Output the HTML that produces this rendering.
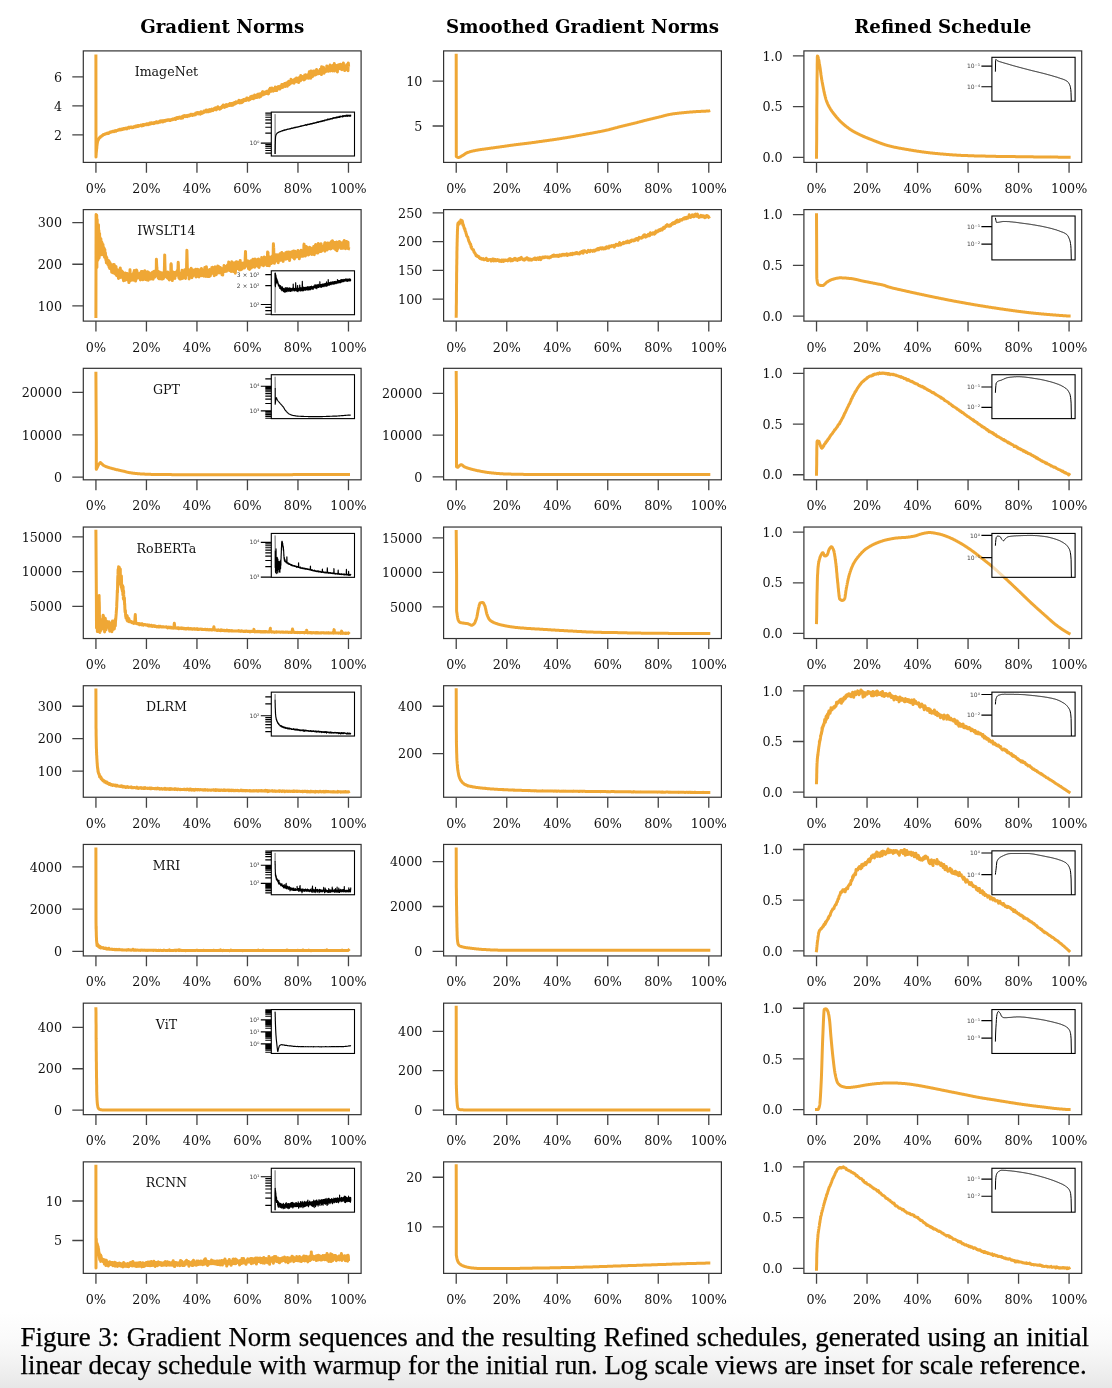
<!DOCTYPE html>
<html><head><meta charset="utf-8"><title>Figure 3</title>
<style>
html,body{margin:0;padding:0;background:#fff;}
body{width:1112px;height:1388px;overflow:hidden;position:relative;}
svg{position:absolute;left:0;top:0;}
.ttl{font-family:"DejaVu Serif",serif;font-weight:bold;font-size:18.2px;text-anchor:middle;fill:#000;}
.xl{font-family:"DejaVu Serif",serif;font-size:12.7px;text-anchor:middle;fill:#111;}
.yl{font-family:"DejaVu Serif",serif;font-size:12.7px;text-anchor:end;fill:#111;}
.nm{font-family:"DejaVu Serif",serif;font-size:12.6px;text-anchor:middle;fill:#111;}
.il{font-family:"DejaVu Sans",sans-serif;font-size:6px;text-anchor:end;fill:#444;}
.cap{position:absolute;left:20.5px;font-family:"Liberation Serif","Times New Roman",serif;font-size:26.9px;line-height:30px;color:#000;white-space:nowrap;-webkit-text-stroke:0.25px #000;}
</style></head><body>
<svg width="1112" height="1388" viewBox="0 0 1112 1388">
<defs><linearGradient id="bg" x1="0" y1="0" x2="0" y2="1"><stop offset="0" stop-color="#fff"/><stop offset="0.37" stop-color="#fafafa"/><stop offset="0.57" stop-color="#f5f5f5"/><stop offset="0.74" stop-color="#f0f0f0"/><stop offset="1" stop-color="#e7e7e7"/></linearGradient></defs>
<rect x="0" y="1312" width="1112" height="76" fill="url(#bg)"/>
<text x="222.20" y="32.7" class="ttl">Gradient Norms</text>
<text x="582.50" y="32.7" class="ttl">Smoothed Gradient Norms</text>
<text x="942.80" y="32.7" class="ttl">Refined Schedule</text>
<g><path d="M95.9 55.9l.1 101.1 0-.6 0-.6 .1-.5 0-.6 .1-.5 0-.6 0-.6 .1-.4 0-.5 .1-.6 0-.4 .1-.5 0-.4 0-.5 .1-.4 .1-.8 .1-.7 0-.3 0-.6 .1-.9 .1-.3 0-.4 .1-.6 0-.3 .1-.4 .1-.5 0-.5 .1-.5 .1-.3 0-.4 .1-.3 .2-.4 .1-.6 .1-.5 .1 .4 .1-.4 .2-.4 .2-.3 .1-.4 .3-.3 .2-.4 .1-.4 .3 0 .3-.4 .3 0 .1-.6 0 .5 .1-.3 .4-.4 .2-.3 .3-.1 .4-.1 .1-.3 .2 .3 .2-.6 .1 .4 .2-.6 .3-.3 .3 .2 .2-.6 .3 .1 .4-.1 .3-.3 .3 .1 .4-.1 .3-.5 .3-.1 .4 .1 .3-.2 .3-.1 .3 .2 .4-.7 .1 .5 .4-.3 .3 .3 .2-.4 .3 .3 .2-.5 .3-.1 .3-.2 .4 0 .3 0 .1-.6 .2 .4 .3-.3 .4 0 .3-.1 .3-.2 .2-.3 .3 .1 .4 .2 .1-.4 .4 .1 .3-.2 .3-.1 .3-.2 .2 .6 .2-.5 .3-.1 .3-.2 .2 .5 .3-.5 .2 .3 .3-.4 .2 .4 .3-.5 .4-.1 .3 0 .3-.3 .3 .2 .2-.4 .3-.2 .4 .2 .3 0 .3-.1 .4-.3 .1-.4 .2 .7 .2-.6 .3 .2 .1 .4 .4-.6 .3 0 .3-.2 .4 .5 .1-.4 .2 .3 .3-.3 .2-.5 .3 .6 .4-.5 .3 .2 .3-.1 .3-.4 .4 .3 .1-.4 .4-.1 .1 .5 .4-.3 .3-.5 .3 .5 .4-.3 .1 .7 .2-.6 .3-.1 .3-.1 .4-.5 .3 .2 .2-.4 .1 .5 .4 .2 .1-.9 .4 .2 .3 .1 .3 .1 .4-.1 .1-.4 .3 .4 .4 .1 .1-.6 .4 .5 .3 .1 .2-.4 .3 .1 .3-.1 .4 .2 .1-.3 .4-.4 .1 .4 .2-.4 .3 .2 .3-.2 .4 .2 .1-.5 .2-.3 .2 .5 .3 0 .2-.3 .1 .4 .4-.6 .1 .5 .2-.5 .3 .3 .4-.6 .1 .5 .3 .1 .2-.3 .2-.5 .3 .5 .3-.2 .4-.1 .3-.3 .3 0 .4 0 .3-.5 .3 .3 .2 .6 .1-.6 .2 .6 .3-.8 .4 .4 .1 .3 .2-.4 .3-.4 .2-.5 .2 .6 .3 .3 .3-.3 .4-.2 .3-.3 .3-.2 .2 .3 .3 0 .3-.1 .4 .2 .1-.6 .4 0 .1-.3 .2 .8 .3-.6 .4 .2 .1-.4 .4 .7 .3-.7 .3 .6 .2-1 .3 0 .2 .4 .3 .2 .2-1.1 .1 .8 .2-.6 .2 .6 .3 .1 .2-.4 .1-.5 .2 .6 .2-.8 .3 .7 .3-.1 .3-.1 .4 0 .3 .2 .2-.4 .1-.3 .2 .8 .2-.5 .3 .3 .2-.6 .1 .4 .2-.7 .2 .7 .1-.6 .4 .3 .1-.4 .3-.3 .4 .5 .1-.3 .4-.5 .1 .5 .4 .4 .1-.9 .2 .5 .2 .3 .1-.5 .4 .4 .3-.4 .3-.4 .3 .1 .2-.4 .2 .4 .1-.4 .2 .4 .3 .3 .2-1.1 .2 .6 .3-.2 .3 0 .2-.7 .2 .9 .3-.1 .3-.6 .4 .5 .3-.2 .1-.6 .2 1.3 .2-1 .1 .5 .2-.7 .2 .6 .1-.4 .2 .4 .3-.9 .4 .3 .3 .4 .2-.5 .3-.1 .3 .2 .2-.4 .3-.4 .3 .4 .4 0 .3 .1 .2-.3 .3-.4 .3 0 .4 .3 .3-.3 .3 0 .4 .6 .1-.4 .2 .3 .3-.4 .2 .6 .1-.8 .4 0 .3 0 .3-.1 .4-.1 .1 .4 .2-.5 .3-.2 .4-.2 .1 .7 .2-.7 .3 0 .3 .4 .4-.7 .3 0 .2 .6 .1-.8 .4-.2 .1 .3 .2 .8 .2-1 .3 1 .2-1.1 .1 .6 .3-.4 .2-.8 .2 .6 .3-.8 .3 .7 .4 .3 .3-.8 .3 0 .4 .3 .1-.4 .2-.4 .3-.2 .4 .6 .1-.4 .2 .5 .1 .4 .2-.8 .2 .3 .3 .5 .2-.6 .3 .1 .2 .5 .1-.7 .2-.6 .3 .4 .2-.3 .2-.4 .1 1.5 .2-1.2 .2-.3 .3-.6 .3 .5 .3-.4 .2 .6 .2-.4 .1-.3 .2-.3 .2 .8 .3-.1 .2-.3 .1 .5 .2-.7 .2 .8 .1-.4 .4-.5 .3 .7 .3-.6 .2 .4 .1 .4 .2-1 .3 .1 .2 .3 .2-.7 .1 .5 .2-.6 .2 .8 .3-.5 .3-.3 .4 .6 .1-.4 .4-.5 .1 .6 .3-.8 .2-.4 .3 .7 .4-.7 .1 .6 .2 .3 .2-.5 .3 .4 .2 .3 .3-1 .2 .6 .1-.3 .4-.1 .1 .3 .2-.3 .1 .5 .2-.3 .3-.7 .2 .4 .3-.1 .4-.5 .1 .9 .4-.6 .1-1.3 .2 .6 .2 .4 .1-.4 .2-.8 .2 1 .3-.5 .3 0 .2 .5 .1-1.2 .4 .5 .3 .9 .2-1.1 .3-.1 .3 .5 .2 .6 .2-1 .1 .6 .4 0 .3 .7 .2-1.7 .1 .3 .2-.5 .1-.5 .2 .8 .2 .8 .3-.3 .2-.3 .1-.3 .2 1 .2-1.1 .1 .8 .2-1 .3 0 .4 .1 .3 .4 .2-.8 .1-.9 .3 .2 .4 .8 .1-1 .2 .7 .3 0 .4 0 .3 .2 .2-.4 .1-1.3 .2 1.1 .3-.3 .4 .7 .1-.5 .2-.5 .2 .3 .3-.7 .1 1.2 .2-.5 .2 .3 .1-1.1 .2 1.6 .2-.7 .3-.8 .3-.5 .2 1.4 .2-1.1 .1 .5 .4-.6 .1 .8 .2 .5 .2-1 .1 .5 .2-.6 .1-.5 .4-.6 .1 .9 .2 .6 .3-.3 .4-.7 .1 .4 .2 .7 .2-1.4 .1 .4 .2-.3 .3-.4 .4-.5 .1 .3 .3-.3 .2 1 .2-.7 .3-.2 .2 .8 .1-1.5 .2 1 .2 .7 .1 .4 .2-.8 .3 .2 .2-.5 .3-.5 .2 .5 .2-.6 .1-.6 .2-.9 .2 1.7 .1-.3 .3-.7 .2 1.1 .3-.5 .2 .5 .3-.2 .2 .9 .2-.4 .1-.7 .4-.1 .1 .8 .2-.8 .2-.8 .3 .4 .2 .4 .1-1 .2 .5 .3 0 .2-1.4 .1 .7 .2-.6 .2 .9 .1-.9 .2 .8 .2-.4 .1-1.5 .2 .9 .2 .6 .3-.4 .2-.5 .1 .9 .2 .8 .2-.8 .3-.3 .2-.8 .1 .5 .3 .8 .2-1.4 .2-.7 .1 .8 .2 .4 .3-1.1 .2 1.8 .2-.6 .1-.4 .4 .3 .1-.5 .4-.2 .3 .5 .2-.6 .1-.7 .2 1.1 .1-.5 .2-.4 .2 .9 .1-.8 .2 .8 .2-1.3 .1-.7 .4 1.5 .1-.7 .2 .5 .3-1.1 .2 1.7 .2-1.6 .1 .6 .2-1 .2 .7 .1 .4 .2-.6 .1-.3 .2 .4 .2-.3 .1 .6 .2 .9 .2-2 .3 .5 .3-.8 .2 .9 .3-.3 .2-.9 .2 1.6 .1-1.6 .2 1.1 .3-1.4 .2 .8 .2 .6 .1-.7 .2-.9 .1-.3 .2 .9 .2-.6 .3 .7 .2-.7 .3 .6 .3-.3 .4 .3 .3-1.3 .2 .5 .1-.6 .2-.4 .2 .4 .1-1.1 .2 2 .1-1 .2 .8 .2-1.5 .3 2.5 .2-.8 .1-.9 .4-.3 .1 .6 .2-.4 .3 .1 .2-.7 .2 2.1 .1-2.1 .2 1.1 .2-1.4 .1 .8 .2 .4 .2-1 .1 .8 .3 .3 .2-1.1 .2-.5 .1-.4 .2 .8 .2-.8 .1 .8 .4-.5 .1-.4 .2 1 .3-.3 .4 .3 .1-1.4 .2 1 .2-.6 .1 .9 .2-1.1 .3 .3 .2-1.7 .1 1.2 .2-1.1 .2 .5 .1 1 .4-.8 .3 0 .3 1.1 .2-1.2 .2 1.6 .1-2 .2 .7 .3-.4 .2-.4 .1 1.4 .4-.7 .1 .7 .2-.8 .2-2 .1 1.9 .2-1.3 .2 1.4 .1-1.2 .2 .3 .3-.6 .2-1 .2 1.1 .3 .8 .2-1.2 .1 .8 .2-.9 .2 .6 .1-1.3 .2 2.7 .1-1.5 .2-1.1 .2 .9 .3-.2 .2 .9 .1-1.2 .2-1.7 .2 1.2 .1 1.7 .4-.5 .1-1.1 .2 1.3 .3-1.6 .4 .7 .1 .4 .3-.7 .2 1.1 .2-2.3 .1 1.1 .2-.9 .2-1 .1 .6 .2 1.6 .2-1.5 .3 1.2 .3-.6 .2 1 .2-2.5 .1 3.1 .2-1 .2-.9 .3-.6 .3 .2 .2-1.2 .1 2.8 .2-1.9 .2 .6 .1-.7 .4 .8 .3-1.6 .3 1 .2-2.3 .2-.5 .1 3.2 .2-1.5 .2-1.8 .1 1.5 .2 .4 .3 .6 .3-.2 .2-1.2 .2 .9 .3 .3 .2-1.1 .1 .7 .2-.6 .2-1 .1 .6 .4-.1 .3 .3 .3-1.1 .2 1.6 .2-2.1 .1 1.1 .2 .7 .3 0 .2-.7 .1 .6 .2-1.9 .2 1.7 .1 1.1 .2-1.5 .2 1.2 .1-1.9 .2-1.3 .2 .3 .1 1.7 .2-.8 .2-2.4 .1 1.3 .4-1 .1-1.2 .2 .9 .2 1 .3-.3 .1 .9 .2 .5 .2-1 .1 .8 .2-.9 .3-2.3 .2 2.7 .2-.6 .3-.9 .2-.5 .1 1.4 .2 .4 .2 .7 .1-.7 .2-1.4 .2 .6 .1 .8 .2-.8 .1-.5 .2-.6 .2 .9 .1-.3 .2 1.4 .2-.7 .1-2.7 .2 3.5 .2-1.6 .1-.5 .2 .6 .2 .5 .1-.8 .4-.1 .1 1.8 .2-1.8 .2 .4 .1-.4 .2-.9 .1-.6 .2-.4 .2 1.4 .1-1.5 .4-.2 .3 1.2 .3-.9 .2 2.1 .2-1.6 .1 .7 .2-.3 .2 1.2 .1-1 .2-.8 .2-1.1 .3 .6 .3 .8 .2-1.4 .1 .6 .2-1 .2-1.2 .1 1.8 .2 1.4 .2-.8 .1 .4 .4-2.8 .1 1.1 .2 1.7 .2-2.3 .1-.7 .2 1.4 .2 .3 .1-.3 .2-.9 .2-.5 .1-.6 .3-.1 .4 .8 .1 2.1 .2-1.3 .2-.5 .1 .8 .2-1.3 .2 1.2 .1 .4 .2-2.8 .2 .7 .3-.6 .3 .3 .2 2.9 .2-1.9 .3 .4 .1-1.3 .2-1.1 .2 1.7 .1 .8 .2-3.5 .2 2.7 .1 .8 .2-1.8 .3 1.2 .2-1.7 .2 1.4 .3-1 .2-.9 .1 1.5 .2-1.4 .2 .3 .1-3.2 .2 3.7 .2-2.2 .1 1.4 .3-.8 .4-.5 .1 1 .2 1 .3-1.6 .4-.9 .1 1 .2-.8 .2-.5 .1 1.4 .2 1.8 .2-.3 .3-3.5 .2 2.5 .1-2.4 .2 .7 .1-1.3 .2 .8 .2 1 .3-.5 .3 .6 .2-.7 .2-2.1 .1 3.7 .2-2.4 .2 1.6 .1-1.2 .2-.9 .2 .9 .1-.9 .2 2.5 .2-3 .1 2 .2-1.5 .2 .5 .1 3.3 .2-2.1 .1-1.2 .2-1.5 .2 1.4 .3 1.8 .2-3.5 .1-.4 .2 2.1 .3 1.6 .2-3 .2-2.4 .1 2.3 .2-1 .2 .8 .1 1.7 .2-3 .2 3 .1-1.2 .2-.6 .1-.8 .2 .5 .3 1.4 .2 .7 .2-1.8 .1 .8 .2 .9 .3-1 .2 1.8 .2-.6 .1 .3 .2-2.2 .2-.3 .1-2.1 .2 4.2 .2-1.1 .1-2.1 .2 1.2 .3-2.5 .2 2.6 .1 .9 .4-1.8 .3 1.7 .2-.5 .1-2 .4 1.3 .1-1.8 .4 2.8 .1-1.7 .2-1 .2 1.1 .1 2 .2-2.5 .2-1.4 .1-1.2 .2 4.8 .1-6.3 .2 4.5 .2-2.6 .3-.1 .2 1.2 .1 1.7 .2-2.3 .2 1.8 .1 2.4 .2-7.3 .2 2.8 .1-1.5 .2 3.2 .2-3.3 .3-.3 .2 1.8 .1 1.7 .2-1.6 .1 2.7 .2-.5 .2-2.5 .1 1.3 .2-1 .3-2.8 .2 .9 .2 1.7 .1-1.7 .2 2.8 .2-.8 .1-1.7 .2 2.9 .2-1.5 .1 1.4 .2-2.1 .2-2.1 .1 3.1 .2-1.3 .2 1.5 .3 .2 .1-3.6 .2-1.3 .2 2.5 .1 1.7 .2-1.8 .2 1.1 .1-1.6 .2 .7 .3-.8 .2 1.5 .2-.4 .1 1.5 .2-1.6 .2 1.2 .1-1.6 .2 1 .2-1.6 .1-.4 .2 2.7 .1-.8 .4-2.2 .1-1.2 .2 1.3 .2 1.6 .1-2.7 .2 4 .2-4.4 .1 2.9 .2 2.6 .2-7.9 .1 1.4 .2 3.8 .2-1.4 .1 .5 .2-.3 .2 2 .1-.7 .2-1.8 .1 .4 .2-1.6 .2 1.6 .1-3.4 .2 4.4 .2-1.3 .1 3 .2-.7 .2-3.9 .1 3.2 .2-2.4 .2 .7 .1 1.2 .2-.9 .2 .3 .3-1.9 .3 1.9 .2 .6 .2-1.7 .1 .5 .2-1.8 .1-2.5 .2 2.6 .2 1.3 .3 1.3 .3 .1 .2-1 .3-1.6 .2 1.7 .3 .9 .2-4.4 .2 1.5 .1-1.8 .2 1.4 .2-1.1 .1 2.5 .2-1.4 .1-2.8 .2 5.9 .2-3.4 .1-.9 .2 1.7 .2-.5 .1-.9 .2 2.8 .2-1.8 .1 1.9 .2-.4 .3-.8 .2-.4 .2-.3 .1 3 .2-5.4 .2 1.2 .1 .6 .2 1.7 .1-.5 .2-1.2 .3 3.1 .2-3.7 .2-3.4 .1 7.7 .2-4.5 .2 .9 .1 .9 .2-2.5 .2 4 .1-2.1 .2-2.1 .2 2.6 .1 .3 .2-.7 .2 .6 .1-3.1 .2 3.9 .2-2.9 .1 3.5 .2-3.2 .1 1.4 .2 3.8 .2-4 .1 1.6 .2-1 .2-3.4 .1 4.1 .4-4.3 .1 2.1 .2-2.3 .2 2.1 .1 1.7 .2-1.2 .2-2.1 .1 .6 .2 1.7 .3 0 .2 .8 .1-4.1 .2 2.9 .2 1.9 .1-1.3 .2-2.2 .3 1.4 .2 .9 .2-1.1 .1 3 .2-.8 .2-3.5 .1 2.1 .2-1.5 .2-1.4 .1 .8 .2 1.1 .2-3.4 .1 2.5 .2 1.8 .2-1.6 .1 .5 .2 2.1 .1-1.2 .2 .5 .2 2.9 .1-3.1 .4 .2 .1 2.1 .2-2 .2-.7 .3 1.8 .2-3.1 .1 3 .2-1.4 .2-2.6 .1 3.3 .2-.4 .2-2.5 .1 2.5 .3-1 .2-1.5 .2 5.5 .1-4.8 .2-2.9 .2 2.2" fill="none" stroke="#efa735" stroke-width="3" stroke-linejoin="round" stroke-linecap="square"/>
<rect x="271.30" y="112.10" width="83.2" height="43.9" fill="#fff" fill-opacity="0.62"/>
<path d="M275.08 114.10L275.09 154.00" stroke="#555" stroke-width="0.9" fill="none"/>
<path d="M275.1 154.0l0-1.2 0-1 0-1 0-.9 .1-.8 0-.9 0-.9 0-.5 0-.6 0-.7 0-.5 0-.6 .1-.4 0-.5 0-.4 0-.7 0-.3 0-.4 0-.3 .1-.5 0-.3 0-.5 0-.2 0-.3 0-.5 0-.2 .1-.4 0-.2 0-.4 0-.4 .1-.4 0-.3 0-.4 .1-.4 .1-.4 .1-.3 .1-.3 .1-.3 .2-.3 .1-.3 .2-.2 .2-.3 .3-.4 .3-.2 .3-.1 .2-.3 .3-.1 .3-.3 .3 .1 .3-.1 .3-.4 .3-.1 .3-.1 .3-.1 .3 .1 .1-.3 .3 .1 .3-.3 .3-.1 .3-.1 .3-.2 .3 .1 .3-.3 .2 .3 .1-.5 .1 .3 .3-.2 .3-.1 .3-.2 .3 .3 0-.3 .3-.2 .3 .2 .1-.4 .3 .2 .3 0 .2 0 .3-.2 .3-.2 .3 .1 .1-.3 .3 .2 .3-.1 .3-.3 .3 .1 .3-.1 .3-.1 .3 .2 .2-.3 .3 0 .3-.2 .3 .1 .2-.3 0 .3 .3-.3 .1 .2 .1-.2 .3 0 .1-.3 .1 .3 .3-.4 .3 .2 .3 0 .1-.2 0 .3 .2-.3 .3 0 .3-.2 .3-.1 .1 .3 .1-.3 .3 0 .3 0 .1-.3 .3-.1 0 .3 .3-.1 .2-.3 0 .5 .1-.3 .3 0 0-.2 .3 0 .3-.2 .3 .2 .3-.2 .3 0 .3 .2 .1-.3 .3 0 .3-.1 .3-.1 .3-.1 .3 .2 0-.3 .1 .3 0-.3 .3-.1 .3 0 .3-.2 .3-.1 .1 .3 .1-.3 .1 .3 .3-.4 .3 .4 0-.4 .2-.3 .3 .1 .3 0 .3-.1 .3 .2 0-.3 .3-.1 .3 0 .3 .1 .1-.3 .3 .2 .3-.2 .3 0 .3 0 .3-.1 0-.4 .1 .3 .1-.3 .1 .3 .3-.3 .2 .3 0-.3 .3 .3 0-.3 .3 .4 0-.5 .3 .2 .3 0 .1-.3 .3 .2 .1-.5 .2 .3 0-.3 .3 .1 .1-.3 .1 .3 .3-.2 .3 .2 0-.3 .1 .4 .1-.4 .2 .3 0-.3 .3 .3 0-.3 .3-.3 .1 .4 .2-.3 .1 .3 0-.4 .3-.2 .2 .3 .3-.4 0 .2 .1 .3 .2-.3 .3-.3 .3 .3 .3 .1 .1-.2 .2-.3 .3 .1 .1-.4 .3 .2 0-.4 .1 .4 .3 0 .2-.3 .1 .3 .1-.3 .3 .3 .1-.3 .3 0 .1-.3 .1 .3 .3-.3 .3 .1 .2-.3 .1 .2 .3 .2 .1-.5 .3 .2 .1-.3 0 .4 .1-.4 0 .3 .1-.4 .1 .3 .1-.3 .3 0 .3 .1 .1-.3 .2-.3 .1 .5 .1-.4 .1 .6 .1-.4 .3 0 .1 .3 .1-.5 0 .3 .1-.4 .1 .3 .3-.3 .3 0 .3 .1 0-.3 .2 .3 .1-.3 .1-.3 0 .3 .3-.1 .3 .3 0-.4 .3 .3 .2-.6 0 .4 .1-.3 0 .3 .1-.3 .2-.2 .1 .4 .1-.3 .2 .4 .1-.3 .3-.2 0-.3 .1 .2 0 .4 .2-.3 0 .2 .1-.3 .2 .2 .2-.4 0 .3 .1-.4 .1 .4 .1-.3 .1 .3 .2-.5 0 .7 .1-.4 .3-.4 0 .6 .1-.4 .3-.2 .1-.2 .1 .5 .1-.3 0-.4 .1 .4 .3-.1 .2 0 .3 0 .2-.4 .1 .4 .3-.4 0 .3 .3-.4 .1 .4 .1-.7 0 .3 .2-.4 .1 .3 .3 .2 .1-.6 .1 .5 .1-.3 .2 .3 .1-.3 .1 .3 .2-.4 .1 .4 .1-.7 .1 .7 0-.3 .3-.1 .1 .4 0-.4 .2-.3 .3-.1 .1 .2 .2 0 .2-.3 .2 .3 .1-.3 .1-.3 .1 .4 0 .2 .2-.6 .1 .5 .1-.4 .3-.1 .3 .4 .1-.3 .2-.3 .3 .6 .1-.4 .2-.3 0 .3 .1-.5 .1 .5 .2-.3 .1 .3 .1-.4 .1 .3 0-.3 .1-.5 .1 .7 0-.4 .1 .2 .2-.2 .1 .3 .1-.2 .3 0 0 .3 .2-.7 0 .5 0-.4 .3 .1 .2-.4 .1 .6 0-.4 .1 .3 .1-.4 .1 .5 .1-.5 0 .3 .1-.3 .1 .7 0-.4 .1-.4 .2 .5 0-.6 .1 .3 .1 .3 .1-.5 0-.4 .1 .3 .1 .3 .1-.5 0 .5 .1-.3 .3 .3 0-.3 .1 .3 .3-.3 .1-.4 .1 .7 .1-.5 .2 .3 .1-.3 .1 .3 .1-.4 .3 .4 0-.3 .2 .4 0-.5 .1-.4 .1 .8 0-1 0 .7 .1-.4 .2 .4 0-.3 .1 .3 0 .4 .1-1.2 0 .4 .1 .3 .1-.5 .2 .5 0-.3 .1 .5 .1-.5 .2-.4 .1 .4 0-.3 .1 .5 .1-.4 0 .4 .2-.3 0-.4 .1 .5 .2-.5 .2 .5 0-.3 .3 .1 .3 .1 .1-.3 .1 .4 .1-.5 .2 .3 0-.5 .1 .7 0-.7 .1 .4 0 .5 .1-1.3 .1 .8 .3-.3 .2-.4 0 .7 .1 .2 .1-.7 0 .5 .1-.4 .1 .3 .2-.4 .1 .3 .2-.3 0-.4 .1 .4 .1 .4 .3-.4 0 .3 .2-.6 .2 .4 .1-.6 .1 .9 0-.6 .3 .4 0-.3 .1 .3 .2-.3 .1 .5 0-.8 .1 .2 .1 .3 .1-.3 .1 .5 0-.6 .1-.5 0 1.2 .1-.7 .1 .3 0-.4 .1 .6 0-.3 .1-.3 0 .4 .2-.5 .1 .6 0-.4 .1 .5 0-.5 .1 .8 .1-.6 .1-.4 .1 .6 .1-.7 0 .4 .1-.4 0 .3 0 .3 .1-.5 .1 .3 .2-.4 .1 .4 0 .3 .1-.6 .2 .4 .1 .3 .1-.7 0 .3 .1-.4 .1 .3 .1-.5 0 .4 .1 .2 .3 .5 0-.5 .2 .4 0-.3 .2-.3 .1 .4 .1-.6 0 .5 .1-.4 .1 .4 .1-.4 .1 .8 0-.7 .1-.4 0 .3" fill="none" stroke="#000" stroke-width="1.15" stroke-linejoin="round"/>
<text x="259.50" y="145.21" class="il">10⁰</text>
<path d="M265.30 153.13H271.30M265.30 150.49H271.30M265.30 148.26H271.30M265.30 146.33H271.30M265.30 144.63H271.30M260.80 143.11H271.30M265.30 133.09H271.30M265.30 127.23H271.30M265.30 123.07H271.30M265.30 119.84H271.30M265.30 117.21H271.30M265.30 114.98H271.30M265.30 113.05H271.30" stroke="#000" stroke-width="1.15"/>
<rect x="271.30" y="112.10" width="83.2" height="43.9" fill="none" stroke="#000" stroke-width="1.1"/>
<text x="166.44" y="76.40" class="nm">ImageNet</text>
<rect x="83.30" y="50.90" width="277.8" height="111.5" fill="none" stroke="#333" stroke-width="1.2"/>
<text x="95.93" y="192.80" class="xl">0%</text>
<text x="146.44" y="192.80" class="xl">20%</text>
<text x="196.95" y="192.80" class="xl">40%</text>
<text x="247.45" y="192.80" class="xl">60%</text>
<text x="297.96" y="192.80" class="xl">80%</text>
<text x="348.47" y="192.80" class="xl">100%</text>
<text x="62.00" y="139.50" class="yl">2</text>
<text x="62.00" y="110.50" class="yl">4</text>
<text x="62.00" y="81.50" class="yl">6</text>
<path d="M95.93 162.40V172.80M146.44 162.40V172.80M196.95 162.40V172.80M247.45 162.40V172.80M297.96 162.40V172.80M348.47 162.40V172.80M72.30 134.80H83.30M72.30 105.80H83.30M72.30 76.80H83.30" stroke="#444" stroke-width="1.3"/></g>
<g><path d="M456.2 55.2l.1 101.3 .3 .2 .3 .3 .4 .2 .3 .1 .3 .1 .4 .1 .3 0 .3-.1 .4-.1 .3-.1 .4-.2 .3-.1 .3-.2 .4-.2 .3-.3 .4-.2 .4-.2 .4-.3 .5-.2 .4-.3 .4-.2 .4-.3 .4-.3 .4-.3 .4-.2 .4-.3 .5-.2 .4-.3 .4-.2 .4-.1 .4-.2 .4-.1 .4-.2 .5-.1 .4-.1 .4-.2 .4-.1 .4-.1 .4-.1 .4-.1 .4-.1 .5-.1 .4-.1 .4-.1 .4-.1 .4-.1 .4 0 .4-.1 .4-.1 .5-.1 .4-.1 .4 0 .4-.1 .4-.1 .4-.1 .4 0 .5-.1 .4-.1 .4 0 .4-.1 .4-.1 .4 0 .4-.1 .4 0 .5-.1 .4-.1 .4 0 .4-.1 .4 0 .4-.1 .4 0 .5-.1 .4-.1 .4 0 .4-.1 .4 0 .4-.1 .4 0 .4-.1 .5 0 .4-.1 .4-.1 .4 0 .4-.1 .4 0 .4-.1 .4-.1 .5 0 .4-.1 .4 0 .4-.1 .4 0 .4-.1 .4-.1 .5 0 .4-.1 .4 0 .4-.1 .4-.1 .4 0 .4-.1 .4 0 .5-.1 .4 0 .4-.1 .4-.1 .4 0 .4-.1 .4 0 .5-.1 .4 0 .4-.1 .4-.1 .4 0 .4-.1 .4 0 .4-.1 .5 0 .4-.1 .4-.1 .4 0 .4-.1 .4 0 .4-.1 .4-.1 .5 0 .4-.1 .4 0 .4-.1 .4-.1 .4 0 .4-.1 .5 0 .4-.1 .4-.1 .4 0 .4-.1 .4 0 .4-.1 .4 0 .5-.1 .4-.1 .4 0 .4-.1 .4 0 .4-.1 .4 0 .5-.1 .4 0 .4-.1 .4 0 .4-.1 .4 0 .4-.1 .4 0 .5-.1 .4 0 .4-.1 .4 0 .4-.1 .4 0 .4-.1 .4 0 .5-.1 .4 0 .4-.1 .4 0 .4-.1 .4 0 .4-.1 .5 0 .4-.1 .4 0 .4-.1 .4 0 .4-.1 .4 0 .4-.1 .5 0 .4-.1 .4 0 .4-.1 .4 0 .4-.1 .4 0 .4-.1 .5-.1 .4 0 .4-.1 .4 0 .4-.1 .4 0 .4-.1 .5-.1 .4 0 .4-.1 .4 0 .4-.1 .4-.1 .4 0 .4-.1 .5 0 .4-.1 .4-.1 .4 0 .4-.1 .4 0 .4-.1 .5 0 .4-.1 .4-.1 .4 0 .4-.1 .4 0 .4-.1 .4-.1 .5 0 .4-.1 .4 0 .4-.1 .4 0 .4-.1 .4-.1 .4 0 .5-.1 .4 0 .4-.1 .4 0 .4-.1 .4-.1 .4 0 .5-.1 .4 0 .4-.1 .4 0 .4-.1 .4-.1 .4 0 .4-.1 .5 0 .4-.1 .4-.1 .4 0 .4-.1 .4 0 .4-.1 .5-.1 .4 0 .4-.1 .4-.1 .4 0 .4-.1 .4-.1 .4 0 .5-.1 .4-.1 .4 0 .4-.1 .4-.1 .4 0 .4-.1 .4-.1 .5 0 .4-.1 .4-.1 .4 0 .4-.1 .4-.1 .4 0 .5-.1 .4-.1 .4 0 .4-.1 .4-.1 .4 0 .4-.1 .4-.1 .5-.1 .4 0 .4-.1 .4-.1 .4-.1 .4 0 .4-.1 .5-.1 .4 0 .4-.1 .4-.1 .4-.1 .4 0 .4-.1 .4-.1 .5-.1 .4-.1 .4 0 .4-.1 .4-.1 .4-.1 .4 0 .4-.1 .5-.1 .4-.1 .4 0 .4-.1 .4-.1 .4-.1 .4 0 .5-.1 .4-.1 .4-.1 .4 0 .4-.1 .4-.1 .4 0 .4-.1 .5-.1 .4-.1 .4 0 .4-.1 .4-.1 .4-.1 .4 0 .4-.1 .5-.1 .4-.1 .4 0 .4-.1 .4-.1 .4-.1 .4 0 .5-.1 .4-.1 .4-.1 .4 0 .4-.1 .4-.1 .4-.1 .4 0 .5-.1 .4-.1 .4-.1 .4-.1 .4 0 .4-.1 .4-.1 .5-.1 .4-.1 .4 0 .4-.1 .4-.1 .4-.1 .4-.1 .4 0 .5-.1 .4-.1 .4-.1 .4-.1 .4-.1 .4 0 .4-.1 .4-.1 .5-.1 .4-.1 .4-.1 .4-.1 .4-.1 .4-.1 .4 0 .5-.1 .4-.1 .4-.1 .4-.1 .4-.1 .4-.1 .4-.2 .4-.1 .5-.1 .4-.1 .4-.1 .4-.1 .4-.1 .4-.1 .4-.1 .5-.1 .4-.2 .4-.1 .4-.1 .4-.1 .4-.1 .4-.1 .4-.1 .5-.1 .4-.1 .4-.2 .4-.1 .4-.1 .4-.1 .4-.1 .4-.1 .5-.1 .4-.1 .4-.1 .4-.1 .4-.1 .4-.1 .4-.1 .5-.1 .4-.1 .4-.1 .4-.1 .4-.1 .4-.1 .4-.1 .4-.1 .5-.1 .4-.1 .4-.1 .4-.1 .4-.1 .4-.1 .4-.1 .5-.1 .4-.1 .4-.1 .4-.1 .4-.1 .4-.1 .4-.1 .4-.1 .5-.1 .4-.1 .4-.1 .4-.1 .4-.1 .4-.1 .4-.1 .4-.1 .5-.1 .4-.1 .4-.1 .4-.1 .4-.1 .4-.2 .4-.1 .5-.1 .4-.1 .4-.1 .4-.1 .4-.1 .4-.1 .4-.1 .4-.1 .5-.1 .4-.1 .4-.2 .4-.1 .4-.1 .4-.1 .4-.1 .4-.1 .5-.1 .4-.1 .4-.1 .4-.1 .4-.1 .4-.1 .4-.1 .5-.1 .4-.1 .4-.1 .4-.1 .4-.1 .4-.1 .4-.1 .4-.1 .5-.1 .4-.1 .4-.1 .4-.1 .4-.1 .4-.1 .4-.1 .5-.1 .4-.1 .4-.1 .4-.1 .4-.1 .4-.1 .4-.1 .4-.1 .5-.1 .4-.1 .4-.1 .4-.1 .4-.1 .4-.1 .4-.1 .4-.1 .5-.1 .4-.1 .4-.1 .4-.1 .4-.1 .4-.1 .4-.2 .5-.1 .4-.1 .4-.1 .4-.1 .4-.1 .4-.1 .4-.1 .4-.1 .5-.1 .4-.1 .4-.1 .4-.1 .4-.1 .4 0 .4-.1 .5-.1 .4-.1 .4 0 .4-.1 .4-.1 .4 0 .4-.1 .4-.1 .5 0 .4-.1 .4 0 .4-.1 .4 0 .4-.1 .4 0 .4-.1 .5 0 .4-.1 .4 0 .4-.1 .4 0 .4-.1 .4 0 .5-.1 .4 0 .4-.1 .4 0 .4 0 .4-.1 .4 0 .4-.1 .5 0 .4 0 .4-.1 .4 0 .4-.1 .4 0 .4 0 .5-.1 .4 0 .4-.1 .4 0 .4 0 .4-.1 .4 0 .4 0 .5-.1 .4 0 .4 0 .4-.1 .4 0 .4 0 .4-.1 .4 0 .5 0 .4-.1 .4 0 .4 0 .4-.1 .4 0 .4 0 .5 0 .4-.1 .4 0 .4 0 .4 0 .4-.1 .4 0 .4 0 .5 0 .4-.1 .4 0 .4 0 .4 0 .4 0 .4-.1 .4 0 .5 0 .4 0 .4 0 .4-.1 .4 0 .4 0 .4 0 .5 0 .4 0 .4-.1 .4 0 .4 0 .4 0 .4 0 .4 0 .5 0 .4-.1" fill="none" stroke="#efa735" stroke-width="3" stroke-linejoin="round" stroke-linecap="square"/>
<rect x="443.60" y="50.90" width="277.8" height="111.5" fill="none" stroke="#333" stroke-width="1.2"/>
<text x="456.23" y="192.80" class="xl">0%</text>
<text x="506.74" y="192.80" class="xl">20%</text>
<text x="557.25" y="192.80" class="xl">40%</text>
<text x="607.75" y="192.80" class="xl">60%</text>
<text x="658.26" y="192.80" class="xl">80%</text>
<text x="708.77" y="192.80" class="xl">100%</text>
<text x="422.30" y="130.69" class="yl">5</text>
<text x="422.30" y="85.89" class="yl">10</text>
<path d="M456.23 162.40V172.80M506.74 162.40V172.80M557.25 162.40V172.80M607.75 162.40V172.80M658.26 162.40V172.80M708.77 162.40V172.80M432.60 125.99H443.60M432.60 81.19H443.60" stroke="#444" stroke-width="1.3"/></g>
<g><path d="M816.5 157.3l.1-9.2 .1-9.6 0-9.6 .1-9.6 0-9.5 .1-9.1 .1-8.7 0-8.1 .1-7.4 .1-6.4 0-5.4 .1-4.2 0-3 .1-1.4 .3 .1 .2 .4 .1 .4 .2 .5 .1 .5 .1 .5 .1 .6 .1 .4 .1 .3 0 .3 .1 .4 .1 .3 0 .4 .1 .3 .1 .4 0 .4 .1 .3 0 .4 .1 .4 .1 .3 0 .4 .1 .4 .1 .3 0 .4 .1 .4 0 .3 .1 .3 .1 .4 0 .4 .1 .4 .1 .4 0 .4 .1 .4 .1 .5 0 .5 .1 .4 0 .5 .1 .5 .1 .5 0 .4 .1 .5 .1 .5 0 .5 .1 .5 0 .5 .1 .5 .1 .4 0 .5 .1 .4 .1 .5 0 .4 .1 .4 .1 .4 0 .4 .1 .4 0 .3 .1 .4 .1 .3 0 .4 .1 .3 .1 .4 0 .3 .1 .4 0 .3 .1 .4 .1 .3 0 .4 .1 .3 .1 .3 0 .4 .1 .3 .1 .4 0 .3 .1 .3 0 .4 .1 .3 .1 .3 0 .4 .1 .3 .1 .3 0 .3 .1 .3 0 .4 .1 .3 .1 .3 0 .3 .1 .3 .1 .3 0 .3 .1 .4 .1 .3 0 .3 .1 .6 .2 .5 .1 .6 .1 .6 .1 .5 .2 .6 .1 .5 .1 .6 .2 .5 .1 .5 .1 .5 .1 .4 .2 .5 .1 .5 .1 .4 .1 .4 .2 .5 .1 .4 .1 .3 .1 .4 .2 .4 .1 .3 .1 .3 .1 .3 .2 .3 .2 .5 .1 .4 .2 .5 .2 .4 .2 .4 .2 .4 .2 .4 .2 .4 .2 .3 .2 .4 .2 .4 .4 .7 .4 .7 .4 .7 .4 .6 .4 .6 .4 .6 .4 .6 .4 .5 .4 .6 .4 .5 .4 .5 .4 .5 .4 .5 .4 .5 .4 .5 .4 .5 .4 .5 .4 .5 .4 .5 .4 .4 .4 .5 .4 .4 .4 .5 .4 .4 .4 .4 .4 .4 .4 .5 .4 .4 .4 .4 .4 .3 .4 .4 .4 .4 .4 .4 .4 .3 .4 .4 .4 .3 .4 .4 .4 .3 .4 .3 .4 .4 .4 .3 .4 .3 .4 .3 .4 .3 .4 .3 .4 .3 .4 .3 .4 .3 .4 .3 .4 .3 .4 .3 .4 .3 .4 .2 .4 .3 .4 .2 .4 .3 .4 .3 .4 .2 .4 .2 .4 .3 .4 .2 .4 .2 .4 .3 .4 .2 .4 .2 .4 .2 .4 .2 .4 .2 .4 .2 .4 .2 .4 .2 .4 .2 .4 .2 .4 .2 .4 .2 .4 .2 .4 .2 .4 .2 .4 .2 .4 .2 .4 .1 .4 .2 .4 .2 .4 .2 .4 .2 .4 .1 .4 .2 .4 .2 .4 .1 .4 .2 .4 .2 .4 .2 .4 .1 .4 .2 .4 .1 .4 .2 .4 .2 .4 .1 .4 .2 .4 .2 .4 .1 .4 .2 .4 .1 .4 .2 .4 .1 .4 .2 .4 .2 .4 .1 .4 .2 .4 .1 .4 .2 .4 .2 .4 .1 .4 .2 .4 .1 .4 .2 .4 .1 .4 .2 .4 .2 .4 .1 .4 .2 .4 .1 .4 .2 .4 .1 .4 .2 .4 .1 .4 .2 .4 .1 .4 .2 .4 .1 .4 .2 .4 .1 .4 .1 .4 .2 .4 .1 .4 .2 .4 .1 .4 .1 .4 .2 .4 .1 .4 .1 .4 .1 .4 .2 .4 .1 .4 .1 .4 .1 .4 .1 .4 .1 .4 .1 .4 .1 .4 .1 .4 .1 .4 .1 .4 .1 .4 .1 .4 .1 .4 .1 .4 .1 .4 .1 .4 .1 .4 .1 .4 .1 .4 .1 .4 0 .4 .1 .4 .1 .4 .1 .4 .1 .4 0 .4 .1 .4 .1 .4 .1 .4 .1 .4 0 .4 .1 .4 .1 .4 .1 .4 0 .4 .1 .5 .1 .4 0 .4 .1 .4 .1 .4 .1 .4 0 .4 .1 .4 .1 .4 0 .4 .1 .4 .1 .4 0 .4 .1 .4 .1 .4 0 .4 .1 .4 .1 .4 0 .4 .1 .4 .1 .4 .1 .4 0 .4 .1 .4 .1 .4 0 .4 .1 .4 .1 .4 0 .4 .1 .4 .1 .4 0 .4 .1 .4 .1 .4 0 .4 .1 .4 0 .4 .1 .4 .1 .4 0 .4 .1 .4 .1 .4 0 .4 .1 .4 0 .4 .1 .4 .1 .4 0 .4 .1 .4 0 .4 .1 .4 .1 .4 0 .4 .1 .4 0 .4 .1 .4 0 .4 .1 .4 0 .4 .1 .4 0 .4 .1 .4 0 .4 .1 .4 0 .4 .1 .4 0 .4 .1 .4 0 .4 .1 .4 0 .4 .1 .4 0 .4 .1 .4 0 .4 0 .4 .1 .4 0 .4 .1 .4 0 .4 .1 .4 0 .4 0 .4 .1 .4 0 .4 .1 .4 0 .4 .1 .4 0 .4 0 .4 .1 .4 0 .4 0 .4 .1 .4 0 .4 .1 .4 0 .4 0 .4 .1 .4 0 .4 0 .4 .1 .4 0 .4 0 .4 .1 .4 0 .4 0 .4 .1 .4 0 .4 0 .4 .1 .4 0 .4 0 .4 .1 .4 0 .4 0 .4 .1 .4 0 .4 0 .4 .1 .4 0 .4 0 .4 .1 .4 0 .4 0 .4 0 .4 .1 .4 0 .4 0 .4 .1 .4 0 .4 0 .4 0 .4 .1 .4 0 .4 0 .4 .1 .4 0 .4 0 .4 0 .4 .1 .4 0 .4 0 .4 0 .4 0 .4 .1 .4 0 .4 0 .4 0 .4 0 .4 .1 .4 0 .4 0 .4 0 .4 0 .4 .1 .4 0 .4 0 .4 0 .4 0 .4 0 .4 .1 .4 0 .4 0 .4 0 .4 0 .4 0 .4 0 .4 .1 .4 0 .4 0 .4 0 .4 0 .4 0 .4 0 .4 .1 .4 0 .4 0 .4 0 .4 0 .4 0 .4 0 .4 0 .4 .1 .4 0 .4 0 .4 0 .4 0 .4 0 .5 0 .4 0 .4 0 .4 .1 .4 0 .4 0 .4 0 .4 0 .4 0 .4 0 .4 0 .4 0 .4 0 .4 .1 .4 0 .4 0 .4 0 .4 0 .4 0 .4 0 .4 0 .4 0 .4 0 .4 .1 .4 0 .4 0 .4 0 .4 0 .4 0 .4 0 .4 0 .4 0 .4 0 .4 0 .4 0 .4 .1 .4 0 .4 0 .4 0 .4 0 .4 0 .4 0 .4 0 .4 0 .4 0 .4 0 .4 0 .4 0 .4 .1 .4 0 .4 0 .4 0 .4 0 .4 0 .4 0 .4 0 .4 0 .4 0 .4 0 .4 0 .4 0 .4 0 .4 .1 .4 0 .4 0 .4 0 .4 0 .4 0 .4 0 .4 0 .4 0 .4 0 .4 0 .4 0 .4 0 .4 0 .4 0 .4 0 .4 0 .4 .1 .4 0 .4 0 .4 0 .4 0 .4 0 .4 0 .4 0 .4 0 .4 0 .4 0 .4 0 .4 0 .4 0 .4 0 .4 0 .4 0 .4 0 .4 0 .4 .1 .4 0 .4 0 .4 0 .4 0 .4 0 .4 0 .4 0 .4 0 .4 0 .4 0 .4 0 .4 0 .4 0 .4 0 .4 0 .4 0 .4 0 .4 0 .4 0 .4 0 .4 0 .4 0 .4 .1 .4 0 .4 0 .4 0 .4 0 .4 0 .4 0 .4 0 .4 0 .4 0 .4 0 .4 0 .4 0 .4 0 .4 0 .4 0 .4 0 .4 0 .4 0 .4 0 .4 0 .4 .1 .4 0 .4 0 .4 0 .4 0 .4 0 .4 0 .4 0 .4 0 .4 0 .4 0 .4 0 .4 0 .4 0 .4 0 .4 0 .4 0 .4 0 .4 0 .4 0 .4 0 .4 0 .4 .1 .4 0 .4 0 .4 0 .4 0 .4 0 .4 0 .4 0 .4 0 .4 0 .4 0 .4 0 .4 0 .4 0 .4 0 .4 0 .4 0 .4 0 .4 0 .4 0 .4 0 .4 .1 .4 0 .4 0 .4 0 .5 0 .4 0 .4 0 .4 0 .4 0 .4 0 .4 0 .4 0 .4 0 .4 0 .4 0 .4 0 .4 0 .4 0 .4 0 .4 .1 .4 0 .4 0 .4 0 .4 0 .4 0 .4 0 .4 0 .4 0 .4 0 .4 0 .4 0 .4 0 .4 0 .4 0 .4 0 .4 .1 .4 0 .4 0 .4 0 .4 0 .4 0 .4 0 .4 0 .4 0 .4 0 .4 0 .4 0" fill="none" stroke="#efa735" stroke-width="3" stroke-linejoin="round" stroke-linecap="square"/>
<rect x="991.90" y="57.30" width="83.2" height="43.9" fill="#fff" fill-opacity="0.62"/>
<path d="M995.4 71.7l.2-11.2 .3-1.1 .3 .2 .2 .3 .3 .3 .2 .2 .3 .2 .2 .1 .3 .2 .2 .1 .3 .1 .2 .1 .3 .1 .2 .1 .3 .1 .3 .1 .2 .1 .3 .1 .2 0 .3 .1 .2 .1 .3 .1 .2 0 .3 .1 .2 .1 .3 .1 .2 0 .3 .1 .3 .1 .2 0 .3 .1 .2 .1 .3 .1 .2 0 .3 .1 .2 .1 .3 .1 .2 0 .3 .1 .2 .1 .3 .1 .3 .1 .2 0 .3 .1 .2 .1 .3 .1 .2 0 .3 .1 .2 .1 .3 .1 .2 0 .3 .1 .2 .1 .3 .1 .3 0 .2 .1 .3 .1 .2 .1 .3 0 .2 .1 .3 .1 .2 0 .3 .1 .2 .1 .3 .1 .2 0 .3 .1 .3 .1 .2 0 .3 .1 .2 .1 .3 .1 .2 0 .3 .1 .2 .1 .3 0 .2 .1 .3 .1 .2 .1 .3 0 .3 .1 .2 .1 .3 0 .2 .1 .3 .1 .2 0 .3 .1 .2 .1 .3 0 .2 .1 .3 .1 .2 0 .3 .1 .2 .1 .3 .1 .3 0 .2 .1 .3 .1 .2 0 .3 .1 .2 .1 .3 0 .2 .1 .3 .1 .2 0 .3 .1 .2 .1 .3 0 .3 .1 .2 .1 .3 0 .2 .1 .3 .1 .2 0 .3 .1 .2 .1 .3 0 .2 .1 .3 .1 .2 0 .3 .1 .3 .1 .2 0 .3 .1 .2 .1 .3 0 .2 .1 .3 .1 .2 0 .3 .1 .2 .1 .3 0 .2 .1 .3 .1 .3 0 .2 .1 .3 0 .2 .1 .3 .1 .2 0 .3 .1 .2 .1 .3 0 .2 .1 .3 .1 .2 0 .3 .1 .3 0 .2 .1 .3 .1 .2 0 .3 .1 .2 0 .3 .1 .2 .1 .3 0 .2 .1 .3 .1 .2 0 .3 .1 .3 0 .2 .1 .3 .1 .2 0 .3 .1 .2 .1 .3 0 .2 .1 .3 0 .2 .1 .3 .1 .2 0 .3 .1 .3 .1 .2 0 .3 .1 .2 0 .3 .1 .2 .1 .3 0 .2 .1 .3 .1 .2 0 .3 .1 .2 0 .3 .1 .3 .1 .2 0 .3 .1 .2 .1 .3 0 .2 .1 .3 .1 .2 0 .3 .1 .2 .1 .3 0 .2 .1 .3 .1 .2 0 .3 .1 .3 .1 .2 0 .3 .1 .2 .1 .3 .1 .2 0 .3 .1 .2 .1 .3 0 .2 .1 .3 .1 .2 0 .3 .1 .3 .1 .2 .1 .3 0 .2 .1 .3 .1 .2 0 .3 .1 .2 .1 .3 .1 .2 0 .3 .1 .2 .1 .3 0 .3 .1 .2 .1 .3 .1 .2 0 .3 .1 .2 .1 .3 .1 .2 0 .3 .1 .2 .1 .3 .1 .2 0 .3 .1 .3 .1 .2 .1 .3 .1 .2 0 .3 .1 .2 .1 .3 .1 .2 .1 .3 .1 .2 .1 .3 0 .2 .1 .3 .1 .3 .1 .2 .1 .3 .1 .2 .1 .3 .1 .2 0 .3 .1 .2 .1 .3 .1 .2 .1 .3 0 .2 .1 .3 .1 .3 .1 .2 .1 .3 .1 .2 .1 .3 .1 .2 .1 .3 .1 .2 .1 .3 .1 .2 .2 .3 .1 .2 .1 .3 .2 .3 .2 .2 .1 .3 .2 .2 .2 .3 .2 .2 .2 .3 .3 .2 .3 .3 .3 .2 .4 .3 .4 .2 .4 .3 .6 .3 .5 .2 .7 .3 .9 .2 1.2 .3 1.9 .2 2.6 .3 8.9" fill="none" stroke="#000" stroke-width="1.0" stroke-linejoin="round"/>
<text x="980.10" y="68.22" class="il">10⁻¹</text>
<text x="980.10" y="88.81" class="il">10⁻⁴</text>
<path d="M981.40 66.12H991.90M981.40 86.71H991.90" stroke="#000" stroke-width="1.15"/>
<rect x="991.90" y="57.30" width="83.2" height="43.9" fill="none" stroke="#000" stroke-width="1.1"/>
<rect x="803.90" y="50.90" width="277.8" height="111.5" fill="none" stroke="#333" stroke-width="1.2"/>
<text x="816.53" y="192.80" class="xl">0%</text>
<text x="867.04" y="192.80" class="xl">20%</text>
<text x="917.55" y="192.80" class="xl">40%</text>
<text x="968.05" y="192.80" class="xl">60%</text>
<text x="1018.56" y="192.80" class="xl">80%</text>
<text x="1069.07" y="192.80" class="xl">100%</text>
<text x="782.60" y="162.03" class="yl">0.0</text>
<text x="782.60" y="111.35" class="yl">0.5</text>
<text x="782.60" y="60.67" class="yl">1.0</text>
<path d="M816.53 162.40V172.80M867.04 162.40V172.80M917.55 162.40V172.80M968.05 162.40V172.80M1018.56 162.40V172.80M1069.07 162.40V172.80M792.90 157.33H803.90M792.90 106.65H803.90M792.90 55.97H803.90" stroke="#444" stroke-width="1.3"/></g>
<g><path d="M95.9 316.6l.2-102.2 0 41 0-22.2 .1 30.9 0-23.7 .1 14 0-18.7 .1 26.9 0-32.7 .1-13.4 0 8.1 .1 3.9 0 12.6 .1 7.9 0-27.8 0-6 .1 26.7 0 7.6 .1 1.4 0 16.7 .1-23.9 0-8.7 .1-7.8 0 8.4 .1-8.3 0-7.9 0 34.1 .1-22.1 0 11.6 .1-14 0 22.1 .1-16.6 0 13 0-6.8 .1 .4 0-13.2 .1-.8 0 9.7 0-7.1 .1 23.1 0 7.5 .1-22.2 0-7.8 .1-4.4 0 11.6 0-3.1 .1 2.3 0 2.3 .1 5.1 0-11.5 0 16.6 .1-19.7 0 .5 .1 2.5 .1-4.8 0-3 0 25.1 .1 8.6 0-6.4 .1-14.9 0 6.9 .1 12.6 0-2.8 0-11.1 .1-6.6 0-5.5 .1 15.1 0-4.5 0 .6 .1 8.3 0 7.8 .1-10.3 0 2.1 .1-13.1 0 14.5 0-17.4 .1 13.6 0-5.7 .1-3.6 0 11.4 .1-15.8 0 1 .1 20.9 0-12.4 .1 .6 0-2.5 0 10.4 .1-14.7 .1 12.4 0 3 .1-.7 0-10 0 3.3 .1-5.1 .1 10.9 0-11.1 .1 1.6 0-.8 .1 5.7 0 3.2 .1-9.2 0 6.7 0 2.9 .1-4.1 0 1.3 .1-4.1 0-.8 .1 2.2 0-5.4 0 7.9 .1 3.8 0-3.9 .1-2 0-.8 .1 5.8 .1 5.2 .2-10.7 .1-2.4 .2 8.9 .2-8 .1 10.5 .2-1.8 .2-2.4 .1 4.8 .2-7.5 .2-1.6 .1 9.4 .2-7.5 .2 5.7 .1 3.1 .2-.9 .2-.4 .1-5.7 .2 1.4 .2 7.2 .1 .4 .2-7.9 .1 4.7 .4 3 .1-4.3 .2 4.1 .3 3.1 .2-3.8 .2 5 .1 1.6 .2-4.2 .2-1.1 .1 3.6 .4 .4 .1-1.6 .4 4.5 .1-3.5 .2-.4 .1 3.7 .2-3.2 .2 3.1 .1 1.6 .2-5 .2 6.6 .1-2.3 .2-2.2 .2 2.1 .1 3.5 .2-6 .2 5.9 .1-.4 .2-2.6 .2-1.2 .1 .3 .2 3.7 .2-1.8 .1-1.3 .2 4.9 .1-5.2 .2 7.5 .2-3.1 .1 1 .2 .8 .3-4.7 .2 6.5 .2-6.4 .1 5.1 .2-1.5 .2 .5 .1-5.9 .2 8.5 .2-6.9 .1 5.1 .2-6.8 .2 3.9 .1 4 .2-1.4 .1 2.7 .2-3.1 .2 3.2 .1-5.6 .2 2.6 .2 2.5 .1 1.2 .2-8 .2 6.7 .1-1.9 .2 4.2 .2-1.6 .1 1.9 .2-2.1 .2 .3 .1-.5 .2-3.6 .2 5.8 .1-.6 .2-1.7 .1 1.8 .2-3.3 .2 6.7 .1-2.7 .2-.8 .2-.5 .1-3.5 .2 5.2 .2 .5 .1-1.4 .2-3.7 .2 4.7 .1-6.4 .2-1.9 .2 6.6 .1 2.9 .2-5.6 .2 3.8 .1-.8 .2 1.4 .1-4.3 .2-1.3 .2 1.8 .1 2.8 .2 1.9 .2-4.1 .1 1.4 .2-2.8 .2 2.1 .1 1.1 .2 .7 .2 3.6 .1 .5 .2 1 .2-6.4 .1-1.2 .2 2.3 .2 3.2 .3-2.4 .1 2.4 .2 .6 .2 1 .1-5.6 .2-1.7 .2 5.6 .1-2.8 .2 .7 .2-.6 .1 .3 .2 1.8 .2-3.5 .1 3.1 .2 1 .2-5.1 .1 1.2 .3 5.4 .2-.6 .2-2.1 .1-2.2 .2 1.5 .2 .9 .1 2.4 .2-3.5 .2 6.2 .1-5 .2-1 .2-1.9 .1 1.1 .2 1 .2 .7 .1-7.7 .2 5.8 .2 2 .1 3.2 .2-6.3 .1-.4 .2 2.6 .2 2.7 .1-.8 .2-2.5 .2 2.8 .1-1.8 .2-.8 .2 .4 .1 .9 .2 2.3 .2-3.5 .1-.7 .2-1.8 .2 6.3 .1-.4 .2-4.7 .2-2.5 .1 6.4 .2-4.9 .1 1.9 .2-5.5 .2 6.4 .1 2.4 .2-5 .2 3.3 .3 1.9 .2-1 .1 2.6 .2-1.1 .2-1.2 .1-.7 .2-4.2 .2-4 .1 3.8 .2 4.4 .2-7 .1 5.2 .2-1.1 .3-.1 .2 3 .1-.5 .4 .2 .1-.3 .2-.8 .2-.7 .1 .3 .2-2.9 .2 2.2 .1 1.7 .2-3.1 .2-.8 .1 1.9 .2 2.6 .2-3.1 .1 5.1 .2-5.6 .1 1.1 .4-3 .1 1 .2-1.9 .2 1.6 .1 6.2 .2-2.7 .2-3.3 .1 3.6 .2-3.6 .2-1.9 .1 7 .2 1.3 .2-2.7 .1-1.1 .2 .3 .2 .4 .1-3.2 .2 2 .1-1 .2 3.9 .2-.6 .1-6.3 .2 3.2 .2-3.9 .1 4.2 .2-1.7 .2 .8 .1 4.7 .2 .9 .2-2.2 .1 1.4 .2-1.4 .3-1.4 .2 1.1 .2 1.2 .1 1.6 .2-3.3 .1-.6 .2 3.3 .2-7.6 .1 4.5 .2-3.5 .2 7.5 .3-.9 .2-5.9 .1 2.7 .2-2.2 .2-1.1 .1 4.2 .2-1.2 .2 3 .1-.8 .2-3.1 .2 4.1 .1-5.5 .2 2.6 .1 1 .2-2.1 .2 3.9 .1-3.2 .2 .6 .2-1.3 .1 2 .2 .4 .2-4.5 .1 .5 .2 1.5 .2-2.7 .3 5.5 .2-5.8 .1 7.4 .2-4.6 .2 2.2 .1-.5 .2-2.8 .3 1.5 .2-2.8 .1-1.1 .2 5.5 .2 .5 .1-3.5 .2 1.1 .2 1.2 .1-1.8 .2-1.8 .2-1.3 .3-.2 .2-1.4 .1-10.3 .4 8.2 .1-.4 .2 6.3 .1-2.6 .2 1.8 .2-1.4 .1 3.1 .2-2.9 .2 6.3 .1 .4 .2-1.7 .2-1.7 .1 .5 .2 3.6 .2-1 .1-2.5 .4-3.1 .1 2.7 .2-1.9 .2 1.9 .1 1.7 .2 1.4 .1 .8 .2-1.3 .3 .3 .2 .8 .2-2.4 .1 2.8 .2-6.1 .2 .6 .1 3.7 .2 .3 .2 1.2 .1 .4 .2-3.1 .2 2.7 .1-1 .2-2.4 .2 3.2 .1-.6 .2-.9 .1-1.7 .2 1.6 .2-1.1 .1-4 .2-6.9 .2-9.9 .1 4.7 .2 6.5 .2 5.4 .1-.5 .2 1 .2 2.4 .1 2.4 .2-2.2 .2-1.3 .1 3.6 .2-3.4 .2-.9 .1 1.5 .2 3.5 .1-3.4 .2 3.8 .2-1.6 .1-.3 .2-4.2 .2 4.7 .1 .4 .2-1.7 .2-2.4 .1 6.2 .2-6.1 .2 5.3 .1-2.8 .2 4.4 .2-4.8 .1 .7 .2-2.7 .2 1.4 .1 1.6 .3 1.8 .2-.9 .2-4.5 .1-7.8 .2-.9 .2 1.3 .1 5.2 .2 2.3 .3 .5 .2 3.2 .2 4.3 .1-3.6 .2 1.4 .2-6.6 .1 4.1 .2-2.7 .2 4.9 .1-5.8 .2 5 .1-4.4 .4 2.8 .1-1.4 .2 1.9 .2 .7 .1-1 .2 2.5 .2-5.7 .1 2.9 .2-2.4 .2 2.7 .1-3.6 .2 2.6 .2 .5 .1-.8 .4-.6 .1-.4 .3-.5 .2-2.3 .2 3.5 .3-4.3 .2 .9 .1-3.5 .2-5.2 .2 3 .1 10 .2 .9 .2 1.7 .1-2.6 .2 3.1 .2-2.4 .1-3 .2 6.1 .2-5.8 .1 4.9 .2-3.4 .3 1.1 .2-.7 .1 3.9 .2-3.6 .2 2.3 .1-1.4 .2 .5 .2-1.3 .1-3.3 .2-1.9 .2 6.3 .1-3.6 .2 2.5 .2 2.9 .1-.4 .2-5.1 .2 3.7 .1 .6 .2-5.1 .1 1.1 .2-.9 .2 3.1 .3 0 .3-2.5 .2-3.2 .2 8.1 .1-1.7 .2 .9 .2 1.4 .1-4.9 .2-1.6 .2 3.9 .1-2.1 .2-2 .2 2.8 .1-10.3 .2-7.9 .1-6.1 .2 7.5 .2 9 .1 7.8 .2-4.3 .2-.6 .1 4.6 .2-2 .2 2.4 .1-3.5 .2 .7 .2-2.1 .1 4.4 .2 4.8 .2-3 .1-2.3 .2-2.4 .2 4.9 .1-.3 .2-2.2 .1 1.6 .2 1 .2-.8 .1 .4 .2-1.8 .2-3.5 .1-2.2 .2 5.3 .3 .3 .2 3.8 .2-4.3 .1 2.3 .2-3 .3-2.6 .2 6 .2-2.1 .1-.8 .2 2 .1-5 .2 3.9 .2 .8 .1-2 .2 1.3 .2-2.2 .1 3.1 .4-4 .1 3 .2-4.1 .2 2.7 .3-3.5 .2 5 .1 2.7 .2-.5 .2-4.6 .1 2.3 .2-1.7 .1-2.1 .2 2.3 .2-1.4 .1-1.9 .2 4.5 .2-4.4 .1 4.1 .2 2.9 .3-3.7 .2 .6 .2-3.5 .1 3.6 .2 3.5 .2-6.5 .1 2.1 .2 .9 .2 2.3 .1-3.6 .2-2.1 .1 2.3 .2 2.2 .2-2.8 .1 .6 .2-.8 .2 3.1 .1-.3 .2 .6 .2-6.5 .1 7.4 .2-2.5 .2-1.7 .1 1.5 .2-3.4 .2 5.7 .1-.8 .2 1 .2-2.7 .1 2.2 .2-1.3 .1-1.1 .2 2.7 .2-4.2 .1 5.1 .2-4.1 .2-1.3 .1-1.1 .2 1.5 .2-3.7 .1 5.5 .2 .3 .2-.6 .1-1.2 .2-3 .2 3 .1 4.8 .2-5.6 .2 2.3 .1-6.3 .2 6 .1 .4 .2 1.9 .2-.7 .1-2.4 .2 2.1 .2 2.3 .1-3.8 .2-1.8 .2 3.7 .1-2.5 .2 4.3 .3-2.3 .4-3.1 .1 5.7 .2-4.8 .2-2.2 .1 2.8 .2-1.6 .1 2.4 .2 .7 .2 1.8 .1-6.1 .2 4.8 .2-.6 .1-4.1 .2 1.7 .2-1.5 .1 .7 .2 .8 .2-4 .1 4.7 .2-1.1 .2-3.2 .1 3.6 .2-4.1 .2 4.1 .1-2.5 .3 2.3 .2-2 .2 4.9 .1-3.1 .2-.4 .2 5.2 .1-3.3 .2-.8 .2 .4 .1-2.9 .2-1.6 .2-.7 .3 3.4 .2-1.7 .1 1.9 .2 3.4 .3 .8 .2-3.2 .1 1.3 .2-4.1 .2 .8 .1 .6 .2 2.9 .2-1.2 .3-5.9 .2 6.2 .1-.5 .2-2.7 .2 3.6 .1-6.1 .2 3.6 .2 .9 .1 2 .2-1.6 .1-3 .2 2.6 .2 1.7 .1-3.5 .2 1.9 .2-3.6 .1 .8 .2 .5 .2-.5 .1 1.1 .2 3.2 .2-2.7 .1 .9 .2 1.2 .3 2.8 .2-1.4 .2 .5 .1-3.2 .2 3.6 .1 .9 .2-4.2 .2 .3 .1-2.8 .2 1.8 .2-2.3 .1 2.7 .2-1.9 .2-3.3 .1 3.6 .2-1.3 .2 1 .1 1.9 .2 .9 .2-5.1 .1 3.4 .2-2.5 .2 1.9 .1-1.9 .2 4 .1-2.5 .2-1 .2-1.6 .1 5.1 .2-1.4 .2-.8 .1-1.4 .2 1.5 .2-3.5 .1-.7 .4 3.3 .1-1.1 .2 .3 .2-.7 .1-.6 .2-4.3 .2 7.2 .1-5.5 .2 6.9 .3-1.8 .3-4.7 .4-.2 .1 4.5 .2 2.5 .2-4.4 .1-1.3 .2 6.3 .2-5.2 .1 5.3 .2-6.2 .3-3.6 .4 6.6 .1-3.4 .2 2.8 .1-1.2 .2 3.3 .2-2.3 .1 .5 .2 3.4 .2-3.3 .1-2.5 .2 5.2 .2-6.5 .1 2.3 .2 2.1 .2-6 .1 4 .2 .5 .2 2 .1-2.5 .2 6.5 .2-2.7 .1-.8 .3-5.7 .2 1.6 .2-1.6 .1-2.3 .2 1.8 .2 1 .1-1.1 .2 1.4 .2 2.6 .1 1.2 .2-.6 .2-1.5 .1 2.2 .2-6.5 .2 4.6 .1 1.7 .2 .5 .2-1.8 .3-1.4 .1-.7 .2 4.8 .2-5.1 .1 1.2 .2-2 .2 .9 .1-4.4 .2 4.5 .3 4.8 .2-3.4 .2 2.6 .1-2.7 .2-3.3 .2 2.6 .1-1.2 .2-1.1 .2 5.8 .1-2.2 .3-1.1 .2-2.3 .2 1.3 .3-1.8 .2 1.7 .1 2.4 .2-1.6 .2-2.5 .1-.3 .2 1.4 .2 2.7 .1 1.2 .2-4.7 .2 3 .1-1.1 .2-7.1 .3-6.7 .2 6.6 .1 5.2 .2-1.4 .2-1.4 .1 3.1 .2-3.3 .2 4.5 .1-3.9 .2 5 .2-1.4 .1 2.1 .2-4.3 .2 1.3 .3 3.1 .2-2.4 .1-3.1 .2 7.7 .2-2.5 .1-3.6 .2-1.1 .1 .7 .2 5.1 .2-2.2 .1 4.2 .2-2.9 .2-1.2 .1 1 .2-1.9 .3 .8 .4-4.5 .1 7.4 .2-6.3 .3-.8 .2 1.6 .2 4.3 .1-1.3 .2-1.8 .1 2.2 .2 1 .2-7.3 .1-.4 .4 6.7 .1-4.1 .4 .3 .1 1.5 .2 1.8 .2-1 .1-2.6 .2 5.4 .2-1.7 .1-.6 .2-5.9 .2 4.3 .1-2.2 .2 1.5 .1-1.1 .2-1.9 .2 2.6 .1-1.8 .2 3.5 .2-1.5 .1 1.9 .2-.6 .2 1.4 .1-3.4 .2 4.5 .2-1.5 .1-5.3 .2 .8 .2-1.1 .1 2.9 .2 2 .2-5.2 .1 5 .2-2.1 .1 5.7 .2-.5 .2-4.9 .1-1.1 .2 .4 .3-.9 .2 3.3 .2 .6 .1-1.8 .2-1.3 .2 3.4 .1-.4 .2-.8 .2-1.5 .1 1.8 .2-6.3 .2 .4 .1 7 .2-3.1 .1 1.6 .2-1.5 .2 2.9 .1-1 .4-1 .1-2 .2 4.9 .2-5.7 .1-1.7 .2 3.2 .2-2.9 .1-1.5 .2 6.3 .2-3.3 .1 1.4 .2 2 .2-.6 .1 1.3 .2-4.9 .1 4.6 .2-1.5 .2-4.7 .1 3.7 .2 1.1 .2-3.8 .1 3.1 .2 .8 .2 3 .1-3.9 .2-1.1 .2-4.8 .1-3.7 .2 2 .2-1.7 .1 5.6 .2-.9 .2 4 .1-.8 .2 1 .1 1.6 .2 1.1 .2 1.7 .1-3 .4-5 .1 2.8 .2-3.4 .2 6.3 .1-.6 .2-5.3 .2 6.1 .3-2.9 .2 2.4 .1 .4 .2-3.2 .2-1.3 .1 3.6 .2-4.5 .1 .8 .2-2.9 .2 6.6 .1-1.4 .2-3.2 .2 3 .1-9.3 .2-7.9 .2 3.4 .1 .9 .2 10.3 .2-3.4 .1 6.5 .2 1.8 .2-1.3 .1-3.5 .2 3.4 .2-7.1 .1 3.8 .2-.8 .1 .5 .4-3.4 .1 .6 .2 2.8 .2 .6 .1 1.4 .2-2.7 .2 .8 .1 1.3 .2-4.9 .2 4.1 .1-.8 .2 3.3 .2-2.4 .3 3.7 .2-6.4 .1 3.9 .3-4.8 .2 3.8 .2-4.4 .1 4.9 .4-2.7 .1-2.1 .2-1.2 .2 3.2 .1-1.3 .2 1.7 .3 3 .2-5 .3 3.6 .2-1.3 .2-.6 .1-4.4 .2 4 .3-1.2 .2 4.3 .1-5.5 .2 4.9 .2 1.9 .1 .4 .2-4.8 .2 1.8 .1-4.6 .2 1.6 .2-1.2 .1 2.8 .2-1.2 .2-.8 .1 1.3 .2 .9 .2-2.3 .3 1.8 .1 2.6 .2-5.6 .2 3 .1-4.2 .2 3 .2 3.6 .1-3 .2 .4 .2-.9 .1-3.3 .2 2.5 .2-2.6 .1 5.4 .2 .9 .2-2.7 .3-2.5 .2 .9 .3-.9 .1 .9 .2-2.2 .3 .5 .2 6.2 .2 1.8 .1-2.9 .4-4.4 .1 2.8 .2-2.3 .2 3.1 .1-3 .2-1.3 .2-.4 .1 4.2 .2-2.2 .2 .5 .1 1.4 .2-.3 .1-4 .2 1.4 .2 4.2 .1-1.4 .2-2.7 .2 3.8 .1-3.9 .2-.4 .3 3.9 .2-5.7 .3 7.4 .2-2.3 .2 2.9 .1-4.4 .2-2 .2-.3 .1-1 .2 4.4 .1 1.5 .2-5.1 .2 5.2 .1-2.1 .2 .5 .2-2.1 .1 3.4 .2-3.4 .2 1.6 .1-1.5 .4-1.7 .1 4.7 .2-1.5 .2-3.3 .3-1.4 .3 3.9 .2 .4 .1-3 .4 5.2 .1 .8 .2 1 .2-2.4 .1-.9 .2-.6 .2 1.2 .1-1.2 .2-.6 .2 1 .1 .4 .2-2.5 .2-2.3 .1-.5 .2 3.4 .2 2.5 .1-.6 .2-3.2 .1 1.4 .2-.8 .2-.5 .1 .9 .2-2.2 .2 4.8 .1-2.1 .2 2.3 .2-3.5 .3 2.8 .2-2.4 .1-8 .2-1 .2 4.4 .1 2.1 .2-1.3 .2 3.8 .1-1.6 .2 2.3 .1 1 .2 1.2 .2-1.5 .1-5.8 .2 1.5 .2 1 .1-4.7 .2 2.1 .2 4.4 .1-.8 .2-.5 .2 1.5 .1-.9 .4-2.5 .1 3.6 .2-5.6 .1 5.8 .2-.3 .2 1.8 .1-6.1 .2 .6 .2 5 .1-3.9 .2 1.4 .2-2.2 .1 2.7 .2-5.4 .2 5.4 .1-4.9 .2 4.9 .2-2.2 .1 2.2 .2-1.5 .2-1 .1-2.1 .2 4.4 .1 .4 .2-4.6 .2 6.2 .3 0 .2-3.4 .1-1.8 .2 3.3 .3-.3 .2 1.1 .2-1.2 .1-.6 .2-.9 .2-4.1 .1 4.7 .2-1.5 .2 2.8 .1 2.3 .2-6.2 .1 3.2 .2 .9 .2-4.9 .1 4.8 .2-1.2 .2-6.5 .1 5.3 .2-5.7 .2 4.7 .1-1.8 .2 2.7 .2-.3 .1-3.9 .2 1 .2 5.4 .1-3.4 .2 4.2 .2-.5 .1 .5 .2-3.4 .1-3 .2-1.1 .2-2 .1 4.2 .2 3 .2 1.1 .1-3.3 .2-4.4 .2 4.8 .1-1.8 .2-1.3 .3 2.5 .2 1 .2 2.2 .1-4.5 .2 2.1 .2-2.2 .1 3.1 .2-6.3 .1 7.7 .2-4.9 .3 4.4 .2-3.9 .2 1.3 .3 2 .2-.4 .3-2.1 .2-.5 .1-1.1 .4 1.5 .1 1.7 .2-2.8 .2-1.3 .1 4.4 .2-1.9 .1 2.2 .2-6.9 .2 8.1 .1-8.5 .2 2.2 .2 3.5 .1-1.5 .2 1.9 .2-3.2 .1 .8 .2-2.7 .2 3.3 .1-2.4 .2 1.2 .2 2.4 .1-3.1 .2 4.7 .2-6.2 .1-.7 .2 2.3 .1 1.4 .2 .3 .2-3.2 .1 4.9 .2-2.7 .2 .3 .1-1.1 .2 .8 .2-3 .1 4 .2 .3 .2 .6 .1-4.3 .2 3.9 .2-4.3 .1 5.7 .2-1.3 .2-3.4 .1 2.7 .2 1.8 .1-4.7 .2 2.9 .2-5.5 .1 6.4 .2-3.4 .2 3.4 .1-3.7 .2 3.7 .2-7.1 .1 3.7 .2 .5 .2-.3 .1 2.3 .2-1.1 .2-.8 .1 1 .2 2.3 .2-2.9 .1 .7 .2-.6 .3-3.1 .2 4.8 .1-3.5 .2 5 .2-3.7 .1-2.4 .2 7.1 .2-5 .1 3.4 .4-2.2 .1-3.1 .2 3.6 .2-4.5 .1 8.8 .2-1.4 .2-1.5 .1-3.6 .2 .7 .1 3.1 .2 .5 .2-1.5 .1-3.2 .2 2.3 .2-1.1 .1 1.8 .4-.7 .1-.6 .2-4 .2 3.9 .3 .4 .2-3.9 .1 1.7 .4-1 .1 5.1 .2-3.1 .1 3.9 .2-5.7 .2 2.7 .1-1.7 .2 4 .3-2.2 .2-1.8 .2 3.9 .3 .6 .2-4.2 .1-.4 .2 4.4 .2-2.5 .1 1.1 .2-5.1 .2 6 .1 .5 .2-5.5 .1-2 .4 5.1 .1-2.1 .4-.9 .1 1.1 .2 5 .2-4 .1-1.8 .2 2.2 .3-2.3 .2-1.4 .2 .5 .1 2.1 .2 1.8 .2 1.5 .1 .5 .2-1.7 .1-2.2 .2-1 .2-.8 .1 6.3 .4 .1" fill="none" stroke="#efa735" stroke-width="3" stroke-linejoin="round" stroke-linecap="square"/>
<rect x="271.30" y="270.81" width="83.2" height="43.9" fill="#fff" fill-opacity="0.62"/>
<path d="M275.08 312.71L275.13 272.81" stroke="#555" stroke-width="0.9" fill="none"/>
<path d="M275.1 272.8l0 10 0-5.8 .1 8.6 0-6.9 0 3.9 0-5 0 7.5 0-8.9 0-3 .1 1.8 0 .9 0 3 0 2.1 0-6.8 0-1.2 0 6.1 0 2.1 .1 .4 0 5.1 0-7.1 0-2.2 0-1.8 0 1.9 0-1.9 .1-1.7 0 8.4 0-5.8 0 2.9 0-3.4 0 5.6 0-4.3 .1 3.3 0-1.8 0-3.1 0 2.1 0-1.7 0 6 .1 2.3 0-6.3 0-1.8 0-1 0 2.7 0-.8 0 .6 0 .6 .1 1.3 0-2.9 0 4.3 0-5 0 .7 0-1.1 .1-.7 0 6.2 0 2.5 0-1.8 0-4 0 1.8 0 3.5 0-.8 .1-3.1 0-1.6 0-1.4 0 3.8 0-1.2 0 2.4 0 2.3 .1-3 0 .6 0-3.4 0 3.8 0-4.5 0 3.5 0-1.6 0-.9 .1 3 0-4 0 5.8 0-3.5 0-.5 .1 2.9 0-3.9 0 3.2 0 .8 0-2.9 0 .9 .1-1.3 0 2.9 0-3 0 .4 0 1.3 .1 .9 0-2.4 0 1.7 0 .8 0-1.1 0 .3 0-1 .1 .3 0-1.4 0 2.1 0 1 0-1 0-.6 0 1.4 .1 1.5 0-3 .1-.6 0 2.4 .1-2.2 0 2.9 .1-.5 0-.7 .1 1.4 0-2.1 .1-.5 0 2.6 .1-2.1 0 1.6 .1 .9 0-.2 .1-1.8 .1 .4 0 2.1 .1-2.2 .1 1.4 .1 .9 0-1.3 .1 1.2 .1 1 0-1.2 .1 1.5 0 .5 .1-1.3 0-.3 .1 1.1 .1-.4 .1 1.5 .1-1.2 .1 1.1 0-1 .1 1 0 .5 .1-1.6 0 2.1 .1-.7 0-.7 .1 .6 0 1.2 .1-2 0 2 .1-1 .1-.5 .1 1.4 0-.6 .1-.4 0 1.6 .1-1.7 0 2.6 .1-1.1 0 .3 .1 .3 .1-1.6 0 2.2 .1-2.2 0 1.8 .1-.6 .1-1.8 0 2.9 .1-2.4 0 1.8 .1-2.3 0 1.3 0 1.4 .1-.5 0 1 .1-1.1 0 1.1 .1-2 0 .9 .1 .9 0 .5 .1-2.9 0 2.4 .1-.7 0 1.5 .1-.6 0 .8 .1-.8 .1-1.4 .1 2.1 0-.2 .1-.7 0 .7 .1-1.2 0 2.5 .1-1 0-.3 .1-1.5 .1 1.9 .1-.3 0-1.4 .1 1.8 0-2.4 .1-.6 0 2.3 .1 1.1 0-2 .1 1.4 0-.4 .1 .6 0-1.6 .1-.5 0 .7 .1 1 0 .7 .1-1.5 0 .5 .1-1 0 .7 .1 .4 0 .3 .1 1.4 .1 .6 0-2.5 .1-.4 0 .8 .1 1.3 .1-.9 0 .9 .1 .6 .1-2.1 0-.7 .1 2.2 0-1.1 .1 .2 .1 .6 .1-1.3 0 1.1 .1 .4 0-1.9 .1 .4 .1 2.2 0-.3 .1-.8 0-.9 .1 .6 0 .4 0 .9 .1-1.4 0 2.5 .1-2 0-.4 .1-.7 0 .4 .1 .4 0 .3 .1-2.9 0 2.1 .1 .8 0 1.3 .1-2.5 .1 .8 0 1.1 .1-.3 0-1 .1 1.1 0-.7 .1-.3 .1 .5 0 .9 .1-1.4 0-.2 .1-.7 0 2.4 .1-2 .1-.9 0 2.4 .1-1.8 0 .6 .1-1.9 0 2.3 .1 1 0-2 .1 1.3 .1 .7 0-.4 .1 1.1 0-.5 .1-.4 0-.3 .1-1.6 0-1.5 .1 1.4 0 1.7 .1-2.6 0 1.9 .1-.4 .1 1.1 .1-.3 .2-.5 .1-1 .1 .8 0 .7 .1-1.2 0-.3 .1 .7 0 1 .1-1.2 0 2 .1-2.2 0 .4 .1-1.1 .1 .4 0-.7 .1 .6 0 2.3 .1-1 0-1.3 .1 1.4 0-1.4 0-.6 .1 2.6 0 .5 .1-1.1 0-.4 .1 .3 .1-1.2 0 .7 .1-.4 0 1.6 .1-.3 0-2.3 .1 1.2 0-1.5 .1 1.5 0-.6 .1 .3 0 1.8 .1 .4 0-.9 .1 .5 0-.5 .1-.5 .1 .4 0 .5 .1 .6 0-1.3 .1 1 .1-2.8 0 1.7 .1-1.4 0 2.9 .1-.3 .1-2.3 0 1 .1-.8 0-.4 .1 1.6 0-.5 .1 1.2 0-.4 .1-1.2 0 1.6 .1-2.1 0 1 .1 .4 0-.8 .1 1.5 0-1.2 .1-.3 .1 .7 .1-1.5 .1 .7 0-.9 .1 2 .1-2.2 0 2.8 .1-1.7 0 .8 .1-1.2 .1 .5 .1-1 0-.4 .1 2 .1-1.1 0 .4 .1 .5 0-.7 .1-.7 0-.4 .2-.6 0-3.4 .1 2.7 .1 2 0-.9 .1 .7 0-.5 .1 1.1 0-1.1 .1 2.4 .1-.5 0-.6 .1 1.5 .1-.4 0-.9 .1-1.2 .1 1 0-.7 .1 .7 0 .7 .1 .5 0 .3 .1-.5 .1 .4 .1-.9 0 1.1 .1-2.3 .1 1.6 .1 .6 .1-1.1 0 1.1 .1-.4 0-.9 .1 1.2 .1-.6 0-.6 .1 .6 0-.5 .1-1.4 0-2.4 .1-3.1 0 1.4 .1 2.1 0 1.9 .2 1.1 0 .9 .1-.9 0-.5 .1 1.4 0-1.3 .1-.3 0 .6 .1 1.3 0-1.3 .1 1.5 0-.7 .1-1.7 .1 1.8 .1-.5 0-.9 .1 2.4 0-2.4 .1 2.1 0-1.1 .1 1.7 0-1.9 .1 .3 0-1 .1 .5 0 .6 .1 .7 0-.4 .1-1.7 0-2.6 .1-.3 0 .4 .1 1.8 0 .8 .2 1.4 0 1.7 .1-1.5 0 .6 .1-2.5 0 1.5 .1-1 0 1.9 .1-2.2 0 1.9 .1-1.7 .1 1.1 0-.6 .1 .7 0 .3 .1-.4 0 1 .1-2.2 0 1.1 .1-.9 0 1 .1-1.3 0 .9 .2-.3 .2-.3 0-.9 .1 1.3 .1-1.5 0 .3 .1-1.2 0-1.7 .1 .9 0 3.6 .1 .3 0 .7 .1-1 0 1.2 .1-1 0-1.1 .1 2.3 0-2.2 .1 1.9 0-1.3 .1 .4 .1-.3 0 1.5 .1-1.3 0 .8 .1-.5 .1-.3 0-1.2 .1-.7 0 2.3 .1-1.3 0 .9 .1 1.1 .1-2.1 0 1.4 .1-1.7 .1 .4 0-.3 .1 1.1 .1-.9 .1-1.1 0 3 .1-.7 0 .3 .1 .6 0-1.9 .1-.6 0 1.5 .1-.8 0-.7 .1 1 0-3.6 .1-2.5 0-1.8 .1 2.3 0 2.8 .1 2.8 0-1.6 .1 1.5 .1-.7 0 .8 .1-1.2 0 .2 .1-.7 0 1.5 .1 1.9 0-1.2 .1-.8 0-.9 .1 1.8 .1-.9 0 .6 .1 .4 0-.4 .1-.5 .1-1.2 0-.8 .1 1.9 .1 1.5 .1-1.6 0 .9 .1-1.2 .1-.9 0 2.2 .1-.8 0-.3 .1 .8 0-1.9 .1 1.4 0 .3 .1-.7 0 .5 .1-.8 0 1.1 .1-1.4 .1 1.1 0-1.5 .1 .9 .1-1.2 0 1.8 .1 1 .1-1.9 0 .8 .1-.6 0-.7 .1 .8 0-.5 .1-.7 0 1.6 .1-1.5 0 1.4 .1 1.1 .1-1.4 .1-1 0 1.3 0 1.3 .1-2.4 0 .8 .1 .3 0 .9 .1-1.4 0-.7 .1 .8 0 .8 .1-1 .1 1 .2-2.2 0 2.7 .1-.9 0-.7 .1 .6 0-1.2 .1 2 0-.3 .1 .4 0-1 .1 .8 0-.4 .1-.5 0 1 .1-1.5 0 1.9 .1-1.5 0-.5 .1-.4 0 .5 .1-1.3 0 2 .2-.6 0-1 .1 1.1 0 1.7 .1-2.1 0 .9 .1-2.2 0 2.1 .1 .8 .1-.2 0-.9 .1 .8 0 .8 .1-1.4 0-.7 .1 1.4 0-.9 .1 1.6 .1-.9 .1-1.1 0 2.1 .1-1.8 0-.8 .1 1 0-.5 .1 .8 .1 1 0-2.3 .1 1.8 .1-1.7 0 .6 .1-.6 0 .3 .1 .3 0-1.4 .1 1.6 0-.4 .1-1.1 0 1.3 .1-1.5 0 1.5 0-.9 .1 .8 .1-.7 0 1.7 .1-1.1 .1 1.8 0-1.2 .1-.3 .1-.9 0-.6 .1-.2 .1 1.2 0-.6 .1 .7 0 1.2 .1 .3 .1-1.2 0 .5 .1-1.5 0 .3 .1 1.3 .1-.5 .1-2.1 0 2.2 .1-1.1 .1 1.2 0-2.1 .1 1.3 0 .3 .1 .7 0-.6 .1-1 0 .9 .1 .6 0-1.2 .1 .6 0-1.2 .1 .2 .1 .4 .1 1.2 0-1 .1 .3 0 .4 .1 1.1 .1-.5 .1-1 0 1.3 .1 .3 0-1.5 .1-.9 .1 .7 0-.9 .1 1 0-.7 .1-1.1 0 1.2 .1-.4 0 .3 .1 .7 0 .3 .1-1.8 0 1.2 .1-.9 0 .7 .1-.7 0 1.4 .1-.8 0-.4 .1-.5 0 1.7 .1-.5 0-.2 0-.5 .1 .5 0-1.2 .1-.3 .1 1.2 0-.4 .2-.4 0-1.3 .1 2.4 0-1.9 .1 2.3 .1-.6 .1-1.6 .1 1.5 .1 .8 0-1.5 .1-.4 0 2.2 .1-1.9 0 1.9 .1-2.1 .1-1.2 .1 2.2 0-1.2 .1 1 0-.4 .1 1.1 0-.8 .1 1.3 .1-1.1 0-.8 .1 1.7 0-2.2 .1 .8 0 .7 .1-2 0 1.3 .1 .9 .1-.9 0 2.3 .1-1 0-.2 .1-2 .1 .6 0-.6 .1-.7 0 .6 .1 .3 0-.3 .1 .4 0 .9 .1 .4 .1-.7 0 .7 .1-2.1 0 1.4 .1 .6 .1-.4 .1-.5 0-.2 .1 1.6 0-1.7 .1 .4 0-.7 .1 .3 0-1.4 .1 1.5 .1 1.6 0-1.2 0 .9 .1-.9 0-1.1 .1 .9 0-.4 .1-.4 0 2 .1-.8 .1-.4 0-.7 .1 .4 .1-.6 0 .5 .1 .9 0-.6 .1-.8 .1 .4 0 .9 .1 .4 0-1.6 .1 1 0-.4 .1-2.2 .1-2 0 1.9 .1 1.7 0-.5 .1-.4 0 1 .1-1.1 0 1.5 .1-1.3 0 1.6 .1-.4 0 .7 .1-1.4 0 .4 .1 1 .1-.8 0-1 .1 2.6 0-.9 .1-1.2 0-.3 .1 1.9 .1-.8 0 1.5 .1-1.1 0-.3 .1 .3 0-.6 .1 .2 .1-1.4 .1 2.4 0-2.1 .2 1.7 .1-.4 0-.6 .1 .7 0 .3 .1-2.3 .1 2 .1-1.4 .1 .6 .1 .6 0-.3 .1-.8 0 1.7 .1-.6 0-2 .1 1.3 0-.7 .1 .5 0-.3 .1-.6 0 .8 .1-.6 0 1.1 .1-.4 0 .6 .1 .2 .1-1.1 0 1.5 .1-.5 0-1.7 .1 .2 0-.3 .1 .9 0 .7 .1-1.7 0 1.6 .1-.7 0 1.9 .1-1.8 .1-.3 .2 .9 .1-.4 0-.4 .1 1.1 .1-.4 0-.5 .1 .6 0-2 .1 2.3 .1-1 0 .5 .1-.4 0 .9 .1-.3 .1-.3 0-.7 .1 1.6 0-1.9 .1-.5 0 1 .1-.9 0-.4 .1 1.9 0-1 .1 .4 0 .7 .2-1.4 0 1.5 .1-.5 0-1.5 .1 1.2 0 .3 .1-1.1 0 .9 .1 .3 0 1 .1-1.3 0-.3 .1-1.5 0-1.1 .1 .6 0-.5 .1 1.6 0-.2 .1 1.2 .1 .6 0 .3 .1 .6 0-1 .1-1.6 .1 .9 0-1 .1 1.9 .1-1.8 0 1.9 .1-.9 .1 .7 .1-.9 0-.4 .1 1.2 0-1.4 .1-.7 .1 2.1 0-.5 .1-1 0 1 .1-2.8 0-2.2 .1 .9 0 .3 .1 3 0-1.1 .1 2 0 .6 .1-.4 0-1.1 .1 1.1 0-2.2 .1 1.1 .2-1.1 .1 1 .1 .7 0-.9 .1 .7 .1-1.5 0 1.2 .1-.2 0 1 .1-.7 .1 1.1 0-2 .1 1.2 .1-1.4 0 1.1 .1-1.3 0 1.4 .1-.8 .1-.6 0-.4 .1 1 0-.4 .1 .5 .1 1 0-1.6 .1 1.1 .1-.4 .1-1.5 0 1.2 .1-.3 .1 1.3 0-1.7 .1 1.5 0 .6 .1-1.4 0 .6 .1-1.4 0 .4 .1-.3 0 .8 .1-.3 .1 .4 .1-.7 .1 .5 0 .8 .1-1.6 0 .8 .1-1.2 0 .9 .1 1.1 0-.9 .2-1.1 0 .7 .1-.8 0 1.6 .1 .3 0-.8 .1-.8 .1 .3 .1-.3 0 .3 .1-.6 .1 2 .1 .5 0-.9 .1-1.3 .1 .8 0-.6 .1 .9 0-.9 .1-.4 .1 1.1 0-.6 .1 .5 .1-1.2 .1 .4 0 1.2 .1-.4 0-.8 .1 1.1 0-1.1 .2 1 0-1.6 .1 2.1 .1-.7 0 .9 .1-1.3 0-.6 .1-.4 .1 1.3 0 .5 .1-1.5 0 1.5 .1-.6 .1-.5 0 1 .1-1 0 .5 .1-.5 .1-.5 0 1.4 0-.4 .1-1 .1-.4 .1 1.1 .1-.7 .1 1.5 0 .3 .1 .2 0-.7 .1-.3 .2-.3 0 .3 .1-.6 .1-.7 .1 .9 0 .7 .1-1.1 .1 .4 .1-.4 0 .3 .1-.7 0 1.4 .1-.6 0 .7 .1-1 .1 .8 0-.7 .1-2.2 0-.3 .1 1.2 0 .6 .1-.4 0 1.1 .1-.5 0 .7 .1 .3 0 .3 .1-.4 0-1.7 .1 .4 0 .3 .1-1.3 0 .6 .1 1.3 .1-.4 0 .4 .1-.2 .1-.8 0 1.1 .1-1.6 0 1.6 .1 .5 .1-1.8 .1 1.6 0-1.1 .1 .4 0-.6 .1 .7 0-1.5 .1 1.5 0-1.3 .1 1.3 0-.6 .1 .7 0-.5 .1-.3 0-.6 .1 1.3 0-1.2 .1 1.8 .1-1 .1-.5 0 .9 .3-.3 .1-1.4 0 1.3 .1-.4 0 .8 .1 .7 0-1.8 .1 .9 0 .3 .1-1.4 0 1.3 .1-.3 0-1.8 .1 1.4 0-1.5 .1 1.3 0-.5 .1 .7 .1-1.1 0 .2 .1 1.5 0-.9 .1 1.2 .1-1 .1-.8 0-.3 .1-.5 0 1.1 .1 .8 0 .3 .1-.9 0-1.2 .1 1.3 0-.5 .1-.3 .1 .7 0 .2 .1 .7 0-1.3 .1 .6 0-.6 .1 .8 0-1.7 .1 2.1 0-1.3 .1 1.2 .1-1.1 0 .4 .1 .5 .2-.7 .1-.4 .1 .4 0 .5 .1-.8 0-.4 .1 1.2 0-.5 .1 .6 0-1.8 .1 2.2 0-2.3 .1 .5 0 1 0-.4 .1 .5 0-.9 .1-.5 .1 .9 0-.6 .1 .3 0 .6 .1-.8 0 1.3 .1-1.7 .1 .4 0 .4 .1-.8 .1 1.3 0-.7 .2-.8 .1 1.1 .1-.9 .1 1 0-1.1 .1 1.5 0-.4 .1-.9 0 .8 .1 .4 0-1.2 .1 .7 0-1.4 .1 1.7 0-.9 .1 .9 0-1 .1 1 0-1.9 .1 1 .1 .6 .1-.3 .1 .7 .1-.8 .2-.7 0 1.2 .1-.9 0 1.4 .1-1.1 0-.6 .1 1.9 0-1.4 .1 1 .1-.6 0-.9 .1 1 0-1.2 .1 2.4 0-.4 .1-.4 0-1 .1 1.1 .1-.3 .1-.9 0 .6 .1-.3 0 .5 .2-.3 0-1.1 0 1.1 .2-1 0 .5 .1-.3 .1 1.4 0-.9 .1 1.1 0-1.6 .1 .8 0-.5 .1 1.1 .1-.6 0-.5 .1 1.1 .1-1 .1 1.1 .1-.7 0 .3 .1-1.4 0 1.6 .1-1.3 .1-.5 .1 1.3 0-.5 .2 1.4 .1-1.1 0-.5 .1 .6 .1-.6 0-.4 .1 .7 .1 .5 0 .4 .1-.3 .1-.6 0-.3 .1 1.5 .1 0" fill="none" stroke="#000" stroke-width="1.15" stroke-linejoin="round"/>
<text x="259.50" y="306.61" class="il">10²</text>
<text x="259.50" y="287.72" class="il">2 × 10²</text>
<text x="259.50" y="276.66" class="il">3 × 10²</text>
<path d="M265.30 314.23H271.30M265.30 310.59H271.30M265.30 307.38H271.30M260.80 304.51H271.30M265.30 285.62H271.30M265.30 274.56H271.30" stroke="#000" stroke-width="1.15"/>
<rect x="271.30" y="270.81" width="83.2" height="43.9" fill="none" stroke="#000" stroke-width="1.1"/>
<text x="166.44" y="235.11" class="nm">IWSLT14</text>
<rect x="83.30" y="209.61" width="277.8" height="111.5" fill="none" stroke="#333" stroke-width="1.2"/>
<text x="95.93" y="351.51" class="xl">0%</text>
<text x="146.44" y="351.51" class="xl">20%</text>
<text x="196.95" y="351.51" class="xl">40%</text>
<text x="247.45" y="351.51" class="xl">60%</text>
<text x="297.96" y="351.51" class="xl">80%</text>
<text x="348.47" y="351.51" class="xl">100%</text>
<text x="62.00" y="310.52" class="yl">100</text>
<text x="62.00" y="268.96" class="yl">200</text>
<text x="62.00" y="227.40" class="yl">300</text>
<path d="M95.93 321.11V331.51M146.44 321.11V331.51M196.95 321.11V331.51M247.45 321.11V331.51M297.96 321.11V331.51M348.47 321.11V331.51M72.30 305.82H83.30M72.30 264.26H83.30M72.30 222.70H83.30" stroke="#444" stroke-width="1.3"/></g>
<g><path d="M456.2 316.3l.1-4.7 0-4.9 .1-4.6 0-4 0-4.6 .1-4.1 0-4 .1-3.4 0-4.1 0-4 .1-3.4 0-3.7 .1-3 0-3.2 .1-2.9 0-2.5 0-3.1 .1-2.3 0-2.1 .1-2.4 0-2.2 .1-2 0-2 .1-1.6 0-2 .1-1.6 0-1.2 0-.5 .1-1.9 0-.9 .1-.4 0-1.6 .1-.3 0-1.1 0-.8 .1-1 .1 .5 0-1.4 .1 1 0 .5 .1-.5 0 .3 .1-1 0-.5 .1 .4 .1-.3 .1-.5 0 .7 .1 .3 0-.8 .1 1.2 0-1 .2 1.2 0-1.2 .2-1 .1 .7 .1 1.1 0-.5 .1-1.6 0 .6 .1 .6 .1-.9 0 .4 .1 .4 .1-1 0 .4 .1 .7 .1-.7 .1 .5 0-.3 0-.6 .1 .7 0-.4 .1 .6 .1-.6 .2-.8 0 .5 .1-.5 .1-1.3 0 .6 .1 .6 0 .4 0-.5 .1-.5 0-.5 .1 1 .1 .9 .4 .7 .2-1.7 .3-.6 .3 1.1 .3 1.5 .2 2.1 .3-.9 .3 1.2 .5 2 .3 1 .6 .5 .2 1.7 .6 1 .3 1.6 .2 .5 .3 1 .3 1.3 .3 .5 .5 .2 .3 .8 .3 1.3 .2 .6 .3 1.1 .3 .8 .5 .9 .3 .9 .3 1.1 .5-.2 .3 1.8 .3 1.6 .3-.6 .2 .9 .3 1.1 .6 .4 .2 .4 .6 .1 .3 1 .2 .9 .3 .7 .6 .2 .2 .9 .3 .3 .3 .5 .3 .9 .2 .5 .3-.6 .6 .6 .2 .8 .3-.7 .3 .4 .5 .3 .6 .2 .3 1 .5 .1 .3 .7 .3-.4 .2 .6 .3-.6 .6 .8 .5 .3 .6-.1 .3-.3 .2 .3 .3-.4 .3 .9 .3-.5 .2 .3 .6 .3 .3-.3 .5-.5 .6 .1 .2-.7 .3 1.1 .6 1 .2-.6 .6 0 .3 .6 .2-.7 .6 .1 .5-.2 .6-.2 .5 .4 .3-.3 .3 1.6 .3-.9 .5-.5 .3 .5 .3-1.2 .2 .5 .3-.3 .3 .4 .3 1.3 .2-.7 .3-.5 .3-.4 .5 .2 .3 1.3 .3-.4 .5-.4 .3 .6 .3-.4 .3 .3 .5-.9 .6 .2 .2 .5 .6-.2 .3 1.2 .2-.6 .6 .1 .5 .4 .6 .3 .3-.7 .2-.9 .3 1.3 .3-.5 .5-.6 .3 .7 .3 .6 .3-1.4 .2 .8 .6 .2 .3-.5 .5-.5 .6 .5 .3-.4 .5 .1 .6 0 .5 .6 .3-.5 .3-.4 .5-.7 .3 .6 .3-.7 .5-.5 .3 1.9 .3-.5 .2 .9 .3-.4 .3-.5 .3-.6 .2 .7 .3 .6 .3-.5 .5 .2 .3-.4 .3-.6 .3-.6 .2 .9 .3-.5 .3 .4 .3-.5 .2-.7 .3 .4 .3 1.1 .3-.9 .5 0 .3 .6 .5 .8 .3-.8 .6-.7 .2 .6 .3-.9 .6-.3 .2 .6 .3 .8 .3-.4 .3-.5 .2-.6 .6-.8 .3 1 .2 .4 .6 .3 .3 .3 .5 .4 .3-.5 .3 .5 .2-.5 .6 .8 .3-.6 .2-.5 .6-.5 .5 .6 .6-1.4 .6 .3 .2 .6 .6 .1 .3 1.3 .5-.2 .3-.9 .3 1.2 .5-.1 .6-.9 .5 .2 .6 .8 .5-.6 .6-.3 .5-.4 .3 .5 .5-.1 .3-.3 .3-.8 .3 1.4 .2-.5 .6-.8 .3 .7 .2 .7 .6-.7 .3-.6 .2 .5 .6-1.1 .3 .5 .2 .7 .3 .6 .3-.6 .3-.8 .5-.7 .3 1 .3 .6 .2 .6 .3-.5 .3-.8 .5 0 .3-.6 .3-.5 .5 .6 .6 0 .3-.7 .5 0 .6 .3 .5-.6 .6 .4 .5 .1 .3-.3 .5 .2 .3 .4 .3-.6 .3 .8 .2-.6 .3 .4 .3-.5 .5 .7 .3-.8 .3 .4 .3-.6 .3 .4 .5-.8 .6-.1 .5-.7 .6 .8 .5-.4 .3-1 .3 .6 .5 .6 .3-.9 .5 .3 .6 .6 .3-.7 .5-.2 .6 0 .5 .3 .3 .9 .3-.7 .2-.4 .3 .9 .3-.8 .5-.7 .3 .5 .3 .4 .3-.6 .5 .5 .6-.8 .5-.5 .3 1 .5-.6 .6-.3 .5 .7 .6-.3 .3-.5 .5 .2 .3 .4 .3-.4 .5-.7 .3 .7 .5 1 .6-1.1 .5-.1 .3 .5 .6-.1 .2-.3 .6 .3 .3-1.1 .2 .6 .6 .3 .5-.6 .3 .7 .3-1.3 .3 .6 .2-.5 .6 .7 .6 0 .2-.8 .6 .4 .3-.4 .2 .5 .3-1 .6 .5 .2-.4 .3-.4 .6 .7 .2 .5 .3-.6 .3 .3 .5 .4 .6 .1 .5-.9 .3-.7 .6 .5 .2-.6 .6-.5 .3 .5 .2-.5 .3-.4 .3 1.5 .3-.7 .2 1.2 .3-2.2 .3 .6 .5-.3 .3-.7 .3 .5 .5 .5 .6 .2 .5-.1 .3 .7 .3-.4 .3-.4 .5-.8 .3-.5 .3 .6 .5 .2 .6-.4 .2 1 .6-.7 .3-.7 .2 .5 .6-.2 .5 0 .6 .6 .3-.4 .5-.6 .6 .6 .2-.5 .3 .8 .3-1 .5 .3 .6-.5 .3-.4 .5-.4 .3 .7 .3-.4 .5 .1 .3-1.1 .6 1.3 .2-.5 .3-.5 .3-.7 .5-.1 .6-.2 .5 .4 .3 .8 .3-1.1 .5-.1 .3 .4 .3 .6 .3-.8 .2 .6 .3 .4 .3-.5 .3-.6 .5 0 .6 .8 .2-.5 .3-.6 .3-.4 .3-.4 .2 1.5 .3-.6 .6-.5 .5 .5 .6 .3 .2-1.3 .3 .5 .3-1.1 .5 .2 .3 .5 .6-.1 .5-.8 .3-.3 .3 .5 .5 0 .6 .2 .2-.6 .3-.3 .3 .4 .5 1.4 .3-1.4 .3 .5 .3-1 .5-.5 .3-.6 .3 1.1 .2-.6 .6 .1 .3 .3 .2-.5 .6 .8 .3-.5 .2 .3 .3-1.4 .6-1.2 .3 1.2 .5 .5 .3 .6 .3-.6 .2-.3 .6-.5 .5-.3 .6 .5 .3-1.2 .2 .6 .3-.8 .3 1.1 .5-.3 .6-.2 .3-.3 .2-.3 .3-.5 .3 .7 .5-.5 .3 .7 .3-.7 .3-1 .2 .4 .6 .6 .3 .3 .5 .3 .3-.9 .5-.5 .6-.5 .3 .9 .2-.9 .3-.5 .6-.1 .5 .7 .6-.3 .2-.5 .3 .9 .3-.8 .3 .5 .2-.4 .6 .3 .3-.3 .2-1.1 .3-.4 .6 0 .2 .8 .3-.6 .3-.4 .3 .8 .2-.6 .3 1.6 .3-1.6 .3 .4 .2-1.2 .3-.5 .6 .8 .5-.3 .6-.1 .5-.4 .3 .8 .3-.8 .5 .3 .6-1.2 .5-1 .3-.5 .3 1.7 .3-.7 .5-1.1 .3 .8 .3 .6 .2 .8 .3-1 .3-.4 .3 .4 .5 .2 .6-.5 .2-.9 .3-.5 .3 .4 .3 .7 .2-.9 .6 1.1 .3-.8 .2-1.1 .3-1.1 .3 .3 .3 .4 .2 .7 .3-.6 .6 .6 .2-.4 .3-.5 .3-.4 .3 .6 .5 .4 .3-.3 .3 .7 .2-.9 .3-1 .3 1.2 .3-1 .2 .6 .3-2 .3 1.1 .5-.2 .3-.4 .3-.4 .3-.3 .2 .8 .3-.4 .3-.4 .3-.8 .2 .5 .3-.7 .3 .9 .3-.8 .2 .6 .3-.7 .3-.7 .3 .3 .5-.7 .3 1.3 .3-.4 .2 .3 .3-.5 .3-.7 .5-.1 .3-1.5 .3 1.2 .3-.6 .2 .6 .3-.8 .6-.2 .5-1.5 .3 .8 .3-.4 .3-1 .5-.7 .3 .8 .5 .5 .3-.3 .3 .5 .3-.3 .2-.4 .3 .7 .6-1 .5 .9 .3-.5 .3-.7 .2-.5 .6-.3 .3-.7 .5 .9 .3-1.5 .5-.1 .3 .8 .3-.4 .5-.2 .3 .6 .3-1.1 .3-.3 .2-.7 .3 .6 .3 .4 .3-1.8 .5-.3 .3 1.4 .3 .3 .2-.3 .3-.3 .3-.5 .5 .1 .3 .6 .3-.9 .3-.8 .2 .5 .3-.5 .6 0 .5-.2 .3 .5 .3-.4 .5-.3 .3-.3 .5-.7 .3 .3 .3-.7 .3 1 .2-.4 .6-.9 .5 .5 .3 .6 .3-.9 .3 .3 .2-1 .3 .4 .3 .7 .3-.6 .2 .4 .3-.6 .6-.4 .3-1.6 .2-.7 .6 .9 .3 1.6 .2-.4 .3 .5 .3-1.1 .3-.3 .5 .8 .3-1.2 .3-.7 .2 .5 .3 .3 .6 .2 .5 .9 .3-.8 .5-1.5 .3 .5 .3-.6 .3-.4 .2 1 .3-.4 .3 1.6 .3-.9 .2-.4 .3-.4 .3-.3 .3 .8 .2 .5 .3 .5 .3 1 .3-.5 .2 .9 .3-1.2 .3 .8 .3-.5 .5-.3 .3 .4 .3-1.2 .2 1.4 .3-.4 .6-.6 .2 .4 .3-.4 .3 .9 .3-.3 .5-.6 .3 .8 .3 .7 .2-.3 .3 .7 .3-.5 .3-.8 .2 .8 .3-1 .3 .5 .3-.4 .2-.9 .6 .9 .3 .3 .2-.6 .6 .6 .3 .6" fill="none" stroke="#efa735" stroke-width="3" stroke-linejoin="round" stroke-linecap="square"/>
<rect x="443.60" y="209.61" width="277.8" height="111.5" fill="none" stroke="#333" stroke-width="1.2"/>
<text x="456.23" y="351.51" class="xl">0%</text>
<text x="506.74" y="351.51" class="xl">20%</text>
<text x="557.25" y="351.51" class="xl">40%</text>
<text x="607.75" y="351.51" class="xl">60%</text>
<text x="658.26" y="351.51" class="xl">80%</text>
<text x="708.77" y="351.51" class="xl">100%</text>
<text x="422.30" y="303.88" class="yl">100</text>
<text x="422.30" y="275.10" class="yl">150</text>
<text x="422.30" y="246.32" class="yl">200</text>
<text x="422.30" y="217.53" class="yl">250</text>
<path d="M456.23 321.11V331.51M506.74 321.11V331.51M557.25 321.11V331.51M607.75 321.11V331.51M658.26 321.11V331.51M708.77 321.11V331.51M432.60 299.18H443.60M432.60 270.40H443.60M432.60 241.62H443.60M432.60 212.83H443.60" stroke="#444" stroke-width="1.3"/></g>
<g><path d="M816.5 214.7l.1 19.7 .1 20.3 0 15.9 .1 6.9 0 .7 .1 .7 .1 .6 0 .6 .1 .5 .1 .5 0 .4 .1 .4 0 .4 .1 .3 .1 .5 .2 .5 .1 .3 .2 .3 .3 .3 .3 .2 .3 .2 .3 .1 .4 .1 .3 .2 .3 .1 .3 0 .3 .1 .3 .1 .4 0 .3 0 .3 0 .3 0 .3 0 .3-.1 .3-.2 .4-.2 .3-.2 .3-.3 .3-.3 .3-.3 .3-.3 .4-.3 .3-.3 .3-.3 .3-.3 .3-.2 .3-.3 .3-.2 .4-.1 .3-.2 .3-.2 .3-.2 .3-.2 .6-.3 .4-.2 .4-.2 .4-.2 .4-.1 .4-.2 .4-.2 .4-.1 .4-.1 .4-.1 .4-.1 .4-.2 .4-.1 .4-.1 .4-.1 .4-.1 .4-.1 .4-.1 .4-.1 .4 0 .4-.1 .4-.1 .4 0 .4-.1 .4 0 .4-.1 .4 0 .4 0 .4 0 .4 0 .4 0 .4 .1 .4 0 .4 0 .4 0 .4 0 .4 0 .4 .1 .4 0 .4 0 .4 .1 .4 0 .4 0 .4 .1 .4 0 .4 0 .4 .1 .4 0 .4 .1 .4 0 .4 0 .4 .1 .4 0 .4 .1 .4 0 .4 0 .4 .1 .4 .1 .4 0 .4 .1 .4 .1 .4 0 .4 .1 .4 .1 .4 .1 .4 .1 .4 .1 .4 0 .4 .1 .4 .1 .4 .1 .4 .1 .4 .1 .4 .1 .4 .1 .4 .1 .4 .1 .4 .1 .4 .1 .4 .1 .4 .1 .4 .1 .4 0 .4 .1 .4 .1 .4 .1 .4 .1 .4 .1 .4 0 .4 .1 .4 .1 .4 .1 .4 0 .4 .1 .4 .1 .4 .1 .4 .1 .4 0 .4 .1 .4 .1 .4 .1 .4 .1 .4 0 .4 .1 .4 .1 .4 .1 .4 0 .4 .1 .4 .1 .4 .1 .4 .1 .4 0 .4 .1 .4 .1 .4 .1 .4 .1 .4 0 .4 .1 .4 .1 .4 .1 .4 0 .4 .1 .4 .1 .4 .1 .4 0 .4 .1 .4 .1 .4 .1 .4 0 .4 .1 .4 .1 .4 .1 .4 .1 .4 .1 .4 .1 .4 .1 .4 .1 .4 .1 .4 .1 .4 .2 .4 .2 .4 .2 .4 .1 .4 .2 .4 .1 .4 .1 .4 .2 .4 .1 .4 .1 .4 .1 .4 .1 .4 .1 .4 .1 .4 .1 .4 .2 .4 .1 .4 .1 .4 .1 .4 .1 .4 .1 .4 .1 .4 .1 .4 0 .4 .1 .4 .1 .4 .1 .4 .1 .4 .1 .4 .1 .4 .1 .4 .1 .4 .1 .4 .1 .4 0 .4 .1 .4 .1 .4 .1 .4 .1 .4 .1 .5 .1 .4 .1 .4 .1 .4 .1 .4 .1 .4 .1 .4 0 .4 .1 .4 .1 .4 .1 .4 .1 .4 .1 .4 .1 .4 .1 .4 .1 .4 .1 .4 .1 .4 .1 .4 0 .4 .1 .4 .1 .4 .1 .4 .1 .4 .1 .4 .1 .4 .1 .4 .1 .4 0 .4 .1 .4 .1 .4 .1 .4 .1 .4 .1 .4 .1 .4 .1 .4 0 .4 .1 .4 .1 .4 .1 .4 .1 .4 .1 .4 .1 .4 0 .4 .1 .4 .1 .4 .1 .4 .1 .4 .1 .4 .1 .4 0 .4 .1 .4 .1 .4 .1 .4 .1 .4 .1 .4 0 .4 .1 .4 .1 .4 .1 .4 .1 .4 .1 .4 .1 .4 0 .4 .1 .4 .1 .4 .1 .4 .1 .4 .1 .4 0 .4 .1 .4 .1 .4 .1 .4 .1 .4 .1 .4 0 .4 .1 .4 .1 .4 .1 .4 .1 .4 .1 .4 0 .4 .1 .4 .1 .4 .1 .4 .1 .4 .1 .4 0 .4 .1 .4 .1 .4 .1 .4 .1 .4 0 .4 .1 .4 .1 .4 .1 .4 .1 .4 .1 .4 0 .4 .1 .4 .1 .4 .1 .4 .1 .4 0 .4 .1 .4 .1 .4 .1 .4 .1 .4 0 .4 .1 .4 .1 .4 .1 .4 .1 .4 0 .4 .1 .4 .1 .4 .1 .4 .1 .4 0 .4 .1 .4 .1 .4 .1 .4 0 .4 .1 .4 .1 .4 .1 .4 0 .4 .1 .4 .1 .4 .1 .4 .1 .4 0 .4 .1 .4 .1 .4 .1 .4 0 .4 .1 .4 .1 .4 .1 .4 0 .4 .1 .4 .1 .4 .1 .4 0 .4 .1 .4 .1 .4 0 .4 .1 .4 .1 .4 .1 .4 0 .4 .1 .4 .1 .4 .1 .4 0 .4 .1 .4 .1 .4 0 .4 .1 .4 .1 .4 .1 .4 0 .4 .1 .4 .1 .4 .1 .4 0 .4 .1 .4 .1 .4 0 .4 .1 .4 .1 .4 0 .4 .1 .4 .1 .4 .1 .4 0 .4 .1 .4 .1 .4 0 .4 .1 .4 .1 .4 0 .4 .1 .4 .1 .4 0 .4 .1 .4 .1 .4 0 .4 .1 .5 .1 .4 0 .4 .1 .4 .1 .4 .1 .4 0 .4 .1 .4 0 .4 .1 .4 .1 .4 0 .4 .1 .4 .1 .4 0 .4 .1 .4 .1 .4 0 .4 .1 .4 .1 .4 0 .4 .1 .4 .1 .4 0 .4 .1 .4 .1 .4 0 .4 .1 .4 0 .4 .1 .4 .1 .4 0 .4 .1 .4 .1 .4 0 .4 .1 .4 0 .4 .1 .4 .1 .4 0 .4 .1 .4 .1 .4 0 .4 .1 .4 0 .4 .1 .4 .1 .4 0 .4 .1 .4 0 .4 .1 .4 .1 .4 0 .4 .1 .4 0 .4 .1 .4 .1 .4 0 .4 .1 .4 0 .4 .1 .4 .1 .4 0 .4 .1 .4 0 .4 .1 .4 0 .4 .1 .4 .1 .4 0 .4 .1 .4 0 .4 .1 .4 0 .4 .1 .4 .1 .4 0 .4 .1 .4 0 .4 .1 .4 0 .4 .1 .4 .1 .4 0 .4 .1 .4 0 .4 .1 .4 0 .4 .1 .4 0 .4 .1 .4 .1 .4 0 .4 .1 .4 0 .4 .1 .4 0 .4 .1 .4 0 .4 .1 .4 .1 .4 0 .4 .1 .4 0 .4 .1 .4 0 .4 .1 .4 0 .4 .1 .4 0 .4 .1 .4 0 .4 .1 .4 0 .4 .1 .4 0 .4 .1 .4 0 .4 .1 .4 0 .4 .1 .4 0 .4 .1 .4 0 .4 .1 .4 0 .4 .1 .4 0 .4 .1 .4 0 .4 .1 .4 0 .4 .1 .4 0 .4 .1 .4 0 .4 0 .4 .1 .4 0 .4 .1 .4 0 .4 .1 .4 0 .4 0 .4 .1 .4 0 .4 .1 .4 0 .4 0 .4 .1 .4 0 .4 .1 .4 0 .4 0 .4 .1 .4 0 .4 0 .4 .1 .4 0 .4 .1 .4 0 .4 0 .4 .1 .4 0 .4 0 .4 .1 .4 0 .4 .1 .4 0 .4 0 .4 .1 .4 0 .4 0 .4 .1 .4 0 .4 0 .4 .1 .4 0 .4 0 .4 .1 .4 0 .4 0 .4 .1 .4 0 .4 0 .4 .1 .4 0 .4 0 .4 .1 .4 0 .5 0 .4 .1 .4 0 .4 0 .4 .1 .4 0 .4 0 .4 .1 .4 0 .4 0 .4 .1 .4 0 .4 0 .4 .1 .4 0 .4 0 .4 0 .4 .1 .4 0 .4 0 .4 .1 .4 0 .4 0 .4 0 .4 .1 .4 0 .4 0 .4 .1 .4 0 .4 0 .4 0 .4 .1 .4 0 .4 0 .4 0 .4 .1 .4 0 .4 0 .4 0 .4 .1 .4 0 .4 0 .4 0" fill="none" stroke="#efa735" stroke-width="3" stroke-linejoin="round" stroke-linecap="square"/>
<rect x="991.90" y="216.01" width="83.2" height="43.9" fill="#fff" fill-opacity="0.62"/>
<path d="M995.4 217.8l.2 1.2 .3 1.4 .3 1.2 .2 .7 .3 .2 .2 0 .3-.1 .2 0 .3 0 .2 0 .3-.1 .2 0 .3 0 .2-.1 .3 0 .3-.1 .2 0 .3 0 .2-.1 .3 0 .2-.1 .3 0 .2-.1 .3 0 .2-.1 .3 0 .2-.1 .3 0 .3 0 .2 0 .3-.1 .2 0 .3 0 .2 0 .3 0 .2 0 .3 0 .2 0 .3 0 .2 0 .3 0 .3 0 .2 0 .3 0 .2 .1 .3 0 .2 0 .3 0 .2 0 .3 0 .2 0 .3 0 .2 .1 .3 0 .3 0 .2 0 .3 0 .2 .1 .3 0 .2 0 .3 0 .2 0 .3 .1 .2 0 .3 0 .2 0 .3 .1 .3 0 .2 0 .3 .1 .2 0 .3 0 .2 0 .3 .1 .2 0 .3 0 .2 .1 .3 0 .2 0 .3 0 .3 .1 .2 0 .3 0 .2 .1 .3 0 .2 0 .3 .1 .2 0 .3 0 .2 .1 .3 0 .2 0 .3 .1 .2 0 .3 .1 .3 0 .2 0 .3 .1 .2 0 .3 0 .2 .1 .3 0 .2 0 .3 .1 .2 0 .3 0 .2 .1 .3 0 .3 0 .2 .1 .3 0 .2 0 .3 .1 .2 0 .3 0 .2 .1 .3 0 .2 0 .3 .1 .2 0 .3 0 .3 .1 .2 0 .3 0 .2 .1 .3 0 .2 0 .3 .1 .2 0 .3 0 .2 .1 .3 0 .2 .1 .3 0 .3 0 .2 .1 .3 0 .2 0 .3 .1 .2 0 .3 .1 .2 0 .3 0 .2 .1 .3 0 .2 .1 .3 0 .3 0 .2 .1 .3 0 .2 .1 .3 0 .2 0 .3 .1 .2 0 .3 .1 .2 0 .3 .1 .2 0 .3 0 .3 .1 .2 0 .3 .1 .2 0 .3 .1 .2 0 .3 .1 .2 0 .3 .1 .2 0 .3 .1 .2 0 .3 0 .3 .1 .2 0 .3 .1 .2 0 .3 .1 .2 0 .3 .1 .2 0 .3 .1 .2 0 .3 .1 .2 0 .3 .1 .3 0 .2 .1 .3 0 .2 .1 .3 .1 .2 0 .3 .1 .2 0 .3 .1 .2 0 .3 .1 .2 0 .3 .1 .2 0 .3 .1 .3 .1 .2 0 .3 .1 .2 0 .3 .1 .2 0 .3 .1 .2 .1 .3 0 .2 .1 .3 0 .2 .1 .3 .1 .3 0 .2 .1 .3 .1 .2 0 .3 .1 .2 0 .3 .1 .2 .1 .3 .1 .2 0 .3 .1 .2 .1 .3 0 .3 .1 .2 .1 .3 .1 .2 0 .3 .1 .2 .1 .3 .1 .2 0 .3 .1 .2 .1 .3 .1 .2 .1 .3 0 .3 .1 .2 .1 .3 .1 .2 .1 .3 .1 .2 .1 .3 0 .2 .1 .3 .1 .2 .1 .3 .1 .2 .1 .3 .1 .3 .1 .2 .1 .3 .1 .2 .1 .3 .1 .2 .1 .3 .1 .2 .1 .3 0 .2 .1 .3 .1 .2 .1 .3 .1 .3 .1 .2 .2 .3 .1 .2 .1 .3 .1 .2 .1 .3 .2 .2 .1 .3 .2 .2 .1 .3 .2 .2 .2 .3 .1 .3 .2 .2 .2 .3 .3 .2 .2 .3 .3 .2 .3 .3 .4 .2 .4 .3 .5 .2 .6 .3 .6 .2 .6 .3 .7 .3 .8 .2 .9 .3 1 .2 1.4 .3 2.2 .2 3 .3 11.2" fill="none" stroke="#000" stroke-width="1.0" stroke-linejoin="round"/>
<text x="980.10" y="228.65" class="il">10⁻¹</text>
<text x="980.10" y="246.21" class="il">10⁻²</text>
<path d="M981.40 226.55H991.90M981.40 244.11H991.90" stroke="#000" stroke-width="1.15"/>
<rect x="991.90" y="216.01" width="83.2" height="43.9" fill="none" stroke="#000" stroke-width="1.1"/>
<rect x="803.90" y="209.61" width="277.8" height="111.5" fill="none" stroke="#333" stroke-width="1.2"/>
<text x="816.53" y="351.51" class="xl">0%</text>
<text x="867.04" y="351.51" class="xl">20%</text>
<text x="917.55" y="351.51" class="xl">40%</text>
<text x="968.05" y="351.51" class="xl">60%</text>
<text x="1018.56" y="351.51" class="xl">80%</text>
<text x="1069.07" y="351.51" class="xl">100%</text>
<text x="782.60" y="320.74" class="yl">0.0</text>
<text x="782.60" y="270.06" class="yl">0.5</text>
<text x="782.60" y="219.38" class="yl">1.0</text>
<path d="M816.53 321.11V331.51M867.04 321.11V331.51M917.55 321.11V331.51M968.05 321.11V331.51M1018.56 321.11V331.51M1069.07 321.11V331.51M792.90 316.04H803.90M792.90 265.36H803.90M792.90 214.68H803.90" stroke="#444" stroke-width="1.3"/></g>
<g><path d="M95.9 373.3l.4 68.3 0 27.7 .2-.3 .2-.4 .1-.3 .2-.3 .2-.4 .1-.3 .2-.4 .2-.3 .1-.4 .2-.4 .2-.3 .1-.4 .2-.3 .2-.3 .2-.3 .2-.4 .3-.3 .3-.4 .2-.3 .4-.2 .3 0 .4 .3 .2 .3 .6 .7 .4 .4 .4 .3 .4 .4 .4 .3 .4 .2 .5 .3 .4 .2 .4 .2 .4 .2 .4 .2 .4 .1 .4 .2 .4 .1 .5 .2 .4 .1 .4 .1 .4 .1 .4 .2 .4 .1 .4 .1 .4 .1 .5 .1 .4 .1 .4 .2 .4 .1 .4 .1 .4 .1 .4 .1 .4 .1 .5 .1 .4 .1 .4 .2 .4 .1 .4 .1 .4 .1 .4 .1 .4 .1 .5 0 .4 .1 .4 .1 .4 .1 .4 .1 .4 .1 .4 .1 .5 .1 .4 .1 .4 .1 .4 .1 .4 .1 .4 0 .4 .1 .4 .1 .5 .1 .4 .1 .4 .1 .4 .1 .4 .1 .4 .2 .4 .1 .4 .1 .5 .1 .4 .1 .4 .1 .4 .1 .4 0 .4 .1 .4 .1 .4 .1 .5 .1 .4 0 .4 .1 .4 0 .4 .1 .4 0 .4 .1 .4 .1 .5 0 .4 .1 .4 0 .4 .1 .4 0 .4 .1 .4 0 .4 0 .5 .1 .4 0 .4 .1 .4 0 .4 0 .4 .1 .4 0 .4 0 .5 .1 .4 0 .4 0 .4 .1 .4 0 .4 0 .4 0 .4 .1 .5 0 .4 0 .4 0 .4 0 .4 .1 .4 0 .4 0 .4 0 .5 0 .4 0 .4 .1 .4 0 .4 0 .4 0 .4 0 .4 0 .5 0 .4 0 .4 .1 .4 0 .4 0 .4 0 .4 0 .4 0 .5 0 .4 0 .4 0 .4 0 .4 0 .4 .1 .4 0 .4 0 .5 0 .4 0 .4 0 .4 0 .4 0 .4 0 .4 0 .4 0 .5 0 .4 0 .4 0 .4 0 .4 0 .4 .1 .4 0 .4 0 .5 0 .4 0 .4 0 .4 0 .4 0 .4 0 .4 0 .4 0 .5 0 .4 0 .4 0 .4 0 .4 0 .4 0 .4 0 .4 0 .5 0 .4 0 .4 0 .4 0 .4 0 .4 .1 .4 0 .4 0 .5 0 .4 0 .4 0 .4 0 .4 0 .4 0 .4 0 .4 0 .5 0 .4 0 .4 0 .4 0 .4 0 .4 0 .4 0 .4 0 .5 0 .4 0 .4 0 .4 0 .4 0 .4 0 .4 0 .4 0 .5 0 .4 0 .4 0 .4 0 .4 0 .4 0 .4 0 .4 0 .5 0 .4 0 .4 0 .4 0 .4 0 .4 0 .4 0 .4 0 .5 0 .4 0 .4 0 .4 0 .4 0 .4 0 .4 0 .4 0 .5 0 .4 0 .4 0 .4 0 .4 0 .4 0 .4 0 .4 0 .5 0 .4 0 .4 0 .4 0 .4 0 .4 0 .4 0 .4 0 .5 0 .4 0 .4 0 .4 0 .4 0 .4 0 .4 0 .4 0 .5 0 .4 0 .4 0 .4 0 .4 0 .4 0 .4 0 .4 0 .5 0 .4 0 .4 0 .4 0 .4 0 .4 0 .4 0 .4 0 .5 0 .4 0 .4 0 .4 0 .4 0 .4 0 .4 0 .4 0 .5 0 .4 0 .4 0 .4 0 .4 0 .4 0 .4 0 .4 0 .5 0 .4 0 .4 0 .4 0 .4 0 .4 0 .4 0 .4 0 .5 0 .4 0 .4 0 .4 0 .4 0 .4 .1 .4 0 .4 0 .5 0 .4 0 .4 0 .4 0 .4 0 .4 0 .4 0 .4 0 .5 0 .4 0 .4 0 .4 0 .4 0 .4 0 .4 0 .4 0 .5 0 .4 0 .4 0 .4 0 .4 0 .4 0 .4 0 .4 0 .5 0 .4 0 .4 0 .4 0 .4 0 .4 0 .4 0 .4 0 .5 0 .4 0 .4 0 .4 0 .4 0 .4 0 .4 0 .4 0 .5 0 .4 0 .4 0 .4 0 .4 0 .4 0 .4-.1 .4 0 .5 0 .4 0 .4 0 .4 0 .4 0 .4 0 .4 0 .4 0 .5 0 .4 0 .4 0 .4 0 .4 0 .4 0 .4 0 .4 0 .5 0 .4 0 .4 0 .4 0 .4 0 .4 0 .4 0 .4 0 .5 0 .4 0 .4 0 .4 0 .4 0 .4 0 .4 0 .4 0 .5 0 .4 0 .4 0 .4 0 .4 0 .4 0 .4 0 .4 0 .5 0 .4 0 .4 0 .4 0 .4 0 .4 0 .4 0 .4 0 .5 0 .4 0 .4 0 .4 0 .4 0 .4 0 .4 0 .4 0 .5 0 .4 0 .4 0 .4 0 .4 0 .4 0 .4 0 .4 0 .5 0 .4 0 .4 0 .4 0 .4 0 .4 0 .4 0 .4 0 .5 0 .4 0 .4 0 .4 0 .4 0 .4 0 .4 0 .4 0 .5 0 .4 0 .4 0 .4 0 .4 0 .4 0 .4 0 .4 0 .5 0 .4 0 .4 0 .4 0 .4 0 .4 0 .4 0 .4 0 .5 0 .4 0 .4 0 .4 0 .4 0 .4 0 .4 0 .4 0 .5 0 .4 0 .4 0 .4 0 .4 0 .4 0 .4 0 .4 0 .5 0 .4 0 .4 0 .4 0 .4 0 .4 0 .4 0 .4 0 .5 0 .4 0 .4-.1 .4 0 .4 0 .4 0 .4 0 .4 0 .5 0 .4 0 .4 0 .4 0 .4 0 .4 0 .4 0 .4 0 .5 0 .4 0 .4 0 .4 0 .4 0 .4 0 .4 0 .4 0 .5 0 .4 0 .4 0 .4 0 .4 0 .4 0 .4 0 .4 0 .5 0 .4 0 .4 0 .4 0 .4 0 .4 0 .4 0 .4 0 .5 0 .4 0 .4 0 .4 0 .4 0 .4 0 .4 0 .4 0 .5 0 .4 0 .4 0 .4 0 .4 0 .4 0 .4 0 .4 0 .5 0 .4-.1 .4 0 .4 0 .4 0 .4 0 .4 0 .4 0 .5 0 .4 0 .4 0 .4 0 .4 0 .4 0 .4 0 .4 0 .5 0 .4 0 .4 0 .4 0 .4 0 .4 0 .4 0 .4 0 .5 0 .4 0 .4 0 .4 0 .4 0 .4 0 .4 0 .4 0 .5 0 .4 0 .4 0 .4 0 .4 0 .4 0 .4 0 .4-.1 .5 0 .4 0 .4 0 .4 0 .4 0 .4 0 .4 0 .4 0 .5 0 .4 0 .4 0 .4 0 .4 0 .4 0 .4 0 .4 0 .5 0 .4 0 .4 0 .4 0 .4 0 .4 0 .4 0 .4 0 .5 0 .4 0 .4 0 .4 0 .4 0 .4 0 .4 0 .4 0 .5 0 .4 0 .4 0 .4 0 .4 0 .4 0 .4 0 .4 0 .5 0 .4 0" fill="none" stroke="#efa735" stroke-width="3" stroke-linejoin="round" stroke-linecap="square"/>
<rect x="271.30" y="374.72" width="83.2" height="43.9" fill="#fff" fill-opacity="0.62"/>
<path d="M275.08 376.72L275.20 388.14" stroke="#555" stroke-width="0.9" fill="none"/>
<path d="M275.2 388.1l0 16.1 0-.3 .1-.4 0-.3 .1-.3 0-.3 0-.3 .1-.3 0-.2 0-.3 .1-.3 0-.3 .1-.2 0-.3 0-.3 .1-.2 0-.3 .1-.3 0-.3 .1-.2 .1-.3 0-.3 .1-.2 .1-.3 .3 .2 .1 .2 .1 .6 .2 .3 .1 .2 .1 .3 .1 .3 .3 .5 .2 .3 .3 .4 .2 .3 .3 .3 .2 .3 .3 .3 .2 .2 .3 .3 .2 .3 .2 .3 .3 .3 .2 .2 .3 .3 .2 .3 .3 .3 .2 .2 .3 .3 .2 .3 .3 .3 .2 .3 .3 .3 .2 .3 .3 .3 .2 .3 .3 .4 .2 .4 .2 .5 .3 .4 .2 .4 .3 .4 .2 .3 .3 .3 .2 .3 .3 .3 .2 .3 .3 .3 .2 .2 .3 .3 .2 .3 .4 .3 .4 .4 .3 .3 .4 .3 .4 .2 .3 .2 .4 .2 .4 .2 .4 .2 .3 .1 .4 .1 .4 .2 .3 .1 .4 .1 .4 .1 .3 .1 .4 0 .4 .1 .4 .1 .3 0 .4 .1 .4 .1 .3 0 .4 .1 .4 0 .4 .1 .3 0 .4 .1 .4 0 .3 0 .4 .1 .4 0 .3 0 .4 0 .4 0 .4 0 .3 .1 .4 0 .4 0 .3 0 .4 0 .4 0 .4 0 .3 0 .4 .1 .4 0 .3 0 .4 0 .4 0 .3 0 .4 0 .4 0 .4 0 .3 0 .4 0 .4 0 .3 .1 .4 0 .4 0 .4 0 .3 0 .4 0 .4 0 .3 0 .4 0 .4 0 .3 0 .4 0 .4 0 .4 0 .3 0 .4 0 .4 0 .3 0 .4 0 .4 0 .4 0 .3 0 .4 0 .4 0 .3 0 .4 0 .4 0 .3 0 .4 0 .4 0 .4 0 .3 0 .4 0 .4 0 .3 0 .4 0 .4 0 .4 0 .3 0 .4-.1 .4 0 .3 0 .4 0 .4 0 .3 0 .4 0 .4 0 .4 0 .3 0 .4-.1 .4 0 .3 0 .4 0 .4 0 .4 0 .3 0 .4 0 .4 0 .3-.1 .4 0 .4 0 .4 0 .3 0 .4 0 .4 0 .3-.1 .4 0 .4 0 .3 0 .4 0 .4 0 .4 0 .3-.1 .4 0 .4 0 .3 0 .4 0 .4 0 .4-.1 .3 0 .4 0 .4 0 .3-.1 .4 0 .4 0 .3 0 .4-.1 .4 0 .4 0 .3-.1 .4 0 .4 0 .3-.1 .4 0 .4 0 .4-.1 .3 0 .4 0 .4-.1 .3 0 .4 0 .4 0 .3-.1 .4 0 .4 0 .4 0 .3-.1 .4 0 .4 0 .3 0 .4 0 .4 0 .4-.1 .3 0 .4 0 .1 0" fill="none" stroke="#000" stroke-width="1.15" stroke-linejoin="round"/>
<text x="259.50" y="412.95" class="il">10³</text>
<text x="259.50" y="388.38" class="il">10⁴</text>
<path d="M265.30 418.25H271.30M265.30 416.30H271.30M265.30 414.65H271.30M265.30 413.23H271.30M265.30 411.97H271.30M260.80 410.85H271.30M265.30 403.45H271.30M265.30 399.13H271.30M265.30 396.06H271.30M265.30 393.67H271.30M265.30 391.73H271.30M265.30 390.08H271.30M265.30 388.66H271.30M265.30 387.40H271.30M260.80 386.28H271.30M265.30 378.88H271.30" stroke="#000" stroke-width="1.15"/>
<rect x="271.30" y="374.72" width="83.2" height="43.9" fill="none" stroke="#000" stroke-width="1.1"/>
<text x="166.44" y="393.82" class="nm">GPT</text>
<rect x="83.30" y="368.32" width="277.8" height="111.5" fill="none" stroke="#333" stroke-width="1.2"/>
<text x="95.93" y="510.22" class="xl">0%</text>
<text x="146.44" y="510.22" class="xl">20%</text>
<text x="196.95" y="510.22" class="xl">40%</text>
<text x="247.45" y="510.22" class="xl">60%</text>
<text x="297.96" y="510.22" class="xl">80%</text>
<text x="348.47" y="510.22" class="xl">100%</text>
<text x="62.00" y="481.92" class="yl">0</text>
<text x="62.00" y="439.52" class="yl">10000</text>
<text x="62.00" y="397.12" class="yl">20000</text>
<path d="M95.93 479.82V490.22M146.44 479.82V490.22M196.95 479.82V490.22M247.45 479.82V490.22M297.96 479.82V490.22M348.47 479.82V490.22M72.30 477.22H83.30M72.30 434.82H83.30M72.30 392.42H83.30" stroke="#444" stroke-width="1.3"/></g>
<g><path d="M456.2 372.5l.3 43.1 0 51.1 .3 .3 .4 .2 .3 0 .4 0 .3-.2 .3-.3 .2-.4 .3-.3 .4-.3 .3-.3 .3-.2 .4-.3 .3-.2 .3 0 .4 0 .6 .2 .4 .4 .4 .3 .4 .4 .4 .3 .4 .3 .4 .2 .5 .2 .4 .2 .4 .2 .4 .1 .4 .2 .4 .1 .4 .2 .4 .1 .5 .1 .4 .1 .4 .2 .4 .1 .4 .1 .4 .1 .4 .1 .4 .2 .5 .1 .4 .1 .4 .1 .4 .1 .4 .1 .4 .1 .4 .1 .4 .1 .5 .1 .4 .1 .4 .1 .4 .1 .4 .1 .4 .1 .4 .1 .4 .1 .5 0 .4 .1 .4 .1 .4 .1 .4 .1 .4 0 .4 .1 .4 .1 .5 .1 .4 .1 .4 0 .4 .1 .4 .1 .4 .1 .4 0 .5 .1 .4 .1 .4 0 .4 .1 .4 .1 .4 0 .4 .1 .4 .1 .5 0 .4 .1 .4 0 .4 .1 .4 0 .4 .1 .4 0 .4 .1 .5 0 .4 .1 .4 0 .4 .1 .4 0 .4 0 .4 .1 .4 0 .5 .1 .4 0 .4 .1 .4 0 .4 0 .4 .1 .4 0 .4 0 .5 .1 .4 0 .4 0 .4 .1 .4 0 .4 0 .4 .1 .4 0 .5 0 .4 0 .4 .1 .4 0 .4 0 .4 0 .4 .1 .4 0 .5 0 .4 0 .4 0 .4 0 .4 .1 .4 0 .4 0 .5 0 .4 0 .4 0 .4 .1 .4 0 .4 0 .4 0 .4 0 .5 0 .4 0 .4 0 .4 .1 .4 0 .4 0 .4 0 .4 0 .5 0 .4 0 .4 0 .4 0 .4 0 .4 0 .4 0 .4 .1 .5 0 .4 0 .4 0 .4 0 .4 0 .4 0 .4 0 .4 0 .5 0 .4 0 .4 0 .4 0 .4 0 .4 0 .4 0 .4 0 .5 .1 .4 0 .4 0 .4 0 .4 0 .4 0 .4 0 .4 0 .5 0 .4 0 .4 0 .4 0 .4 0 .4 0 .4 0 .5 0 .4 0 .4 0 .4 0 .4 0 .4 0 .4 0 .4 0 .5 0 .4 0 .4 0 .4 0 .4 0 .4 0 .4 0 .4 0 .5 .1 .4 0 .4 0 .4 0 .4 0 .4 0 .4 0 .4 0 .5 0 .4 0 .4 0 .4 0 .4 0 .4 0 .4 0 .4 0 .5 0 .4 0 .4 0 .4 0 .4 0 .4 0 .4 0 .4 0 .5 0 .4 0 .4 0 .4 0 .4 0 .4 0 .4 0 .4 0 .5 0 .4 0 .4 0 .4 0 .4 0 .4 0 .4 0 .4 0 .5 0 .4 0 .4 0 .4 0 .4 0 .4 0 .4 0 .5 0 .4 0 .4 0 .4 0 .4 0 .4 0 .4 0 .4 0 .5 0 .4 0 .4 0 .4 0 .4 0 .4 0 .4 0 .4 0 .5 0 .4 0 .4 0 .4 0 .4 0 .4 0 .4 0 .4 0 .5 0 .4 0 .4 0 .4 0 .4 0 .4 0 .4 0 .4 0 .5 0 .4 0 .4 0 .4 0 .4 0 .4 0 .4 0 .4 0 .5 0 .4 0 .4 0 .4 0 .4 0 .4 0 .4 0 .4 0 .5 0 .4 0 .4 0 .4 0 .4 0 .4 0 .4 0 .5 0 .4 0 .4 0 .4 0 .4 0 .4 0 .4 0 .4 0 .5 0 .4 0 .4 0 .4 0 .4 0 .4 0 .4 0 .4 0 .5 0 .4 0 .4 0 .4 0 .4 0 .4 0 .4 0 .4 0 .5 0 .4 0 .4 0 .4 0 .4 0 .4 0 .4 0 .4 0 .5 0 .4 0 .4 0 .4 0 .4 0 .4 0 .4 0 .4 0 .5 0 .4 0 .4 0 .4 0 .4 0 .4 0 .4 0 .4 0 .5 0 .4 0 .4 0 .4 0 .4 0 .4 0 .4 0 .5 0 .4 0 .4 0 .4 0 .4 0 .4 0 .4 0 .4 0 .5 0 .4 0 .4 0 .4 0 .4 0 .4 0 .4 0 .4 0 .5 0 .4 0 .4 0 .4 0 .4 0 .4 0 .4 0 .4 0 .5 0 .4 0 .4 0 .4 0 .4 0 .4 0 .4 0 .4 0 .5 0 .4 0 .4 0 .4 0 .4 0 .4 0 .4 0 .4 0 .5 0 .4 0 .4 0 .4 0 .4 0 .4 0 .4 0 .4 0 .5 0 .4 0 .4 0 .4 0 .4 0 .4 0 .4 0 .5 0 .4 0 .4 0 .4 0 .4 0 .4 0 .4 0 .4 0 .5 0 .4 0 .4 0 .4 0 .4 0 .4 0 .4 0 .4 0 .5 0 .4 0 .4 0 .4 0 .4 0 .4 0 .4 0 .4 0 .5 0 .4 0 .4 0 .4 0 .4 0 .4 0 .4 0 .4 0 .5 0 .4 0 .4 0 .4 0 .4 0 .4 0 .4 0 .4 0 .5 0 .4 0 .4 0 .4 0 .4 0 .4 0 .4 0 .4 0 .5 0 .4 0 .4 0 .4 0 .4 0 .4 0 .4 0 .5 0 .4 0 .4 0 .4 0 .4 0 .4 0 .4 0 .4 0 .5 0 .4 0 .4 0 .4 0 .4 0 .4 0 .4 0 .4 0 .5 0 .4 0 .4 0 .4 0 .4 0 .4 0 .4 0 .4 0 .5 0 .4 0 .4 0 .4 0 .4 0 .4 0 .4 0 .4 0 .5 0 .4 0 .4 0 .4-.1 .4 0 .4 0 .4 0 .4 0 .5 0 .4 0 .4 0 .4 0 .4 0 .4 0 .4 0 .4 0 .5 0 .4 0 .4 0 .4 0 .4 0 .4 0 .4 0 .5 0 .4 0 .4 0 .4 0 .4 0 .4 0 .4 0 .4 0 .5 0 .4 0 .4 0 .4 0 .4 0 .4 0 .4 0 .4 0 .5 0 .4 0 .4 0 .4 0 .4 0 .4 0 .4 0 .4 0 .5 0 .4 0 .4 0 .4 0 .4 0 .4 0 .4 0 .4 0 .5 0 .4 0 .4 0 .4 0 .4 0 .4 0 .4 0 .4 0 .5 0 .4 0 .4 0 .4 0 .4 0 .4 0 .4 0 .4 0 .5 0 .4 0 .4 0 .4 0 .4 0 .4 0 .4 0 .5 0 .4 0 .4 0 .4 0 .4 0 .4 0 .4 0 .4 0 .5 0 .4 0 .4 0 .4 0 .4 0 .4 0 .4 0 .4 0 .5 0 .4 0 .4 0 .4 0 .4 0 .4 0 .4 0 .4 0 .5 0 .4 0 .4 0 .4 0 .4 0 .4 0 .4 0 .4 0 .5 0 .4 0 .4 0 .4 0 .4 0 .4 0 .4 0 .4 0 .5 0 .4 0" fill="none" stroke="#efa735" stroke-width="3" stroke-linejoin="round" stroke-linecap="square"/>
<rect x="443.60" y="368.32" width="277.8" height="111.5" fill="none" stroke="#333" stroke-width="1.2"/>
<text x="456.23" y="510.22" class="xl">0%</text>
<text x="506.74" y="510.22" class="xl">20%</text>
<text x="557.25" y="510.22" class="xl">40%</text>
<text x="607.75" y="510.22" class="xl">60%</text>
<text x="658.26" y="510.22" class="xl">80%</text>
<text x="708.77" y="510.22" class="xl">100%</text>
<text x="422.30" y="481.62" class="yl">0</text>
<text x="422.30" y="439.82" class="yl">10000</text>
<text x="422.30" y="398.02" class="yl">20000</text>
<path d="M456.23 479.82V490.22M506.74 479.82V490.22M557.25 479.82V490.22M607.75 479.82V490.22M658.26 479.82V490.22M708.77 479.82V490.22M432.60 476.92H443.60M432.60 435.12H443.60M432.60 393.32H443.60" stroke="#444" stroke-width="1.3"/></g>
<g><path d="M816.5 474.2l.1-5.4 .1-4.9 0-4.9 .1-5.2 0-4.7 .1-3.3 .1-2.9 0-1.1 .2-.8 0 .4 .2 .4 .1-.4 .1 .3 .1-.4 0-.3 .2 .6 0-.3 .3 .1 .3 0 .4 .2 0-.4 .2 .4 0 .5 .3 .3 .1 .7 .3 .5 .1 .5 .2 .4 .2 .5 .1 .7 .2 .5 .2 .4 .3-.1 0 .7 .2 .5 .3 .2 .3 .3 .1-.7 .1 .4 0-.4 .2 .4 .1-.4 .3-.5 0 .5 .1-.7 0 .4 .2-.7 0 .5 .3-.5 0-.7 .1 .5 .1-.5 .2 .4 0-.6 .1-.4 .1 .5 .1-.5 .1-.3 .3-.4 .3-.7 .4 0 .1-.4 .4-.5 .2-.9 .1 .7 .2-.6 .3-.3 0-.4 .1 .4 .1-.4 .2-.3 .3-.2 .1-.5 .1 .4 .1-.3 .3-.5 .1-.4 0 .4 .1-.3 .2-.5 .4-.4 .3 0 .2-.8 .5-.4 .3-.9 .4-.3 .3-.6 .4-.7 .3-.4 .4-.3 .3-.4 .3-.3 .4-.6 .3-.6 .4-.6 .3-.3 .4-.4 .3-.6 .3-.7 .4-.2 .3 0 .4-.8 .3-.5 .4-.7 .3 0 .3-.6 .4-.4 .3-1 .4-.2 .3-.7 .4-.5 .3-.3 .4-.2 .3-1.3 .3 .2 .4-1 .3-.7 .4-.4 .3-.8 .4-.6 .3-.6 .3-.8 .4-.2 .3-.7 .4-1.3 .3-.2 .4-1 .3-1 .3-.4 .4-.5 .3-.9 .4-.7 .3-.7 .4-.9 .3-.5 .3-.9 .4-.9 .3-.3 .4-.9 .3-.9 .4-.5 .3-.5 .3-.4 .4-.9 .3-1.1 .4-.6 .3-.8 .4-1.4 .3-.1 .4-.5 .3-1.2 .3-.6 .4-.5 .3-.7 .4-.7 .3-.5 .4-.5 .3-1.1 .3-.5 .4-.2 .3-.8 .4-.4 .3-.5 .4-.8 .3-.5 .3-.5 .4-.6 .3-.6 .4-.5 .3-.2 .4-.7 .3-.6 .3-.1 .4-.7 .3-.1 .4-.7 .3-.5 .4-.3 .3-.3 .3-.4 .4-.1 .3-.7 .4 .1 .3-.2 .4-.6 .3-.2 .4-.5 .3-.2 .3-.1 .4-.3 .3-.2 .4-.2 .3-.6 .4-.5 .3 .2 .3-.2 .4-.4 .3-.2 .4-.2 .3-.5 .4 .1 .3-.2 .3-.1 .4 .1 .3-.2 .4 .1 .3-.4 .4-.1 .3-.3 .3-.3 .4 .5 .3-.7 .4-.3 .3 .3 .4-.2 .3-.4 .3 .1 .4 0 .3 .1 .4-.1 .3-.4 .4-.1 .3 .1 .4-.3 .3-.2 .3 .7 .4-.4 .3 0 .4-.2 .3-.5 .4 .6 .3 0 .3-.3 .4 .3 .3-.1 .4-.3 .3-.1 .4 0 .3 .1 .3 .3 .4-.1 .3-.2 .4 .3 .3-.2 .4 .3 .3-.3 .3 .1 .4 .5 .3-.2 .4 .1 .3-.3 .4 .3 .3 .4 .3-.4 .4 0 .3 .4 .4-.5 .3 .1 .4 .5 .3-.2 .3 .6 .4-.3 .3 .1 .4-.1 .3-.1 .4 .1 .3 .2 .4 .1 .3-.2 .3 .3 .4-.4 .3 .5 .4 0 .3 0 .4 .3 .3-.2 .3 .1 .4 .2 .3 .4 .4-.1 .3 .2 .4 0 .3 .1 .3 .2 .4 .1 .3 .1 .4 .3 .3 0 .4 .2 .3 0 .3 .4 .4-.5 .3 .2 .4 .3 .3 .3 .4-.1 .3 .3 .3-.1 .4 .3 .3 .2 .4 .5 .3-.1 .4-.1 .3 .5 .4-.1 .3-.1 .3 .1 .4 .5 .3 .7 .4-.5 .3 .1 .4 .6 .3-.4 .3 .4 .4-.2 .3 .5 .4 .1 .3 .5 .4-.2 .3 .2 .3 .4 .4-.1 .3 .4 .4-.3 .3 .4 .4 .3 .3 .2 .3-.2 .4 .5 .3 .1 .4 .4 .3-.2 .4 .3 .3 .4 .3 .2 .4-.3 .3 .4 .4 .1 .3 .1 .4 0 .3 .2 .4 .5 .3 .2 .3 .5 .4-.3 .3 .2 .4 .5 .3-.2 .4 .2 .3 .2 .3 .1 .4 .5 .3-.1 .4-.3 .3 .6 .4 .3 .3 .1 .3-.2 .4 .8 .3-.5 .4 .7 .3-.1 .4 .2 .3 .5 .3 .1 .4-.1 .3 .4 .4 .5 .3-.3 .4 .5 .3-.1 .3 .3 .4 .5 .3-.3 .4 .3 .3 0 .4 .4 .3 .4 .4 .4 .3-.2 .3 .5 .4 0 .3 .6 .4 .1 .3-.2 .4 .2 .3-.2 .3 .4 .4 .6 .3-.1 .4 .4 .3 .5 .4-.2 .3 .4 .3 .3 .4 .2 .3 0 .4 .3 .3 .2 .4 .2 .3 0 .3 .5 .4 .2 .3 .1 .4 .2 .3 .1 .4 .1 .3 1 .3-.5 .4 .4 .3 0 .4 .7 .3 0 .4 0 .3 .2 .4 .3 .3 .4 .3 .5 .4 0 .3 .7 .4-.1 .3 .4 .4 .1 .3 .2 .3 .1 .4 .2 .3 .3 .4 .2 .3 .3 .4 0 .3 .6 .3 .3 .4 .3 .3 .1 .4 .1 .3 0 .4 .7 .3 0 .3 .5 .4 0 .3 .6 .4-.1 .3 .3 .4 .7 .3-.1 .3 .4 .4 0 .3 .2 .4 .3 .3 .1 .4 .4 .3 .1 .3 .4 .4 .1 .3 .6 .4-.1 .3 .5 .4 .1 .3 .2 .4 .2 .3 .1 .3 .5 .4 .1 .3 .6 .4 .3 .3-.4 .4 .6 .3 0 .3 .4 .4 .5 .3-.2 .4 .3 .3 .2 .4 .1 .3 .6 .3 .2 .4 .4 .3 .2 .4 .3 .3 .2 .4 .2 .3 .1 .3 .5 .4 .2 .3 .2 .4 .4 .3 .1 .4 .1 .3 .2 .3 .1 .4 .3 .3 .4 .4 .3 .3 .2 .4 .2 .3 .5 .4-.1 .3 .3 .3 .3 .4 .4 .3-.2 .4 .2 .3 .8 .4-.4 .3 .7 .3 0 .4 .7 .3-.1 .4 .1 .3 .4 .4 0 .3 .5 .3 0 .4 .1 .3 .8 .4 0 .3 .5 .4 .4 .3 .1 .3-.1 .4 .2 .3 .2 .4 .3 .3 .4 .4 .3 .3 .1 .3 .3 .4 .6 .3-.4 .4 .5 .3 .4 .4-.1 .3 .2 .4 0 .3 .7 .3 .3 .4-.2 .3 .5 .4 0 .3 .3 .4 .7 .3 .1 .3 .3 .4-.3 .3 .3 .4 .3 .3 .6 .4-.1 .3 1 .3-.5 .4 .2 .3 0 .4 .3 .3 .6 .4 0 .3 .4 .3 .1 .4 .3 .3-.5 .4 .9 .3 .2 .4 .1 .3-.2 .3 .8 .4-.2 .3 .3 .4 .5 .3 .2 .4-.3 .3 1 .4 .1 .3 .4 .3-.1 .4 0 .3 .5 .4-.1 .3 .2 .4 .1 .3 .4 .3 .2 .4 .3 .3-.2 .4 .4 .3 .1 .4 .6 .3 0 .3 .2 .4 .4 .3 .1 .4 .4 .3 .1 .4-.5 .3 .7 .3 .5 .4-.3 .3 .1 .4 .1 .3 .5 .4 .1 .3 .3 .3 .4 .4 0 .3 .3 .4 .4 .3-.4 .4 .6 .3 .3 .4 .1 .3-.1 .3 .5 .4 .3 .3-.3 .4 .7 .3-.2 .4 .4 .3 .3 .3-.1 .4 .2 .3 .2 .4 .3 .3 .3 .4 .8 .3-.4 .3 .2 .4-.1 .3-.1 .4 .7 .3-.4 .4 .8 .3-.1 .3 .2 .4 .8 .3-.6 .4 .8 .3 0 .4 .3 .3 .2 .3 .3 .4 0 .3-.2 .4 .7 .3-.3 .4 .3 .3 .1 .4 .3 .3 .1 .3 .2 .4 .5 .3 .3 .4-.4 .3 .3 .4-.1 .3 .6 .3 .2 .4 .3 .3 .4 .4-.3 .3-.1 .4 .6 .3-.1 .3 .2 .4 .7 .3-.2 .4 .4 .3-.1 .4 .1 .3 .4 .3 .1 .4 0 .3 0 .4 .8 .3 0 .4 .3 .3 .3 .3-.2 .4 .4 .3-.1 .4 .1 .3 .5 .4 .4 .3 0 .3 .2 .4 .3 .3-.2 .4 .5 .3 .4 .4-.2 .3 .7 .4-.4 .3 .5 .3-.2 .4 .5 .3 .5 .4 .1 .3 0 .4 .3 .3 .2 .3 0 .4 .6 .3 0 .4 .3 .3 0 .4 0 .3 .4 .3 .4 .4 0 .3 .2 .4 0 .3 .2 .4 .2 .3 .1 .3 .5 .4 .2 .3 .3 .4-.3 .3 .3 .4 .4 .3-.2 .3 .5 .4 .1 .3 .3 .4-.1 .3 .2 .4 .2 .3 .2 .4 .2 .3 .1 .3 .3 .4 .6 .3-.3 .4 .2 .3 0 .4 .3 .3 .2 .3 .2 .4 .2 .3 .4 .4-.1 .3 0 .4 .2 .3 0 .3 0 .4 .5 .3 .2 .4 .3 .3 0 .4 .4 .3 .1 .3 .1 .4 0 .3 .5 .4 .1 .3-.1 .4 .4 .3 .1 .3 0 .4 .4 .3 .2 .4-.1 .3 .5 .4 0 .3 .5 .4-.4 .3 .6 .3-.2 .4 .6 .3 .1 .4 .4 .3 .2 .4-.1 .3 0 .3 .5 .4 .1 .3-.1 .4 .4 .3 .3 .4 0 .3 .3 .3 .2 .4-.1 .3 .8 .4-.6" fill="none" stroke="#efa735" stroke-width="3" stroke-linejoin="round" stroke-linecap="square"/>
<rect x="991.90" y="374.72" width="83.2" height="43.9" fill="#fff" fill-opacity="0.62"/>
<path d="M995.4 392.8l.2-3.8 .3-3.7 .3-2.2 .2-.4 .3-.3 .2-.3 .3-.2 .2-.2 .3-.2 .2-.2 .3-.1 .2-.2 .3-.1 .3-.1 .2-.1 .3 0 .2-.1 .3-.1 .2 0 .3-.1 .2-.1 .3-.1 .2 0 .3-.1 .2-.1 .3-.1 .3-.2 .2-.1 .3-.1 .2-.1 .3-.1 .2-.1 .3-.1 .2-.2 .3-.1 .2-.1 .3-.1 .2-.1 .3-.1 .3-.1 .2-.1 .3-.1 .2-.1 .3-.1 .2-.1 .3 0 .2-.1 .3-.1 .2 0 .3-.1 .3 0 .2-.1 .3 0 .2 0 .3-.1 .2 0 .3 0 .2-.1 .3 0 .2 0 .3-.1 .2 0 .3 0 .3 0 .2-.1 .3 0 .2 0 .3 0 .2-.1 .3 0 .2 0 .3 0 .2 0 .3-.1 .2 0 .3 0 .3 0 .2 0 .3 0 .2 0 .3-.1 .2 0 .3 0 .2 0 .3 0 .2 0 .3 0 .3 0 .2 0 .3 0 .2 0 .3 0 .2 0 .3 0 .2 0 .3 0 .2 0 .3 0 .2 .1 .3 0 .3 0 .2 0 .3 0 .2 0 .3 0 .2 .1 .3 0 .2 0 .3 0 .2 0 .3 .1 .2 0 .3 0 .3 0 .2 .1 .3 0 .2 0 .3 0 .2 .1 .3 0 .2 0 .3 .1 .2 0 .3 0 .3 .1 .2 0 .3 0 .2 .1 .3 0 .2 0 .3 .1 .2 0 .3 0 .2 .1 .3 0 .2 .1 .3 0 .3 0 .2 .1 .3 0 .2 0 .3 .1 .2 0 .3 .1 .2 0 .3 0 .2 .1 .3 0 .2 .1 .3 0 .3 0 .2 .1 .3 0 .2 .1 .3 0 .2 0 .3 .1 .2 0 .3 .1 .2 0 .3 0 .3 .1 .2 0 .3 .1 .2 0 .3 0 .2 .1 .3 0 .2 .1 .3 0 .2 .1 .3 0 .2 0 .3 .1 .3 0 .2 .1 .3 0 .2 .1 .3 0 .2 .1 .3 0 .2 .1 .3 0 .2 .1 .3 0 .2 .1 .3 0 .3 .1 .2 0 .3 .1 .2 .1 .3 0 .2 .1 .3 0 .2 .1 .3 0 .2 .1 .3 .1 .3 0 .2 .1 .3 0 .2 .1 .3 .1 .2 0 .3 .1 .2 .1 .3 0 .2 .1 .3 .1 .2 0 .3 .1 .3 .1 .2 0 .3 .1 .2 .1 .3 0 .2 .1 .3 .1 .2 .1 .3 0 .2 .1 .3 .1 .2 .1 .3 0 .3 .1 .2 .1 .3 .1 .2 0 .3 .1 .2 .1 .3 .1 .2 0 .3 .1 .2 .1 .3 .1 .3 .1 .2 .1 .3 0 .2 .1 .3 .1 .2 .1 .3 .1 .2 .1 .3 .1 .2 .1 .3 .1 .2 .1 .3 0 .3 .1 .2 .1 .3 .2 .2 .1 .3 .1 .2 .1 .3 .1 .2 .1 .3 .1 .2 .1 .3 .2 .2 .1 .3 .1 .3 .2 .2 .1 .3 .1 .2 .2 .3 .1 .2 .2 .3 .1 .2 .2 .3 .1 .2 .2 .3 .2 .3 .1 .2 .2 .3 .2 .2 .2 .3 .1 .2 .2 .3 .3 .2 .2 .3 .2 .2 .3 .3 .2 .2 .3 .3 .4 .3 .3 .2 .4 .3 .4 .2 .4 .3 .5 .2 .5 .3 .5 .2 .6 .3 .7 .2 1.1 .3 1.5 .2 1.9 .3 3.9 .3 15.5" fill="none" stroke="#000" stroke-width="1.0" stroke-linejoin="round"/>
<text x="980.10" y="389.07" class="il">10⁻¹</text>
<text x="980.10" y="409.44" class="il">10⁻²</text>
<path d="M981.40 386.97H991.90M981.40 407.34H991.90" stroke="#000" stroke-width="1.15"/>
<rect x="991.90" y="374.72" width="83.2" height="43.9" fill="none" stroke="#000" stroke-width="1.1"/>
<rect x="803.90" y="368.32" width="277.8" height="111.5" fill="none" stroke="#333" stroke-width="1.2"/>
<text x="816.53" y="510.22" class="xl">0%</text>
<text x="867.04" y="510.22" class="xl">20%</text>
<text x="917.55" y="510.22" class="xl">40%</text>
<text x="968.05" y="510.22" class="xl">60%</text>
<text x="1018.56" y="510.22" class="xl">80%</text>
<text x="1069.07" y="510.22" class="xl">100%</text>
<text x="782.60" y="479.45" class="yl">0.0</text>
<text x="782.60" y="428.77" class="yl">0.5</text>
<text x="782.60" y="378.09" class="yl">1.0</text>
<path d="M816.53 479.82V490.22M867.04 479.82V490.22M917.55 479.82V490.22M968.05 479.82V490.22M1018.56 479.82V490.22M1069.07 479.82V490.22M792.90 474.75H803.90M792.90 424.07H803.90M792.90 373.39H803.90" stroke="#444" stroke-width="1.3"/></g>
<g><path d="M95.9 531.3l.5 69.1 .1 27.6 0-.3 0-.7 .1 .3 0-1.4 .1-2.5 0-1 .1 1.7 0 .5 0 1.3 .1 .5 0-2 .1 .9 0 1.5 .1-2.1 0 1.3 .1 2 .1-.9 0 1.4 0 .5 .1 2.6 .1-3.8 .1-.9 0 .7 .1-2 0-1.3 .1 .7 0 1.4 0-4.7 .1-.3 0 2.4 .1-4.1 0 3.1 .1 1.6 0-1 0 2.8 .1-1.7 0 2.6 .1-3.7 0 1.9 0 3.1 .1-2.3 0 3.8 .1-2.6 0-.8 .1 .4 0 1.8 0-2.5 .1-1.2 0-1.6 .1-4.1 0-3.2 .1-2.6 0 .4 0-3.3 .1-4.2 0-3 .1 1.2 0-3.9 0-5.2 .1 5.5 .1 1.9 0 .4 .1 4.2 0 3.2 0 5.1 .1-.9 0 3.6 .1 4 0 .7 .1 5 0 .9 .1-.4 .1 3.7 0-4.2 0-3.1 .1 1.5 0-2.8 .1 6.4 0-5.2 .1-3.6 0-1.2 0 3 .1-2.6 .1 2.6 0-1.3 0 1.8 .1-2.4 0 .6 .1-2.5 0 2.9 .1 2 0-.6 0 3.2 .1-2 0 .8 .1-.3 .1 5.1 0-3.8 0-.4 .1 3.1 0-5.6 .1 4.1 0-6.2 0 2.6 .1-1.7 0 .7 .1-1.9 0 3.3 .1-1.4 0 1.9 .2-5.6 .1 3.7 .2 .3 .2 2.2 .1 3 .2-5.4 .2-1.9 .1-2.5 .2-2.8 .1-1 .2 .4 .2 2.1 .1 6.5 .4-1.9 .1-3.8 .2 4.5 .2-1.4 .1 10.4 .2-4.6 .2-2.7 .1-3.8 .2-2.6 .2 3.6 .1 4.2 .2-1.2 .1-1 .2 5.8 .2-8.1 .1-.6 .2 1.7 .2 1.9 .1 1 .2 1.7 .2-.6 .1-.5 .2-4.5 .2 1.3 .3 3.7 .3-.8 .3-3.4 .2 1.7 .2-2.5 .1 2.8 .2 3.7 .3 3 .2-7.4 .2-.9 .1 3.2 .2-2.9 .2 4.3 .3 .5 .2-2.9 .1-1.5 .2-.6 .3 2 .2 6.7 .1-3.3 .2-.8 .2-1.1 .1-5.5 .2 1.1 .2 5.4 .1 2 .2-1.7 .2 1.4 .1-2.6 .4-2.6 .1-.7 .2 4.3 .1 1.3 .2-2.5 .2-.9 .1-3.5 .2-1 .2-1.6 .1 6.6 .2-4.5 .2-1.9 .1-1.1 .2-2.4 .2-2.4 .1-1.9 .2-2.5 .2-2.4 .1-4 .2-3.3 .2-5.1 .1-4.2 .2 2.3 .1-9.3 .2-6.7 .2-1.7 .1-5.4 .2 8.9 .2-9.4 .1-2.3 .2 8.6 .2 1.1 .1-4.1 .2-5 .2 11.8 .1-9.7 .2 1.7 .2 3 .1 1.7 .2-6.7 .1 13.7 .2 1.8 .2-5.5 .1 6.7 .2-1.9 .2 3.5 .1-11.3 .2 8.5 .2 3.7 .3 1.8 .2-.6 .1 2 .2-6 .2 3.5 .1 5.9 .2-8.2 .1 6.7 .2 5.6 .2-8.2 .1 4.1 .2 2.6 .2 3.2 .1-1.3 .2-1.5 .2 6.9 .1-1.2 .2 5.5 .2 3.1 .1-2.2 .2 .5 .2 4.7 .1 1.1 .2 .6 .1 1.2 .2-.9 .2-1.2 .1 .9 .2 .4 .2-1.7 .1 4.6 .2-4.2 .2 1.3 .1 3.7 .4 .1 .1-2.4 .2 1.1 .2 1.1 .1-1.8 .2 1.5 .1-2.2 .4 3.4 .1-1.3 .2 .6 .3 .2 .2-.4 .2 .7 .3 .2 .3-.5 .2 .5 .3 .3 .2-.5 .1 .5 .2-.3 .3 .9 .2-.4 .3-.3 .2 .5 .3 .3 .4 0 .1-.4 .2 1 .3-.9 .2 .3 .1 .3 .2-.7 .2-.3 .1-2.2 .2-3.3 .2-2 .1 2.2 .2 4 .2 1.7 .1 .7 .4-.2 .1 .6 .4-.1 .3 .2 .3-.1 .3-.1 .4 .4 .3-.4 .3 .4 .4 .4 .3 .3 .2-.4 .3-.5 .2 .3 .3 .2 .3 .4 .3 0 .2-.6 .2 .5 .1 .4 .2-.6 .2-.4 .1 .7 .2-.9 .2 .8 .3 .1 .3 .3 .3 .3 .2-.7 .2 .4 .1-.4 .4 .2 .3-.1 .3-.1 .4 .4 .3 .1 .3-.3 .3 .3 .4 0 .3 .1 .3 .2 .4-.4 .1 .7 .4-.2 .1-.3 .4 .3 .1 .6 .2-.7 .3 .3 .3-.2 .2 .6 .2-.6 .3 .2 .3 .3 .4-.3 .3-.3 .3 .8 .2-.7 .1 .5 .4 0 .1 .4 .2-.4 .2 .5 .3-.7 .3 .3 .4-.2 .3 .2 .3 .3 .4 .2 .1-.7 .2 .6 .3 0 .3-.3 .4 .1 .3 .3 .3 .3 .4-.4 .3 .1 .3 0 .3 .3 .4-.4 .3 .4 .3-.4 .4 .2 .3-.2 .2 .6 .3-.3 .3-.4 .3 .4 .4-.1 .3 .2 .3 .2 .4-.1 .3 0 .3 .1 .4-.4 .3 .4 .3-.1 .3 .1 .4-.1 .3 .1 .3 0 .4 0 .3 0 .3 .1 .2-.3 .1 .4 .4-.3 .3 .2 .3 .2 .4 .6 .1-.4 .4-.3 .3 .3 .2-.3 .3 .3 .3-.1 .3 .3 .2-.4 .3 .4 .2-.5 .3 .6 .4-.2 .3 .3 .2-.5 .3 .2 .3 .1 .3 .3 .4-.2 .3-.1 .2 .4 .3-.4 .2 .3 .1-.6 .2-1 .2-2.2 .1-.9 .2 1.1 .2 2.1 .1 1 .3 .3 .2 .3 .2-.5 .1 .3 .4 0 .3 .1 .3 0 .4 .3 .1-.3 .4-.2 .3 0 .3 0 .3 .4 .4 .4 .1-.5 .4 0 .3 0 .3 .1 .4 .1 .3-.2 .3-.2 .2 .4 .1 .3 .2-.4 .3 .1 .4-.3 .1 .4 .4 0 .3-.2 .3 .5 .3 0 .4 .1 .3-.2 .3-.2 .4 .4 .3-.3 .3 .1 .4 .2 .3 .2 .1-.5 .2 .4 .2-.3 .3-.2 .3 .4 .4 0 .3-.2 .2-.4 .1 .7 .2-.5 .2 .3 .3 0 .3 .1 .3 0 .4-.2 .1 .5 .4-.1 .3 0 .3-.5 .4 .5 .3 .1 .2-.4 .3 .1 .3 .2 .3 .2 .2-.3 .3-.2 .4 .1 .3-.1 .3 .5 .2-.4 .3 0 .3 .2 .4 .3 .3-.2 .3-.3 .4 0 .1 .5 .4 .1 .3-.2 .3-.2 .2 .4 .1-.4 .4 .1 .3 .2 .3 .2 .2-.3 .3 0 .4-.1 .3-.1 .3 .1 .3 .1 .4 .1 .3 0 .3 .2 .2-.4 .3 .4 .4-.1 .3 .1 .3-.1 .3 0 .4 0 .3 .2 .3-.2 .4-.1 .3 .3 .3 .1 .2-.4 .2 .4 .3-.2 .3 .1 .3 .1 .4-.3 .3 .3 .3-.2 .2 .3 .3 0 .4-.1 .3 .2 .3 0 .2-.4 .3 .3 .3 0 .4 0 .3 .1 .3-.3 .2 .3 .3 0 .4-.3 .1 .4 .3-.1 .4-.2 .3 .1 .3-.6 .2-1.5 .2-.9 .1 .5 .2 1.6 .2 .7 .3 .2 .3 .3 .3-.1 .4 0 .3 0 .3 .1 .4 .1 .3 .2 .2-.4 .3 .1 .3 .3 .3-.3 .2-.3 .3 .4 .4-.1 .3 .1 .3 .2 .4-.1 .3 .2 .3-.3 .2 .4 .1-.6 .2 .3 .3-.2 .2 .4 .3-.4 .2 .3 .3-.2 .4-.1 .3 .3 .3 .1 .3 0 .4 .2 .3-.4 .3 .2 .4 .2 .3-.2 .3 .2 .4-.3 .3 .3 .3 .1 .3-.7 .2 .5 .3 0 .4 .2 .3-.1 .3 .3 .4-.5 .1 .4 .2-.3 .2 .3 .3-.4 .3 .2 .3 .1 .4 .1 .3-.1 .3 .2 .4-.1 .3-.3 .3 .1 .2 .3 .3-.1 .3 0 .4 .2 .3-.1 .3 0 .4-.1 .3 .1 .3-.1 .3 0 .4 .2 .3-.1 .3 .1 .4-.1 .3-.1 .3 .2 .4-.1 .3-.1 .3 .2 .3-.5 .2 .4 .3-.2 .4 .2 .3 .3 .3 .1 .4-.3 .3-.2 .1 .4 .4 0 .3 0 .2-.4 .3 .1 .3 .1 .4 .1 .3 0 .3 .2 .4-.2 .3 .1 .3 .2 .3-.2 .4-.1 .3 .2 .3-.2 .4 .1 .1-.3 .4 .3 .3 .1 .3 0 .3 0 .4-.1 .3 .1 .3-.1 .4 0 .3 .2 .3 0 .3 .3 .2-.4 .3 .4 .4 0 .3-.5 .2 .3 .3 0 .2-.3 .3 .2 .3-.1 .3 .2 .4 0 .3-.5 .3-.9 .2-.8 .3 1.1 .2 .5 .2 .4 .3 .4 .2-.4 .3 .2 .3 0 .3 .1 .4-.2 .3 0 .3-.1 .4 .3 .3-.3 .3 .3 .3-.1 .4 .1 .3-.3 .3 .3 .4-.1 .3 .2 .2-.3 .3 .5 .2-.3 .3 .1 .3 .2 .2-.4 .3 .1 .3 0 .4 .2 .3-.1 .3 .1 .4-.1 .3-.2 .2 .3 .3 0 .3-.1 .3 .2 .4-.3 .3-.2 .3 .4 .4 0 .1-.3 .4 .2 .3-.1 .3 .2 .3 .1 .4 0 .3-.2 .3 .2 .4 0 .3-.2 .3 .1 .2-.8 .1-.7 .2-1.4 .2-.7 .1 1.1 .2 1.5 .2 .7 .3 .3 .3 .2 .4-.3 .3 0 .3 .3 .3 0 .4-.3 .3 .1 .3 0 .4 .4 .3-.3 .3 .2 .4-.3 .3 .1 .3-.1 .3-.1 .4 .4 .3-.2 .3 0 .4 0 .3 .1 .3 0 .3 0 .4-.2 .3 .1 .3 .1 .4 0 .3-.1 .3 .2 .4 0 .3-.2 .3 0 .3-.1 .4 .2 .3 .1 .3-.1 .4-.1 .3 0 .3 .2 .4 0 .3 0 .3 0 .3 0 .4-.1 .3 .2 .3-.3 .4 .2 .3 0 .3-.2 .3 .2 .4-.1 .3 .1 .3 .2 .4 .1 .3-.2 .3-.1 .4 .1 .3-.1 .3 .1 .3 .1 .4 0 .3 0 .3 0 .4 0 .1-.7 .2-1.4 .2-1.3 .3 1.3 .1 1.4 .2 .4 .3 0 .4 .2 .3 .1 .3-.1 .4 .2 .3-.2 .3 .1 .3 .1 .4-.1 .3 .1 .3 0 .4-.2 .3 .3 .3-.2 .4 .2 .3-.1 .3 0 .3 .1 .4 0 .3 .1 .3-.2 .4 0 .3 .1 .3-.2 .4 .2 .3 0 .3 0 .3-.1 .4-.1 .3 0 .3 .2 .4 0 .3-.1 .3 .3 .2-.4 .1 .3 .4-.1 .3-.1 .3 .1 .4 0 .3-.8 .2-1 .1-.6 .2 .4 .2 1.2 .1 .5 .3 .5 .4-.3 .3 .3 .3-.2 .4 .1 .3-.1 .3 0 .4 .1 .3-.1 .3-.1 .3 .2 .4 .2 .3-.2 .3 .1 .4 .1 .3-.2 .3 0 .3 .1 .4-.2 .3 .1 .3 .1 .4 0 .3 .1 .3-.2 .4 0 .3 .2 .3-.2 .3-.1 .4 .3 .3-.2 .3 .3 .4-.2 .3-.2 .3 .3 .4 .1 .3-.1 .3 0 .3 .1 .4-.2 .3 .1 .3-.1 .4 0 .3 .2 .3-.2 .3-.1 .4 .1 .3-.1 .3 .1 .4 0 .3-.1 .3 .2 .4-.1 .3 .1 .3 .2 .3-.1 .4-.1 .3-.1 .3 .2 .4-.2 .3 .3 .3 0 .3-.3 .4 .3 .3 0 .3-.3 .4 .3 .1-.3 .4 .2 .3-.1 .3 .2 .3-.2 .4 .1 .3 .1 .3 0 .4 0 .3-.1 .3-.1 .4 0 .3 .2 .3 .1 .3-.8 .2-1 .2-1.3 .1-.5 .2 1.1 .2 1.4 .1 .9 .4-.1 .3 .1 .3 0 .4 .1 .3-.1 .3 .1 .3 0 .4-.1 .3 0 .3 .1 .4-.1 .3 .2 .3-.1 .3 0 .4 0 .3 0 .3-.1 .4 .4 .3-.2 .3-.4 .2-.7 .2-1 .3 .9 .1 .7 .2 .3 .2 .3 .3-.2 .3 0 .4 .1 .3-.1 .3 .1 .4 .1 .3-.1 .3 0 .3 .2 .4-.3 .3 .3 .3-.3 .4 .1 .3 0 .3 .1 .3 0 .4-.2 .3-.2 .2 .2" fill="none" stroke="#efa735" stroke-width="3" stroke-linejoin="round" stroke-linecap="square"/>
<rect x="271.30" y="533.43" width="83.2" height="43.9" fill="#fff" fill-opacity="0.62"/>
<path d="M275.08 535.43L275.23 550.40" stroke="#555" stroke-width="0.9" fill="none"/>
<path d="M275.2 550.4l0 17.1 .1-.4 0-.8 0 .3 0-1.5 0-2.2 0-.8 0 1.4 0 .4 .1 1.3 0 .5 0-1.9 0 .8 0 1.5 0-2 0 1.2 .1 2.1 0-1 0 1.6 0 .6 0 3.6 0-.3 .1 .5 0-5.2 0-1 0 .8 0-2.1 0-1.2 0 .6 0 1.4 .1-4.1 0-.3 0 2 0-3.3 0 2.4 0 1.4 0-.9 0 2.6 .1-1.6 0 2.5 0-3.5 0 1.7 0 3.2 0-2.4 0 4.4 0-3.2 .1-.8 0 .4 0 2 0-2.8 0-1.1 0-1.4 0-3.1 0-2.1 .1-1.5 0-1.5 0-1.9 0-1.3 0 .5 0-1.5 0-1.8 .1 1.9 0 .7 0 2 0 1.5 0 2.8 0-.6 .1 2.2 0 3 0 .5 0 4.9 0 1.2 0-.6 0-.2 .1 5.6 0-5.9 0-3.3 0 1.5 0-2.7 0 6.9 0-5.8 0-3 .1-.9 0 2.3 0-2 0 2.1 0-1.1 0 1.5 0-2 .1 .5 0-1.9 0 2.2 0 1.7 0-.5 0 3 0-1.9 0 .7 .1-.3 0 5.9 0-4.6 0-.4 0 3.5 0-5.8 0 4 .1-5.8 0 2.2 0-1.4 0 .5 0-1.5 0 2.7 0-1.2 .1 1.7 0-4.5 0 2.8 .1 .3 0 2 .1 3.3 0-5.5 .1-1.5 0-1.8 .1-1.8 0-.6 .1 1.5 .1 4.9 .1-1.6 0-2.8 .1 3.4 0-1.2 .1 11.5 0-6.2 .1-2.7 0-3.1 .1-1.8 0 2.6 .1 3.7 0-1.2 .1-.8 0 6.1 .1-8 0-.5 .1 1.3 0 1.6 .1 1 0 1.7 .1-.6 0-.5 .1-3.9 0 1 .1 3.3 .1 .3 0-1 .1-.3 0-2.8 .1 1.5 0-2.1 .1 2.4 0 3.8 .1 4 .1-8.4 0-.8 .1 2.9 0-2.7 .1 4.1 0 .3 .1 .3 0-3 .1-1.3 0-.5 .1 1.7 .1 8 0-4.5 .1-.8 0-1.2 .1-4.8 0 .9 .1 5 0 2.3 .1-2 0 1.6 .1-2.9 .1-2.4 0-.7 0 4.2 .1 1.4 0-2.7 .1-.9 0-3 .1-.8 0-1.1 .1 5.4 0-3.9 .1-1.4 0-.7 .1-1.6 0-1.3 .1-1.1 0-1.2 .1-1.1 0-1.7 .1-1.2 0-1.7 .1-1.3 0 .6 .1-2.6 0-1.7 .1-.3 0-1.2 .1 2 0-2.1 .1-.5 0 1.8 .1 .3 0-.9 .1-1.1 0 2.7 .1-2.2 0 .3 .1 .7 0 .4 .1-1.5 0 3.2 .1 .4 0-1.3 .1 1.7 0-.5 .1 .9 0-2.9 .1 2.1 0 1.1 .1 .5 .1 .4 .1-1.7 0 1 .1 1.8 0-2.5 .1 2 0 1.9 .1-2.7 0 1.3 .1 .8 0 1.2 .1-.5 0-.5 .1 2.6 0-.5 .1 2.4 0 1.5 .1-1 .1 2.7 0 .6 .1 .4 0 .8 .1-.6 0-.7 .1 .5 0 .3 0-1.1 .1 3 0-2.7 .1 .8 0 2.5 .2-1.6 0 .7 .1 .9 0-1.4 .1 1.1 0-1.5 .1 2.4 .1-1 0 .5 .2 .4 .3-.1 .1 .4 0-.4 .1 .5 .1-.5 0 .9 .1-.3 .2 .4 .2-.4 0 .9 .1-.7 .1 .2 0 .3 .1-.6 0-.3 .1-1.6 0-2.1 .1-1.2 0 1.2 .1 2.8 0 1.3 .1 .6 .1 .3 .3 0 .2 .3 .1-.4 .1 .3 .1 .4 .1 .3 0-.4 .1-.5 .1 .3 .2 .6 .1-.6 .1 .5 0 .3 .1-.5 0-.4 .1 .6 0-.7 .1 .6 .2 .4 .1 .3 0-.6 .1 .3 0-.3 .3 0 .1 .3 .3 .1 .3 .3 .1-.4 .1 .7 .1-.5 .1 .3 .1 .6 0-.7 .1 .3 .2 .4 0-.6 .2 .5 .2-.6 .1 .8 .1-.7 0 .5 .1 .4 .1-.4 0 .5 .1-.7 .1 .3 .3 .3 .1-.3 0 .5 .1-.7 0 .6 .2-.3 .2 .4 .1 .2 .1-.3 .3 .3 .1-.3 .1 .5 .1-.3 .1-.4 0 .4 .1-.2 .1 .6 .1-.3 .1-.4 .1 .4 .3 .3 .3 0 .1-.5 .1 .5 .3 0 0-.3 0 .3 .2 .3 0-.3 .2 .3 .1-.6 0 .5 .3 .2 .1 .6 .1-.4 .1-.3 0 .3 .1-.3 .1 .3 .3-.2 0 .3 .1-.5 .1 .7 .3-.5 .1 .5 .3-.2 .1 .5 .1-.5 .1 .4 0-.7 .1-1 0-2.1 .1-.8 0 1 .1 1.9 0 1.1 .1 .3 .1 .4 0-.6 .1 .4 .1 .2 .3-.1 .3-.2 0 .3 .2 .6 0-.6 .2-.3 .1 .3 .2 .3 0-.2 .1-.3 .1 .4 0 .4 .1-.4 .2-.3 0 .4 .3 .4 .3-.1 .2 .2 .1-.3 .2 .3 .1 .3 .1-.6 0 .5 .1-.4 .2 .2 .2-.2 0-.4 .1 .7 0-.6 .1 .4 .2 .1 .2 .4 .2-.5 .2 .5 .1-.4 .2 .3 .1 .3 .1-.4 .1-.3 0 .4 .2-.3 0 .3 .1 .2 0-.4 .2 .3 .1 .3 .1-.3 .1-.3 .1 .3 0-.3 .1 .5 0-.2 .1 .4 0-.3 .2 .3 .1-.4 .2 .3 .1 .3 0-.5 .1 .3 0-.2 .1 .2 0-.4 .1 .3 0-.4 .1 .3 0-.2 .1 .3 .3-.2 0 .4 .1-.5 0 .3 .2-.3 0 .5 .2 .3 0-.4 .1 .3 0-.3 .1 .3 .1-.3 .2 .3 .2-.4 0 .5 .3-.1 .1-.3 .1 .4 .1-.3 .1 .4 .3 .2 .1-.6 .1 .4 .3 0 .1-.3 .1 .5 .2-.4 0 .5 .2-.4 .1 .4 0-.3 .1-.7 .1-1.9 0-.9 .1 .5 0 1.9 .1 .9 0 .3 .1-.3 0 .7 .1-.3 .2 .3 0-.3 .1 .3 .2 .3 .1-.6 .1 .6 .2-.4 0-.4 .1 .5 .3 .3 .2-.3 0 .5 .1-.5 .1 .6 0-.8 .1 .4 .1-.3 0 .6 .1-.6 .1 .5 .1-.3 .2 .3 .3 .4 0-.3 .2 .3 .2-.3 .3 .3 .2-.8 0 .6 .2 .3 0-.3 .2 .5 0-.4 .1 .4 .1-.5 0 .5 .1-.4 .2 .3 .1-.3 0 .3 .2-.3 0 .5 .1-.3 .3 .2 .1-.3 .1 .4 .3-.3 .1 .6 .1-.3 0 .3 .1-.5 .2 .4 .1-.3 .1 .3 0-.3 .3 .3 .1 .2 .1-.5 .1 .4 .1-.9 0 .6 .1-.3 .1 .3 .1 .4 0-.3 .1 .5 0-.4 .1 .3 .1-.7 0 .7 .1-.4 0 .3 .2-.6 0 .3 .3 .1 .2 .4 .1-.3 0 .2 .3-.2 .1-.3 .1 .6 .1-.4 .1-.3 .1 .3 .1 .3 .3-.1 .1 .4 0-.3 .3 .3 .2 .4 .1-.6 0 .4 .1 .2 .1-.4 .1-.4 0 .5 .2-.5 .1 .3 .2 .1 .1-.6 .1-1.3 .1-1.1 .1 1.5 0 .7 .1 .6 .1 .6 0-.7 .1 .5 .2-.3 0 .3 .2-.3 .2 .3 .1-.4 .1 .4 .3 .3 0-.6 .1 .4 .1-.4 .1 .5 .1-.5 0 .3 .1 .5 0-.5 .1 .3 .2-.3 .2 .3 .3-.3 .1 .3 .1-.4 0 .4 .3-.2 0 .5 0-.4 .2-.4 0 .4 .2 .3 0-.6 .3 .5 .3-.2 .1 .4 .1-.4 0 .3 .1-.2 .1 .3 0-.2 .1-1.2 0-1.1 .1-1.8 0-.8 .1 1.3 0 2.1 .1 1 0 .3 .2 .5 .1-.4 .2 .4 0-.3 .1 .3 0-.3 .1-.5 .1 .5 .2 .6 0-.3 .3-.1 .2-.4 .1 .4 .1 .3 .1-.4 .2 .3 .3-.4 .1 .3 .3 .2 0-.3 .1 .4 .1-.3 0 .3 .1-.4 .1 .3 0-.3 .1-.3 .1 .4 .3 .1 0-.3 .2 .3 .2 .3 0-.3 .3-.1 .1 .3 .1-.3 .2 .4 .1-.4 .3 .2 .1 .4 .3-.5 .3 .2 .1 .3 .1-.3 .3 .2 0-1.1 .1-2.1 0-1.7 .1 .3 0 1.4 .1 2 0 .8 .1 .3 0-.4 .1 .4 .1 .4 0-.3 .3-.1 .2 .3 .3-.2 .1 .6 0-.8 .1 .6 .1-.3 .3 .3 .3-.5 0 .6 .1-.4 .3 .1 .3 .2 .2-.4 .2 .3 0-.4 .1 .4 .2 .3 0-.6 .1 .6 .2-.4 .1 .2 .2-1.3 0-1.6 .1-.9 0 .5 .1 1.9 0 .8 .1 .3 0 .6 .1-.3 .1 .3 .1-.3 .3 0 .2-.4 0 .4 .3 .4 .1-.2 .2 .3 .1-.3 .3-.1 .3 .3 .1 .2 .1-.2 0-.3 .2 .3 0-.3 .2 .4 .2-.3 .1 .5 0-.4 .1-.5 .1 .5 .2 .3 .3 0 0-.3 .3 0 .2 .4 0-.5 .2 .4 .1-.2 .1-.3 0 .5 .1-.5 .1 .4 .1-.3 0 .5 .1-.3 .3 .5 0-.4 .3-.3 .1 .6 0-.4 .1 .4 .1-.2 .2-.3 0 .4 .1 .4 .1-.8 .1 .5 .1-.6 0 .3 .3 .4 .1-.3 .3 .2 .3-.3 .2 .4 .2-1.2 0-1.7 .1-1.9 0-.6 .1 1.4 0 2.2 .1 1.5 0 .3 .1-.3 .3 .2 .2-.3 .1 .3 .1 .3 .1-.5 .1 .3 .1-.3 0 .4 .1-.5 .1 .4 0-.4 .1 .4 .3-.2 0 .7 .1-.4 .1-.7 .1-1.2 0-1.6 .1 1.4 .1 1.2 0 .6 .1 .6 0-.5 .3 .3 .1-.4 .1 .4 0-.3 .1 .5 .1-.7 .1 .4 .1 .4 0-.4 .2 .4 0-.5 .2 .5 .1-.3 .3-.2 0 .2 .1-.7 0 .5" fill="none" stroke="#000" stroke-width="1.15" stroke-linejoin="round"/>
<text x="259.50" y="579.21" class="il">10³</text>
<text x="259.50" y="544.43" class="il">10⁴</text>
<path d="M260.80 577.11H271.30M265.30 566.64H271.30M265.30 560.52H271.30M265.30 556.17H271.30M265.30 552.80H271.30M265.30 550.05H271.30M265.30 547.72H271.30M265.30 545.70H271.30M265.30 543.93H271.30M260.80 542.33H271.30" stroke="#000" stroke-width="1.15"/>
<rect x="271.30" y="533.43" width="83.2" height="43.9" fill="none" stroke="#000" stroke-width="1.1"/>
<text x="166.44" y="552.53" class="nm">RoBERTa</text>
<rect x="83.30" y="527.03" width="277.8" height="111.5" fill="none" stroke="#333" stroke-width="1.2"/>
<text x="95.93" y="668.93" class="xl">0%</text>
<text x="146.44" y="668.93" class="xl">20%</text>
<text x="196.95" y="668.93" class="xl">40%</text>
<text x="247.45" y="668.93" class="xl">60%</text>
<text x="297.96" y="668.93" class="xl">80%</text>
<text x="348.47" y="668.93" class="xl">100%</text>
<text x="62.00" y="611.13" class="yl">5000</text>
<text x="62.00" y="576.33" class="yl">10000</text>
<text x="62.00" y="541.53" class="yl">15000</text>
<path d="M95.93 638.53V648.93M146.44 638.53V648.93M196.95 638.53V648.93M247.45 638.53V648.93M297.96 638.53V648.93M348.47 638.53V648.93M72.30 606.43H83.30M72.30 571.63H83.30M72.30 536.83H83.30" stroke="#444" stroke-width="1.3"/></g>
<g><path d="M456.2 531.5l.4 43.1 0 36.1 .1 1 .1 .9 .2 .9 .1 .8 .1 .9 .1 .7 .2 .8 .1 .7 .1 .6 .1 .6 .2 .5 .1 .5 .1 .4 .1 .3 .3 .5 .3 .5 .2 .3 .4 .4 .4 .3 .3 .2 .4 .1 .4 .1 .4 .1 .4 0 .3 .1 .4 0 .4 .1 .4 .1 .3 0 .4 .1 .4 0 .4 .1 .4 0 .3 .1 .4 0 .4 0 .4 .1 .3 0 .4 .1 .4 .1 .4 .1 .4 .1 .3 .2 .4 .2 .4 .2 .4 .2 .4 .2 .3 .2 .4 .1 .4 0 .4 0 .3-.2 .4-.2 .4-.2 .4-.3 .4-.3 .3-.4 .3-.3 .2-.4 .3-.5 .2-.6 .2-.3 .1-.4 .1-.3 .1-.4 .2-.3 .1-.4 .1-.4 .2-.4 .1-.4 .1-.4 .1-.5 .2-.4 .1-.5 .1-.5 .1-.6 .2-.6 .1-.7 .1-.7 .1-.7 .2-.7 .1-.8 .1-.7 .1-.6 .2-.7 .1-.6 .1-.5 .1-.5 .2-.6 .1-.5 .1-.6 .2-.5 .1-.5 .1-.5 .1-.4 .2-.4 .1-.3 .2-.4 .4-.2 .4-.1 .4-.1 .3-.1 .4-.1 .4 0 .4 0 .4 .1 .3 .5 .3 .3 .2 .5 .3 .5 .2 .5 .3 .6 .3 .6 .1 .4 .1 .4 .1 .5 .2 .6 .1 .5 .1 .6 .1 .6 .2 .6 .1 .5 .1 .6 .1 .6 .2 .6 .1 .5 .1 .5 .1 .4 .2 .4 .1 .4 .1 .3 .1 .3 .2 .3 .1 .3 .1 .3 .3 .6 .2 .6 .3 .5 .2 .5 .3 .4 .2 .4 .3 .3 .4 .4 .3 .4 .4 .3 .4 .3 .4 .2 .4 .3 .3 .2 .4 .2 .4 .2 .4 .2 .4 .1 .3 .2 .4 .2 .4 .1 .3 .2 .4 .1 .3 .1 .4 .2 .4 .1 .3 .1 .4 .1 .3 .2 .4 .1 .3 .1 .4 .1 .4 .1 .3 .1 .4 .1 .3 .1 .4 .1 .4 .1 .3 0 .4 .1 .3 .1 .4 .1 .3 .1 .4 0 .4 .1 .3 .1 .4 .1 .3 0 .4 .1 .3 .1 .4 .1 .4 0 .3 .1 .4 .1 .3 0 .4 .1 .4 .1 .3 0 .4 .1 .3 0 .4 .1 .3 .1 .4 0 .4 .1 .3 0 .4 .1 .3 0 .4 .1 .3 0 .4 .1 .4 0 .3 .1 .4 0 .3 .1 .4 0 .4 .1 .3 0 .4 .1 .3 0 .4 0 .3 .1 .4 0 .4 0 .3 .1 .4 0 .3 .1 .4 0 .3 0 .4 .1 .4 0 .3 0 .4 .1 .3 0 .4 0 .3 0 .4 .1 .4 0 .3 0 .4 .1 .3 0 .4 0 .4 0 .3 .1 .4 0 .3 0 .4 .1 .3 0 .4 0 .4 0 .3 .1 .4 0 .3 0 .4 0 .3 0 .4 .1 .4 0 .3 0 .4 0 .3 .1 .4 0 .4 0 .3 0 .4 .1 .3 0 .4 0 .3 0 .4 0 .4 .1 .3 0 .4 0 .3 0 .4 0 .3 .1 .4 0 .4 0 .3 0 .4 .1 .3 0 .4 0 .4 0 .3 0 .4 .1 .3 0 .4 0 .3 0 .4 0 .4 .1 .3 0 .4 0 .3 0 .4 .1 .3 0 .4 0 .4 0 .3 0 .4 .1 .3 0 .4 0 .4 0 .3 .1 .4 0 .3 0 .4 0 .3 .1 .4 0 .4 0 .3 0 .4 0 .3 .1 .4 0 .3 0 .4 0 .4 .1 .3 0 .4 0 .3 0 .4 0 .4 .1 .3 0 .4 0 .3 0 .4 .1 .3 0 .4 0 .4 0 .3 0 .4 .1 .3 0 .4 0 .3 0 .4 .1 .4 0 .3 0 .4 0 .3 0 .4 .1 .4 0 .3 0 .4 0 .3 0 .4 .1 .3 0 .4 0 .4 0 .3 .1 .4 0 .3 0 .4 0 .3 0 .4 .1 .4 0 .3 0 .4 0 .3 0 .4 .1 .4 0 .3 0 .4 0 .3 0 .4 .1 .3 0 .4 0 .4 0 .3 0 .4 .1 .3 0 .4 0 .3 0 .4 0 .4 .1 .3 0 .4 0 .3 0 .4 0 .4 .1 .3 0 .4 0 .3 0 .4 0 .3 .1 .4 0 .4 0 .3 0 .4 0 .3 .1 .4 0 .3 0 .4 0 .4 0 .3 .1 .4 0 .3 0 .4 0 .4 0 .3 .1 .4 0 .3 0 .4 0 .3 0 .4 .1 .4 0 .3 0 .4 0 .3 0 .4 .1 .3 0 .4 0 .4 0 .3 0 .4 .1 .3 0 .4 0 .4 0 .3 0 .4 0 .3 .1 .4 0 .3 0 .4 0 .4 0 .3 0 .4 .1 .3 0 .4 0 .3 0 .4 0 .4 0 .3 0 .4 .1 .3 0 .4 0 .3 0 .4 0 .4 0 .3 0 .4 0 .3 .1 .4 0 .4 0 .3 0 .4 0 .3 0 .4 0 .3 0 .4 0 .4 0 .3 .1 .4 0 .3 0 .4 0 .3 0 .4 0 .4 0 .3 0 .4 0 .3 0 .4 0 .4 0 .3 .1 .4 0 .3 0 .4 0 .3 0 .4 0 .4 0 .3 0 .4 0 .3 0 .4 0 .3 0 .4 0 .4 0 .3 .1 .4 0 .3 0 .4 0 .4 0 .3 0 .4 0 .3 0 .4 0 .3 0 .4 0 .4 0 .3 0 .4 0 .3 0 .4 0 .3 .1 .4 0 .4 0 .3 0 .4 0 .3 0 .4 0 .4 0 .3 0 .4 0 .3 0 .4 0 .3 0 .4 0 .4 0 .3 0 .4 .1 .3 0 .4 0 .3 0 .4 0 .4 0 .3 0 .4 0 .3 0 .4 0 .4 0 .3 0 .4 0 .3 0 .4 .1 .3 0 .4 0 .4 0 .3 0 .4 0 .3 0 .4 0 .3 0 .4 0 .4 0 .3 0 .4 .1 .3 0 .4 0 .4 0 .3 0 .4 0 .3 0 .4 0 .3 0 .4 0 .4 0 .3 .1 .4 0 .3 0 .4 0 .3 0 .4 0 .4 0 .3 0 .4 0 .3 0 .4 0 .4 0 .3 0 .4 .1 .3 0 .4 0 .3 0 .4 0 .4 0 .3 0 .4 0 .3 0 .4 0 .3 0 .4 0 .4 0 .3 0 .4 0 .3 .1 .4 0 .4 0 .3 0 .4 0 .3 0 .4 0 .3 0 .4 0 .4 0 .3 0 .4 0 .3 0 .4 0 .3 0 .4 0 .4 0 .3 0 .4 0 .3 0 .4 0 .4 0 .3 0 .4 0 .3 0 .4 0 .3 0 .4 0 .4 0 .3 0 .4 0 .3 .1 .4 0 .3 0 .4 0 .4 0 .3 0 .4 0 .3 0 .4 0 .4 0 .3 0 .4 0 .3 0 .4 0 .3 0 .4 0 .4 0 .3 0 .4 0 .3 0 .4 0 .3 0 .4 0 .4 0 .3 0 .4 0 .3 0 .4 0 .3 0 .4 0 .4 0 .3 0 .4 0 .3 0 .4 0 .4 0 .3 0 .4 0 .3 0 .4 0 .3 0 .4 0 .4 0 .3 0 .4 0 .3 .1 .4 0 .3 0 .4 0 .4 0 .3 0 .4 0 .3 0 .4 0 .4 0 .3 0 .4 0 .3 0 .4 0 .3 0 .4 0 .4 0 .3 0 .4 0 .3 0 .4 0 .3 0 .4 0 .4 0 .3 0 .4 0 .3 0 .4 0 .4 0 .3 0 .4 0 .3 0 .4 0 .3 0 .4 0 .4 0 .3 0 .4 0 .3 0 .4 0 .3 0 .4 0 .4 0 .3 0 .4 0 .3 0 .4 0 .4 0 .3 0 .4 0 .3 0 .4 0 .3 0 .4 0 .4 0 .3 0 .4 0 .3 0 .4 0 .3 0 .4 0 .4 0 .3 0 .4 0 .3 0 .4 0 .4 0 .3 0 .4 0 .3 0 .4 0 .3 0 .4 0 .4 0 .3 .1 .4 0 .3 0 .4 0 .3 0 .4 0 .4 0 .3 0 .4 0 .3 0 .4 0 .4 0 .3 0 .4 0 .3 0 .4 0 .3 0 .4 0 .4 0 .3 0 .4 0 .3 0 .4 0 .3 0 .4 0 .4 0 .3 0 .4 0 .3 0 .4 0 .4 0 .3 0 .4 0 .3 0 .4 0 .3 0 .4 0 .4 0 .3 0 .4 0" fill="none" stroke="#efa735" stroke-width="3" stroke-linejoin="round" stroke-linecap="square"/>
<rect x="443.60" y="527.03" width="277.8" height="111.5" fill="none" stroke="#333" stroke-width="1.2"/>
<text x="456.23" y="668.93" class="xl">0%</text>
<text x="506.74" y="668.93" class="xl">20%</text>
<text x="557.25" y="668.93" class="xl">40%</text>
<text x="607.75" y="668.93" class="xl">60%</text>
<text x="658.26" y="668.93" class="xl">80%</text>
<text x="708.77" y="668.93" class="xl">100%</text>
<text x="422.30" y="611.53" class="yl">5000</text>
<text x="422.30" y="577.03" class="yl">10000</text>
<text x="422.30" y="542.53" class="yl">15000</text>
<path d="M456.23 638.53V648.93M506.74 638.53V648.93M557.25 638.53V648.93M607.75 638.53V648.93M658.26 638.53V648.93M708.77 638.53V648.93M432.60 606.83H443.60M432.60 572.33H443.60M432.60 537.83H443.60" stroke="#444" stroke-width="1.3"/></g>
<g><path d="M816.5 622.6l.2-7.7 .1-7.4 .1-7 .1-6.5 .2-5.8 .1-5.1 .1-4.2 .1-3.3 .2-2.3 .1-2 .1-1.8 .1-1.6 .2-1.4 .1-1.2 .1-1 .1-.9 .2-.7 .1-.6 .1-.7 .2-.5 .1-.6 .1-.5 .1-.5 .2-.4 .1-.5 .1-.4 .1-.4 .2-.3 .1-.3 .1-.4 .1-.3 .3-.5 .2-.5 .3-.5 .3-.6 .2-.4 .3-.5 .2-.3 .4-.3 .4 .1 .2 .3 .3 .5 .2 .6 .2 .3 .1 .3 .2 .6 .3 .4 .4 .2 .3 0 .4-.1 .4-.1 .4-.2 .4-.3 .3-.3 .3-.5 .2-.6 .2-.4 .1-.3 .1-.4 .1-.4 .2-.4 .1-.5 .1-.4 .1-.4 .2-.3 .1-.4 .1-.3 .2-.3 .2-.5 .3-.4 .2-.3 .3-.4 .2-.3 .4-.4 .4-.3 .4-.1 .3 .2 .4 .5 .3 .4 .2 .5 .3 .6 .2 .6 .1 .3 .2 .3 .1 .4 .1 .4 .2 .5 .1 .5 .1 .6 .1 .6 .2 .7 .1 .8 .1 .7 .1 .8 .2 .8 .1 .9 .1 .9 .1 .9 .2 .9 .1 .9 .1 .9 .1 1 .2 1.1 .1 1.2 .1 1.2 .2 1.3 .1 1.3 .1 1.4 .1 1.3 .2 1.4 .1 1.4 .1 1.4 .1 1.3 .2 1.4 .1 1.2 .1 1.2 .1 1.2 .2 1.2 .1 1.2 .1 1.3 .1 1.3 .2 1.4 .1 1.3 .1 1.3 .2 1.2 .1 1.2 .1 1.1 .1 1 .2 .9 .1 .8 .1 .6 .1 .4 .3 .4 .4 .4 .3 .2 .4 .3 .4 .1 .4 .2 .4 0 .3 0 .4-.1 .4-.2 .4-.2 .4-.4 .3-.4 .3-.5 .1-.5 .1-.6 .2-.7 .1-.7 .1-.8 .1-.9 .2-.9 .1-.9 .1-.9 .1-.9 .2-.8 .1-.9 .1-.7 .2-.7 .1-.7 .1-.6 .1-.7 .2-.6 .1-.6 .1-.7 .1-.6 .2-.6 .1-.6 .1-.6 .1-.6 .2-.6 .1-.6 .1-.6 .1-.5 .2-.6 .1-.5 .1-.5 .2-.5 .1-.5 .1-.5 .1-.4 .2-.5 .1-.4 .1-.4 .1-.4 .2-.4 .1-.4 .1-.4 .1-.4 .2-.4 .1-.4 .1-.3 .1-.4 .2-.4 .1-.3 .1-.4 .2-.3 .1-.4 .1-.3 .1-.3 .2-.3 .1-.3 .1-.3 .3-.6 .2-.6 .3-.5 .2-.6 .3-.5 .2-.4 .3-.5 .2-.5 .3-.4 .5-.8 .3-.6 .4-.5 .3-.5 .4-.5 .4-.5 .3-.5 .4-.5 .3-.4 .4-.5 .4-.4 .3-.5 .4-.4 .3-.4 .4-.4 .3-.4 .4-.4 .4-.4 .3-.4 .4-.4 .3-.4 .4-.4 .4-.3 .3-.4 .4-.3 .3-.3 .4-.4 .3-.3 .4-.3 .4-.3 .3-.3 .4-.2 .3-.3 .4-.2 .4-.3 .3-.2 .4-.3 .3-.2 .4-.2 .3-.3 .4-.2 .4-.2 .3-.2 .4-.2 .3-.2 .4-.2 .4-.2 .3-.2 .4-.2 .3-.2 .4-.2 .3-.2 .4-.1 .4-.2 .3-.2 .4-.1 .3-.2 .4-.2 .4-.1 .3-.2 .4-.1 .3-.2 .4-.1 .3-.1 .4-.2 .4-.1 .3-.2 .4-.1 .3-.1 .4-.2 .4-.1 .3-.1 .4-.1 .3-.2 .4-.1 .3-.1 .4-.1 .4-.1 .3-.1 .4-.2 .3-.1 .4-.1 .4-.1 .3-.1 .4-.1 .3-.1 .4 0 .3-.1 .4-.1 .4-.1 .3-.1 .4-.1 .3 0 .4-.1 .4-.1 .3-.1 .4-.1 .3 0 .4-.1 .3-.1 .4 0 .4-.1 .3-.1 .4 0 .3-.1 .4-.1 .4 0 .3-.1 .4-.1 .3 0 .4-.1 .3 0 .4-.1 .4 0 .3-.1 .4 0 .3-.1 .4 0 .4 0 .3-.1 .4 0 .3 0 .4-.1 .3 0 .4 0 .4 0 .3-.1 .4 0 .3 0 .4 0 .4-.1 .3 0 .4 0 .3 0 .4-.1 .3 0 .4 0 .4 0 .3 0 .4-.1 .3 0 .4 0 .4 0 .3-.1 .4 0 .3 0 .4-.1 .3 0 .4 0 .4-.1 .3 0 .4-.1 .3 0 .4-.1 .4 0 .3-.1 .4 0 .3-.1 .4-.1 .3 0 .4-.1 .4 0 .3-.1 .4-.1 .3-.1 .4 0 .4-.1 .3-.1 .4-.1 .3 0 .4-.1 .3-.1 .4-.1 .4-.2 .3-.1 .4-.1 .3-.1 .4-.2 .4-.1 .3-.1 .4-.2 .3-.1 .4-.1 .3-.1 .4-.1 .4-.1 .3-.1 .4-.1 .3-.1 .4-.1 .4 0 .3-.1 .4-.1 .3-.1 .4-.1 .3-.1 .4 0 .4-.1 .3-.1 .4 0 .3-.1 .4 0 .4-.1 .3 0 .4-.1 .3 0 .4 0 .4 0 .3 0 .4 0 .3 0 .4 0 .3 0 .4 0 .4 .1 .3 0 .4 0 .3 .1 .4 0 .4 .1 .3 0 .4 .1 .3 .1 .4 0 .3 .1 .4 .1 .4 0 .3 .1 .4 .1 .3 0 .4 .1 .4 .1 .3 0 .4 .1 .3 .1 .4 .1 .3 0 .4 .1 .4 .1 .3 .1 .4 .1 .3 .1 .4 .1 .4 .1 .3 .1 .4 .1 .3 .2 .4 .1 .3 .1 .4 .1 .4 .2 .3 .1 .4 .1 .3 .1 .4 .2 .4 .1 .3 .1 .4 .2 .3 .1 .4 .2 .3 .1 .4 .1 .4 .2 .3 .1 .4 .2 .3 .1 .4 .2 .4 .1 .3 .2 .4 .2 .3 .1 .4 .2 .3 .2 .4 .1 .4 .2 .3 .2 .4 .2 .3 .2 .4 .1 .4 .2 .3 .2 .4 .2 .3 .2 .4 .2 .3 .2 .4 .2 .4 .2 .3 .2 .4 .2 .3 .2 .4 .2 .4 .2 .3 .2 .4 .2 .3 .2 .4 .2 .3 .2 .4 .2 .4 .2 .3 .2 .4 .3 .3 .2 .4 .2 .4 .2 .3 .2 .4 .3 .3 .2 .4 .2 .3 .2 .4 .3 .4 .2 .3 .2 .4 .3 .3 .2 .4 .2 .4 .3 .3 .2 .4 .3 .3 .2 .4 .2 .3 .3 .4 .2 .4 .3 .3 .2 .4 .3 .3 .2 .4 .3 .4 .3 .3 .2 .4 .3 .3 .3 .4 .2 .3 .3 .4 .3 .4 .2 .3 .3 .4 .3 .3 .2 .4 .3 .4 .3 .3 .3 .4 .3 .3 .2 .4 .3 .3 .3 .4 .3 .4 .2 .3 .3 .4 .3 .3 .3 .4 .3 .4 .2 .3 .3 .4 .3 .3 .3 .4 .2 .3 .3 .4 .3 .4 .3 .3 .3 .4 .2 .3 .3 .4 .3 .4 .3 .3 .3 .4 .3 .3 .2 .4 .3 .3 .3 .4 .3 .4 .3 .3 .3 .4 .3 .3 .3 .4 .2 .4 .3 .3 .3 .4 .3 .3 .3 .4 .3 .3 .3 .4 .3 .4 .3 .3 .3 .4 .3 .3 .3 .4 .3 .4 .3 .3 .3 .4 .3 .3 .4 .4 .3 .3 .3 .4 .3 .4 .3 .3 .3 .4 .4 .3 .3 .4 .3 .4 .3 .3 .3 .4 .4 .3 .3 .4 .3 .3 .3 .4 .4 .4 .3 .3 .3 .4 .4 .3 .3 .4 .3 .4 .3 .3 .4 .4 .3 .3 .3 .4 .4 .3 .3 .4 .3 .4 .3 .3 .4 .4 .3 .3 .3 .4 .4 .4 .3 .3 .3 .4 .4 .3 .3 .4 .3 .3 .4 .4 .3 .4 .3 .3 .4 .4 .3 .3 .3 .4 .4 .4 .3 .3 .3 .4 .4 .3 .3 .4 .4 .4 .3 .3 .3 .4 .4 .3 .3 .4 .4 .3 .3 .4 .3 .4 .4 .3 .3 .4 .4 .3 .3 .4 .3 .4 .4 .3 .3 .4 .4 .3 .3 .4 .3 .3 .4 .4 .3 .4 .4 .3 .3 .4 .3 .3 .4 .4 .3 .4 .4 .3 .3 .4 .4 .3 .3 .4 .4 .3 .3 .4 .4 .4 .3 .3 .4 .4 .3 .3 .4 .4 .3 .4 .3 .3 .4 .4 .3 .3 .4 .4 .3 .3 .4 .4 .3 .4 .4 .3 .3 .4 .4 .3 .3 .4 .3 .4 .4 .3 .3 .4 .4 .3 .3 .4 .3 .3 .4 .4 .3 .4 .3 .3 .3 .4 .4 .3 .3 .4 .3 .4 .4 .3 .3 .4 .3 .3 .3 .4 .4 .3 .3 .4 .3 .4 .3 .3 .4 .4 .3 .3 .3 .4 .3 .4 .4 .3 .3 .4 .3 .3 .3 .4 .3 .3 .3 .4 .4 .4 .3 .3 .3 .4 .3 .3 .3 .4 .4 .4 .3 .3 .3 .4 .3 .3 .3 .4 .3 .3 .3 .4 .4 .4 .3 .3 .3 .4 .3 .3 .3 .4 .4 .4 .3 .3 .3 .4 .3 .3 .4 .4 .3 .3 .3 .4 .3 .4 .3 .3 .4 .4 .3 .3 .3 .4 .3 .4 .3 .3 .4 .4 .3 .3 .3 .4 .3 .3 .3 .4 .3 .4 .3 .3 .3 .4 .3 .3 .3 .4 .3 .4 .3 .3 .2 .4 .3 .3 .3 .4 .3 .3 .2 .4 .3 .4 .2 .3 .3 .4 .3 .3 .2 .4 .3 .4 .2 .3 .3 .4 .2 .3 .3 .4 .2 .3 .3 .4 .2 .4 .2 .3 .3 .4 .2 .3 .2 .4 .3 .4 .2 .3 .2 .4 .3 .3 .2 .4 .2 .3 .2 .4 .2 .4 .2 .3 .2 .4 .3 .3 .2 .4 .2 .4 .2 .3 .2 .4 .2" fill="none" stroke="#efa735" stroke-width="3" stroke-linejoin="round" stroke-linecap="square"/>
<rect x="991.90" y="533.43" width="83.2" height="43.9" fill="#fff" fill-opacity="0.62"/>
<path d="M995.4 545.7l.2-3.3 .3-2.9 .3-1.8 .2-.5 .3-.4 .2-.3 .3-.2 .2-.1 .3-.1 .2 0 .3 0 .2 .1 .3 0 .3 .1 .2 0 .3 .1 .2 .1 .3 .1 .2 .1 .3 .3 .2 .4 .3 .5 .2 .5 .3 .4 .2 .4 .3 .3 .3 .3 .2 .3 .3 .3 .2 .2 .3 .1 .2 .1 .3-.1 .2-.2 .3-.4 .2-.4 .3-.4 .2-.3 .3-.3 .3-.2 .2-.2 .3-.2 .2-.2 .3-.2 .2-.2 .3-.2 .2-.1 .3-.2 .2-.1 .3-.1 .3-.1 .2-.1 .3 0 .2-.1 .3 0 .2 0 .3-.1 .2 0 .3-.1 .2 0 .3 0 .2-.1 .3 0 .3 0 .2 0 .3-.1 .2 0 .3 0 .2 0 .3-.1 .2 0 .3 0 .2 0 .3 0 .2-.1 .3 0 .3 0 .2 0 .3 0 .2 0 .3 0 .2-.1 .3 0 .2 0 .3 0 .2 0 .3 0 .3 0 .2 0 .3 0 .2-.1 .3 0 .2 0 .3 0 .2 0 .3 0 .2 0 .3 0 .2 0 .3-.1 .3 0 .2 0 .3 0 .2 0 .3 0 .2 0 .3 0 .2 0 .3 0 .2-.1 .3 0 .2 0 .3 0 .3 0 .2 0 .3 0 .2 0 .3 0 .2 0 .3 0 .2 0 .3 0 .2 0 .3 0 .3-.1 .2 0 .3 0 .2 0 .3 0 .2 0 .3 0 .2 0 .3 0 .2 0 .3 0 .2 0 .3 0 .3 0 .2 0 .3 0 .2 0 .3 0 .2 0 .3 0 .2 0 .3 0 .2 0 .3 0 .2 .1 .3 0 .3 0 .2 0 .3 0 .2 0 .3 0 .2 0 .3 .1 .2 0 .3 0 .2 0 .3 0 .3 0 .2 .1 .3 0 .2 0 .3 0 .2 .1 .3 0 .2 0 .3 0 .2 0 .3 .1 .2 0 .3 0 .3 0 .2 .1 .3 0 .2 0 .3 .1 .2 0 .3 0 .2 0 .3 .1 .2 0 .3 0 .2 .1 .3 0 .3 0 .2 0 .3 .1 .2 0 .3 0 .2 .1 .3 0 .2 0 .3 .1 .2 0 .3 .1 .3 0 .2 0 .3 .1 .2 0 .3 .1 .2 0 .3 .1 .2 0 .3 .1 .2 0 .3 .1 .2 .1 .3 0 .3 .1 .2 0 .3 .1 .2 .1 .3 0 .2 .1 .3 .1 .2 0 .3 .1 .2 .1 .3 0 .2 .1 .3 .1 .3 0 .2 .1 .3 .1 .2 .1 .3 0 .2 .1 .3 .1 .2 .1 .3 0 .2 .1 .3 .1 .3 .1 .2 .1 .3 0 .2 .1 .3 .1 .2 .1 .3 .1 .2 .1 .3 .1 .2 .1 .3 .1 .2 .1 .3 .1 .3 .1 .2 .1 .3 .1 .2 .1 .3 .1 .2 .2 .3 .1 .2 .1 .3 .1 .2 .1 .3 .2 .2 .1 .3 .2 .3 .1 .2 .1 .3 .2 .2 .1 .3 .2 .2 .1 .3 .2 .2 .2 .3 .1 .2 .2 .3 .2 .3 .1 .2 .2 .3 .2 .2 .2 .3 .2 .2 .2 .3 .3 .2 .2 .3 .3 .2 .3 .3 .3 .2 .3 .3 .3 .3 .4 .2 .4 .3 .4 .2 .5 .3 .4 .2 .4 .3 .6 .2 .7 .3 .9 .2 1.1 .3 1.6 .2 1.9 .3 3.9 .3 17.5" fill="none" stroke="#000" stroke-width="1.0" stroke-linejoin="round"/>
<text x="980.10" y="537.51" class="il">10⁰</text>
<text x="980.10" y="559.76" class="il">10⁻¹</text>
<path d="M981.40 535.41H991.90M981.40 557.66H991.90" stroke="#000" stroke-width="1.15"/>
<rect x="991.90" y="533.43" width="83.2" height="43.9" fill="none" stroke="#000" stroke-width="1.1"/>
<rect x="803.90" y="527.03" width="277.8" height="111.5" fill="none" stroke="#333" stroke-width="1.2"/>
<text x="816.53" y="668.93" class="xl">0%</text>
<text x="867.04" y="668.93" class="xl">20%</text>
<text x="917.55" y="668.93" class="xl">40%</text>
<text x="968.05" y="668.93" class="xl">60%</text>
<text x="1018.56" y="668.93" class="xl">80%</text>
<text x="1069.07" y="668.93" class="xl">100%</text>
<text x="782.60" y="638.16" class="yl">0.0</text>
<text x="782.60" y="587.48" class="yl">0.5</text>
<text x="782.60" y="536.80" class="yl">1.0</text>
<path d="M816.53 638.53V648.93M867.04 638.53V648.93M917.55 638.53V648.93M968.05 638.53V648.93M1018.56 638.53V648.93M1069.07 638.53V648.93M792.90 633.46H803.90M792.90 582.78H803.90M792.90 532.10H803.90" stroke="#444" stroke-width="1.3"/></g>
<g><path d="M95.9 690.0l.1 30 0 7.7 .1 2.2 0 4.6 .1 4 .1 5.4 0 1.3 .1 3.3 .1 1.4 0 2.7 .1-.7 0 2.9 .1 .5 .1 .9 0 1.3 .1 1.4 .1 1.2 0 .7 .1 1.3 .1 1.9 0-1.1 .1 1.7 0 .7 .1 .7 .1 1.1 0 .4 .1 .9 .1-.6 .1 1.1 0 1.1 .1-.5 .1 1 0 .9 .1 .5 .1-.4 0-.4 .1 1.2 .1 .4 .1 .4 .2 .5 0-.4 .1 .9 .1-.5 0 .3 .1 .5 .1 .3 .1-.7 0 1 .1-.4 .1 .4 0 .7 .1-.5 .1 1.6 0-1 .3 .6 .1-.4 .1 .7 0 .5 .1-.4 .1 .5 .1-.4 0 .5 .4 .6 0-.9 .1 .5 .2 1.2 0-1.2 .1 .8 .1-.3 0 .9 .1-.7 0 .5 .2-.5 .1 1.1 .1-.4 .2 .5 .1 .4 .1-.4 .3 .3 .3-.1 .2 1.1 .1-.8 0 .6 .2-.4 0 .7 .2-.5 .2 .7 .1-.3 .1 .3 .1-.5 0 .5 .1-.4 .1 .8 0-.5 .2 .9 .1-.8 .3 .1 .3 .3 .1 .5 .1-.3 .1 .5 .1-.5 .1 .9 .1-.6 .2 .5 .1-.3 .2 .8 0-.9 .1 .4 .2-.5 .1 .3 .3-.2 0 .6 .1-.3 .2 .4 .1 .4 .3 .3 .1-.8 .1 .6 .1-.4 .1 .7 .1-.3 .1 .5 .1-.4 0 .4 .2-.5 .3 .4 .4 .7 .2-1 .2 .8 .4 .1 .4-.1 .4 .6 .2-.4 .4 .2 .4 .1 .4 .2 .2 .5 .2-.5 .4 .5 .2-.5 .4 .3 .4-.1 .4 .1 .4 .3 .2-.5 .2 .8 .4-.1 .4-.2 .2 .6 .2-.6 .2 .5 .2-.8 .2 .7 .2-.4 .2 .4 .4 .1 .4 0 .4 0 .4 .3 .4 0 .4-.1 .4 .3 .4-.4 .2 .4 .4-.6 .2 .4 .4-.4 .2 .8 .4 .2 .2-.5 .4 .2 .4 .1 .4-.3 .2 .6 .4-.1 .4 .1 .4-.2 .2 .6 .4-.3 .2 .4 .4-.7 .2 .5 .4-.4 .2 .3 .4-.5 .2 .5 .4 .2 .4 .1 .4-.2 .4 0 .4-.1 .4 .1 .4-.1 .4-.3 .2 .8 .2-.7 .2 .8 .2-.6 .2 .4 .4 .2 .2-.3 .4 .3 .4-.2 .4-.1 .4 0 .4 0 .4 .2 .4 0 .4 .2 .2-.3 .4-.1 .4-.3 .4 .5 .2 .4 .4-.3 .4 .2 .2 .4 .4-.5 .4 .2 .4-.4 .4 0 .4 .2 .4 .1 .2-.3 .2 .6 .4-.3 .2 .3 .2-.5 .2 .3 .4 .1 .4-.2 .2 .5 .4-.3 .2-.5 .2 .4 .4 .3 .2-.3 .4 0 .2-.5 .2 .8 .4-.1 .4 0 .4 0 .4-.1 .4 .2 .4-.3 .4 .3 .4-.1 .4 0 .4-.2 .2 .4 .4-.4 .2 .5 .4 .2 .2-.4 .4 .3 .4-.2 .2-.4 .4 .3 .4 .2 .4-.2 .4 .1 .4 0 .4 0 .4 0 .2 .3 .4-.1 .4-.3 .4-.1 .4 .5 .2-.3 .2 .3 .4-.2 .4-.2 .2-.4 .2 .6 .4 .1 .4 .1 .4-.3 .4 .2 .2 .4 .2-.5 .2 .4 .4-.1 .4-.2 .4 .3 .4-.4 .4 .4 .4 .2 .4-.2 .4 .1 .2-.4 .4 .3 .2-.3 .4 .4 .4-.7 .2 .4 .4 .1 .4-.1 .2 .6 .4-.4 .4-.3 .4 .2 .4 0 .4 .3 .4-.3 .4 .4 .2-.5 .2 .4 .2-.4 .4 .6 .2-.5 .4 .2 .4-.5 .4 .7 .4-.1 .4-.3 .4 .2 .4 .1 .4 .1 .4 0 .4-.4 .2 .3 .4-.1 .2 .4 .2-.4 .4-.2 .2 .4 .4 .1 .4-.3 .4 .1 .4-.1 .2 .6 .2-.5 .4 .1 .4-.3 .2 .3 .4 0 .4 .2 .4 .2 .4 0 .2-.4 .4 .2 .4-.1 .4 .1 .4 .1 .4-.1 .4-.1 .4 .2 .4-.3 .4 .3 .2-.4 .4 .4 .4-.1 .4 .1 .4 .1 .2-.4 .2 .4 .4-.4 .4-.1 .4 .3 .2-.4 .4 .3 .4 .1 .2 .5 .2-.5 .2 .5 .2-.5 .2 .4 .2-.4 .2-.4 .2 .6 .4-.5 .2 .5 .4-.4 .2 .8 .4-.3 .4 .1 .2-.5 .4 .1 .4 .4 .2-.4 .4 .2 .4 .2 .2 .4 .4-.7 .4-.2 .2 .5 .2-.4 .4 .3 .4-.3 .4 .2 .4-.2 .2 .4 .4-.4 .4-.1 .4 .1 .4 .3 .4 .2 .4-.2 .4 0 .4-.3 .4 .3 .4 0 .4 0 .4 .2 .4-.1 .4-.2 .4 0 .4 .4 .4-.2 .4-.2 .2 .3 .4-.3 .2 .5 .4-.4 .4 .2 .4 .1 .4-.4 .4 .2 .4 0 .2 .4 .4-.3 .4-.1 .4 .1 .4 0 .4 0 .4 .3 .4-.2 .4-.1 .4 .2 .2-.3 .4 0 .4 .1 .4-.2 .2 .3 .4 .1 .2-.4 .4 .2 .4-.1 .4 .4 .2-.6 .2 .3 .4 .3 .2-.4 .4 .4 .2-.4 .4-.1 .4 .3 .4 .2 .4-.2 .4-.1 .2 .5 .2-.4 .4-.1 .4 .4 .4-.3 .4 .3 .4-.3 .4 .2 .4-.3 .4 .4 .4-.2 .4-.1 .4 .3 .2-.4 .4-.2 .2 .6 .4-.1 .2-.3 .4 .4 .4-.4 .4 .5 .4-.2 .4 0 .4 0 .4-.2 .4 .2 .4 .3 .2-.5 .4 .3 .4-.3 .4 .5 .4-.2 .4-.1 .4 0 .4 .1 .4 .2 .2-.5 .4 .4 .4 .1 .4-.2 .4-.2 .2 .6 .4-.1 .4-.1 .4 0 .4-.3 .2 .3 .4 .1 .4-.2 .4 .1 .4-.3 .4 .1 .4 .2 .4 .2 .2-.3 .4 .1 .4 .1 .4 0 .4-.1 .4 0 .4-.6 .2 .4 .4 .1 .4 .3 .4-.1 .4-.4 .4 .3 .4 .1 .4-.1 .4 0 .4-.1 .4 .3 .4-.3 .2 .3 .4-.3 .4-.1 .4 .3 .4 .1 .4-.2 .4 .1 .4 0 .4 .1 .4-.2 .2 .3 .4-.3 .4 .3 .4 0 .4-.2 .2 .3 .4 0 .4 .1 .2-.4 .4 .2 .4 .2 .4-.3 .4-.2 .4 .3 .4-.2 .4 .1 .4 .1 .4-.1 .4-.3 .2 .4 .4-.1 .4-.1 .4 0 .2 .4 .4-.4 .4-.2 .2 .5 .4-.1 .4-.2 .4-.1 .4 .4 .4-.1 .4 .1 .2-.5 .2 .5 .4-.1 .4 0 .4 .1 .4 .1 .4-.3 .4-.2 .4 .3 .4-.3 .2 .5 .2-.3 .2-.4 .2 .4 .2 .3 .4-.1 .2-.5 .2 .6 .4 0 .4 .5 .2-.6 .4 0 .4-.2 .4 .5 .2-.5 .4 .1 .4 .1 .4-.1 .4 .2 .4-.1 .4 0 .4-.3 .2 .4 .4 .1 .4 0 .2-.3 .4 0 .4 .4 .4-.2 .4-.2 .2 .4 .4-.3 .2 .4 .4 0 .4-.3 .4 .1 .4 .1 .4-.1 .4-.1 .4 .1 .4 0 .2-.3 .4 .5 .2-.6 .2 .6 .4-.5 .4 .1 .4 0 .4 .1 .4 .4 .2-.3 .4-.1 .4-.2 .2 .3 .4 0 .4 .1 .4-.3 .2 .4 .4 .2 .2-.4 .4 .1 .4-.1 .4 .1 .4-.2 .4 0 .2 .3 .4-.2 .4-.1 .4 .2 .4 .2 .2-.3 .4-.1 .4 .2 .4 .2 .5-.3 .4 0 .4 0 .4 0 .4 .3 .4-.2 .4-.2 .2 .4 .2-.4 .4 .3 .4-.4 .4 .1 .4 .3 .4-.1 .4-.1 .4-.1 .2 .3 .4 0 .4 .1 .2-.4 .4 .1 .4 .2 .4-.1 .4-.1 .4 .1 .4-.1 .4 .3 .4 0 .4 .1 .4 0 .4-.4 .4 0 .4 .4 .2-.3 .4 0 .4 .2 .4 0 .4-.2 .4 .1 .4-.1 .4-.1 .4 .3 .4 .1 .4-.1 .2 .4 .2-.7 .4 .4 .4 0 .4-.1 .4 0 .2 .4 .4-.2 .4 0 .4-.3 .4 .4 .2-.4 .2 .4 .4-.3 .4-.2 .4 .2 .2 .3 .4-.1 .4-.1 .4 0 .4 .3 .4 .1 .2-.3 .4-.2 .2 .6 .2-.7 .2 .4 .4-.3 .4 0 .4 .2 .4-.1 .4 0 .4 .3 .4-.3 .4 .3 .4-.3 .4 0 .2-.4 .2 .5 .4 0 .2-.4 .4 .4 .4 0 .4 .2 .4-.3 .4 0 .4 .1 .4 0 .4 .3 .2-.6 .4 .3 .4 .2 .4 0 .4-.5 .4 .3 .4-.3 .4 .3 .4-.2 .4 0 .4 .3 .4-.3 .2 .3 .4-.1 .4 .1 .4-.1 .4 0 .4 .2 .4-.1 .4 .1 .4 .1 .4-.3 .4 .1 .4-.2 .2 .4 .4 0 .4-.2 .4-.1 .4 .2 .4 .2 .4-.2 .4 0 .4 .1 .4 0 .4-.1 .4-.5 .2 .7 .4-.3 .4 .1 .4-.1 .4 0 .4 0 .4 .2 .4 .2 .2-.4 .4-.1 .2 .3 .4 .1 .4 0 .4-.3 .4 0 .4 .2 .4-.3 .4 .2 .4-.1 .4-.2 .2 .4 .4 .1 .4-.3 .4 0 .4 .2 .4 .1 .4-.3 .4 .3 .4-.2" fill="none" stroke="#efa735" stroke-width="3" stroke-linejoin="round" stroke-linecap="square"/>
<rect x="271.30" y="692.14" width="83.2" height="43.9" fill="#fff" fill-opacity="0.62"/>
<path d="M275.08 694.14L275.09 699.42" stroke="#555" stroke-width="0.9" fill="none"/>
<path d="M275.1 699.4l0 1.7 0 .5 0 1.1 .1 1.1 0 1.5 0 .3 0 1 0 .5 .1 .9 0 .8 0 .4 .1 .5 0 .6 0 .5 0 .2 0 .5 0 .9 .1-.5 0 .7 0 .4 0 .2 0 .6 .1 .6 0-.3 0 .6 .1 .5 0-.2 0 .5 0 .4 0 .4 .1-.3 0 .5 0 .4 .1 .3 0 .3 .1-.3 0 .4 .1 .4 0 .4 0-.3 .1 1.1 0-.7 .1 .4 0 .5 .1-.3 0 .4 0-.3 0 .4 .1 .3 0-.6 .1 .4 0 .8 0-.8 .1 .5 0 .4 0-.5 0 .4 .1-.4 0 .8 0-.3 .1 .4 0 .3 .1-.5 .1 .4 .1 .7 0-.5 0 .4 .1-.3 0 .5 .1-.3 0 .5 .1-.3 0 .6 .1-.4 0 .7 0-.6 .2 .3 0 .4 .1-.2 0 .4 .1-.4 0 .7 0-.5 .1 .4 0-.3 .1 .7 0-.8 0 .4 0-.4 .1 .3 .1 .3 0-.3 .1 .3 0 .4 .1 .3 0-.7 0 .5 .1-.4 0 .7 0-.3 .1 .4 0-.3 0 .3 .1-.4 0 .3 .2 .6 0-.8 .1 .7 .3 .2 .3 .1 .1 .3 .1 .5 .1-.5 .1 .5 0-.5 .2 .3 .3 .3 .1-.5 0 .7 .2-.2 .1 .6 .1-.6 .1 .5 0-.9 .1 .8 0-.4 .1 .3 .3 .2 .2 .3 0 .3 .1-.3 .3-.1 .2 .4 0-.8 .1 .4 .1-.4 .1 .9 0-.3 .1 .4 .1-.4 .1 .2 .2-.2 .1 .5 .2 .3 .1-.4 .1 .6 .1-.4 .1 .5 .1-.7 .1 .5 0-.3 .2 .3 .1-.7 0 .6 .3 .3 .1-.3 .3 .3 .2-.3 .1-.3 0 .9 .1-.9 .1 .9 0-.6 .1 .4 .1 .2 .1-.3 .1 .3 .2-.4 .3 .1 .1 .5 .2-.3 0 .3 .1-.4 0 .3 .1-.3 .1-.4 .1 .3 .1 .6 .1-.2 .2 .6 .1-.5 .3-.3 0 .3 .1-.4 .1 .3 .2 .5 .2-.4 0 .4 .1-.6 0 .4 .3 .4 .2-.4 0-.5 .1 .4 .1 .4 .1-.4 .1-.5 .1 .9 .3-.1 .3 .1 .1-.3 .1 .3 .1-.3 .3 0 .1 .4 .1-.4 0 .6 .2-.3 .1 .4 .2-.3 0-.4 .1 .3 .1 .3 .1-.3 .3 .1 .1 .3 0-.3 .2 .4 .3-.4 .2 .4 .1-.4 0 .4 .3-.5 0-.4 .1 .6 .2 .3 .1-.3 .1 .2 .1 .4 .1-.5 0 .4 .2-.4 .2 .5 .1-.6 .1 .5 .3-.1 .1 .3 0-.5 .2 .3 0-.4 .1 .5 .1-.3 .1-.5 0 .5 .3 .7 .1-.4 .2-.5 .1 .3 .2-.2 0 .6 .1-.4 .2 .4 0-.5 .1 .5 0-.6 .2 .8 0-.6 .1 .3 .1-.4 .1-.3 0 .4 .1 .5 .2-.5 .3 .3 .3 .3 0-.6 .1 .4 .2 .3 0-.5 .2 .3 .3 0 .2-.3 0 .8 .1-.6 .2-.3 .1 .4 .3 .1 .1 .4 .1-.5 .1 .3 .1-.4 .2 .3 .2 .4 0-.4 .3 .3 .1-.5 .1 .3 .1-.4 .1 .4 .3-.2 .1 .3 0-.5 .1 .5 .1-.4 .3-.2 .1 .2 .1 .3 .1 .5 .1-.6 0 .6 .1-.6 0 .5 .1-.5 .1-.5 0 .7 .1-.5 .1 .5 .1-.4 .1 1 0-.3 .2-.3 0 .4 .1-.8 .2 .4 0 .3 .1-.5 0 .4 .3 .6 0-.3 .1-.6 .2 .4 0-.4 .2 .3 .1-.4 .1 .3 .2 .3 0-.3 .2-.4 .1 .3 .2 .4 .3-.5 0 .3 .1-.4 .1 .3 .3 0 .1 .4 .2-.5 .2 .4 .3-.3 .1 .4 .1-.3 .1 .5 .1-.5 .1 .3 .3-.5 .1 .3 .2 .5 .1-.4 .3 .3 .1-.4 .2 .5 .2-.3 .1 .3 .1-.5 .3 .3 .1-.4 0 .4 .2-.4 .3 .3 0 .3 .1-.7 .1 .4 .1 .4 0-.6 .1 .4 .1-.4 .3 .1 .1 .4 .2-.3 .1 .6 0-.6 .1 .4 .1-.4 .1 .5 0-.3 .2 .2 .1-.3 .2 .3 0-.4 .2 .4 .2-.4 .1 .3 .1-.4 .1 .3 0-.5 .1 .7 .2-.5 .1 .6 .1-.5 .1 .5 .3-.2 .3 0 .2 .4 0-.7 .1 .4 .2-.3 .1 .7 .1-.3 .1-.4 0 .3 .3-.1 .1 .4 0-.6 .2 .5 .3-.1 0-.4 .1 1 0-.3 .2-.3 0 .3 .3-.5 0 .4 .3-.3 .1 .3 .1-.4 .2 .6 .2-.3 .2 .5 .1-.3 .1-.2 .3-.6 .1 .4 .2 .3 .3-.4 .1 .5 .2 .2 0-.3 .3 0 .1 .3 .1 .3 0-.8 .1 .5 0-.3 .2-.3 .1 .3 .1 .3 .2-.3 .3-.1 0 .4 .2-.3 0 .4 .1-.4 .2 .5 .2-.4 .1 .5 0 .3 .1-.4 .1 .3 .1-.7 .1 .3 0-.3 .1 .6 .1-.4 .1-.2 .1 .3 .3-.1 .3 .1 .1-.4 0 .4 .3 .1 .1-.3 0 .5 .2-.5 .1 .3 .2 .3 .1-.6 0 .2 .1-.3 .1 .3 .3 .2 0-.7 .1 .7 0 .3 .1-.5 .1-.2 .1 .3 .3-.3 .1-.2 .1 .3 .2 .4 .1-.4 0-.5 .1 .4 0 .5 .2-.8 .1 .8 .2 .7 .1-.8 .2-.3 .1 .6 .1-.6 .3 .4 .1-.3 .1 .4 0-.4 .3-.2 .1 .6 .3-.4 .2 .4 .3-.3 0 .5 .1-.3 .1 .4 .1-.3 0 .3 .1-.4 .2 .4 .3-.4 .1 .2 .2-.5 .1 .7 .1-.8 .1 .8 0-.3 .1-.3 .3 .5 0-.3 .1 .3 .1 .3 0-.4 .3-.5 0 .4 .2-.3 .1 .6 0-.3 .1 .4 .1-.3 .1 .5 0-.6 .2 .5 .1-.4 .3-.3 .1 .5 0-.3 .3 .2 .2 .3 0-.5 .1 .4 0-.4 .2 .2 .3-.2 .2 .3 .2 .3 .1-.4 .2-.3 .2 .4 0-.3 .3 .3 .1-.3 .2 .4 .1-.5 0 .4 .3-.3 .1 .3 .3-.1 .1 .3 0-.4 .1 .4 0-.3 .2 .3 .1-.3 .1 .3 .1-.3 0 .4 .3-.5 0 .3 .1-.3 .1 .6 .1-.5 .3 .3 .1-.3 .2 .3 .1-.3 0 .3 .1-.4 .1 .4 .3 0 0 .6 .1-1 0 .5 .2 .4 0-.4 .3 .4 .1-.4 .3-.2 0 .3 .1 .3 .1-.6 0 .5 .1-.2 .2-.5 0 .3 .1 .5 .1-.4 .3 0 .1 .5 .1-.3 0 .5 .1-.6 .1 .3 0-.5 .1 .9 0-1 .1 .6 .1-.5 .2-.4 .1 .6 .3-.2 0 .5 .1-.3 .1 .3 .1-.4 .1-.3 .1 .3 0-.5 .1 .7 .1-.4 0 .3 .1-.5 .1 .6 .1-.3 0 .2 .1 .4 .1-.3 .3-.1 .1 .4 0-.3 .1 .4 .1-.8 .1 .3 .1-.4 0 .7 .3-.6 0 .3 .2-.3 .1 .3 .3-.3 0 .3 .2-.3 .1 .5 0-.3 .2 .3 .3-.2 0 .3 .3 0 .3-.3 .3 .6 0-.4 .1 .3 .1-.3 .3 .1 .1 .3 .1-.2 .3 .2 .2-.3 .1-.6 0 .9 .2-.3 0 .3 .1-.3 .3-.1 .2 .4 .1-.3 .2-.3 0 .6 .1-.5 0 .6 .2-.2 .3 0 .1-.5 .1 .4 .1 .4 .1-.5 .1-.3 .1 .5 .3 .2 0-.5 .1 .3 .3-.3 .1 .5 .1-.4" fill="none" stroke="#000" stroke-width="1.15" stroke-linejoin="round"/>
<text x="259.50" y="717.87" class="il">10²</text>
<path d="M265.30 731.60H271.30M265.30 727.75H271.30M265.30 724.60H271.30M265.30 721.94H271.30M265.30 719.63H271.30M265.30 717.59H271.30M260.80 715.77H271.30M265.30 703.80H271.30M265.30 696.80H271.30" stroke="#000" stroke-width="1.15"/>
<rect x="271.30" y="692.14" width="83.2" height="43.9" fill="none" stroke="#000" stroke-width="1.1"/>
<text x="166.44" y="711.24" class="nm">DLRM</text>
<rect x="83.30" y="685.74" width="277.8" height="111.5" fill="none" stroke="#333" stroke-width="1.2"/>
<text x="95.93" y="827.64" class="xl">0%</text>
<text x="146.44" y="827.64" class="xl">20%</text>
<text x="196.95" y="827.64" class="xl">40%</text>
<text x="247.45" y="827.64" class="xl">60%</text>
<text x="297.96" y="827.64" class="xl">80%</text>
<text x="348.47" y="827.64" class="xl">100%</text>
<text x="62.00" y="775.76" class="yl">100</text>
<text x="62.00" y="743.35" class="yl">200</text>
<text x="62.00" y="710.95" class="yl">300</text>
<path d="M95.93 797.24V807.64M146.44 797.24V807.64M196.95 797.24V807.64M247.45 797.24V807.64M297.96 797.24V807.64M348.47 797.24V807.64M72.30 771.06H83.30M72.30 738.65H83.30M72.30 706.25H83.30" stroke="#444" stroke-width="1.3"/></g>
<g><path d="M456.2 689.7l.1 30.2 0 9.1 .1 6.5 0 5.9 .1 4.3 .1 2.8 0 2.9 .1 2.2 .1 2.2 0 1.7 .1 1.4 0 1 .1 1 .1 .8 0 1 .1 1 .1 .7 0 .6 .1 1.1 .1 .6 0 .8 .1 .4 0 .6 .1 .7 .1 .4 0 .5 .1 .4 .1 .3 .1 1.1 .1 .3 .1 .5 .1 .6 .1 .7 .1 .3 .1 .6 .1 .7 .2 .5 .2 .5 .1 .5 .2 .4 .1 .6 .2 .4 .2 .3 .2 .4 .2 .5 .1 .3 .4 .5 .3 .2 .2 .3 .1 .4 .3 .4 .3 .3 .3 .4 .4 .4 .3 .1 .2 .4 .3 0 .2 .3 .3 .2 .2 .3 .3 0 .4 .3 .3 .1 .3 .3 .3-.1 .1 .3 .4 0 .3 .2 .3-.1 .3 .4 .3 0 .3 .3 .1-.3 .2 .3 .4 .1 .3 .1 .5 0 .5 .1 .6 .4 .5-.3 .5 .3 .6 .1 .5 .2 .5-.1 .6 .2 .5 .1 .5 0 .6 .2 .5 0 .6 .2 .5 0 .5 0 .6 .1 .5 .1 .5 0 .6 .1 .5 0 .5 .2 .6-.1 .5 .1 .5 .1 .6 .1 .5 0 .5 .1 .6 0 .5 .1 .5-.1 .6 .1 .5 .1 .5 .1 .6 .1 .5-.1 .5 .1 .6 0 .5 .1 .5 .1 .6 0 .5 0 .5 0 .6 .1 .5 .1 .5 0 .6 0 .5 .1 .5 0 .6 0 .5 .1 .5-.1 .6 .1 .5 .1 .5 0 .6 0 .5 0 .5 0 .6 .1 .5 0 .5 0 .6 0 .5-.1 .5 .3 .6-.1 .5 .1 .5 0 .6 .1 .5-.1 .5 .1 .6-.1 .5 .1 .5 0 .6 .1 .5 0 .5 0 .6 0 .5 .1 .5 0 .6 .1 .5-.1 .5 .1 .6-.2 .5 .3 .5 0 .6-.1 .5 .1 .5 0 .6 0 .5 .1 .5-.1 .6 .1 .5 0 .5 0 .6 0 .5 0 .5 0 .6 0 .5 .1 .5 0 .6 0 .5 0 .5 0 .6 0 .5 .1 .5-.1 .6 .2 .5 0 .6-.1 .5 0 .5 0 .6 .2 .5-.1 .5 0 .6 0 .5 .1 .5 0 .6 0 .5 0 .5 0 .6 0 .5 .1 .5 .1 .6-.1 .5 0 .5 0 .6 .1 .5 0 .5 .1 .6-.1 .5 .1 .5-.1 .6 0 .5 0 .5 0 .6 0 .5 0 .5-.1 .6 .1 .5 .1 .5-.1 .6 .1 .5 0 .5-.1 .6 .1 .5 0 .5 .1 .6 0 .5-.1 .5 0 .6 0 .5 .1 .5 0 .6-.1 .5 0 .5 0 .6 .1 .5 0 .5 .1 .6-.2 .5 .2 .5-.2 .6 .2 .5-.1 .5 0 .6 .1 .5-.1 .5 0 .6 0 .5 .1 .5 .1 .6-.1 .5-.1 .5 .1 .6 0 .5-.1 .5 0 .6 .2 .5-.1 .5-.1 .6 .1 .5 .1 .5-.1 .6 0 .5 0 .5 0 .6 0 .5 .1 .5-.1 .6 .1 .5-.1 .5 .1 .6 0 .5-.1 .5 .2 .6-.3 .5 .2 .5 0 .6-.1 .5 .1 .6-.1 .5 0 .5 .1 .6-.1 .5 .2 .5 0 .6-.1 .5 .1 .5-.1 .6 0 .5 0 .5 0 .6 .1 .5-.1 .5 0 .6 0 .5 0 .5 .1 .6 .1 .5 0 .5-.1 .6 .1 .5-.1 .5 0 .6 0 .5 0 .5 0 .6 0 .5 .1 .5 0 .6-.1 .5 .1 .5 0 .6 0 .5 0 .5 0 .6 0 .5 .1 .5-.1 .6-.1 .5 0 .5 .1 .6 0 .5 0 .5 0 .6 .1 .5 .1 .5-.2 .6 0 .5 0 .5 .1 .6-.1 .5 .1 .5 0 .6-.1 .5 0 .5 .1 .6 .1 .5 0 .5-.1 .6 .1 .5-.1 .5 .1 .6 0 .5 0 .5-.1 .6 0 .5 0 .5 0 .6 0 .5 0 .5 0 .6 .1 .5 0 .5 0 .6 0 .5 0 .5 0 .6 0 .5 0 .5 0 .6 0 .5 .1 .5 0 .6-.1 .5 0 .5 0 .6 .1 .5 0 .5 0 .6 0 .5-.1 .6 0 .5 .1 .5 0 .6 0 .5 0 .5 0 .6 0 .5 .1 .5-.1 .6 0 .5 0 .5 0 .6 .2 .5-.1 .5 0 .6-.1 .5 .1 .5-.2 .6 .2 .5 0 .5 0 .6 .1 .5-.1 .5 0 .6 0 .5 0 .5 0 .6 0 .5 .2 .5-.1 .6-.1 .5 .1 .5 0 .6 0 .5-.1 .5 0 .6 0 .5 .1 .5 0 .6 .1 .5 0 .5-.1 .6 0 .5 .1 .5-.1 .6 0 .5 .1 .5-.1 .6 0 .5 .1 .5 0 .6-.1 .5 0 .5 .1 .6 0 .5-.1 .5 0 .6 .1 .5-.1 .5 0 .6 .2 .5-.1 .5 0 .6 0 .5 0 .5 0 .6 0 .5 .1 .5-.1 .6 .1 .5-.2 .5 .2 .6 .1 .5-.1 .5 0 .6 0 .5-.1 .5 0 .6 0 .5 0 .5 0 .6 .1 .5 .1 .5-.1 .6-.1 .5 .1 .5 0 .6 0 .5 0 .5 0 .6 0 .5 .1 .5 0 .6-.1 .5 0 .6 .1 .5 0 .5 0 .6-.1 .5 0 .5 .2 .6-.1 .5 0 .5 0 .6 0 .5 0 .5 0 .6-.1 .5 0 .5 .1 .6 0 .5 .1 .5 0 .6 0 .5-.1 .5 0 .6 0 .5 .1 .5 0 .6-.1 .5 0 .5 .1 .6-.1 .5 .1 .5 0 .6-.1 .5 .1 .5 0 .6 .1 .5-.2 .5 .1 .6-.1 .5 .1 .5 .1 .6-.1 .5 0 .5 .1 .6-.1 .5 0 .5 0 .6 0 .5 0 .5 .1 .6 0 .5 0 .5-.1 .6-.1 .5 .2 .5-.1 .6 0 .5 0 .5 .1 .6-.1 .5 .1 .5 0 .6 0 .5 0 .3 0" fill="none" stroke="#efa735" stroke-width="3" stroke-linejoin="round" stroke-linecap="square"/>
<rect x="443.60" y="685.74" width="277.8" height="111.5" fill="none" stroke="#333" stroke-width="1.2"/>
<text x="456.23" y="827.64" class="xl">0%</text>
<text x="506.74" y="827.64" class="xl">20%</text>
<text x="557.25" y="827.64" class="xl">40%</text>
<text x="607.75" y="827.64" class="xl">60%</text>
<text x="658.26" y="827.64" class="xl">80%</text>
<text x="708.77" y="827.64" class="xl">100%</text>
<text x="422.30" y="758.24" class="yl">200</text>
<text x="422.30" y="710.94" class="yl">400</text>
<path d="M456.23 797.24V807.64M506.74 797.24V807.64M557.25 797.24V807.64M607.75 797.24V807.64M658.26 797.24V807.64M708.77 797.24V807.64M432.60 753.54H443.60M432.60 706.24H443.60" stroke="#444" stroke-width="1.3"/></g>
<g><path d="M816.5 782.7l.1-2.7 .1-2.7 0-2.6 .1-2.5 0-2.6 .1-2.3 .1-2 0-1.3 .1-1.1 .1-1.7 .1-1.1 0-1.3 .1-.3 .1-.6 0-1 .2-.7 0-1.2 .1-.6 .1 .4 0 .7 .1-1.4 0-.9 .1-.4 .1-.9 .2-1.1 0-1.1 .1 .4 0-.7 .1-.5 .1-.4 0-.5 .2-1.5 .1-.3 .1-.3 0-.6 .1-.6 .1-.3 .1-.8 0-2.3 .2 1.5 0-.4 .2-1.2 .1-.8 .1-.8 .1 .8 0-.5 .2-.8 0-.6 .1 .4 0-.6 .1-.8 .1-1 0-1.1 .1 1.1 .1-1.1 .2-.4 .1-.6 0 .4 .2-1.2 0-.6 .2 .7 0-.4 .1-1.3 .2-1 .1 .8 .1-.9 0-2.2 .1-1 0 1.2 .1 1.2 .1-.5 .1-.8 .1-.8 .1-.4 .1-.8 .1 .8 .1-1.1 .1-.8 .1 .4 .1 .4 0-1.1 .1 .9 .1-1.6 .1 .8 .1-.6 .1 .5 0-.4 .1-1.1 .1 .6 .1-.8 .1-.6 .1 .4 .1-.6 .1-.5 .1-1.3 0 .5 .2-2 .1 1.4 .2-.6 .1-.5 0 .8 .1-.4 0-.6 .1 1.4 .1 1.1 0-1.6 .1-1.2 .1 .6 .1-.6 0-.7 .1 1.7 .1-1.7 .1-1.9 .1 .4 0 1.4 .1-1 .1-1.4 0 2.5 .1 .7 0-2.2 .2-1 .1 .7 .1-.3 0 .3 .1-.6 0-.6 .1 .8 .1-.4 0-1.1 .1-.4 .1 1.2 0 1.5 .1-1.4 0-.5 .1 1.6 .1 .8 .1-1.1 .1-1.8 0 2.2 .2-3 0 .3 .1 1 0-1.4 .1 1.1 .1 .5 0-2.4 .2-1 .1 .6 0 .4 .1-.4 .1-.4 .1-1.4 .1 1 0 .4 .1 .4 .3-2 .3 .6 .3 1.9 .2-.9 .3-1.2 .3-1.1 .2-2.3 .6 .4 .2 1 .3 .6 .3-1.3 .5-.7 .5 .1 .3-.9 .3-.4 .2 1.3 .6-1.6 .2 .9 .3-.4 .3-.5 .2-1.1 .3 .6 .5-3.6 .3 .4 .3 1.1 .2-.3 .3-.7 .3-.7 .2 .8 .3-.5 .3-1 .2 .9 .3-.5 .3-1.3 .2 .4 .3-1 .5 2.3 .3-2.8 .3 .5 .2 3.5 .3-2.3 .3-1.9 .5 1.2 .3 1 .5-1.1 .3-.9 .2-1.3 .3-.7 .5-.4 .3 2.2 .3-.5 .5-.4 .3-2.7 .2 1.2 .3-.6 .3-1.4 .2 1.2 .3 .4 .5-1.1 .3-.4 .5-.9 .3 1.5 .3 .4 .2-.5 .3-1.4 .5 1.9 .3-.5 .3 1.1 .2 .3 .3-1.5 .3 1.2 .2-.8 .3-.7 .3-.8 .2-1.8 .3 1.5 .3 .4 .2 1.5 .3 1.6 .3-2.8 .2-2 .3 1.6 .3 .6 .2-1.7 .3-1.1 .3 1.5 .2 1.4 .3-1.1 .3-.8 .5 .2 .3 .5 .2-1.7 .3-1 .3 1.9 .5-1.1 .3 2.4 .2 .7 .3-2.2 .3-1 .2 .4 .6 1.2 .2-.4 .3-2.8 .3 1.6 .2 1.7 .3-2.6 .3 .4 .2 2.5 .3-1.4 .3 1.7 .2 3.3 .3-.6 .3-4.4 .2 .5 .3 2.9 .3-1.8 .2 1.1 .3 1.2 .3-1.2 .2-2.1 .3 .4 .5 .1 .3 .8 .3-1.2 .3 1.3 .5-1.5 .3-1.1 .2 .6 .6-.5 .2 1.5 .6-.1 .2-.8 .3 1.1 .5-.8 .3 .6 .3-.8 .2 2.2 .3 1.2 .3-1 .2-2.3 .6 1 .2-1.9 .6 2.8 .2 1.4 .3-1.7 .3-.8 .2 .9 .3-.6 .3-.6 .5-1.3 .3 .9 .2 1.2 .3 .9 .3 .6 .2-1.7 .3-2.6 .3 .3 .2 1.8 .3 .7 .3 .8 .2-.5 .3-.4 .5-.7 .6 1.4 .2-1.7 .3 .7 .3 .9 .2-1.7 .3 .9 .3 .8 .2 .6 .3 .9 .3-1.3 .2-2.9 .3 2 .3 2.5 .2-1.1 .3-.8 .3-.8 .2 .7 .3 2.4 .3-.7 .2-1 .6 .7 .5-2 .5 .3 .3 1.2 .5-.6 .3 .8 .3 .9 .2-.5 .3-1.1 .5-.3 .3 1.7 .3-.7 .2-2 .3 .9 .3 1.6 .2-.4 .3-.5 .3 1.4 .2 1.4 .3-1.3 .3-.4 .2 1.6 .3-.7 .3-.7 .2 1 .3 .7 .3-.8 .2 2.2 .3 .7 .3-1.3 .2-1.1 .3-.9 .5-.3 .3 1.4 .3-.4 .2-.6 .3 .9 .3 1.5 .2 .4 .3-1.8 .5-.1 .3 .4 .3 1.8 .5 .7 .3 1.3 .5-3.5 .3-1.3 .2 1.9 .3-.7 .5 2.1 .6-1 .2-1.1 .3 1.2 .3 .7 .5-.3 .3-.9 .5 0 .5 1.5 .3 1.3 .5 .1 .3-2.4 .3-.8 .2 .9 .3 .8 .5-.3 .6 1.3 .5-1.8 .3 2 .5 .2 .3-.3 .2-1.6 .3 1.1 .3 1.3 .2-.4 .6-1 .3 .6 .2 1.4 .6-1.6 .2-1.3 .6 2.2 .2-.5 .3 1.2 .3 1.7 .2-2.3 .6-1.7 .2-.8 .3 1 .3 1.7 .2-.9 .3 .4 .3 1.3 .2-1.9 .6 1.1 .5 1.3 .5-.6 .6 .3 .5 .9 .5-1.5 .3 1.8 .3 1.7 .2 .3 .3-.3 .3 .8 .5-.7 .5-.6 .3-1.3 .3-.5 .2 1.7 .6-.2 .5 1.6 .3-.5 .2-.8 .3 2.6 .3 1.3 .2-1.7 .3-1.7 .3-.5 .2 1.2 .3 .8 .3-.3 .2 .3 .6 .8 .2 .4 .6 1.3 .2-.6 .3-1.2 .3 2 .5-.9 .3 1 .2-1.9 .3 .7 .3 3.2 .2-1.5 .3-1.6 .3 1.5 .2-.4 .3 .7 .3 1.4 .2 .4 .3-.6 .3-.4 .5-.6 .3 .6 .2 .8 .3-.7 .3 1.1 .2-.9 .3-2.5 .3 1.4 .2 .9 .3-.4 .3 1.7 .2 1 .3-1.1 .5-.9 .3-.5 .3 1 .2 1.3 .3 1.3 .3-.4 .2-1.9 .3 .7 .3 1.1 .2-1.1 .3 .4 .3 1 .5 .3 .3 1.5 .2 .4 .3-2.5 .5 .3 .3 .5 .3 1 .2-.4 .3 .6 .3-1.3 .5 .4 .3 1.5 .2 1.3 .3-2.6 .3-1.5 .2 1.3 .3 .7 .3-.4 .5 .3 .5 0 .3-.8 .3 .6 .2 2.7 .3-.5 .3-2.7 .2-.8 .3 1.2 .3 1.1 .2-1.5 .3 1.6 .3 1.6 .2-1.2 .3 1.1 .5-.5 .3 1.1 .5-1.7 .6 1.9 .2-.8 .6 .3 .5 .6 .6 .7 .2 .3 .6-.8 .2-1 .3 .3 .3 .4 .2 .3 .3 1 .3 2.1 .2-1.3 .3-1.1 .3 1 .2 1.9 .3-1.4 .3-1.5 .2 1.6 .3 .5 .5-.5 .3 2.7 .3 .8 .2-2.2 .3-.8 .3 1.5 .5-.5 .3 2.2 .2-.5 .3-1.1 .3 1.2 .2-.6 .3 .9 .5-1.9 .3 .8 .5-1 .3 1.9 .3 1.5 .2-.9 .3-.5 .3 .8 .2 .9 .3-.6 .3-.8 .5-.2 .5 .3 .3 .7 .3 1.1 .2-1.2 .6 1.7 .2-.6 .3 .3 .5 0 .3 .3 .3-1.3 .5 1.3 .3-.5 .5 .4 .3 1.1 .2 .9 .3-1.2 .5 .9 .3-1.2 .5 .6 .6 .6 .5 .4 .3 .9 .2-.6 .3-.4 .5-.2 .3 1.2 .3 1.6 .5-1.6 .5 .7 .3 1.1 .5-.9 .3 1.2 .3-.8 .2-.9 .3 .9 .3 .6 .2 .3 .6-.2 .5 .4 .3-.7 .5 .8 .5 .2 .3 .5 .5 .7 .3 .7 .3-1.7 .5 1.3 .3 .3 .2 1 .3 .9 .5-1.9 .6 1.6 .5-.6 .3 .5 .2 1.1 .3 .3 .3-1.1 .5 .1 .5 1.1 .3 .3 .3-.6 .2 1 .3 1.2 .5-.2 .3-.7 .5 1.1 .6 .6 .5-.5 .5 .1 .6-.4 .2 .7 .3 1.8 .3 .4 .2-1.2 .3 .5 .5 .1 .3 .9 .3-1.2 .5 1.5 .5-.4 .3 .6 .3 .7 .3-.5 .5 .3 .3 .6 .5-.9 .5 .2 .3 .3 .3 .8 .2 .4 .3 .3 .5 .5 .6-.8 .2 .9 .3 .9 .5 .8 .6 .1 .2 .5 .6-.4 .2-.5 .6 .7 .5-.5 .3 1 .5-.7 .3 1 .2 .5 .3 .3 .5-1 .3 .9 .3 1.2 .2-.4 .3 .7 .5-.2 .3-.4 .5 .5 .6 1 .5 .1 .3 .4 .5 .2 .5-.6 .3 .4 .3 1.3 .2-.5 .6 1.3 .5-.4 .3-.4 .2 .5 .3 .3 .3 .5 .5-.4 .3 .5 .2 .4 .3-.4 .5 .9 .6 .3 .2 .8 .3-.5 .5 1 .3 .4 .5-.5 .3 .5 .5 .3 .3 .8 .5 0 .3 .3 .3-.6 .2 .5 .3 1 .3-.4 .2-.6 .6 .1 .2 .8 .3 .4 .5-.7 .3 .6 .3 .5 .5-.1 .5-.1 .3 .7 .3 .7 .2 .3 .3 .3 .3-.5 .5 .9 .3 .3 .5-.1 .5 .9 .6-.4 .5 .1 .5 .1 .3 .5 .3 .5 .5 .7 .3-.4 .5 .6 .5 .7 .3 .4 .5 .4 .6-.1 .2 .4 .3-.4 .5 .6 .3 .4 .5 .3 .6 0 .5 .2 .3 .4 .2 .6 .6-.2 .5 .6 .5 .5 .6 .4 .5 .1 .6 .4 .5 .6 .5-.4 .3 .5 .3 .5 .5-.2 .3 .5 .2 .4 .6 0 .5 .7 .5 .1 .6 .3 .5 .4 .3 .3 .5 .5 .5 .1 .6 .4 .5-.1 .3 .5 .2 .4 .6 .2 .5 .3 .3 .3 .5 .3 .5 .2 .6 .3 .5 .3 .5 .5 .6 .2 .5 .4 .5 .2 .3 .3 .3 .4 .5 .3 .5 .2 .6 .5 .5 .4 .5 .2 .6 .2 .5 .5 .5 .3 .6 .5 .5 .3 .5 .3 .6 .1 .5 .6 .5 .3 .6 .4 .5 .4 .5 .3 .6 .3 .5 .5 .5 .2 .6 .4 .5 .4 .5 .3 .6 .4 .5 .3 .5 .4 .6 .4" fill="none" stroke="#efa735" stroke-width="3" stroke-linejoin="round" stroke-linecap="square"/>
<rect x="991.90" y="692.14" width="83.2" height="43.9" fill="#fff" fill-opacity="0.62"/>
<path d="M995.4 704.4l.2-2.9 .3-2.3 .3-.9 .2-.6 .3-.5 .2-.5 .3-.4 .2-.3 .3-.2 .2-.2 .3-.2 .2-.1 .3-.1 .3 0 .2-.1 .3-.1 .2-.1 .3-.1 .2 0 .3-.1 .2-.1 .3 0 .2-.1 .3 0 .2-.1 .3 0 .3 0 .2-.1 .3 0 .2 0 .3 0 .2 0 .3 0 .2-.1 .3 0 .2 0 .3 0 .2 0 .3 0 .3 0 .2 .1 .3 0 .2 0 .3 0 .2 0 .3 0 .2 0 .3 0 .2 0 .3 0 .3 0 .2 0 .3 0 .2 0 .3 0 .2 0 .3 0 .2 0 .3 0 .2 0 .3 0 .2 0 .3 0 .3 0 .2 0 .3 0 .2 0 .3 0 .2 0 .3 0 .2 0 .3 0 .2 0 .3 .1 .2 0 .3 0 .3 0 .2 0 .3 0 .2 0 .3 0 .2 0 .3 0 .2 0 .3 0 .2 0 .3 0 .3 0 .2 0 .3 0 .2 0 .3 .1 .2 0 .3 0 .2 0 .3 0 .2 0 .3 0 .2 0 .3 0 .3 0 .2 0 .3 .1 .2 0 .3 0 .2 0 .3 0 .2 0 .3 0 .2 0 .3 .1 .2 0 .3 0 .3 0 .2 0 .3 .1 .2 0 .3 0 .2 0 .3 0 .2 .1 .3 0 .2 0 .3 0 .3 0 .2 .1 .3 0 .2 0 .3 0 .2 .1 .3 0 .2 0 .3 0 .2 .1 .3 0 .2 0 .3 0 .3 .1 .2 0 .3 0 .2 0 .3 .1 .2 0 .3 0 .2 .1 .3 0 .2 0 .3 0 .2 .1 .3 0 .3 0 .2 .1 .3 0 .2 0 .3 0 .2 .1 .3 0 .2 0 .3 .1 .2 0 .3 0 .3 0 .2 .1 .3 0 .2 0 .3 .1 .2 0 .3 0 .2 .1 .3 0 .2 0 .3 0 .2 .1 .3 0 .3 0 .2 .1 .3 0 .2 0 .3 .1 .2 0 .3 0 .2 .1 .3 0 .2 0 .3 .1 .2 0 .3 0 .3 .1 .2 0 .3 0 .2 .1 .3 0 .2 .1 .3 0 .2 0 .3 .1 .2 0 .3 .1 .3 0 .2 0 .3 .1 .2 0 .3 .1 .2 0 .3 0 .2 .1 .3 0 .2 .1 .3 0 .2 .1 .3 0 .3 .1 .2 0 .3 .1 .2 0 .3 .1 .2 0 .3 .1 .2 0 .3 .1 .2 0 .3 .1 .2 .1 .3 0 .3 .1 .2 0 .3 .1 .2 .1 .3 0 .2 .1 .3 0 .2 .1 .3 .1 .2 0 .3 .1 .3 .1 .2 .1 .3 0 .2 .1 .3 .1 .2 .1 .3 .1 .2 .1 .3 .1 .2 .1 .3 .1 .2 .1 .3 .1 .3 .1 .2 .1 .3 .1 .2 .1 .3 .2 .2 .1 .3 .1 .2 .1 .3 .2 .2 .1 .3 .1 .2 .2 .3 .1 .3 .1 .2 .2 .3 .1 .2 .2 .3 .1 .2 .2 .3 .2 .2 .1 .3 .2 .2 .2 .3 .1 .3 .2 .2 .2 .3 .2 .2 .2 .3 .2 .2 .2 .3 .3 .2 .2 .3 .3 .2 .3 .3 .3 .2 .3 .3 .3 .3 .4 .2 .3 .3 .4 .2 .5 .3 .3 .2 .4 .3 .5 .2 .6 .3 .7 .2 1 .3 1.3 .2 1.7 .3 3.6 .3 17.5" fill="none" stroke="#000" stroke-width="1.0" stroke-linejoin="round"/>
<text x="980.10" y="696.57" class="il">10⁰</text>
<text x="980.10" y="717.24" class="il">10⁻²</text>
<path d="M981.40 694.47H991.90M981.40 715.14H991.90" stroke="#000" stroke-width="1.15"/>
<rect x="991.90" y="692.14" width="83.2" height="43.9" fill="none" stroke="#000" stroke-width="1.1"/>
<rect x="803.90" y="685.74" width="277.8" height="111.5" fill="none" stroke="#333" stroke-width="1.2"/>
<text x="816.53" y="827.64" class="xl">0%</text>
<text x="867.04" y="827.64" class="xl">20%</text>
<text x="917.55" y="827.64" class="xl">40%</text>
<text x="968.05" y="827.64" class="xl">60%</text>
<text x="1018.56" y="827.64" class="xl">80%</text>
<text x="1069.07" y="827.64" class="xl">100%</text>
<text x="782.60" y="796.87" class="yl">0.0</text>
<text x="782.60" y="746.19" class="yl">0.5</text>
<text x="782.60" y="695.51" class="yl">1.0</text>
<path d="M816.53 797.24V807.64M867.04 797.24V807.64M917.55 797.24V807.64M968.05 797.24V807.64M1018.56 797.24V807.64M1069.07 797.24V807.64M792.90 792.17H803.90M792.90 741.49H803.90M792.90 690.81H803.90" stroke="#444" stroke-width="1.3"/></g>
<g><path d="M95.9 849.0l.1 70.5 0-2.4 0 3.8 .1 8.4 .1-3 0 5.3 0-2.1 .1 3.3 0 1.3 .1 2.9 0 .5 .1 .6 0 1.2 0 .7 .1 1.4 .1-.5 0 1.4 .1 .7 .1 1 .1 .7 0 .7 .1-1.4 .1 .3 .1-.6 0 1.3 .1 .3 0-.9 .1 1.4 0-.7 .1 .3 .1-.9 0 .9 .1 .5 .2-.6 0 .8 .3-.3 .1 .4 0-.8 0 .5 .2 .8 0-.8 .1 .8 .1-.6 .1-.5 0 .7 .2 .6 .1-.3 0-.4 .1 .5 .1-.8 .1 .6 0 .4 .1 .4 .1-.3 0 .6 0-.7 .1-.7 .1 1.2 0-.5 .1 .5 .1-.4 .1-.6 0 .8 .1 .5 .2-.4 .1 .5 0-.3 .1 .6 .1-.4 .1-.3 .5-.1 .4 .5 .4-.1 .5 .3 .4-.4 .4 .2 .2 .4 .4 .3 .4-.1 .4-.1 .4-.3 .2 .6 .3-.3 .2 .3 .4 .3 .2-.6 .4 .8 .2-.4 .4 .2 .4 .2 .4 0 .4-.9 .3 1.1 .4-.2 .4 0 .4 .1 .4 .1 .4-.1 .4-.1 .4 .3 .5 0 .4-.2 .4 .3 .4-.1 .4 0 .4 0 .2 .3 .2-.3 .4 .3 .5 0 .4-.3 .4 .3 .4-.1 .4-.2 .4 .3 .4 .1 .4-.1 .5 .1 .2-.5 .2 .5 .4-.1 .4 .1 .4 0 .4-.1 .4 .2 .4 .1 .5-.1 .4-.1 .4 .2 .4-.1 .4 0 .4 .2 .4-.1 .5-.1 .4 .1 .4-.1 .4 0 .4 .3 .2-.4 .4 .1 .4 .2 .4-.1 .3-.5 .2 .6 .4-.1 .4 0 .4 .1 .4 0 .4-.2 .4 .3 .4-.3 .5 .1 .4 0 .4 0 .2-.8 .2 .9 .4 0 .4 .2 .4-.3 .5 .1 .4 .1 .4-.4 .4 .3 .4 .1 .4 0 .4-.1 .4-.1 .5 .1 .4 .1 .4 .1 .4 0 .4-.1 .4-.1 .4 .3 .4-.2 .5-.1 .4-.1 .4 .1 .4 .1 .4 0 .4 0 .4-.1 .4 0 .5 .1 .4 .1 .4-.1 .4 .2 .4-.2 .4 0 .4 0 .4 .2 .5 0 .4-.1 .4-.1 .4 0 .4 0 .4 .1 .4-.1 .5 0 .4 .1 .4-.1 .4 .1 .4 0 .4-.1 .4 .3 .4-.2 .5-.1 .4 0 .4 .1 .4-.1 .4 .2 .4-.2 .4 .3 .4-.1 .5 0 .4 0 .4 0 .4-.2 .4 .3 .4-.1 .4 0 .4-.1 .5 .1 .4 .1 .4-.1 .4 0 .4 0 .4 .1 .4-.2 .4 .1 .5-.1 .4 0 .4 .2 .4-.1 .4 .1 .4-.1 .4 0 .4 0 .5 0 .4 0 .4-.1 .4 .1 .4 0 .4-.5 .2 .4 .4 .1 .5 0 .4 0 .4 0 .4 .1 .4 0 .4 0 .4-.1 .4 .1 .5-.1 .4-.1 .4 .1 .4-.2 .4 .1 .4 .3 .4-.3 .5 .1 .4-.1 .4 0 .4 0 .4-.4 .2 .5 .4 0 .4-.6 .2 .7 .5 0 .4-.1 .4-.1 .4 .1 .4 0 .4 .1 .4-.1 .4 0 .5 0 .4 0 .4 .1 .4-.1 .4 0 .4 0 .4 .3 .2-.3 .5 .1 .4 0 .4-.1 .4 0 .4 .1 .4 0 .4-.1 .4 .1 .5 0 .4-.1 .4 .1 .4 0 .4 0 .4-.1 .4 .1 .4 0 .5-.1 .4 .1 .4 0 .4-.1 .4 .1 .4 0 .4 0 .4-.1 .5-.1 .4 .1 .4 0 .4-.1 .4 .2 .4 0 .4 0 .4-.1 .5 .1 .4 0 .4 0 .4-.1 .4 .2 .4-.2 .4 0 .5 0 .4 .1 .4-.1 .4-.1 .4 .2 .4 0 .4-.1 .4 0 .5 .1 .4-.1 .4 0 .4 .1 .4 0 .4 0 .4 .1 .4-.2 .5 0 .4 .1 .4 .1 .4 0 .4-.2 .4 .1 .4-.1 .4 0 .5 .1 .4-.1 .4 0 .4-.1 .4 .1 .4 .2 .4-.1 .4-.1 .5 .1 .4 0 .4-.1 .4 .1 .4 0 .4 0 .4 0 .4 0 .5-.3 .4 .3 .4-.1 .4 .1 .4-.6 .2 .5 .4 .1 .4 0 .5 .2 .4-.2 .4-.1 .4-.1 .4 .2 .4-.1 .4 .1 .4 0 .5 0 .4 0 .4-.1 .4 .2 .4-.1 .4 .1 .4-.1 .4 0 .5 0 .4 0 .4 .2 .4-.2 .4 0 .4 .1 .2-.5 .2 .5 .5-.1 .4 0 .4 0 .4 0 .4-.1 .4 .1 .4-.1 .4 .2 .5-.1 .4 0 .4 0 .4-.1 .4 .2 .4-.1 .4-.1 .4 .1 .5 0 .4-.1 .4 .1 .4 0 .4 0 .4-.1 .4 .1 .4 0 .5 0 .4-.1 .4 .2 .4 .1 .4-.2 .4 0 .4 .1 .4-.2 .5 .1 .4 .1 .4 0 .4-.1 .4-.1 .4 .1 .4 0 .5 .1 .4-.1 .4 .1 .4-.2 .4 .2 .4-.1 .4-.1 .4 .2 .5-.1 .4 0 .4 .1 .4-.1 .4 0 .4 0 .4 0 .4 0 .5 0 .4-.1 .4 .2 .4 0 .4-.1 .4 .1 .4 0 .4 0 .5-.1 .4 0 .2-.4 .2 .3 .4 .1 .4 .1 .4-.2 .4 0 .4 .1 .5 0 .4 .1 .4 0 .4-.1 .4 .1 .4-.1 .2-.3 .2 .4 .5-.1 .4-.1 .4 .1 .4-.1 .4 .1 .4 .1 .4-.1 .4 0 .5 0 .4 0 .4 0 .4 0 .4 0 .4 0 .4 0 .4 0 .5 0 .4 0 .4 0 .4 0 .4 0 .4 .1 .4 0 .4-.1 .5 .1 .4-.1 .4 0 .4 0 .4 0 .4 0 .4 .1 .4 0 .5-.1 .4 0 .4 0 .4-.1 .4 .2 .4-.1 .4 0 .4 0 .5-.1 .4 .2 .4-.1 .4 .1 .4-.1 .4 .1 .4 0 .5-.1 .4 0 .4 .1 .4 0 .4-.2 .4 .1 .4 .1 .4-.1 .5-.5 .2 .5 .4 .1 .4-.4 .2 .3 .4 0 .4 0 .4 0 .4 .1 .5-.1 .4-.1 .4 .2 .4 0 .4-.1 .4 .1 .4 0 .4 0 .5-.2 .4 .1 .4-.1 .4 .1 .4 0 .4 0 .4 0 .4-.1 .5 .1 .4 0 .4 .1 .4-.3 .4 .1 .4 0 .4 .2 .5-.1 .4 .1 .4 0 .4 0 .4 0 .4 0 .4-.1 .4 0 .5 .1 .2-.6 .2 .5 .4 0 .4 0 .4 .1 .4 0 .4 0 .4 0 .5 0 .4-.1 .4 0 .4 .1 .4 0 .4-.1 .4 .1 .4-.4 .3 .4 .4 0 .4-.1 .4 .1 .4-.2 .4 .3 .4-.2 .4 .1 .5-.1 .4 .1 .4-.1 .4-.1 .4 0 .4 .1 .4 .1 .4 0 .5 0 .4-.1 .4 0 .4 0 .4 0 .4 0 .4 .1 .4-.1 .5 0 .4 0 .4 0 .4 0 .4 0 .4 0 .4 .1 .4-.1 .5-.1 .4 0 .4 0 .4 0 .4 .2 .4 0 .4 0 .4-.3 .5 .2 .4 0 .4 0 .4-.1 .2-.5 .2 .7 .4 0 .4-.2 .5 .1 .4-.1 .4 .1 .4 0 .4 .1 .4 0 .4 0 .4 0 .5 0 .4-.1 .4 0 .4 .1 .4 0 .4 0 .4 0 .4 0 .5 0 .4-.1 .4 0 .4 .1 .4-.1 .4 0 .4 .1 .4-.1 .5 .1 .4-.1 .4 0 .4 0 .4 0 .4-.1 .4 .1 .4 0 .5 0 .4-.4 .2 .5 .4 0 .4-.2 .4 .1 .4 .1 .4-.1 .5 0 .4 0 .4-.1 .4 .1 .4-.1 .4 0 .4 .1 .4 .1 .5-.1 .4-.4" fill="none" stroke="#efa735" stroke-width="3" stroke-linejoin="round" stroke-linecap="square"/>
<rect x="271.30" y="850.85" width="83.2" height="43.9" fill="#fff" fill-opacity="0.62"/>
<path d="M275.08 852.85L275.09 862.03" stroke="#555" stroke-width="0.9" fill="none"/>
<path d="M275.1 862.0l0-.5 0 .9 0 2.5 .1-1 0 1.9 0-.8 0 1.3 0 .6 0 1.4 0 .3 0 .3 .1 .8 0 .5 0 1 0-.4 0 1.2 .1 .6 0 1 0 .3 0 .5 0 .9 0-.4 0-1.3 .1 .4 0-.7 0 1.4 0-.2 0 .6 0-1.1 0 1.8 .1-1 0 .4 0-1.1 0 1.1 0 .8 .1-.4 0 .3 0-.7 0 1.1 0 .4 .1-.4 0-.5 0 .6 0-1.1 0 .6 .1-.3 0 1.6 0-1.3 0 .4 0 .9 0-.9 .1-.7 0 1 0 .3 0 .7 0-.4 .1-.9 0 .8 0-.3 0 .4 0-1.3 0 1 .1 .7 0 .8 0-.6 0 1.1 0-1.3 0-1.2 .1 2.2 0-1.1 0 .9 0-.5 0 .9 0-1 0-1.1 .1 1.5 0 .2 0 .7 0-.3 .1 .6 0-1.1 0 1.1 0-.8 0 1.3 0-.8 .1-.6 0 .5 .1-.4 0-.4 .1 1.1 .1-.7 .1 .4 0 .4 .1 .4 .1 .3 0-1.1 .1 .4 .1 .8 .1 .9 .2-.2 .1-.4 0 .3 .1-.9 .1 1.3 0-.8 .1 1 0-.7 .1 1.4 .1-1.5 0 .6 .1 1.7 .1-1.1 0 .5 .1 .9 .2 .8 0-1 .2-2.7 0 3.2 .1-.5 .1 .8 .1-1 0 1 .1-.6 0-.6 .1 1.1 .1-1 0 .7 .1 .5 .1-1.1 0 .3 .1 1.1 0-.6 .1 .3 .1 .3 0-1 .1 .9 0 .4 .1-.4 .3 .7 0-.8 .1 1.6 0-1.5 .1 .4 .1 .7 .2-1.2 .1 .9 0 .6 .1-1.3 .1 .7 .1-1 0 1 .1 .3 .1 .4 .2-.4 0-.6 .1 1.3 0-2.2 .1 2 .1 .6 0-.7 .1 .5 .1-.3 0-.6 .1 .7 0 .5 .1-1 .1 1 .1-.5 0 .8 .1-1.2 .1 .9 0-.8 .1 .3 .1 .8 .1-.7 0 .3 .1-1.1 .1 1.1 0-.9 .1 2.2 0-.8 .2 1.2 0-1.8 .1 .9 .2-.5 .2 1.3 .1-2.1 .1 .7 .1 .4 0 .7 .1-.9 .1-2.1 .1 2.8 0-.6 .3 .9 .1-.3 .1-.3 .1-.7 .1 1.8 .1-.5 .1-1.2 .1 .4 0 1 .1-.7 .2-3.8 0 4.5 .1-.4 .1-.6 .1 1.9 .1-1.1 0-.9 .1 1.1 0-.4 .1-.6 .1 1.3 0-1 .1-1.1 0 1.4 .1 .3 .1-.8 0 1.2 .2-1 .1 .6 0-.8 .2 .6 0-.3 .1 .4 .1 .2 0-1.6 .1 2.6 0-.4 .2-.4 .1 .6 0-1.3 .1 1.8 .1-.8 .2-1 .1-.3 .1 1 .1-.6 0 .5 .1 .5 .1 .6 0-.8 .1 .6 0-1 .2-1.2 .1 .7 0 1.6 .1-.9 .1 .4 .1 .8 .1-.9 0 2.4 .1-1.1 0-1.3 .1-.3 .1-.5 0 .4 .2 .4 .1 1.5 0-1.4 .1 1.1 .1-1.1 .1-.5 .1 .8 .1-.7 .1 .3 .2 .3 .1 .3 .1-1 0 .3 .1 .8 0-.6 .2 1.6 0-1 .2-.4 .2 1.5 .1-1 0-.4 .2-.4 0 .4 .1-.4 .1 .9 .1-1 .1 .3 0 1.1 .2-1.3 0 .8 .1 1.3 .1-1.2 .1 .3 .3-1.5 .2 1.6 0 .8 .1-.9 .2 .5 0-.9 .2 .8 .1-.7 .1 1.2 .1-.4 0-.3 .2-.3 0 .4 .1 .5 .1-.5 .1-1.3 0 .3 .1 1.2 .1-1 .1 .6 0-.7 .2 1.3 0-.4 .2-.6 0 1.1 .1-.4 .2-.4 .1 .3 .1-.4 .1 .6 .2-.8 0 .3 .3-.7 0-2.6 .1 2.3 0 1.3 .1-.5 .1 .6 .1-.4 .1 .5 0-.5 .1-1.4 .1 2.2 .1-.6 0 .4 .2 .4 .1-.9 .1 1.1 .1-1 0-.4 .1 .4 0-.5 .2 .3 .1-1.1 .1 1 0-.8 .1 2.7 .1-1.4 .1-.9 .1 1 0-1.4 .1 .4 .1 1.4 0-1.6 .1 .5 .1-.4 0 .6 .1-3.4 0 3.2 .1 .8 .1-1.1 .1-3.5 .1 5 0-.8 .1 .6 0-.4 .1-.5 .1-.7 0 .4 .1 1.2 0-.6 .2 .7 .2-.5 0-.3 .1 1.6 0-1.7 .2 .5 .1-.6 .1-.4 0 1.3 .1 .7 0-1.4 .2 1.4 .1-1.1 0-.4 .1 3.2 .1-3.2 .1 1 .1 1.1 0-1.3 .1-1.1 0 .7 .1-1 .1 .9 0 .3 .1 .4 0-1.5 .1 1.2 .1-.4 .2 .3 0 .7 .1-.5 0-1.3 .1 .8 .1 .6 .1-.6 .1 .9 0-1 .1 .5 0 .7 .1-.9 .1 .5 .1-.7 0 .9 .1 .6 .1-1.6 0 .9 .1-.5 .1-.6 0 1.5 .1-.7 0-.5 .1 .7 .1 .4 0 .3 .1-.3 .1-.6 .1-.3 0-.8 .1 .9 .1-.9 0 .9 .1-.7 0 .7 .1-.4 .1-.6 .1 1.5 .1-.5 .1 .8 0-1.6 .1 .8 .1-.5 0-.3 .1 .4 0 .6 .1 .4 .1-.3 .2-.4 .1 1.2 .1-.8 .1-.9 0 1 .1-.6 .1-.5 .1 .3 0 .7 .1-.8 .1 .4 0-.6 .1-.4 0 2.1 .1-.3 .2-.8 .1-.9 .1 .5 0 .8 .2-.4 .2 .5 .1-.4 .1 .5 .2 .7 .1-1.4 .1-.3 .2 .7 .1 .8 0 .4 .1-1.1 .1 1 0-1.3 .1 .5 .2-.3 0-.4 .1 .5 .1-.7 0 1.2 .1-.4 .1-.6 .2 .3 .1-1.1 0 1.8 .1-1.3 0 .5 .1 1.1 .1-.8 .1-.6 .1 .4 .1 .2 .2-.5 .1 .9 .1-.3 .1 1.4 .1-1.4 .1-.4 .1 .7 .1-1 .1-1.8 0 2.1 .1 .4 0-.4 .1-.2 .1 1 0-.5 .1 .5 .1-4.9 0 3.8 .1 .3 .1 1.2 .1-1 .1 2.1 0-1.9 .2 .4 0-1.6 .1 .7 .1-.9 0 1.2 .1 .4 .1-.8 .1 1.2 0-.8 .1-.7 .1 .6 .1 .3 0-.5 .2 .5 0-.5 .1 .8 0 .5 .1 .5 .1-1.6 0 1.4 .1-.5 .1-.7 .1 .5 .1-1.5 .1 .7 0 .9 .1-.9 .1 1.1 0 .9 .1 .4 0-1.9 .2 .4 .1 .7 0-4.5 .1 4.1 .1-.9 .2-.4 .1 .5 .1-.4 .1 .7 0-1.3 .1 .8 .1-.5 .2 1.2 .1-1.4 0 1.1 .1-.5 .4 2 0-.3 .1-.5 0-1.1 .2-.4 0-.7 .1 1.3 0 .8 .1-1.1 .1-.7 .1 1 .2-.3 0 .5 .2-.8 .1 .4 .1 .2 .1 .3 .1-.2 .1-.6 .1 .7 0 .8 .1-.5 .1 1.5 0-1.9 .2-.7 0 1.1 .2-1.7 .1 .6 0-.4 .1 1 0-.3 .1 .9 .1 .3 .1 .3 .1-1 0-.7 .1-.5 0 1.1 .3 1 .1-.6 0-.9 .1 .6 .1 .9 .1-.6 0-1 .1 1.3 .1-1 .1 .5 0 .4 .1-1.5 .1 .6 0 1.3 .1-.4 0-.8 .1 1 .1-.7 0-.3 .1 1.2 .1-.7 .1 .6 0-.6 .2 .4 .1-1 0 .3 .1-.2 .2 1.3 .1-1.8 0 .7 .1 .4 .2-.9 .1 1.5 .1-.4 .3-.7 0-.3 .2-2.9 .1 2.5 .1 1.1 .2-.9 .3 .4 .2 2.2 0-1.4 .1-.3 .1 .4 0-1 .2 1.6 .1-1.5 0 .4 .1-2.9 .1 4 0-.7 .1-.8 0 .6 .1-1.3 .1 1.7 0-1 .1-1.1 .1 1.5 .1-.6 0 .9 .1 .5 .1-1.2 0-.3 .1 1.4 0-.8 .3-.5 0 .6 .1-.5 .1 .5 .1 .7 .1-1.4 0 .6 .1-.5 0 1 .1-.8 .1 .4 .2 1.2 .1-1.6 0 .4 .2 1.2 0-1.3 .1 .4 0-.7 .1 1.1 .1-1.1 .1 1.5 .1-1 .1 1.5 0-.9 .1-.6 .1-.8 .1 .4 .1-2 0 2 .1 .5 .1 .3 .1-1 0 .2 .1 .6 0 .5 .2-1.1 .1 1.7 .1-1.7 0 .6 .1-.5 .1-.8 .1 .8 0 .6 .1-.6 .2 .3 0 .2 .1-.8 .1 .5 0-1 .1 1.3 0 .6 .1-1.1 .2 .9 .1 .7 0-1.3 .1-.6 0 1 .2 .5 .1-1.1 0 .5 .1-.3 .1 .5 .2-.6 .1-1 0 .7 .1 .3 .1 .5 .1-.8 .1 .5 .1-4.1 0 3.7 .1 .6 .1 .3 0-.5 .1-2.9 0 2.7 .1-.4 .1 .4 .1-.5 .1 1.1 0-.8 .1 1.1 .1-1.1 .1 .8 .1-1.4 .1 1.3 .1-.3 .1 .6 .1-1 0 .8 .1-1.2 .1 1.3 .1-.3 .2-1.4 0 1.1 .1-.3 .1-.8 .1 2.2 0-1.6 .2-.5 .1 .3 0 1.4 .1-1.2 .1-.4 .1 2.1 0-1.8 .3 1.4 0-1.5 .1-1.7 .1 2.4 0-1 .1 .8 .1-1.1 0 .5 .1 1.4 0-1.4 .1 .8 .1 .4 .1-.4 .1 .5 0-.6 .1 .9 0-1 .1 1.2 .1-.8 .1 .7 0-1.2 .1 1.4 .1-1.3 .1 .5 .1-4.2 0 3.7 .1-1 0 1 .1 .5 .1-.4 0 .3 .2 .6 0-.3 .1-.4 .2 1 0-.3 .1-1.3 .1-.3 .1 1 0-.7 .1 1.4 .1-1.5 .1 1.7 0-2.2 .1 .9 .1-.4 0 1 .1 .4 0-3.7 .1 3.4 .1-.7 0 1.1 .2-1.4 0 1.4 .1-1.2 .1-.6 .1 1.8 0 .6 .1-1.5 .1-.5 0 .5 .1 .3 0 .5 .1-1 .1 .7 .1-.7 0-.5 .1 .5 .1-1.5 0 1.7 .1-1 .1 1.5 0-.5 .1-.5 0 .8 .2 .4 .1-.5 .1-.5 .1 .8 0-.4 .1 .6 .1-1.3 0-.6 .1 .9 0-.2 .1 .6 .2 .7 .1-1.5 0-.5 .1 .7 .2-.7 0 .9 .1-.4 .1 .9 .1-.6 0-.6 .1 .6 .1 .5 0 .5 .1-.9 0-.3 .2-.8 0 .9 .1-.5 .1 .5 0-1 .1 1.3 0-1 .1 2.1 .1-.7 .1 .2 0-.8 .1 .5 .1-1.8 .1 1.6 .1-.6 0 .5 .1-.4 0-.4 .1 .7 .1-.6 .1-3.6 .1 5.2 0-.8 .1 .4 0-.3 .1-1 .1 .4 0 .3 .1-.6 .1 .7 .1-.5 0 .7 .2 .7 0-.6 .1 .5 .1-.6 .1 .3 .1-.5 .1 1.2 .1-1.5 0 .3 .2-.5 0 .6 .1 .4 0-.8 .1 .8 .1-.5 0 .9 .1-.6 .2-.4 .1 .5 .1-.6 .1 .7 0-.5 .1-.6 .1 1.7 0-.3 .1-.6 .1 .5 0-1.2 .1 .5 0 .3 .1-.6 .1 .5 .1 .5 .1-.6 .1 .3 0-.4 .1 .6 .1-.6 0-.3 .1 .7 .1-1.2 .1 1.7 0-1 .2-.4 0 .7 .1-.9 .1-2.4 .1 3.7 0-.7 .1 .4 0 1 .1-2.4 .1 1.1 .1-.3 .1 .8 0-1.1 .1 .7 0 .5 .1-.8 .1 .3 .2-1.2 0 .8 .1 .4 .1-1 .1 1.1 0-1.2 .1 .3 0 .9 .1 1 .1-.7 0-.7 .2-1.9 0-1.2" fill="none" stroke="#000" stroke-width="1.15" stroke-linejoin="round"/>
<text x="259.50" y="885.49" class="il">10²</text>
<text x="259.50" y="867.36" class="il">10³</text>
<path d="M265.30 892.86H271.30M265.30 890.60H271.30M265.30 888.84H271.30M265.30 887.41H271.30M265.30 886.19H271.30M265.30 885.14H271.30M265.30 884.22H271.30M260.80 883.39H271.30M265.30 877.93H271.30M265.30 874.74H271.30M265.30 872.47H271.30M265.30 870.72H271.30M265.30 869.28H271.30M265.30 868.07H271.30M265.30 867.02H271.30M265.30 866.09H271.30M260.80 865.26H271.30M265.30 859.81H271.30M265.30 856.62H271.30M265.30 854.35H271.30M265.30 852.59H271.30M265.30 851.16H271.30" stroke="#000" stroke-width="1.15"/>
<rect x="271.30" y="850.85" width="83.2" height="43.9" fill="none" stroke="#000" stroke-width="1.1"/>
<text x="166.44" y="869.95" class="nm">MRI</text>
<rect x="83.30" y="844.45" width="277.8" height="111.5" fill="none" stroke="#333" stroke-width="1.2"/>
<text x="95.93" y="986.35" class="xl">0%</text>
<text x="146.44" y="986.35" class="xl">20%</text>
<text x="196.95" y="986.35" class="xl">40%</text>
<text x="247.45" y="986.35" class="xl">60%</text>
<text x="297.96" y="986.35" class="xl">80%</text>
<text x="348.47" y="986.35" class="xl">100%</text>
<text x="62.00" y="956.04" class="yl">0</text>
<text x="62.00" y="913.79" class="yl">2000</text>
<text x="62.00" y="871.54" class="yl">4000</text>
<path d="M95.93 955.95V966.35M146.44 955.95V966.35M196.95 955.95V966.35M247.45 955.95V966.35M297.96 955.95V966.35M348.47 955.95V966.35M72.30 951.34H83.30M72.30 909.09H83.30M72.30 866.84H83.30" stroke="#444" stroke-width="1.3"/></g>
<g><path d="M456.2 849.0l.1 29.7 0 4.1 0 4 .1 3.8 0 3.6 .1 3.4 0 3.3 0 3.2 .1 2.9 0 2.8 .1 2.7 0 2.5 .1 2.4 0 2.4 0 2.3 .1 2.3 0 2.2 .1 2 0 1.9 .1 1.7 0 1.4 0 1.3 .1 1.1 0 1 .1 .7 0 .6 0 .5 .1 .5 0 .5 .1 .4 0 .4 .1 .4 0 .3 0 .3 .1 .4 .1 .5 .1 .5 0 .4 .1 .3 .1 .4 .2 .3 .2 .4 .2 .3 .3 .3 .4 .3 .3 .2 .3 .2 .4 .1 .3 .2 .4 .1 .6 .2 .4 .1 .4 .1 .5 .1 .4 .1 .4 .1 .4 .1 .4 .1 .4 .1 .4 0 .4 .1 .5 .1 .4 0 .4 .1 .4 0 .4 .1 .4 0 .4 .1 .5 0 .4 .1 .4 0 .4 .1 .4 0 .4 .1 .4 0 .4 .1 .5 0 .4 .1 .4 0 .4 .1 .4 0 .4 .1 .4 0 .4 .1 .5 0 .4 .1 .4 0 .4 0 .4 .1 .4 0 .4 .1 .5 0 .4 .1 .4 0 .4 0 .4 .1 .4 0 .4 0 .4 .1 .5 0 .4 0 .4 0 .4 .1 .4 0 .4 0 .4 0 .5 .1 .4 0 .4 0 .4 0 .4 .1 .4 0 .4 0 .4 0 .5 .1 .4 0 .4 0 .4 0 .4 0 .4 .1 .4 0 .4 0 .5 0 .4 0 .4 .1 .4 0 .4 0 .4 0 .4 0 .5 0 .4 .1 .4 0 .4 0 .4 0 .4 0 .4 0 .4 0 .5 0 .4 .1 .4 0 .4 0 .4 0 .4 0 .4 0 .5 0 .4 0 .4 0 .4 0 .4 0 .4 0 .4 0 .4 0 .5 0 .4 0 .4 0 .4 0 .4 0 .4 0 .4 0 .4 .1 .5 0 .4 0 .4 0 .4 0 .4 0 .4 0 .4 0 .5 0 .4 0 .4 0 .4 0 .4 0 .4 0 .4 0 .4 0 .5 0 .4 0 .4 0 .4 0 .4 0 .4 0 .4 0 .5 0 .4 0 .4 0 .4 0 .4 0 .4 0 .4 0 .4 0 .5 0 .4 0 .4 0 .4 0 .4 0 .4 0 .4 0 .4 0 .5 0 .4 0 .4 0 .4 0 .4 0 .4 0 .4 0 .5 0 .4 0 .4 0 .4 0 .4 0 .4 0 .4 0 .4 0 .5 0 .4 0 .4 0 .4 0 .4 0 .4 0 .4 0 .4 0 .5 0 .4 0 .4 0 .4 0 .4 0 .4 0 .4 0 .5 0 .4 0 .4 0 .4 0 .4 0 .4 0 .4 0 .4 0 .5 0 .4 0 .4 0 .4 0 .4 0 .4 0 .4 0 .5 0 .4 0 .4 0 .4 0 .4 0 .4 0 .4 0 .4 0 .5 0 .4 0 .4 0 .4 0 .4 0 .4 0 .4 0 .4 0 .5 0 .4 0 .4 0 .4 0 .4 0 .4 0 .4 0 .5 0 .4 0 .4 0 .4 0 .4 0 .4 0 .4 0 .4 0 .5 0 .4 0 .4 0 .4 0 .4 0 .4 0 .4 0 .5 0 .4 0 .4 0 .4 0 .4 0 .4 0 .4 0 .4 0 .5 0 .4 0 .4 0 .4 0 .4 0 .4 0 .4 0 .4 0 .5 0 .4 0 .4 0 .4 0 .4 0 .4 0 .4 0 .5 0 .4 0 .4 0 .4 0 .4 0 .4 0 .4 0 .4 0 .5 0 .4 0 .4 0 .4 0 .4 0 .4 0 .4 0 .5 0 .4 0 .4 0 .4 0 .4 0 .4 0 .4 0 .4 0 .5 0 .4 0 .4 0 .4 0 .4 0 .4 0 .4 0 .4 0 .5 0 .4 0 .4 0 .4 0 .4 0 .4 0 .4 0 .5 0 .4 0 .4 0 .4 0 .4 0 .4 0 .4 0 .4 0 .5 0 .4 0 .4 0 .4 0 .4 0 .4 0 .4 0 .4 0 .5 0 .4 0 .4 0 .4 0 .4 0 .4 0 .4 0 .5 0 .4 0 .4 0 .4 0 .4 0 .4 0 .4 0 .4 0 .5 0 .4 0 .4 0 .4 0 .4 0 .4 0 .4 0 .5 0 .4 0 .4 0 .4 0 .4 0 .4 0 .4 0 .4 0 .5 0 .4 0 .4 0 .4 0 .4 0 .4 0 .4 0 .4 0 .5 0 .4 0 .4 0 .4 0 .4 0 .4 0 .4 0 .5 0 .4 0 .4 0 .4 0 .4 0 .4 0 .4 0 .4 0 .5 0 .4 0 .4 0 .4 0 .4 0 .4 0 .4 0 .5 0 .4 0 .4 0 .4 0 .4 0 .4 0 .4 0 .4 0 .5 0 .4 0 .4 0 .4 0 .4 0 .4 0 .4 0 .4 0 .5 0 .4 0 .4 0 .4 0 .4 0 .4 0 .4 0 .5 0 .4 0 .4 0 .4 0 .4 0 .4 0 .4 0 .4 0 .5 0 .4 0 .4 0 .4 0 .4 0 .4 0 .4 0 .5 0 .4 0 .4 0 .4 0 .4 0 .4 0 .4 0 .4 0 .5 0 .4 0 .4 0 .4 0 .4 0 .4 0 .4 0 .4 0 .5 0 .4 0 .4 0 .4 0 .4 0 .4 0 .4 0 .5 0 .4 0 .4 0 .4 0 .4 0 .4 0 .4 0 .4 0 .5 0 .4 0 .4 0 .4 0 .4 0 .4 0 .4 0 .4 0 .5 0 .4 0 .4 0 .4 0 .4 0 .4 0 .4 0 .5 0 .4 0 .4 0 .4 0 .4 0 .4 0 .4 0 .4 0 .5 0 .4 0 .4 0 .4 0 .4 0 .4 0 .4 0 .5 0 .4 0 .4 0 .4 0 .4 0 .4 0 .4 0 .4 0 .5 0 .4 0 .4 0 .4 0 .4 0 .4 0 .4 0 .4 0 .5 0 .4 0 .4 0 .4 0 .4 0 .4 0 .4 0 .5 0 .4 0 .4 0 .4 0 .4 0 .4 0 .4 0 .4 0 .5 0 .4 0 .4 0 .4 0 .4 0 .4 0 .4 0 .5 0 .4 0 .4 0 .4 0 .4 0 .4 0 .4 0 .4 0 .5 0 .4 0 .4 0 .4 0 .4 0 .4 0 .4 0 .4 0 .5 0 .4 0 .4 0 .4 0 .4 0 .4 0 .4 0 .5 0 .4 0 .4 0 .4 0 .4 0 .4 0 .4 0 .4 0 .5 0 .4 0 .4 0 .4 0 .4 0 .4 0 .4 0 .5 0 .4 0 .4 0 .4 0 .4 0 .4 0 .4 0 .4 0 .5 0 .4 0 .4 0 .4 0 .4 0 .4 0 .4 0 .4 0 .5 0 .4 0 .4 0 .4 0 .4 0 .4 0 .4 0 .5 0 .4 0 .4 0 .4 0 .4 0 .4 0 .4 0 .4 0 .5 0 .4 0 .4 0 .4 0 .4 0 .4 0 .4 0 .4 0 .5 0 .4 0 .4 0 .4 0 .4 0 .4 0 .4 0 .5 0 .4 0 .4 0 .4 0 .4 0 .4 0 .4 0 .4 0 .5 0 .4 0" fill="none" stroke="#efa735" stroke-width="3" stroke-linejoin="round" stroke-linecap="square"/>
<rect x="443.60" y="844.45" width="277.8" height="111.5" fill="none" stroke="#333" stroke-width="1.2"/>
<text x="456.23" y="986.35" class="xl">0%</text>
<text x="506.74" y="986.35" class="xl">20%</text>
<text x="557.25" y="986.35" class="xl">40%</text>
<text x="607.75" y="986.35" class="xl">60%</text>
<text x="658.26" y="986.35" class="xl">80%</text>
<text x="708.77" y="986.35" class="xl">100%</text>
<text x="422.30" y="956.05" class="yl">0</text>
<text x="422.30" y="911.20" class="yl">2000</text>
<text x="422.30" y="866.35" class="yl">4000</text>
<path d="M456.23 955.95V966.35M506.74 955.95V966.35M557.25 955.95V966.35M607.75 955.95V966.35M658.26 955.95V966.35M708.77 955.95V966.35M432.60 951.35H443.60M432.60 906.50H443.60M432.60 861.65H443.60" stroke="#444" stroke-width="1.3"/></g>
<g><path d="M816.5 950.7l.1-.7 .1-.6 0-.7 .1-.7 0-.7 .1-.6 .1-.7 0-.7 .1-.5 .1-.6 0-.7 .1-.5 0-.4 .1-.6 .1-.6 0-.5 .1-.4 .1-.4 0-.4 .1-.5 .1-.8 .1-1 0-.3 .2-.7 0-.7 .1-.3 .1-.4 .1-.6 0-.7 .2-.5 0-.5 .2-.3 .3-.6 0-.6 .2-.5 .2-.5 .3 .1 .3-.5 .2-.3 .2-.4 .3-.3 .3-.4 .1 .3 .2-.5 .1 .3 .3-.3 .3-.6 .1-.3 .3 .1 .1-.7 .3-.3 0 .4 .2-1 .3 .4 .2-.6 .2-.4 .1-.7 .1-.3 .1 .6 .2-.9 0 .5 .1 .5 .2-.7 .1-.4 .1 .5 .1-.4 .2 .3 .1-.4 .1-.9 0-.6 .1-.3 .1 .6 .1 .6 .1-.6 .3-.4 .2-.4 0-.5 .2-.3 .1 .5 .2-.5 .2-.3 .1-.3 .3-.6 0-.4 .1 .5 .3-.9 .2-.3 .1-.4 .2-.8 0 .5 .1 .7 .2-.8 0-.4 .1 .4 .1-.5 .1-.5 .2-.7 .3-.4 .6-.1 .2-.5 .3-1.3 .3-1.2 .5-.8 .3-1 .5-.4 .5-1.1 .3-.7 .3 .5 .2-.4 .6-.3 .2-1.3 .3-.6 .3-.5 .2-.5 .6-1.1 .5 .1 .3-.8 .2-1 .3-.9 .5-.2 .3-1.3 .3-1.4 .5 .1 .3-.9 .2-1.9 .3-.4 .5-.7 .3-.5 .3-1.6 .2-.8 .3 .4 .5-.6 .3-.7 .5 .5 .3-1.2 .3-.8 .2 .3 .6-.2 .5-.5 .3 .7 .2 .4 .3 .5 .3 .7 .2-1.1 .3-.6 .3-1 .2-.4 .3-.5 .5 .5 .3-.6 .3 .7 .2-.6 .3-1.8 .3-.5 .5-.5 .3-.3 .2-.6 .6-.9 .5 .9 .3-1.8 .2-1.9 .3-.5 .3 .7 .2-.5 .3-.5 .3-.9 .2-2.4 .3-.5 .3 1.3 .2-.7 .3-1.9 .3 .6 .5-.9 .5-1.4 .3 .5 .3 1 .2-2.7 .3-2.5 .5 .5 .3 .4 .3-.5 .5 .1 .3-1 .2-.8 .6 .4 .2-1.6 .3-.4 .3 1.3 .2-.6 .3-.5 .3 1.2 .2 .3 .3 .5 .5-2.9 .3-1.3 .3 3 .5-3.3 .3 .5 .5-.3 .3 1 .2-.7 .3-1.1 .5 .8 .6-1.1 .2-1 .3 1.6 .3 .7 .2-.8 .3-.6 .3-.4 .3-.6 .2-.4 .3-.8 .3 .4 .2 .4 .3-2.1 .3-.6 .5 .7 .3 1.1 .2 .8 .3-.6 .3-1 .2-1.9 .6 .3 .2-1.3 .3-1.4 .3 .7 .5 .4 .3 .4 .2-2.5 .3 .9 .3 .7 .2-1.4 .3 .8 .3 1.6 .2 .4 .3-.9 .3-.5 .2-1.6 .3-1 .3 .4 .5-1.1 .3-1.2 .2 1.9 .3 1.1 .3 1.4 .2-.3 .3-1 .3-.5 .2-1.6 .3 1.3 .5 0 .3 1.5 .3 .6 .5-1.4 .3-1.1 .2-1.4 .3 .7 .5-1.6 .3 2.7 .3 1.4 .2-1.8 .3-1.9 .3-.9 .2 1.2 .3 1.2 .5-2 .3 .5 .3 1.9 .2-1 .3 .4 .3 1.1 .2-2.2 .3 .4 .3 .9 .5-1.4 .3-1.2 .2 .9 .3 .4 .3-1.3 .2-1.9 .3 1.5 .3 .7 .2 1.5 .6-2.6 .2 .5 .3 1.3 .5-.9 .3-.6 .3 1.8 .2-.4 .3-1.2 .3 .7 .5 .5 .3-.5 .2 .7 .3 1.4 .3-.8 .2-2.1 .6 1.6 .5-.2 .3 .4 .2-1.2 .3-.5 .3 1.3 .5-.5 .3-.7 .2 .8 .3 .9 .3-.4 .2 .6 .3 .8 .3-.4 .2-1 .6 2.3 .2 .9 .3-2.2 .3-.8 .5 .1 .3-.9 .2-.9 .6 1.6 .2-.3 .3-.5 .3-.7 .5 1.6 .3 1.3 .5-1.1 .3 .8 .2-1.4 .3-2.4 .3 1.2 .2 3.2 .3 1.4 .3-.4 .2-2.1 .3 .7 .3 1.3 .2-2.3 .3-1.8 .5 2.2 .3 1.8 .5-.2 .3-.7 .3-.6 .2-.8 .6-.1 .5 .8 .3 1.1 .3 .4 .2-2 .3-.4 .3 2.6 .2 .7 .3-.4 .3-.6 .5-.2 .3-1.4 .2 .7 .3 1.4 .3-1.6 .2 1.3 .3 2.1 .3-2 .5 .8 .5-.2 .3-2.1 .3 1.4 .2 2.5 .3-.4 .3 .3 .2 1.3 .6-.5 .2-1.7 .3-.7 .3 .7 .5 1.5 .3 1.9 .2-.6 .6-.4 .2-.3 .3 1.8 .3-.5 .2-.8 .6 .6 .5 .8 .5-.3 .6-1.8 .2-.8 .6 1.2 .2 .5 .3-1.6 .3-1 .2 1 .6-1.3 .2 1 .3 .9 .3-.8 .2 .8 .3 .4 .3-1.1 .5 1.6 .3 .8 .2 .7 .3 1.2 .3 .9 .2 .5 .3-.4 .5 1.2 .3-1.5 .3-1 .5-1 .3-.4 .2 1.2 .3 3.1 .3-.3 .2-1.8 .3 1.6 .3 1.9 .2-2 .3-2.7 .5-.4 .6 .8 .2 .7 .3-.4 .5 .6 .6 .5 .2 1.2 .3-1.9 .3-2.3 .2 .6 .3 2.4 .3 1.3 .2-1.3 .3-.6 .3 .9 .2-.9 .6 1.4 .5 .8 .3-.5 .2 .9 .3 .9 .3-1.6 .2-1 .6 2.5 .5-1.2 .3 .8 .2 1.2 .3 1.3 .5-.9 .3-2.1 .5 2.1 .3 1.9 .3 1.2 .2-.6 .3-.6 .5-.9 .3-1.1 .5 1.8 .3 1.4 .5 1.1 .3 .5 .3-1.2 .5-.3 .5 .7 .6-.4 .2-1.9 .3 .7 .3 2 .2 .6 .3 .6 .3-1.9 .2-.6 .6 1.6 .2 2.1 .3-1.2 .6 1 .2 .3 .3-.8 .3-.5 .2 .6 .3 .8 .3 .4 .2-2 .3-.7 .3 1.3 .2 1.2 .3 .4 .3-.5 .2-1.4 .6 1.6 .2 .4 .3 .7 .5 0 .3 .8 .5-2 .3-1.3 .3 1.8 .2 .8 .6 .2 .2 .4 .6-.8 .2 .7 .3 .5 .5 .7 .3 1 .3 .4 .5 1.2 .3-.4 .2-1.7 .6 1.1 .5 1.2 .3 1.4 .2 .7 .3 .6 .3-.7 .2-.9 .3 .4 .5-1.1 .3 .8 .3 1.2 .2-.3 .6 .5 .5 .3 .3 1 .2 .9 .6-.7 .2 .6 .3 .5 .3-.4 .2-.7 .3-1 .3 1 .2 1.3 .3-.5 .5 .6 .3 1.4 .5 0 .6 .4 .5-.7 .5 .8 .6-.3 .2 .4 .3 1.6 .3 1 .2-1.5 .6 1 .2-.8 .3 .6 .3 1.9 .5-1.2 .3-.9 .5-.2 .5 2.3 .3 1.8 .3-.7 .5-.2 .5 .9 .3-.3 .5-1.6 .3 .5 .3 2.6 .2 .5 .3-.7 .5-1.2 .3 .5 .3 1.3 .2 .7 .3 .6 .5-.4 .3-.8 .5 .7 .6 .4 .5 .3 .3 1.5 .2-.5 .3-.3 .3-.5 .5 .8 .5-.5 .6 1.1 .2 1.7 .6-1.1 .2-.6 .3 .7 .3-.3 .5 .3 .5 1.6 .3 .4 .3-1 .2-.5 .3 .5 .3-.4 .5 .9 .5 .6 .3 .9 .5-.4 .3 .4 .6 0 .5-.5 .3 .8 .5-.2 .3 1.5 .2 .6 .3-.3 .3-.7 .5 .1 .3-1 .2 1 .3 1 .5-.2 .3 .5 .3 .3 .2-.4 .3 .4 .5 .3 .3 .7 .3-.9 .2-.5 .3 .8 .5 .3 .3 .4 .5 1.1 .3 .4 .3-.6 .5 .9 .3-.5 .5 .3 .3 .9 .5-1.2 .3 .3 .2 .4 .6 .2 .2-.3 .3 .5 .5 .5 .6-.4 .2 .8 .6 .1 .2 .7 .6 .5 .5 0 .3 .4 .2-.6 .3 1 .3 1.1 .2-1.2 .3 .3 .3 1.1 .2-.6 .3-.9 .3 .8 .2 .6 .6 .8 .5-.6 .3 .4 .2 .7 .6 .2 .2 .4 .6-.1 .2 .7 .6-.3 .2 .6 .3 .4 .3 .3 .5 .2 .5 .3 .3-.5 .5 .5 .6 .7 .2 .4 .6-.3 .2 1.1 .3 .6 .3-.8 .5 .3 .5 .1 .6 .8 .5 0 .3 .4 .5 .2 .5-.2 .3 .4 .5 .3 .3 .7 .5 0 .3 .6 .5-.2 .3 .7 .5 .2 .3 .3 .5-.2 .6 .5 .2 .3 .3 .4 .5 .2 .6 .7 .5-.2 .3 .4 .2 .3 .6 .4 .5 .6 .5 .3 .6 .1 .2 .5 .3 .6 .5 .2 .3 .5 .3 .3 .5 0 .5 .5 .6-.1 .5 .5 .3 .7 .5-.1 .6 .3 .2 .4 .3 .6 .5 .5 .6 0 .2 .6 .3 .5 .5-.2 .3 .6 .5-.3 .3 .5 .5 0 .6 .4 .5 .4 .5 .5 .3 .5 .5 0 .6 .5 .5 .4 .5 .2 .6 .5 .5 .2 .3 .5 .5 .4 .5-.1 .6 .5 .5 .3 .5 .3 .6 .8 .2 .3 .6 .1 .5 .5 .5 .4 .6 .2 .5 .3 .5 .4 .6 .7 .5 .4 .5 .4 .6 .3 .5 .5 .5 .3 .6 .6 .5 .5 .5 .4 .6 .4 .5 .5 .5 .5 .6 .4 .5 .5 .5 .5 .6 .5 .5 .5 .5 .4 .6 .5 .5 .5 .3 .3" fill="none" stroke="#efa735" stroke-width="3" stroke-linejoin="round" stroke-linecap="square"/>
<rect x="991.90" y="850.85" width="83.2" height="43.9" fill="#fff" fill-opacity="0.62"/>
<path d="M995.4 874.6l.2-2.1 .3-2.2 .3-2.2 .2-2.5 .3-2.6 .2-1.4 .3-.6 .2-.5 .3-.5 .2-.4 .3-.4 .2-.3 .3-.3 .3-.3 .2-.3 .3-.2 .2-.2 .3-.2 .2-.1 .3-.2 .2-.1 .3-.2 .2-.1 .3-.1 .2-.1 .3-.2 .3-.1 .2-.1 .3-.2 .2-.1 .3-.1 .2-.1 .3-.1 .2-.2 .3-.1 .2-.1 .3-.1 .2-.1 .3-.1 .3-.1 .2-.1 .3-.1 .2-.1 .3-.1 .2 0 .3-.1 .2-.1 .3-.1 .2 0 .3-.1 .3-.1 .2 0 .3-.1 .2 0 .3 0 .2-.1 .3 0 .2 0 .3 0 .2-.1 .3 0 .2 0 .3 0 .3 0 .2 0 .3 0 .2 0 .3 0 .2 0 .3 0 .2 0 .3 0 .2 0 .3 0 .2 0 .3 0 .3 0 .2 0 .3 0 .2 0 .3 0 .2 0 .3 0 .2 0 .3 0 .2 0 .3 0 .3 0 .2 0 .3 0 .2 0 .3 0 .2 0 .3 0 .2 0 .3 0 .2 0 .3 0 .2 0 .3 0 .3 0 .2 0 .3 0 .2 0 .3 0 .2 0 .3 0 .2 0 .3 0 .2 0 .3 0 .2 0 .3 0 .3 0 .2 0 .3 0 .2 0 .3 0 .2 0 .3 0 .2 0 .3 0 .2 0 .3 0 .3 0 .2 0 .3 0 .2 0 .3 0 .2 0 .3 .1 .2 0 .3 0 .2 0 .3 0 .2 0 .3 .1 .3 0 .2 0 .3 0 .2 .1 .3 0 .2 0 .3 .1 .2 0 .3 0 .2 .1 .3 0 .2 0 .3 .1 .3 0 .2 .1 .3 0 .2 .1 .3 0 .2 .1 .3 0 .2 .1 .3 0 .2 .1 .3 0 .3 .1 .2 0 .3 .1 .2 0 .3 .1 .2 0 .3 .1 .2 0 .3 .1 .2 0 .3 .1 .2 0 .3 .1 .3 0 .2 .1 .3 0 .2 .1 .3 0 .2 .1 .3 0 .2 .1 .3 0 .2 .1 .3 0 .2 .1 .3 0 .3 .1 .2 0 .3 .1 .2 0 .3 .1 .2 0 .3 .1 .2 0 .3 .1 .2 0 .3 .1 .3 0 .2 .1 .3 0 .2 .1 .3 0 .2 .1 .3 0 .2 .1 .3 0 .2 .1 .3 0 .2 .1 .3 0 .3 .1 .2 0 .3 .1 .2 0 .3 .1 .2 .1 .3 0 .2 .1 .3 0 .2 .1 .3 .1 .2 0 .3 .1 .3 0 .2 .1 .3 .1 .2 0 .3 .1 .2 .1 .3 0 .2 .1 .3 .1 .2 0 .3 .1 .3 .1 .2 0 .3 .1 .2 .1 .3 0 .2 .1 .3 .1 .2 .1 .3 0 .2 .1 .3 .1 .2 .1 .3 .1 .3 0 .2 .1 .3 .1 .2 .1 .3 .1 .2 0 .3 .1 .2 .1 .3 .1 .2 .1 .3 .1 .2 .1 .3 .1 .3 .1 .2 .1 .3 .1 .2 .1 .3 .1 .2 .1 .3 .1 .2 .2 .3 .1 .2 .1 .3 .2 .3 .1 .2 .2 .3 .1 .2 .2 .3 .2 .2 .2 .3 .2 .2 .2 .3 .2 .2 .2 .3 .3 .2 .2 .3 .4 .3 .3 .2 .4 .3 .4 .2 .5 .3 .5 .2 .5 .3 .6 .2 .7 .3 .7 .2 1.1 .3 1.7 .2 2.4 .3 4.5 .3 15.8" fill="none" stroke="#000" stroke-width="1.0" stroke-linejoin="round"/>
<text x="980.10" y="855.06" class="il">10⁰</text>
<text x="980.10" y="876.74" class="il">10⁻⁴</text>
<path d="M981.40 852.96H991.90M981.40 874.64H991.90" stroke="#000" stroke-width="1.15"/>
<rect x="991.90" y="850.85" width="83.2" height="43.9" fill="none" stroke="#000" stroke-width="1.1"/>
<rect x="803.90" y="844.45" width="277.8" height="111.5" fill="none" stroke="#333" stroke-width="1.2"/>
<text x="816.53" y="986.35" class="xl">0%</text>
<text x="867.04" y="986.35" class="xl">20%</text>
<text x="917.55" y="986.35" class="xl">40%</text>
<text x="968.05" y="986.35" class="xl">60%</text>
<text x="1018.56" y="986.35" class="xl">80%</text>
<text x="1069.07" y="986.35" class="xl">100%</text>
<text x="782.60" y="955.58" class="yl">0.0</text>
<text x="782.60" y="904.90" class="yl">0.5</text>
<text x="782.60" y="854.22" class="yl">1.0</text>
<path d="M816.53 955.95V966.35M867.04 955.95V966.35M917.55 955.95V966.35M968.05 955.95V966.35M1018.56 955.95V966.35M1069.07 955.95V966.35M792.90 950.88H803.90M792.90 900.20H803.90M792.90 849.52H803.90" stroke="#444" stroke-width="1.3"/></g>
<g><path d="M95.9 1008.7l.1 4 0 5.1 0 2.9 .1 4.4 0 5.3 0 3.8 0 4.7 .1 4.2 0 2.5 0 4.5 .1 2.7 0 2.9 0 4.9 .1 2.2 0 3.3 0 2.5 .1 3.7 0 1.6 0 3 .1 2.2 0 2.3 0 2.1 .1 2.3 0 1.9 0 1.9 0 1.8 .1 1.2 0 1.3 0 1.1 .1 1 0 .9 0 .6 .1 .6 0 1 0 .4 .1 .6 0 .5 0 .4 .1 .7 0 .6 .1 .4 0 .4 0 .4 .1 .4 0 .4 .1 .4 .1 .4 0 .5 .1 .4 .1 .4 .1 .3 0 .4 .1 .4 .2 .3 .1 .3 .2 .4 .3 .3 .3 .3 .3 .2 .3 .1 .3 .1 .3 .1 .4 .1 .3 .1 .3 0 .3 0 .3 .1 .3 0 .4 0 .3 0 .3 .1 .3 0 .3 0 .3 0 .4 0 .3 0 .3 0 .3 0 .3 0 .3 0 .3 0 .4 0 .3 0 .3 0 .3 0 .3 0 .3 0 .4 0 .4-.1 .4 0 .4 0 .4 0 .4 0 .4 0 .4 0 .4 0 .4 0 .4 0 .4 0 .4 0 .4 0 .4 0 .4 0 .4 0 .4 0 .4 0 .4 0 .4 0 .4 0 .4 0 .4 0 .4 0 .4 0 .4 0 .4 0 .4 0 .4 0 .4 0 .4 0 .4 0 .4 0 .4 0 .4 0 .4 0 .4 0 .4 0 .4 0 .4 0 .4 0 .4 0 .4 0 .4 0 .4 0 .4 0 .4 0 .4 0 .4 0 .4 0 .4 0 .4 0 .4 0 .4 0 .4 0 .4 0 .4 0 .4 0 .4 0 .4 0 .4 0 .4 0 .4 0 .4 0 .4 0 .4 0 .4 0 .4 0 .4 0 .4 0 .4 0 .4 0 .4 0 .4 0 .4 0 .4 0 .4 0 .4 0 .4 0 .4 0 .4 0 .4 0 .4 0 .4 0 .4 0 .4 0 .4 0 .4 0 .4 0 .4 0 .4 0 .4 0 .4 0 .4 0 .4 0 .4 0 .4 0 .4 0 .4 0 .4 0 .4 0 .4 0 .4 0 .4 0 .4 0 .4 0 .4 0 .4 0 .4 0 .4 0 .4 0 .4 0 .4 0 .4 0 .4 0 .4 0 .4 0 .4 0 .4 0 .4 0 .4 0 .4 0 .4 0 .4 0 .4 0 .4 0 .4 0 .4 0 .4 0 .4 0 .4 0 .4 0 .4 0 .4 0 .4 0 .4 0 .4 0 .4 0 .4 0 .4 0 .4 0 .4 0 .4 0 .4 0 .4 0 .4 0 .4 0 .4 0 .4 0 .4 0 .4 0 .4 0 .4 0 .4 0 .4 0 .4 0 .4 0 .4 0 .4 0 .4 0 .4 0 .4 0 .4 0 .4 0 .4 0 .4 0 .4 0 .4 0 .4 0 .4 0 .4 0 .4 0 .4 0 .4 0 .4 0 .4 0 .4 0 .4 0 .4 0 .5 0 .4 0 .4 0 .4 0 .4 0 .4 0 .4 0 .4 0 .4 0 .4 0 .4 0 .4 0 .4 0 .4 0 .4 0 .4 0 .4 0 .4 0 .4 0 .4 0 .4 0 .4 0 .4 0 .4 0 .4 0 .4 0 .4 0 .4 0 .4 0 .4 0 .4 0 .4 0 .4 0 .4 0 .4 0 .4 0 .4 0 .4 0 .4 0 .4 0 .4 0 .4 0 .4 0 .4 0 .4 0 .4 0 .4 0 .4 0 .4 0 .4 0 .4 0 .4 0 .4 0 .4 0 .4 0 .4 0 .4 0 .4 0 .4 0 .4 0 .4 0 .4 0 .4 0 .4 0 .4 0 .4 0 .4 0 .4 0 .4 0 .4 0 .4 0 .4 0 .4 0 .4 0 .4 0 .4 0 .4 0 .4 0 .4 0 .4 0 .4 0 .4 0 .4 0 .4 0 .4 0 .4 0 .4 0 .4 0 .4 0 .4 0 .4 0 .4 0 .4 0 .4 0 .4 0 .4 0 .4 0 .4 0 .4 0 .4 0 .4 0 .4 0 .4 0 .4 0 .4 0 .4 0 .4 0 .4 0 .4 0 .4 0 .4 0 .4 0 .4 0 .4 0 .4 0 .4 0 .4 0 .4 0 .4 0 .4 0 .4 0 .4 0 .4 0 .4 0 .4 0 .4 0 .4 0 .4 0 .4 0 .4 0 .4 0 .4 0 .4 0 .4 0 .4 0 .4 0 .4 0 .4 0 .4 0 .4 0 .4 0 .4 0 .4 0 .4 0 .4 0 .4 0 .4 0 .4 0 .4 0 .4 0 .4 0 .4 0 .4 0 .4 0 .4 0 .4 0 .4 0 .4 0 .4 0 .4 0 .4 0 .4 0 .4 0 .4 0 .4 0 .4 0 .4 0 .4 0 .4 0 .4 0 .4 0 .4 0 .4 0 .4 0 .4 0 .4 0 .4 0 .4 0 .4 0 .4 0 .4 0 .4 0 .4 0 .4 0 .4 0 .4 0 .4 0 .4 0 .5 0 .4 0 .4 0 .4 0 .4 0 .4 0 .4 0 .4 0 .4 0 .4 0 .4 0 .4 0 .4 0 .4 0 .4 0 .4 0 .4 0 .4 0 .4 0 .4 0 .4 0 .4 0 .4 0 .4 0 .4 0 .4 0 .4 0 .4 0 .4 0 .4 0 .4 0 .4 0 .4 0 .4 0 .4 0 .4 0 .4 0 .4 0 .4 0 .4 0 .4 0 .4 0 .4 0 .4 0 .4 0 .4 0 .4 0 .4 0 .4 0 .4 0 .4 0 .4 0 .4 0 .4 0 .4 0 .4 0 .4 0 .4 0 .4 0 .4 0 .4 0 .4 0 .4 0 .4 0 .4 0 .4 0 .4 0 .4 0 .4 0 .4 0 .4 0 .4 0 .4 0 .4 0 .4 0 .4 0 .4 0 .4 0 .4 0 .4 0 .4 0 .4 0 .4 0 .4 0 .4 0 .4 0 .4 0 .4 0 .4 0 .4 0 .4 0 .4 0 .4 0 .4 0 .4 0 .4 0 .4 0 .4 0 .4 0 .4 0 .4 0 .4 0 .4 0 .4 0 .4 0 .4 0 .4 0 .4 0 .4 0 .4 0 .4 0 .4 0 .4 0 .4 0 .4 0 .4 0 .4 0 .4 0 .4 0 .4 0 .4 0 .4 0 .4 0 .4 0 .4 0 .4 0 .4 0 .4 0 .4 0 .4 0 .4 0 .4 0 .4 0 .4 0 .4 0 .4 0 .4 0 .4 0 .4 0 .4 0 .4 0 .4 0 .4 0 .4 0 .4 0 .4 0 .4 0 .4 0 .4 0 .4 0 .4 0 .4 0 .4 0 .4 0 .4 0 .4 0 .4 0 .4 0 .4 0 .4 0 .4 0 .4 0 .4 0 .4 0 .4 0 .4 0 .4 0 .4 0 .4 0 .4 0 .4 0 .4 0 .4 0 .4 0 .4 0 .4 0 .4 0 .4 0 .4 0 .4 0 .4 0 .4 0 .4 0 .4 0 .4 0 .4 0 .4 0 .4 0 .4 0 .5 0 .4 0 .4 0 .4 0 .4 0 .4 0 .4 0 .4 0 .4 0 .4 0 .4 0 .4 0 .4 0 .4 0 .4 0 .4 0 .4 0 .4 0 .4 0 .4 0 .4 0 .4 0 .4 0 .4 0 .4 0 .4 0 .4 0 .4 0 .4 0 .4 0 .4 0 .4 0 .4 0 .4 0 .4 0 .4 0 .4 0 .4 0 .4 0 .4 0 .4 0 .4 0 .4 0" fill="none" stroke="#efa735" stroke-width="3" stroke-linejoin="round" stroke-linecap="square"/>
<rect x="271.30" y="1009.56" width="83.2" height="43.9" fill="#fff" fill-opacity="0.62"/>
<path d="M275.08 1011.56L275.09 1011.76" stroke="#555" stroke-width="0.9" fill="none"/>
<path d="M275.1 1011.8l0 .2 0 .5 0 .3 0 .3 0 .3 .1 .3 0 .6 0 .5 0 .5 0 .6 0 .3 0 .5 .1 .7 0 .3 0 .4 0 .5 0 .4 0 .4 0 .5 0 .5 0 .3 0 .4 .1 .4 0 .4 0 .3 0 .3 0 .2 0 .5 0 .4 0 .3 .1 .7 0 .3 0 .4 0 .2 0 .4 0 .3 0 .3 .1 .4 0 .4 0 .3 0 .3 0 .4 0 .4 0 .5 .1 .3 0 .3 0 .2 0 .4 0 .3 0 .2 0 .3 .1 .4 0 .4 0 .3 0 .4 0 .4 .1 .4 0 .4 0 .2 0 .3 0 .3 .1 .3 0 .3 0 .3 0 .4 .1 .3 0 .4 0 .2 0 .3 .1 .3 0 .3 0 .3 0 .5 .1 .3 0 .2 0 .5 .1 .4 0 .4 .1 .4 0 .3 0 .3 .1 .3 0 .2 0 .4 .1 .2 0 .4 0 .3 .1 .2 0 .4 0 .5 .1 .3 0 .3 0 .3 .1 .3 0 .3 0 .3 .1 .2 0 .3 0 .4 .1 .4 0 .3 0 .2 .1 .4 0 .3 .1 .3 0 .3 0 .3 .1 .2 0 .3 0 .3 .1 .3 0 .3 .1 .2 .1 .4 .1-.3 .1-.3 .1-.3 0-.2 .1-.3 0-.3 .1-.2 0-.3 .1-.3 0-.3 .1-.2 .1-.3 .1-.3 .1-.3 .1-.2 .2-.8 .2-.6 .4-.5 .4-.2 .2-.2 .4-.2 .3-.2 .4 0 .3-.1 .4 .2 .4 0 .3 0 .4 .1 .3 .1 .4 0 .4 .1 .3-.1 .3 .3 .3 0 .4 0 .3 0 .4 .2 .4-.1 .3 .1 .4 .1 .3 0 .4 .1 .4 0 .3 0 .4 .2 .3-.1 .4 .1 .4 0 .3 0 .4 0 .3 .1 .4 .1 .4 0 .3 0 .4 .1 .3 .1 .4 0 .4 .1 .3 0 .4 0 .3 0 .4 0 .4 .1 .3 0 .4 0 .3 .1 .4-.2 .4 0 .3 .2 .4-.1 .3 .1 .4 0 .4-.1 .3 0 .4 .1 .3 .1 .4 0 .4-.2 .3 .1 .4 0 .3 0 .4 0 .4 0 .3 0 .4 0 .3 .1 .4 0 .4 0 .3 0 .4 0 .3-.1 .4 .1 .4 0 .3 0 .4 0 .3 0 .4-.1 .4 .2 .3-.1 .4 0 .3 0 .4 0 .4 0 .3 .1 .4-.1 .3-.1 .4 .1 .4 0 .3 0 .4 0 .3 0 .4 .2 .2-.3 .4 0 .4 .1 .3 0 .4 0 .3 .1 .4-.1 .4 0 .3 0 .4 0 .3 0 .4 0 .3 0 .4-.1 .4 .1 .3 0 .4 0 .3 .1 .4 0 .4 0 .3-.1 .4 0 .3 .2 .4-.2 .4 0 .3 .1 .4-.1 .3 0 .4 .1 .4-.1 .3 .1 .4-.1 .3 0 .4-.1 .4 .1 .3-.1 .4 .1 .3 .1 .4-.1 .4 .1 .3-.1 .4 .1 .3-.1 .4 0 .4 0 .3-.1 .4 .2 .3-.1 .4 0 .4-.2 .3 .2 .4-.1 .3 .1 .4-.1 .4 .1 .3-.1 .4 .1 .3-.1 .4 .1 .4-.1 .3 0 .4 .1 .3 0 .4-.2 .4 .1 .3 0 .4 0 .3 0 .4 0 .4 0 .3 0 .4 .1 .3-.1 .4-.1 .4 0 .3 .1 .4 0 .3 0 .4-.1 .4 .1 .3 0 .4 0 .3 .1 .4-.2 .4 .1 .3-.1 .4 0 .3 0 .4-.1 .4 0 .3 0 .4 0 .3-.1 .4-.1 .4 0 .3 0 .4-.1 .3-.2 .4 .1 .4 0 .3-.2 .4 .1 .3 0 .4-.2 .1 .2" fill="none" stroke="#000" stroke-width="1.15" stroke-linejoin="round"/>
<text x="259.50" y="1045.99" class="il">10⁰</text>
<text x="259.50" y="1033.97" class="il">10¹</text>
<text x="259.50" y="1021.96" class="il">10²</text>
<path d="M265.30 1052.28H271.30M265.30 1050.17H271.30M265.30 1048.67H271.30M265.30 1047.50H271.30M265.30 1046.55H271.30M265.30 1045.75H271.30M265.30 1045.05H271.30M265.30 1044.44H271.30M260.80 1043.89H271.30M265.30 1040.27H271.30M265.30 1038.15H271.30M265.30 1036.65H271.30M265.30 1035.49H271.30M265.30 1034.54H271.30M265.30 1033.73H271.30M265.30 1033.04H271.30M265.30 1032.42H271.30M260.80 1031.87H271.30M265.30 1028.26H271.30M265.30 1026.14H271.30M265.30 1024.64H271.30M265.30 1023.47H271.30M265.30 1022.52H271.30M265.30 1021.72H271.30M265.30 1021.02H271.30M265.30 1020.41H271.30M260.80 1019.86H271.30M265.30 1016.24H271.30M265.30 1014.13H271.30M265.30 1012.62H271.30M265.30 1011.46H271.30M265.30 1010.51H271.30M265.30 1009.70H271.30" stroke="#000" stroke-width="1.15"/>
<rect x="271.30" y="1009.56" width="83.2" height="43.9" fill="none" stroke="#000" stroke-width="1.1"/>
<text x="166.44" y="1028.66" class="nm">ViT</text>
<rect x="83.30" y="1003.16" width="277.8" height="111.5" fill="none" stroke="#333" stroke-width="1.2"/>
<text x="95.93" y="1145.06" class="xl">0%</text>
<text x="146.44" y="1145.06" class="xl">20%</text>
<text x="196.95" y="1145.06" class="xl">40%</text>
<text x="247.45" y="1145.06" class="xl">60%</text>
<text x="297.96" y="1145.06" class="xl">80%</text>
<text x="348.47" y="1145.06" class="xl">100%</text>
<text x="62.00" y="1114.76" class="yl">0</text>
<text x="62.00" y="1073.46" class="yl">200</text>
<text x="62.00" y="1032.16" class="yl">400</text>
<path d="M95.93 1114.66V1125.06M146.44 1114.66V1125.06M196.95 1114.66V1125.06M247.45 1114.66V1125.06M297.96 1114.66V1125.06M348.47 1114.66V1125.06M72.30 1110.06H83.30M72.30 1068.76H83.30M72.30 1027.46H83.30" stroke="#444" stroke-width="1.3"/></g>
<g><path d="M456.2 1007.2l.1 73.3 0 1.4 0 1.3 0 1.3 .1 1.2 0 1.2 0 1.1 .1 1 0 1 0 1 .1 .9 0 .9 0 .9 .1 .8 0 .7 0 .8 .1 .7 0 .6 0 .7 .1 .6 0 .5 0 .6 0 .5 .1 .5 0 .5 0 .5 .1 .4 0 .4 0 .5 .1 .3 0 .4 0 .4 .1 .3 0 .4 0 .3 .1 .5 .1 .5 0 .4 .1 .4 0 .3 .1 .4 .2 .4 .1 .3 .1 .3 .3 .3 .3 .3 .3 .2 .3 .1 .3 .1 .3 0 .4 .1 .3 0 .3 0 .3 .1 .3 0 .3 0 .4 0 .3 0 .3 0 .3 0 .3 .1 .3 0 .3 0 .4 0 .3 0 .3 0 .3 0 .3 0 .3 0 .4 0 .3 0 .3 0 .3 0 .3 0 .3 0 .4 0 .3 0 .3 0 .5 0 .4 0 .4 0 .4 0 .4 0 .4 0 .4 0 .4 0 .4 0 .4 0 .4 0 .4 0 .4 0 .4 0 .4 0 .4 0 .4 0 .4 0 .4 0 .4 0 .4 0 .4 0 .4 0 .4 0 .4 0 .4 0 .4 0 .4 0 .4 0 .4 0 .4 0 .4 0 .4 0 .4 0 .4 0 .4 0 .4 0 .4 0 .4 0 .4 0 .4 0 .4 0 .4 0 .4 0 .4 0 .4 0 .4 0 .4 0 .4 0 .4 0 .4 0 .4 0 .4 0 .4 0 .4 0 .4 0 .4 0 .4 0 .4 0 .4 0 .4 0 .4 0 .4 0 .4 0 .4 0 .4 0 .4 0 .4 0 .4 0 .4 0 .4 0 .4 0 .4 0 .4 0 .4 0 .4 0 .4 0 .4 0 .4 0 .4 0 .4 0 .4 0 .4 0 .4 0 .4 0 .4 0 .4 0 .4 0 .4 0 .4 0 .4 0 .4 0 .4 0 .4 0 .4 0 .4 0 .4 0 .4 0 .4 0 .4 0 .4 0 .4 0 .4 0 .4 0 .4 0 .4 0 .4 0 .4 0 .4 0 .4 0 .4 0 .4 0 .4 0 .4 0 .4 0 .4 0 .4 0 .4 0 .4 0 .4 0 .4 0 .4 0 .4 0 .4 0 .4 0 .4 0 .4 0 .4 0 .4 0 .4 0 .4 0 .4 0 .4 0 .4 0 .4 0 .4 0 .4 0 .4 0 .4 0 .4 0 .4 0 .4 0 .4 0 .4 0 .4 0 .5 0 .4 0 .4 0 .4 0 .4 0 .4 0 .4 0 .4 0 .4 0 .4 0 .4 0 .4 0 .4 0 .4 0 .4 0 .4 0 .4 0 .4 0 .4 0 .4 0 .4 0 .4 0 .4 0 .4 0 .4 0 .4 0 .4 0 .4 0 .4 0 .4 0 .4 0 .4 0 .4 0 .4 0 .4 0 .4 0 .4 0 .4 0 .4 0 .4 0 .4 0 .4 0 .4 0 .4 0 .4 0 .4 0 .4 0 .4 0 .4 0 .4 0 .4 0 .4 0 .4 0 .4 0 .4 0 .4 0 .4 0 .4 0 .4 0 .4 0 .4 0 .4 0 .4 0 .4 0 .4 0 .4 0 .4 0 .4 0 .4 0 .4 0 .4 0 .4 0 .4 0 .4 0 .4 0 .4 0 .4 0 .4 0 .4 0 .4 0 .4 0 .4 0 .4 0 .4 0 .4 0 .4 0 .4 0 .4 0 .4 0 .4 0 .4 0 .4 0 .4 0 .4 0 .4 0 .4 0 .4 0 .4 0 .4 0 .4 0 .4 0 .4 0 .4 0 .4 0 .4 0 .4 0 .4 0 .4 0 .4 0 .4 0 .4 0 .4 0 .4 0 .4 0 .4 0 .4 0 .4 0 .4 0 .4 0 .4 0 .4 0 .4 0 .4 0 .4 0 .4 0 .4 0 .4 0 .4 0 .4 0 .4 0 .4 0 .4 0 .4 0 .4 0 .4 0 .4 0 .4 0 .4 0 .4 0 .4 0 .4 0 .4 0 .4 0 .4 0 .4 0 .4 0 .4 0 .4 0 .4 0 .4 0 .4 0 .4 0 .4 0 .4 0 .4 0 .4 0 .4 0 .4 0 .4 0 .4 0 .4 0 .4 0 .4 0 .4 0 .4 0 .4 0 .4 0 .4 0 .4 0 .4 0 .4 0 .4 0 .4 0 .4 0 .4 0 .4 0 .4 0 .4 0 .4 0 .4 0 .4 0 .4 0 .4 0 .4 0 .4 0 .4 0 .4 0 .4 0 .4 0 .4 0 .4 0 .4 0 .4 0 .4 0 .4 0 .4 0 .4 0 .4 0 .4 0 .4 0 .4 0 .4 0 .4 0 .4 0 .5 0 .4 0 .4 0 .4 0 .4 0 .4 0 .4 0 .4 0 .4 0 .4 0 .4 0 .4 0 .4 0 .4 0 .4 0 .4 0 .4 0 .4 0 .4 0 .4 0 .4 0 .4 0 .4 0 .4 0 .4 0 .4 0 .4 0 .4 0 .4 0 .4 0 .4 0 .4 0 .4 0 .4 0 .4 0 .4 0 .4 0 .4 0 .4 0 .4 0 .4 0 .4 0 .4 0 .4 0 .4 0 .4 0 .4 0 .4 0 .4 0 .4 0 .4 0 .4 0 .4 0 .4 0 .4 0 .4 0 .4 0 .4 0 .4 0 .4 0 .4 0 .4 0 .4 0 .4 0 .4 0 .4 0 .4 0 .4 0 .4 0 .4 0 .4 0 .4 0 .4 0 .4 0 .4 0 .4 0 .4 0 .4 0 .4 0 .4 0 .4 0 .4 0 .4 0 .4 0 .4 0 .4 0 .4 0 .4 0 .4 0 .4 0 .4 0 .4 0 .4 0 .4 0 .4 0 .4 0 .4 0 .4 0 .4 0 .4 0 .4 0 .4 0 .4 0 .4 0 .4 0 .4 0 .4 0 .4 0 .4 0 .4 0 .4 0 .4 0 .4 0 .4 0 .4 0 .4 0 .4 0 .4 0 .4 0 .4 0 .4 0 .4 0 .4 0 .4 0 .4 0 .4 0 .4 0 .4 0 .4 0 .4 0 .4 0 .4 0 .4 0 .4 0 .4 0 .4 0 .4 0 .4 0 .4 0 .4 0 .4 0 .4 0 .4 0 .4 0 .4 0 .4 0 .4 0 .4 0 .4 0 .4 0 .4 0 .4 0 .4 0 .4 0 .4 0 .4 0 .4 0 .4 0 .4 0 .4 0 .4 0 .4 0 .4 0 .4 0 .4 0 .4 0 .4 0 .4 0 .4 0 .4 0 .4 0 .4 0 .4 0 .4 0 .4 0 .4 0 .4 0 .4 0 .4 0 .4 0 .4 0 .4 0 .4 0 .4 0 .4 0 .4 0 .4 0 .4 0 .4 0 .4 0 .4 0 .4 0 .4 0 .4 0 .4 0 .4 0 .4 0 .4 0 .4 0 .4 0 .4 0 .4 0 .4 0 .5 0 .4 0 .4 0 .4 0 .4 0 .4 0 .4 0 .4 0 .4 0 .4 0 .4 0 .4 0 .4 0 .4 0 .4 0 .4 0 .4 0 .4 0 .4 0 .4 0 .4 0 .4 0 .4 0 .4 0 .4 0 .4 0 .4 0 .4 0 .4 0 .4 0 .4 0 .4 0 .4 0 .4 0 .4 0 .4 0 .4 0 .4 0 .4 0 .4 0 .4 0 .4 0 .4 0 .4 0 .4 0 .4 0 .4 0" fill="none" stroke="#efa735" stroke-width="3" stroke-linejoin="round" stroke-linecap="square"/>
<rect x="443.60" y="1003.16" width="277.8" height="111.5" fill="none" stroke="#333" stroke-width="1.2"/>
<text x="456.23" y="1145.06" class="xl">0%</text>
<text x="506.74" y="1145.06" class="xl">20%</text>
<text x="557.25" y="1145.06" class="xl">40%</text>
<text x="607.75" y="1145.06" class="xl">60%</text>
<text x="658.26" y="1145.06" class="xl">80%</text>
<text x="708.77" y="1145.06" class="xl">100%</text>
<text x="422.30" y="1114.76" class="yl">0</text>
<text x="422.30" y="1075.41" class="yl">200</text>
<text x="422.30" y="1036.05" class="yl">400</text>
<path d="M456.23 1114.66V1125.06M506.74 1114.66V1125.06M557.25 1114.66V1125.06M607.75 1114.66V1125.06M658.26 1114.66V1125.06M708.77 1114.66V1125.06M432.60 1110.06H443.60M432.60 1070.71H443.60M432.60 1031.35H443.60" stroke="#444" stroke-width="1.3"/></g>
<g><path d="M816.5 1109.6l.3 0 .3 0 .3-.1 .3 0 .3 0 .3-.2 .2-.4 .2-.4 .3-.7 .1-.3 .1-.4 .1-.4 .1-.5 .1-.4 .1-.5 .1-.5 .1-.6 .1-.8 .1-1 .1-1.1 .1-1.3 .1-1.4 .1-1.5 .1-1.7 .1-1.7 .1-1.8 .1-1.9 .1-2 .1-1.9 .1-2 .1-2 .1-2.1 .1-2.3 .1-2.7 .1-2.8 .1-2.9 .1-3.1 .1-3.2 .1-3.3 .1-3.2 .1-3.3 .1-3.1 .1-3.1 .1-2.9 .1-2.7 .1-2.5 .1-2.3 .1-2.4 .1-2.4 .1-2.4 .1-2.5 .1-2.4 .1-2.4 .1-2.2 .1-2.2 .1-1.9 .1-1.8 .1-1.5 .1-1.3 .1-1 .1-.6 .2-.3 .3-.2 .3-.1 .3-.1 .3-.1 .3 0 .3 .1 .3 .2 .3 .4 .3 .4 .2 .4 .2 .3 .2 .4 .2 .4 .2 .6 .1 .4 .1 .4 .1 .4 .1 .6 .1 .5 .2 .6 .1 .6 .1 .6 .1 .7 .1 .7 .1 .7 .1 .7 .1 .8 .1 .8 .1 .9 .1 1 .1 1.1 .1 1.2 .1 1.2 .1 1.3 .1 1.3 .1 1.3 .1 1.4 .1 1.3 .1 1.3 .1 1.3 .1 1.2 .1 1.1 .1 1.1 .1 1.1 .1 1.1 .1 1.1 .1 1.1 .1 1 .1 1.1 .1 1 .1 1.1 .1 1 .1 1 .1 1 .1 1 .1 1 .1 1 .1 1 .1 .9 .1 .9 .1 .9 .1 .9 .1 .9 .1 .8 .1 .9 .1 .9 .1 .8 .1 .9 .1 .9 .1 .8 .1 .8 .1 .9 .1 .8 .1 .8 .1 .7 .1 .8 .1 .7 .1 .7 .1 .6 .1 .7 .1 .6 .1 .5 .1 .5 .1 .5 .1 .5 .1 .5 .1 .4 .1 .5 .1 .5 .1 .4 .1 .4 .1 .5 .1 .4 .1 .4 .1 .4 .1 .4 .1 .3 .1 .4 .1 .3 .1 .3 .1 .3 .2 .6 .2 .5 .2 .4 .2 .3 .3 .4 .3 .4 .4 .4 .3 .3 .3 .3 .3 .3 .3 .3 .3 .2 .3 .2 .3 .2 .3 .1 .3 .2 .3 .1 .3 .1 .3 .1 .3 .1 .3 .1 .3 0 .3 .1 .3 .1 .3 .1 .3 .1 .3 0 .3 .1 .3 .1 .3 0 .3 .1 .3 0 .3 0 .3 .1 .4 0 .4 0 .3 0 .4 0 .4 0 .4 0 .3 0 .4 0 .4-.1 .3 0 .4 0 .4-.1 .4 0 .3-.1 .4 0 .4 0 .3-.1 .4 0 .4-.1 .4 0 .3-.1 .4 0 .4-.1 .3 0 .4-.1 .4 0 .4-.1 .3-.1 .4 0 .4-.1 .3 0 .4-.1 .4-.1 .3 0 .4-.1 .4-.1 .4-.1 .3 0 .4-.1 .4-.1 .3 0 .4-.1 .4-.1 .4-.1 .3 0 .4-.1 .4-.1 .3 0 .4-.1 .4 0 .4-.1 .3-.1 .4 0 .4-.1 .3 0 .4-.1 .4 0 .4-.1 .3 0 .4-.1 .4 0 .3-.1 .4 0 .4-.1 .3 0 .4-.1 .4 0 .4-.1 .3 0 .4-.1 .4 0 .3-.1 .4 0 .4 0 .4-.1 .3 0 .4-.1 .4 0 .3 0 .4-.1 .4 0 .4 0 .3 0 .4-.1 .4 0 .3 0 .4-.1 .4 0 .4 0 .3-.1 .4 0 .4 0 .3-.1 .4 0 .4 0 .4 0 .3-.1 .4 0 .4 0 .3 0 .4-.1 .4 0 .3 0 .4 0 .4 0 .4 0 .3-.1 .4 0 .4 0 .3 0 .4 0 .4 0 .4 0 .3 0 .4 0 .4 0 .3 0 .4 0 .4 0 .4 0 .3 0 .4 0 .4 0 .3 0 .4 0 .4 .1 .4 0 .3 0 .4 0 .4 0 .3 0 .4 0 .4 .1 .3 0 .4 0 .4 0 .4 0 .3 .1 .4 0 .4 0 .3 0 .4 0 .4 .1 .4 0 .3 0 .4 0 .4 0 .3 .1 .4 0 .4 0 .4 0 .3 .1 .4 0 .4 0 .3 .1 .4 0 .4 0 .4 .1 .3 0 .4 0 .4 .1 .3 0 .4 .1 .4 0 .4 .1 .3 0 .4 0 .4 .1 .3 0 .4 .1 .4 0 .3 .1 .4 0 .4 .1 .4 .1 .3 0 .4 .1 .4 0 .3 .1 .4 0 .4 .1 .4 0 .3 .1 .4 0 .4 .1 .3 0 .4 .1 .4 .1 .4 0 .3 .1 .4 0 .4 .1 .3 .1 .4 0 .4 .1 .4 .1 .3 0 .4 .1 .4 .1 .3 0 .4 .1 .4 .1 .3 0 .4 .1 .4 .1 .4 0 .3 .1 .4 .1 .4 .1 .3 0 .4 .1 .4 .1 .4 .1 .3 0 .4 .1 .4 .1 .3 0 .4 .1 .4 .1 .4 0 .3 .1 .4 .1 .4 .1 .3 0 .4 .1 .4 .1 .4 .1 .3 0 .4 .1 .4 .1 .3 0 .4 .1 .4 .1 .4 .1 .3 0 .4 .1 .4 .1 .3 .1 .4 0 .4 .1 .3 .1 .4 .1 .4 0 .4 .1 .3 .1 .4 .1 .4 0 .3 .1 .4 .1 .4 .1 .4 0 .3 .1 .4 .1 .4 .1 .3 0 .4 .1 .4 .1 .4 .1 .3 0 .4 .1 .4 .1 .3 .1 .4 0 .4 .1 .4 .1 .3 .1 .4 0 .4 .1 .3 .1 .4 .1 .4 0 .3 .1 .4 .1 .4 .1 .4 0 .3 .1 .4 .1 .4 .1 .3 0 .4 .1 .4 .1 .4 0 .3 .1 .4 .1 .4 .1 .3 0 .4 .1 .4 .1 .4 .1 .3 0 .4 .1 .4 .1 .3 .1 .4 0 .4 .1 .4 .1 .3 .1 .4 0 .4 .1 .3 .1 .4 .1 .4 0 .4 .1 .3 .1 .4 .1 .4 0 .3 .1 .4 .1 .4 .1 .3 0 .4 .1 .4 .1 .4 .1 .3 0 .4 .1 .4 .1 .3 .1 .4 0 .4 .1 .4 .1 .3 0 .4 .1 .4 .1 .3 .1 .4 0 .4 .1 .4 .1 .3 .1 .4 0 .4 .1 .3 .1 .4 .1 .4 .1 .4 0 .3 .1 .4 .1 .4 .1 .3 0 .4 .1 .4 .1 .3 .1 .4 0 .4 .1 .4 .1 .3 .1 .4 0 .4 .1 .3 .1 .4 .1 .4 0 .4 .1 .3 .1 .4 0 .4 .1 .3 .1 .4 .1 .4 0 .4 .1 .3 .1 .4 0 .4 .1 .3 0 .4 .1 .4 .1 .4 0 .3 .1 .4 .1 .4 0 .3 .1 .4 0 .4 .1 .4 .1 .3 0 .4 .1 .4 0 .3 .1 .4 0 .4 .1 .3 .1 .4 0 .4 .1 .4 0 .3 .1 .4 0 .4 .1 .3 .1 .4 0 .4 .1 .4 0 .3 .1 .4 .1 .4 0 .3 .1 .4 0 .4 .1 .4 0 .3 .1 .4 .1 .4 0 .3 .1 .4 0 .4 .1 .4 .1 .3 0 .4 .1 .4 0 .3 .1 .4 .1 .4 0 .4 .1 .3 0 .4 .1 .4 .1 .3 0 .4 .1 .4 0 .3 .1 .4 .1 .4 0 .4 .1 .3 0 .4 .1 .4 .1 .3 0 .4 .1 .4 0 .4 .1 .3 0 .4 .1 .4 .1 .3 0 .4 .1 .4 0 .4 .1 .3 .1 .4 0 .4 .1 .3 .1 .4 0 .4 .1 .4 0 .3 .1 .4 .1 .4 0 .3 .1 .4 0 .4 .1 .3 .1 .4 0 .4 .1 .4 0 .3 .1 .4 0 .4 .1 .3 .1 .4 0 .4 .1 .4 0 .3 .1 .4 .1 .4 0 .3 .1 .4 0 .4 .1 .4 0 .3 .1 .4 0 .4 .1 .3 0 .4 .1 .4 .1 .4 0 .3 .1 .4 0 .4 .1 .3 0 .4 .1 .4 0 .4 .1 .3 0 .4 .1 .4 0 .3 .1 .4 0 .4 .1 .3 0 .4 .1 .4 0 .4 .1 .3 0 .4 .1 .4 0 .3 .1 .4 0 .4 .1 .4 0 .3 .1 .4 0 .4 .1 .3 0 .4 .1 .4 0 .4 .1 .3 0 .4 .1 .4 0 .3 0 .4 .1 .4 0 .4 .1 .3 0 .4 .1 .4 0 .3 .1 .4 0 .4 0 .3 .1 .4 0 .4 .1 .4 0 .3 .1 .4 0 .4 0 .3 .1 .4 0 .4 .1 .4 0 .3 .1 .4 0 .4 .1 .3 0 .4 0 .4 .1 .4 0 .3 .1 .4 0 .4 .1 .3 0 .4 .1 .4 0 .4 .1 .3 0 .4 .1 .4 0 .3 .1 .4 0 .4 0 .4 .1 .3 0 .4 .1 .4 0 .3 .1 .4 0 .4 .1 .3 0 .4 .1 .4 0 .4 .1 .3 0 .4 0 .4 .1 .3 0 .4 .1 .4 0 .4 0 .3 .1 .4 0 .4 0 .3 .1 .4 0 .4 0 .4 .1 .3 0 .4 0 .4 .1 .3 0 .4 0 .4 .1 .4 0 .3 0 .4 0 .4 .1 .3 0 .4 0 .4 .1 .3 0 .4 0 .4 0 .4 .1 .3 0 .4 0 .4 0 .3 .1 .4 0 .4 0 .4 0 .3 .1 .4 0 .4 0" fill="none" stroke="#efa735" stroke-width="3" stroke-linejoin="round" stroke-linecap="square"/>
<rect x="991.90" y="1009.56" width="83.2" height="43.9" fill="#fff" fill-opacity="0.62"/>
<path d="M995.4 1041.6l.2-7.6 .3-6.1 .3-4.5 .2-4 .3-3 .2-1.7 .3-1 .2-.8 .3-.7 .2-.4 .3-.2 .2 0 .3 0 .3 .2 .2 .3 .3 .2 .2 .4 .3 .3 .2 .3 .3 .5 .2 .6 .3 .6 .2 .6 .3 .5 .2 .4 .3 .2 .3 .2 .2 .2 .3 .2 .2 .1 .3 .1 .2 .1 .3 .1 .2 0 .3 0 .2 0 .3 0 .2 0 .3 0 .3 0 .2 0 .3 0 .2 0 .3 0 .2-.1 .3 0 .2 0 .3 0 .2 0 .3 0 .3-.1 .2 0 .3 0 .2 0 .3 0 .2-.1 .3 0 .2 0 .3 0 .2 0 .3-.1 .2 0 .3 0 .3 0 .2-.1 .3 0 .2 0 .3 0 .2 0 .3-.1 .2 0 .3 0 .2 0 .3 0 .2-.1 .3 0 .3 0 .2 0 .3 0 .2 0 .3-.1 .2 0 .3 0 .2 0 .3 0 .2 0 .3 0 .3 0 .2 0 .3 0 .2 0 .3 0 .2 0 .3 0 .2 0 .3 0 .2 0 .3 0 .2 0 .3 .1 .3 0 .2 0 .3 0 .2 0 .3 0 .2 0 .3 .1 .2 0 .3 0 .2 0 .3 0 .2 .1 .3 0 .3 0 .2 0 .3 .1 .2 0 .3 0 .2 0 .3 .1 .2 0 .3 0 .2 .1 .3 0 .3 0 .2 .1 .3 0 .2 0 .3 .1 .2 0 .3 0 .2 .1 .3 0 .2 0 .3 .1 .2 0 .3 0 .3 .1 .2 0 .3 0 .2 .1 .3 0 .2 .1 .3 0 .2 0 .3 .1 .2 0 .3 0 .2 .1 .3 0 .3 0 .2 .1 .3 0 .2 .1 .3 0 .2 0 .3 .1 .2 0 .3 0 .2 .1 .3 0 .3 .1 .2 0 .3 0 .2 .1 .3 0 .2 0 .3 .1 .2 0 .3 0 .2 .1 .3 0 .2 .1 .3 0 .3 .1 .2 0 .3 0 .2 .1 .3 0 .2 .1 .3 0 .2 .1 .3 0 .2 0 .3 .1 .2 0 .3 .1 .3 0 .2 .1 .3 0 .2 .1 .3 0 .2 .1 .3 0 .2 .1 .3 0 .2 .1 .3 0 .3 .1 .2 0 .3 .1 .2 0 .3 .1 .2 .1 .3 0 .2 .1 .3 0 .2 .1 .3 0 .2 .1 .3 0 .3 .1 .2 .1 .3 0 .2 .1 .3 0 .2 .1 .3 .1 .2 0 .3 .1 .2 0 .3 .1 .2 .1 .3 0 .3 .1 .2 0 .3 .1 .2 .1 .3 0 .2 .1 .3 .1 .2 0 .3 .1 .2 .1 .3 0 .3 .1 .2 .1 .3 0 .2 .1 .3 0 .2 .1 .3 .1 .2 0 .3 .1 .2 .1 .3 .1 .2 0 .3 .1 .3 .1 .2 0 .3 .1 .2 .1 .3 .1 .2 .1 .3 0 .2 .1 .3 .1 .2 .1 .3 .1 .2 .1 .3 .1 .3 .1 .2 .1 .3 .1 .2 .1 .3 .1 .2 .1 .3 .1 .2 .1 .3 .1 .2 .2 .3 .1 .3 .1 .2 .1 .3 .2 .2 .1 .3 .2 .2 .1 .3 .2 .2 .1 .3 .2 .2 .2 .3 .2 .2 .3 .3 .2 .3 .3 .2 .3 .3 .3 .2 .3 .3 .4 .2 .4 .3 .4 .2 .5 .3 .7 .2 .9 .3 1.2 .2 1.7 .3 3.5 .3 14.6" fill="none" stroke="#000" stroke-width="1.0" stroke-linejoin="round"/>
<text x="980.10" y="1022.72" class="il">10⁻¹</text>
<text x="980.10" y="1040.19" class="il">10⁻³</text>
<path d="M981.40 1020.62H991.90M981.40 1038.10H991.90" stroke="#000" stroke-width="1.15"/>
<rect x="991.90" y="1009.56" width="83.2" height="43.9" fill="none" stroke="#000" stroke-width="1.1"/>
<rect x="803.90" y="1003.16" width="277.8" height="111.5" fill="none" stroke="#333" stroke-width="1.2"/>
<text x="816.53" y="1145.06" class="xl">0%</text>
<text x="867.04" y="1145.06" class="xl">20%</text>
<text x="917.55" y="1145.06" class="xl">40%</text>
<text x="968.05" y="1145.06" class="xl">60%</text>
<text x="1018.56" y="1145.06" class="xl">80%</text>
<text x="1069.07" y="1145.06" class="xl">100%</text>
<text x="782.60" y="1114.29" class="yl">0.0</text>
<text x="782.60" y="1063.61" class="yl">0.5</text>
<text x="782.60" y="1012.93" class="yl">1.0</text>
<path d="M816.53 1114.66V1125.06M867.04 1114.66V1125.06M917.55 1114.66V1125.06M968.05 1114.66V1125.06M1018.56 1114.66V1125.06M1069.07 1114.66V1125.06M792.90 1109.59H803.90M792.90 1058.91H803.90M792.90 1008.23H803.90" stroke="#444" stroke-width="1.3"/></g>
<g><path d="M95.9 1166.2l.1 101.8 .1-22 0 3.5 0-3.5 .1-.6 0 2.4 .1-4.2 0 1.7 0-6.4 .1 5.3 0 2.5 .1-1.6 0-.8 .1-.6 0 3.5 .1-2.5 0 2.2 .1-2.6 0 2.4 .1 .4 0-1.9 0 1.7 .1-1 0-1.4 .1 4.9 0-2.5 .1-3.4 0 2.4 .1 1 0 2.3 .1-1.9 0-2.3 .1 2.5 0-.7 .1-1.7 0 .6 .1 4.4 0-2.8 0 .7 .1 4.2 0-.5 .1-3.7 0 1.3 0 2.3 .1-3.2 0 4.8 .1-6.7 0 4.3 .1-3.7 0 3.6 .1-1.1 0 .9 .1-2.1 0 .7 .1 2.2 0 .3 0 .7 .1-3.2 0 3.5 .1-2 0 1.7 0 1.6 .1 .9 0-2 .1 .3 0 .6 .1-1.7 0 1.8 0-1.6 .1 2.3 0 1.2 .1-1.9 0 3.1 .1-2.5 0 2.6 0-2.8 .1-.8 0 3.8 .1-1.1 0 2.2 .1-2.5 .1 1.6 0 2 .1-1.7 0-2.5 0 2.6 .1-1.5 0-.7 .1 1.4 .1-.9 0 2.2 .1-1 0-1.5 .1 2.7 0-3.1 0 5.2 .1-.8 0 .5 .1-2.2 .1 3.3 0-5.7 0-.8 .1 1.6 0 1.4 .1-.4 0 1.9 0-.5 .1-.8 .1 .5 0 .3 .1-2.9 0 3.3 .2-.9 .1 .4 .2 1.1 .2 .3 .1-1.5 .2 2 .2-1.2 .1 1.3 .4-1.7 .1 2.4 .2-.4 .1 .6 .2-.9 .2 .9 .1-.5 .4-.9 .1 1 .2 2.8 .2-4.4 .1 3 .2 .3 .2-1.1 .1 1.8 .4 .2 .3 1.6 .2-4.2 .1 .9 .2-1.9 .1 1.8 .2 .5 .2-1.2 .3 1.5 .3 1.2 .4-1 .1 .6 .4 2.2 .1-.9 .2-.9 .2-.9 .3 .3 .2-.7 .1 1.3 .2-1.1 .1-1.2 .2 2.1 .2 .7 .1-1.8 .2 1.1 .3-.7 .2 .8 .2-1.3 .1 1.9 .4-2.2 .1 1 .2 .3 .2-1.1 .1 1 .2 1.2 .2-2.2 .1 3.2 .2-1.4 .1-1 .2-.4 .3 1.1 .4 .5 .1-.4 .4-1 .1 .8 .2-1.7 .2 1.5 .1 2.4 .2-2.6 .2 1.2 .3 .2 .3-2.1 .2 1 .1 1.1 .4 .2 .3-1.2 .2-.5 .1 2.9 .2-1.9 .2 .5 .1-.4 .2-.3 .2 1 .3-.8 .2 .5 .3-1.3 .2 2.1 .1-2.8 .2 .4 .1 1.1 .2-.5 .2 1.3 .1-.4 .2 .4 .2-1.9 .1 .4 .2 .6 .3 1.9 .2-1.2 .2 .6 .3-1.4 .2 .8 .3-.9 .2 1.8 .1-2 .2 3 .2-3.4 .1 .6 .2 1.5 .3-3.3 .2 3.1 .1-1.7 .2 1 .3 .5 .2 .9 .3-.7 .2-1.5 .2 2.2 .1-2.2 .4 .4 .1 .9 .2 .9 .3-1 .2 1.1 .1-.8 .4 .9 .1-2.4 .2 1.7 .2-2.2 .1 1.8 .4 .2 .3-.4 .2 1.6 .1-2.7 .2 .7 .2 .5 .1-.7 .4 .6 .1-1 .2 .9 .1-2.2 .2 1.3 .2 .8 .1-1.2 .2-.7 .2-.4 .1 1.2 .2-1.5 .2 3.5 .3-.3 .2-1.8 .1 2.2 .2-1.1 .2 1 .1-1.4 .2 1.1 .2-3.9 .1 1.9 .2 1.1 .1-1.4 .2 .7 .2 .4 .1-.5 .2 1.9 .2-2.8 .1 .4 .2 1.5 .3 1.1 .2-2.3 .2 .7 .1 .3 .2 1 .3 .7 .2-3.4 .2 2.8 .1-.4 .2-.5 .1 1.8 .2-1.6 .2-1.6 .1-.4 .2 1.7 .3-1.1 .2 2.5 .2-2.3 .1 2.5 .2-2 .2 .3 .3-.9 .2-1 .1 3.5 .4-1.9 .3 0 .3-1.8 .2 .9 .1-.4 .2 1.3 .2-.4 .1-.7 .2 2 .2-1.4 .1 2.4 .2 .7 .2-.5 .1-.7 .2-1.6 .2 1 .3-.4 .2-2 .1 1.6 .2 .5 .3-.8 .3 2.6 .2-2.6 .2 .4 .1-.8 .2 1.5 .3 1 .2-1.7 .2-1 .1 1.5 .2-2 .2 .3 .1 1.7 .2-.7 .3-1.6 .2 2.3 .1-2.4 .2 2.7 .2-1.8 .1 .4 .2 1.7 .2-1.3 .1-.6 .2-.6 .2 1.1 .1-2.1 .2 3.6 .2-.5 .1 .3 .2-.8 .2 .6 .3 .4 .3-2.8 .2-.8 .1 2.8 .2-1.2 .2 2.1 .1-1.3 .2-.8 .2-.5 .1 1.1 .2-1.5 .2-1.1 .1 2.7 .2 1.1 .2-1.9 .3 2 .2-1 .1-1.4 .2 .8 .2-1.3 .1 .8 .2 1.8 .1-2.1 .2 .8 .2 .7 .3-3.3 .2 .5 .1 1.5 .2 1.1 .2-2.4 .1 4 .2-2.5 .2 2.9 .3-.8 .2-2.2 .1 .5 .2 .6 .2-.4 .1 1 .2-2.5 .1 1.6 .2-.4 .2 1.4 .1-1.3 .2 .4 .2-.8 .1 2.2 .2-2.8 .2-.5 .1 .8 .2-.8 .2-.6 .1 2 .2 .5 .3-.3 .2 .4 .3-1.9 .2 1.8 .3-1.9 .2 2.6 .1-.9 .2-.9 .3 1.8 .2-.3 .3-.2 .2-1.7 .2 1.3 .1-.3 .2 1.7 .2-1 .1-.3 .4 .4 .1-1.5 .2 .6 .3 .2 .3-1.2 .2 2.5 .2-2.6 .1 2.5 .4-1.8 .3 0 .2 1.8 .1-3.4 .4 1.9 .1-1.8 .2 1.9 .3 0 .2 1.2 .2 .5 .1-2 .3 0 .2-.6 .3-1 .2 .7 .2 1.4 .3 .1 .2 1.1 .3-2.6 .2 2.1 .1-1.1 .2-1.3 .2 1.5 .3-.1 .2-.9 .1 2.5 .3-.8 .2-1 .2-.4 .1 1 .4-.8 .1 1.9 .2-.7 .2-2 .1 1.1 .4 1.7 .1-1 .2 .5 .2-2.6 .1 .9 .2 .8 .2-.5 .1-2.5 .2 1.3 .1 .8 .2 1 .2-1.4 .1 2.7 .2 1 .2-1.7 .1 .7 .2 1.3 .2-1.6 .1-.6 .2-.6 .2-.6 .1-.5 .4 2 .1-2.2 .4 1.6 .3-.7 .1-.4 .4 .1 .1 1.6 .2 .8 .2-.6 .3-1.7 .2 2 .1-.7 .2-.7 .2-.6 .1 .5 .4-.8 .1 1.4 .2-1.1 .2 1.3 .1 1.3 .2-3.6 .1 1.1 .4 1 .1-3.8 .2 3.8 .2-2 .3 2.5 .2-2.4 .1 .4 .2-1.5 .2 2.9 .1-.7 .4 2.1 .1-1.1 .2 1.2 .2-1.1 .1-.7 .2 .3 .1-1 .2 .5 .2-.9 .1 .4 .2 2.4 .2-2.2 .1 2.1 .2-2.5 .2-.6 .1-.5 .2 1.4 .2-.4 .1 1.5 .2-2.1 .2 .7 .1-1.4 .2 2.4 .3-1 .2-2.7 .1 2.5 .2 1.3 .2-1.5 .1-.3 .2 .9 .2 .4 .1-2.3 .2 1.7 .2-.7 .1 1.8 .2-2.2 .2 1.7 .1-2 .2 4.7 .2-1.4 .1 .5 .2-1.4 .2-.3 .1 .6 .2-.9 .3 .7 .2-1.3 .1 1 .4 0 .1 .4 .2 .4 .2-1.2 .3-1.4 .2 3.6 .1-1.7 .2-.5 .3-.6 .2-1.5 .2 3.3 .1 1 .2-3 .2-1.7 .1-.6 .2 2.4 .1-1.6 .2 3.1 .2-1.7 .1 1.3 .4 .3 .1 .8 .2-1.5 .3 .4 .2 .7 .2-.5 .3 .2 .2 1.1 .1-1.5 .2-1.1 .2 .7 .1-2.2 .2 .8 .1 1.7 .2 .7 .2 .4 .1-.7 .2-.6 .2 .9 .1-.9 .2-2.3 .2 3.4 .1-1.9 .4-.6 .1 .6 .2 .3 .2 .6 .3 .7 .2-.7 .1-1 .3-.3 .2 .9 .2 1.1 .1-3.3 .2 1.4 .3 .3 .2-.5 .2-.6 .3 1.1 .2-.5 .3 2.6 .2-1.6 .1-.6 .2 1.6 .3-2.6 .2 1.3 .1 .7 .4-.7 .1-3.1 .2 2.5 .2 1.1 .1 .9 .2-3.7 .3 2.6 .2-4.4 .2 2.2 .1 1.9 .2 .8 .2-1.4 .3-.4 .2-.6 .1 1.6 .2-1 .1 1.7 .2-1.7 .2-.7 .1 4.4 .2-2 .2-1.2 .1 2.6 .2-1.6 .2-.8 .3-.9 .2 .6 .1-.8 .2 1.2 .2-.8 .1 1.5 .2 .6 .2-1.7 .3 .5 .1 1 .4-1.5 .1-.4 .4 .1 .1 1.4 .2-3.3 .2 3.3 .1 .4 .2-1.1 .2-.6 .1-.6 .2 .9 .2 .7 .1-1.9 .2 1.3 .3 .7 .2-2.1 .1 .5 .2 2.2 .2-1.4 .1 .7 .4-1.4 .1 1.4 .2-.6 .2-1.1 .1 1.3 .2 1.4 .2-.4 .1-2.2 .2 1.5 .2-.8 .1-.9 .2 2.3 .2 .7 .1-1.5 .2-1.6 .1 2 .2-.7 .2-.6 .1 .8 .2 1.9 .2-3.6 .1 .7 .2 1.6 .2-1.4 .1 .9 .2 1.3 .2 .4 .1-2.2 .4 .3 .1-1.5 .2 2.3 .2-2.3 .1 2 .2 1.9 .1-3.2 .2 .8 .2 2 .1-1.1 .2-1 .2 .8 .1-1 .2 1.8 .2-3.4 .1 2.5 .2 .9 .3-2.3 .2 3.4 .2-1.9 .1-.6 .2-1.2 .2 2 .1-1.5 .2 1.1 .1-2.6 .2 2 .2-.4 .3 0 .2 .4 .3-2.6 .2 .3 .1-1.1 .2 4.3 .2-.6 .1-.9 .2 .5 .2 1.9 .1-1.7 .2 1.7 .2-.4 .1-1.6 .2 3.9 .2-4.9 .1 1.9 .3-.3 .4 .6 .1 .5 .2-1.2 .2 1.3 .1-1.2 .2-.3 .3-2 .2 1.2 .2-.5 .1-1.6 .4 2.3 .1 .6 .2-1 .2 1.2 .1 .7 .3-2.4 .2 1.4 .2 1.2 .1 1.7 .2-2.9 .2 .6 .1-.7 .4-.7 .1 .5 .4-.5 .1 2.2 .2-.6 .2-4 .1 1.9 .2 1.2 .2-3.2 .1 1.9 .2 2.5 .3-.2 .2-1 .1-1.2 .4 1.6 .1-1.4 .2 2.5 .2-1.8 .1-1 .2-2.1 .2 3.9 .1 .7 .2-1.9 .3-.8 .4-.9 .3 1.1 .1 1.4 .2-.6 .2-.6 .1 .7 .2-1.2 .2 1.4 .3 .4 .2-1.5 .1 1.9 .2-.4 .3 .6 .4 1.8 .1-2.7 .2 .5 .2-1.6 .1-.7 .2 .5 .1 2.8 .2-1.6 .3 1 .2-1.7 .2 1.6 .1 .5 .2-2.1 .2 1.1 .1-3.9 .2 2.3 .2 .7 .3 .1 .2 .4 .1 .3 .4-2.6 .1 2.1 .2-3.4 .1 4.5 .2-1.7 .2 .7 .1-1.2 .2 .9 .2-.4 .1 1.1 .2-.9 .2-.9 .3 1.2 .2-.6 .3 3.1 .2-2.7 .1 .8 .2-.5 .2 .9 .1-.6 .2-.5 .1 .6 .2-1.4 .2-1.3 .3-.8 .2 1.4 .1 .6 .2-1.5 .2 1.9 .1-1 .4 1.3 .1 .5 .2-.9 .2-2 .1 1.3 .2 1.1 .2-.4 .1 .3 .2-.4 .1 1 .2-2.4 .2 1.9 .3-3.1 .2 5.4 .1-5.3 .2 1.3 .2 2.7 .1-4.1 .2 2.6 .2 .7 .1-.7 .2-.4 .2 1 .1-.7 .2 2.2 .2-2.3 .1 1.4 .2 .7 .1-1.1 .2 .8 .2-2.4 .1-1.4 .2 2.4 .3 1 .2-.3 .2-.7 .3 1.1 .2-2.4 .1-1.8 .2 4.2 .2-1.1 .1 .5 .2 2.4 .2-1.2 .1-4.4 .2 1.8 .1-2.2 .2 1.5 .2-.4 .3 2.1 .2-2.4 .1 .7 .2 1.2 .2-.6 .1 1.2 .2-3.2 .2 2.7 .1-.4 .2 1.1 .3-1.7 .2 .6 .2-2 .1 1.6 .2-2.1 .1 3.4 .4 1.2 .1-3.4 .4 2.9 .3-1.7 .2 1.2 .1-2.3 .2-.9 .2 1.6 .1-.7 .2 1.7 .2 1.3 .1 .6 .2-1 .2-1.6 .1-.8 .2 2.1 .2-1.4 .1-2.8 .2 .9 .1 1.1 .4 3.8 .1-1.8 .2-.8 .3-.5 .4 .2 .1 1.3 .2-1 .2 1.2 .1-3.3 .2 1.4 .2-.8 .1 1.4 .2 1.1 .2-1.1 .1 1.2 .2 .5 .1 .5 .2-3.2 .2 2.5 .1 .8 .2-2.9 .2 .9 .1-.3 .4-.4 .1-3.6 .2 3.7 .2-1.6 .1 3.2 .2 2.5 .2-3 .1-.9 .4 0 .1-.4 .2-1.5 .1 2.5 .2-2.4 .2 .9 .1 .7 .2-2.1 .3 2.6 .2-1.9 .2-.8 .1 3.5 .2-.6 .3-.8 .2-1 .2-1.6 .1 4.5 .2 1.2 .2-2.4 .1-.5 .3-1.9 .2 .8 .2-2.6 .1 4.2 .2-2.6 .2 2.9 .1-3.1 .2 1.1 .2 .9 .1-.8 .2 .4 .2-3.1 .1 4.7 .2-2.7 .2 .9 .1-.4 .2 1.5 .2-1.8 .1 2 .2 .9 .1-2.8 .2 1.1 .2 1 .1-.3 .2-2.6 .2 1.6 .1 1.2 .4 .8 .1-.7 .2 1.7 .2-3.6 .1 2.4 .2 1.3 .2-1.5 .1-.5 .4-2.3 .3 3 .1-1.7 .2-.7 .2 .6 .1 1.7 .2-.7 .2 .7 .3-1.6 .2 .7 .1 .6 .2-2.8 .2 2.1 .1-2.5 .2 1.6 .3-1.1 .2 1 .2 .7 .1 .6 .3-2.2 .2-.5 .3 1.3 .2-2.2 .2 1.4 .1 1.6 .2-.4 .3-.7 .2 3 .2-.6 .1-2.4 .2 .5 .2 1.2 .1-1.6 .2-.7 .2 .7 .1 .5 .2 2.1 .1-1 .2-3.1 .2 2.2 .1-.4 .2 1.9 .2 1.6 .1-2.5 .4-1.2 .1-1.1 .4 1.4 .3-.5 .2 .8 .1-1.5 .2 3 .2-3.1 .1 .7 .2 .5 .1 2 .2-2.1 .2 1.6 .3-1.5 .3-.5 .2 .9 .2-1.4 .1-2.1 .4 3.5 .3-.6 .2-2.4 .1 .7 .4 1.4 .1-1.8 .2 4.7 .1-1.7 .2-.4 .2-.5 .1 2 .2-1.7 .3-1.2 .2 2 .2 .5 .1-.6 .4-1 .3-1.1 .2 2.1 .3 .2 .2-3.7 .1 3.6 .2-2.2 .2-.6 .1 1.9 .2-1.4 .3 1.8 .2 1.1 .1-1.8 .4 .8 .1 .4 .2-2 .2 1.4 .1 .7 .2-2.2 .2-1.6 .1 3.3 .2 .7 .2-3.7 .1 4.5 .2-2.4 .2-1.6 .1 2 .2 1.4 .3-.8 .2 1.6 .1-1.1 .2-.4 .2-1.4 .1-.7 .2 1.1 .3-.2 .2-1 .2 1.6 .1 1.1 .2-.8 .2-3 .1 .9 .4 3 .1-4.7 .2 1.5 .1 .5 .2 .8 .3 2.2 .2-3.1 .2 2.9 .1-4.3 .2 .5 .2 2.1 .1 .4 .2-.5 .2-2.7 .1 1.7 .4 1.8 .1-3.1 .2 .9 .2 2.3 .1-1.2 .2 .7 .1 .5 .2 1.7 .2 .3 .1-2.9 .2 .8 .2-1.8 .3-.8 .2 .5 .3 1.3 .2-1.1 .1-1.3 .2 4.1 .2-.6 .1 .6 .2-.8 .2-3.2 .1-.8 .2 1.2 .1 2.7 .2-1 .2-1.1 .1-5.7 .2 3.9 .2 .4 .1-.7 .2 3.6 .2-3.4 .3 1.3 .2 .7 .1-1.6 .2 .5 .2 .9 .3-1.1 .2 3 .1-.4 .3-1.5 .2 .8 .2 .9 .1-1.1 .4-1.7 .1 .8 .2 1.8 .3 .4 .4-1.9 .1-1.6 .2 4.7 .2-1.9 .1-2.9 .4 3.5 .3 .4 .1-3.2 .2 1.3 .2 1.1 .1 1.2 .2-2.2 .2 1.1 .1-3.7 .2 2.6 .2-2.1 .1 .8 .2 1.3 .2 1 .1-3 .2 1.2 .2 2.5 .1-3.6 .2 3.6 .2-1.8 .3 1.2 .1 1.1 .4-2.9 .1 1.9 .2-1.5 .2-1.1 .1 2.2 .2 .8 .2 .3 .1-1.1 .2-2.1 .2 1.5 .3-2.5 .2 .9 .1 .6 .2 .9 .2-1.7 .1 .5 .2 1.3 .1-.8 .2 .7 .2-.7 .1 2.5 .2-.9 .2-3.5 .1 .4 .2 2.3 .2 .8 .1-2.8 .2 1.4 .2-.4 .1-1.2 .2 .5 .2 .6 .1-.9 .2 3.9 .2-1.7 .1-4.7 .2 3 .1-1.8 .2 3.5 .2-3.7 .1 4.5 .2-2.7 .2 .6 .1 1.9 .2-2.2 .2 4.8 .1-5.3 .2 1.6 .3 2.2 .4-.4 .1-.8 .2-2.1 .2 1.7 .1-.8 .2 1.4 .2-5.2 .1 3.2 .2 4.6 .1-4.6 .2-2.3 .2 2.5 .3-.2 .2-1.6 .1-.8 .2 2.8 .2 3.3 .1-2.1 .2 2 .2-1.5 .1-3.1 .2 2.8 .2-.4 .1-.9 .4 1.8 .1-3.3 .2 2.9 .1-3.3 .2 2.7 .3 .1 .2-2.1 .2 .6 .1 .3 .2-1.8 .2 3.3 .1-2.8 .2 2.6 .2 2.2 .1-.9 .2-2.6 .2 1.7 .1-.4 .2 1.1 .2-.4 .3-1.8 .1-.3 .4 .7 .3 0 .3 1.8 .2-2.3 .2-1.2 .1 3.9 .2-1.6 .2-.5 .1 .4 .4 .3 .1-2.9 .2 1.7 .2-1.7 .1 1.9 .2-.4 .1 .3 .4-3.9 .3 3.8 .2 3 .1-1.9 .2-1.8 .2 .6 .1 .7 .2-1 .3-.9 .2 1.5 .2-.7 .1-.3 .2 1.9 .2 .5 .1-1.3 .2-1.3 .1 .8 .2-1.5 .2 2.4 .1-.5 .2 1.1 .2-.6 .1 2.6 .2-3.5 .2 2.1 .1-2.9 .2-.4 .2 3 .1-2.7 .2-.5 .2 .6 .1-.3 .2 2.4 .2-2 .1 1.2 .2 .6 .1 2.9 .2-5.1 .2 3.6 .1-4.4 .2 .7 .2 3.5" fill="none" stroke="#efa735" stroke-width="3" stroke-linejoin="round" stroke-linecap="square"/>
<rect x="271.30" y="1168.27" width="83.2" height="43.9" fill="#fff" fill-opacity="0.62"/>
<path d="M275.08 1170.27L275.11 1210.17" stroke="#555" stroke-width="0.9" fill="none"/>
<path d="M275.1 1210.2l0-18.5 0 1.9 0-1.9 .1-.3 0 1.2 0-2.1 0 .8 0-3 0 2.5 0 1.3 0-.9 .1-.4 0-.3 0 1.8 0-1.3 0 1.2 0-1.4 0 1.2 .1-.7 0 .9 0-.5 0-.7 0 2.6 0-1.4 .1-1.8 0 1.2 0 .6 0 1.3 0-1.1 0-1.2 0 1.3 .1-.4 0-.9 0 .4 0 2.4 0-1.6 0 .4 0 2.5 0-.3 .1-2.2 0 .7 0 1.4 0-1.9 0 2.9 0-4 0 2.5 0-2.1 .1 2.1 0-.7 0 .5 0-1.2 0 .4 0 1.3 .1 .7 0-2 0 2.1 0-1.2 0 1 0 1.1 0 .6 .1-1.3 0 .6 0-1.1 0 1.2 0-1.1 0 1.5 0 .9 .1-1.3 0 2.2 0-1.8 0 1.8 0-2 0-.5 0 2.7 .1-.8 0 1.6 0-1.8 0 1.1 0 1.7 0-1.4 0-1.9 .1 1.9 0-1.1 0-.5 0 1 0-.6 0 1.6 .1-.7 0-1.1 0 2 0-2.3 0 4.2 0-.7 0 .4 0-1.9 .1 2.9 0-4.7 0-.6 0 1.2 0 1 0-.3 0 1.6 .1-.4 0-.7 0 .4 0 .3 0-2.3 0 2.6 .1-.8 0 .4 .1 .9 0 .3 .1-1.3 0 1.8 .1-1.1 0 1.2 .1-1.6 .1 2.2 0-.3 .1 .5 0-.9 .1 .9 0-.5 .1-.8 .1 .9 0 2.8 .1-4.2 0 2.8 .1 .3 0-1.1 .1 1.9 .2 2 0-4.5 .1 .9 0-1.9 .1 1.8 0 .5 .1-1.2 .1 1.5 0-.3 .1 1.6 .1-1.1 0 .6 .1 2.6 .1-1.1 0-1 .1-1 .1 .3 0-.7 .1 1.4 0-1.2 .1-1.2 0 2.2 0 .8 .1-2 0 1.2 .1-.8 .1 .9 0-1.4 .1 2 .1-2.3 0 1 .1 .4 0-1.2 .1 1.1 0 1.3 .1-2.4 0 3.7 .1-1.8 0-1.1 .1-.4 .1 1.2 .1 .5 0-.4 .1-.2 0-.8 .1 .8 0-1.8 .1 1.6 0 2.7 .1-2.9 0 1.3 .1-.3 0 .5 .1-2.3 .1 1.1 0 1.2 .2 .3 0-1.4 .1-.5 0 3.3 .1-2.3 0 .6 .1-.4 0-.4 .1 1.2 .1-1 0 .6 .1-1.4 .1 2.4 0-3.2 .1 .4 0 1.2 .1-.5 0 1.5 .1-.5 0 .5 .1-2.2 0 .5 .1 .6 .1 2.3 0-1.5 .1 .8 0 .4 .1-2.1 0 1 .1-1.1 .1 2.1 0-2.3 .1 3.7 0-4.1 .1 .6 0 1.8 .1 .3 0-4 .1 3.4 0-1.9 .1 1.1 0 .6 .1 1.1 0 .3 .1-1.1 0-1.8 .1 2.6 0-2.7 .1 .5 .1 1 0 1.2 .1-1.3 .1 1.5 0-1 .1 .2 0 .9 .1-2.9 0 2 .1-2.6 0 2 .1 .3 .1-.5 .1 2.1 0-3.3 .1 .8 0 .5 .1-.7 0-.3 .1 .9 0-1.1 .1 1.1 0-2.5 .1 1.3 0 1 .1-1.3 0-.8 .1-.4 0 1.2 .1-1.5 0 3.9 .1-.3 .1-2.2 0 2.6 .1-1.4 0 1.3 .1-1.7 0 1.3 .1-4.2 0 2 .1 1.2 0-1.6 .1 .7 0 .6 .1-.7 0 2.3 .1-3.2 0 .4 .1 1.6 .1 1.5 0-2.7 .1 .7 0 .4 .1 1.1 .1 .9 0-3.9 .1 3.2 0-.5 .1-.6 0 2.3 .1-2.1 0-1.8 .1-.3 0 1.7 .1-.3 0-.9 .1 3 0-2.7 .1 2.9 0-2.4 .1 .4 0-1 .1-1.2 0 4.1 .1-2.2 .1 .3 0-.4 .1-1.9 .1 .9 0-.4 .1 1.4 0-.4 .1-.8 0 2.3 .1-1.7 0 2.9 .1 .9 0-.6 .1-.9 0-1.9 .1 1.2 .1-.5 0-2.2 .1 1.7 0 .6 .1 .3 0-1.3 .1 3.2 .1-3.1 0 .4 .1-.9 0 1.7 .1-.3 0 1.6 .1-2.1 0-1.1 .1 1.8 0-2.3 .1 .4 0 1.9 .1-.9 .1-1.8 0 2.6 .1-2.6 0 3 .1-2.1 0 .5 .1 1.9 0-1.4 .1-.8 0-.6 .1 1.2 0-2.2 .1 4 0-.7 .1 .5 0-1.1 .1 .8 0-.3 .1 .7 .1-3.1 0-.9 .1 3.1 0-1.4 .1 2.5 0-1.5 .1-1 0-.4 .1 1.1 0-1.6 .1-1.1 0 2.8 .1 1.3 0-2.2 .1 2.3 .1-1.2 0-1.5 .1 .9 0-1.5 .1 .9 0 2.1 0-2.4 .1 .9 0 .8 .1-3.5 .1 .5 0 1.5 .1 1.2 0-2.5 .1 4.4 0-2.9 .1 3.4 0-.3 .1-.7 0-2.4 .1 .4 0 .7 .1-.4 0 1.1 .1-2.7 0 1.7 .1-.5 0 1.7 .1-1.5 0 .4 .1-.9 0 2.5 .1-3.1 0-.5 .1 .9 0-.9 .1-.6 0 2 .1 .7 .1-.4 0 .4 .1 .3 0-2.4 .1 2 .1-2 0 2.8 .1-1 0-1 .1-.2 0 2.2 .1-.3 0 .3 .1-.5 0-1.9 .1 1.4 0-.3 .1 1.9 0-1.1 .1-.4 .1 .4 0-1.6 .1 .7 0 .3 .2-1.4 0 2.7 .1-2.8 0 2.7 .1-2 .2 2 0-3.6 .1 2 .1-1.9 0 2 .2 1.3 0 .6 .1-2.3 .1-.6 .1-1 0 .7 .1 1.5 0-.3 .1 .4 0 1.2 .1-2.8 .1 2.3 0-1.3 .1-1.3 0 1.5 .2-1 0 2.7 .1-.9 .1-1.1 0-.4 .1 1 0-.3 .1-.5 0 2.2 .1-.8 0-2.2 .1 1.2 .1 1.9 0-1.2 .1 .6 0-2.8 .1 .9 0 .9 .1-.6 0-2.5 .1 1.3 0 .8 .1 1.1 0-1.5 .1 2.9 0 1.3 .1-2.1 0 .8 .1 1.7 0-2 .1-.7 0-.7 .1-.6 0-.5 .1 2.2 .1-2.4 .1 1.7 .1-.8 0-.4 .1-.3 0 .4 .1 1.8 0 .9 .1-.7 .1-1.9 0 2.2 .1-.7 0-.9 .1-.6 0 .5 .1-.8 .1 1.4 0-1.1 .1 1.5 0 1.4 .1-3.9 0 1.1 .1 1.1 .1-3.8 0 3.8 .1-2.1 0 .2 .1 2.4 0-2.5 .1 .4 0-1.5 0 3 .1-.7 .1 2.3 0-1.3 .1 1.5 0-1.4 .1-.7 0 .3 .1-1.1 0 .6 .1-1 0 .4 .1 2.7 0-2.5 .1 2.4 0-2.8 .1-.6 0-.5 .1 1.4 0-.4 .1 1.6 0-2.2 .1 .7 0-1.4 .1 2.4 .1-1 0-2.6 .1 2.4 0 1.3 .1-1.5 0-.4 .1 1 0 .4 .1-2.3 0 1.7 .1-.8 0 2 .1-2.3 0 1.8 .1-2.1 0 5.2 .1-1.7 0 .6 .1-1.6 0-.4 .1 .7 0-.9 .1 .7 .1-1.4 0 1 .2 .5 0 .5 .1-1.4 .1-1.4 0 3.9 .1-2 0-.5 .1-.6 .1-1.5 0 3.5 .1 1.1 0-3.3 .1-1.7 0-.5 .1 2.3 0-1.6 .1 3.2 0-1.8 .1 1.4 .1 .2 0 1 .1-1.7 0-.3 .1 .8 0 .8 .1-.6 .1 1.5 0-1.8 .1-1.1 0 .7 .1-2.2 0 .8 .1 1.7 0 .8 .1 .5 0-.8 .1-.7 0 1.1 .1-1.1 0-2.3 .1 3.6 0-2.1 .1-.6 .1 .5 0 .4 .1 .6 .1 .8 0-.8 .1-1 .1-.4 0 1 .1 1.2 0-3.4 .1 1.4 .1 .3 0-.5 .1-.6 .1 1 0-.4 .1 2.8 .1-1.8 0-.6 .1 1.7 0-.3 .1-2.4 0 1.3 .1 .8 .1-.8 0-2.9 .1 2.3 0 1.1 .1 1 0-3.7 .1 2.5 .1-4.1 0 1.9 .1 1.9 0 .8 .1-1.4 .1-.4 0-.6 .1 1.6 0-1 .1 1.8 0-1.8 .1-.6 0 4.6 .1-2.2 0-1.3 .1 2.8 0-1.8 .1-.9 .1-.8 0 .6 .1-.8 0 1.2 .1-.8 0 1.5 .1 .6 0-1.8 .1 .6 .1 1 0-1.5 .1-.4 .1 1.5 .1-3.2 0 3.2 .1 .5 0-1.2 .1-.6 0-.6 .1 .9 0 .7 .1-1.9 0 1.3 .1 .7 .1-2.1 0 .5 .1 2.3 0-1.5 .1 .7 .1-1.4 0 1.4 .1-.6 0-1.1 .1 1.3 0 1.4 .1-.4 0-2.2 .1 1.5 0-.8 .1-.9 0 2.3 .1 .7 0-1.5 .1-1.6 0 2 .1-.8 0-.5 .1 .8 0 2 .1-3.7 0 .7 .1 1.6 0-1.4 .1 .9 0 1.4 .1 .4 0-2.3 .1 .3 .1-1.5 0 2.3 .1-2.2 0 1.9 .1 2.1 0-3.4 .1 .8 0 2.2 .1-1.3 0-1 .1 .8 0-1.1 .1 2 0-3.5 .1 2.5 0 1 .1-2.4 .1 3.7 0-2.2 .1-.6 0-1.2 .1 2 0-1.5 .1 1.1 0-2.6 .1 2 0-.4 .2 .4 .1-2.5 0 .3 0-1 .1 4.1 0-.6 .1-.9 0 .4 .1 2.1 0-1.8 .1 1.8 0-.5 .1-1.6 0 4.4 .1-5.4 0 1.9 .1-.3 .1 .6 .1 .5 0-1.2 .1 1.4 0-1.3 .1-.4 .1-1.9 0 1.2 .1-.5 0-1.4 .1 2.1 .1 .5 0-.9 .1 1.2 0 .8 .1-2.5 .1 1.4 0 1.2 .1 2 0-3.2 .1 .6 0-.8 .1-.6 .1 .5 .1-.5 0 2.3 .1-.7 0-3.8 .1 1.7 0 1.2 .1-2.9 0 1.7 .1 2.5 .1-.3 0-1 .1-1.2 .1 1.5 0-1.2 .1 2.5 0-1.9 .1-.9 0-2 .1 3.7 0 .7 .1-1.9 .1-.8 .1-.8 .1 1.1 0 1.2 .1-.5 0-.6 .1 .6 0-1 .1 1.3 .1 .4 0-1.5 .1 1.9 0-.4 .1 .6 0-.3 .1 2.3 0-2.9 .1 .5 0-1.6 .1-.6 0 .4 .1 2.8 0-1.6 .1 1 .1-1.7 0 1.6 .1 .6 0-2.2 .1 1.1 0-3.6 .1 2 0 .7 .2 .4 0 .4 .1-2.5 .1 2 0-3 .1 4.1 0-1.7 .1 .7 0-1.2 .1 .9 0-.4 .1 1.1 0-.9 .1-.8 .1 1.1 0-.6 .1 3.3 .1-2.9 0 .8 .1-.5 0 .9 .1-.6 0-.5 .1 .6 0-1.4 .1-1.2 .1-.6 0 1.2 .1 .5 0-1.3 .1 1.7 0-.9 .1 1.2 .1 .5 0-.8 .1-1.9 0 1.2 .1 1 0-.4 .1 .3 0-.3 .1 .9 0-2.3 .1 1.8 .1-2.7 0 5.1 .1-5 0 1.1 .1 2.5 0-3.7 .1 2.2 0 .7 .1-.6 0-.5 .1 1 0-.7 .1 2.2 0-2.2 0 1.3 .1 .7 0-1.1 .1 .8 0-2.3 .1-1.2 0 2.1 .1 1 .1-.3 0-.7 .1 1.1 .1-2.3 0-1.5 .1 3.8 0-1.1 .1 .5 0 2.5 .1-1.4 0-4 .1 1.6 0-1.9 .1 1.2 0-.2 .1 1.8 .1-2.2 0 .7 .1 1.1 0-.6 .1 1.1 0-2.8 .1 2.3 0-.4 .1 1.1 .1-1.6 0 .6 .1-1.8 0 1.4 .1-1.8 0 3 .1 1.2 .1-3.1 .1 2.6 .1-1.6 0 1.1 .1-2.1 0-.8 .1 1.4 0-.6 .1 1.5 0 1.3 .1 .5 0-.9 .1-1.5 0-.7 .1 1.9 0-1.3 .1-2.4 0 .8 .1 .9 .1 3.6 0-1.8 .1-.7 .1-.5 .1 .2 0 1.2 .1-.9 0 1.1 .1-3 0 1.2 .1-.6 0 1.2 .1 1 0-1 .1 1.1 0 .4 .1 .6 0-3 0 2.3 .1 .8 0-2.8 .1 .9 0-.4 .1-.3 .1-2.9 0 3 .1-1.4 0 2.9 .1 2.6 0-3.1 .1-.8 .1-.4 .1-1.3 0 2.2 .1-2.1 0 .8 .1 .6 0-1.8 .1 2.3 .1-1.7 0-.6 .1 3 0-.6 .1-.7 .1-.8 0-1.4 .1 4 0 1.2 .1-2.3 0-.5 .1-1.7 .1 .7 0-2.1 .1 3.6 0-2.3 .1 2.5 0-2.7 .1 1 0 .8 .1-.7 0 .3 .1-2.5 0 3.9 .1-2.4 0 .8 .1-.4 0 1.4 .1-1.6 0 1.7 .1 .9 0-2.5 .1 1 0 .8 .1-.3 0-2.2 .1 1.4 0 1 .1 .8 .1-.6 0 1.5 .1-3.2 0 2.1 .1 1.2 0-1.3 .1-.6 .1-2 .1 2.7 0-1.6 .1-.6 0 .5 .1 1.6 0-.6 .1 .6 .1-1.4 0 .5 0 .6 .1-2.4 0 1.7 .1-2 0 1.3 .1-.9 .1 .8 0 .6 .1 .6 .1-2 0-.4 .1 1.1 .1-1.7 0 1.1 .1 1.3 0-.4 .1-.6 .1 2.8 0-.6 .1-2.2 0 .5 .1 1.1 0-1.4 .1-.6 0 .5 .1 .4 0 2 .1-.9 0-2.7 .1 1.9 0-.4 .1 1.7 0 1.6 .1-2.5 .1-1 0-.9 .1 1.2 .1-.4 .1 .6 0-1.2 .1 2.6 0-2.7 .1 .6 0 .4 .1 1.8 0-1.9 .1 1.5 .1-1.4 .1-.4 0 .8 .1-1.2 0-1.7 .1 2.8 .1-.5 .1-1.9 0 .6 .1 1.1 .1-1.4 0 4 .1-1.6 0-.4 .1-.4 0 1.9 .1-1.6 .1-1 0 1.7 .1 .5 0-.6 .1-.9 .1-.8 .1 1.7 .1-2.8 0 2.9 .1-1.9 0-.5 .1 1.6 0-1.2 .1 1.6 .1 1 0-1.6 .1 .7 .1 .3 0-1.7 .1 1.1 0 .7 .1-1.9 0-1.3 .1 2.8 0 .6 .1-3.1 0 3.8 .1-2.1 0-1.3 .1 1.6 0 1.2 .1-.6 .1 1.4 0-1 .1-.4 0-1.2 .1-.5 0 .9 .2-1 0 1.3 .1 1 0-.8 .1-2.4 0 .7 .1 2.5 .1-3.8 0 1.2 .1 .4 0 .6 .1 2 .1-2.8 0 2.5 .1-3.5 0 .4 .1 1.7 0 .3 .1-.5 0-2.1 .1 1.3 .1 1.5 0-2.5 .1 .7 0 1.9 .1-1 0 .6 .1 .4 0 1.6 .1 .3 0-2.7 .1 .8 0-1.5 .1-.7 .1 .4 .1 1.1 0-.9 .1-1.1 0 3.4 .1-.5 0 .6 .1-.7 0-2.7 .1-.5 0 .9 0 2.2 .1-.9 0-.9 .1-4 0 2.7 .1 .3 0-.6 .1 2.9 0-2.7 .1 .9 .1 .5 0-1.2 .1 .4 0 .7 .1-.8 .1 2.4 0-.3 .1-1.3 .1 .6 0 .8 .1-.9 .1-1.3 0 .6 .1 1.4 .1 .4 .1-1.6 0-1.2 .1 3.9 0-1.7 .1-2.2 .1 2.7 .1 .3 0-2.6 .1 1.1 0 .9 .1 1 0-1.9 .1 1 0-2.9 .1 1.9 0-1.6 .1 .6 0 1.1 .1 .8 0-2.4 .1 .9 0 2.1 .1-2.9 0 2.8 .1-1.5 .1 1 0 1 .1-2.4 .1 1.5 0-1.2 .1-.9 0 1.8 .1 .7 0 .3 .1-1 0-1.6 .1 1.1 .1-1.9 0 .6 .1 .5 0 .7 .1-1.3 0 .4 .1 1 0-.6 .1 .5 0-.5 .1 2 0-.7 .1-2.8 0 .3 0 1.8 .1 .7 0-2.3 .1 1.1 0-.3 .1-.9 0 .4 .1 .5 0-.7 .1 3.1 0-1.4 .1-3.5 0 2.1 .1-1.3 0 2.7 .1-2.8 0 3.5 .1-2.2 0 .4 .1 1.6 0-1.8 .1 4.1 0-4.5 .1 1.3 .1 1.8 .1-.3 0-.7 .1-1.7 0 1.4 .1-.7 0 1.2 .1-4 0 2.4 .1 3.9 0-3.9 .1-1.8 0 1.9 .2-1.3 0-.6 .1 2 0 2.8 .1-1.8 0 1.7 .1-1.2 0-2.5 .1 2.2 0-.3 .1-.8 .1 1.5 0-2.6 .1 2.3 0-2.6 .1 2.1 .1-1.6 .1 .5 .1-1.2 0 2.6 .1-2.2 0 2 .1 2 0-.9 .1-2.1 0 1.3 .1-.3 0 .9 .1-.3 .1-1.5 .1 .3 .2 1.5 .1-1.8 0-1 .1 3.2 0-1.3 0-.4 .1 .3 .1-2.1 .1 1.3 0-1.3 .1 1.5 0-.3 .1 .2 .1-2.8 .1 2.7 0 2.6 .1-1.7 0-1.4 .1 .5 0 .5 .1-.8 .1-.6 0 1.1 .1-.5 0-.3 .1 1.6 0 .4 .1-1.2 0-.9 .1 .6 0-1.1 .1 1.8 0-.4 .1 .9 0-.5 .1 2.2 0-2.9 .1 1.7 0-2.3 .1-.3 0 2.3 .1-2.1 0-.4 .1 .5 .1 1.6 0-1.5 .1 .9 0 .5 .1 2.5 0-4.2 .1 2.9 0-3.6 .1 .6 0 2.8" fill="none" stroke="#000" stroke-width="1.15" stroke-linejoin="round"/>
<text x="259.50" y="1178.84" class="il">10¹</text>
<path d="M265.30 1205.30H271.30M265.30 1198.11H271.30M265.30 1193.00H271.30M265.30 1189.04H271.30M265.30 1185.80H271.30M265.30 1183.07H271.30M265.30 1180.70H271.30M265.30 1178.61H271.30M260.80 1176.74H271.30" stroke="#000" stroke-width="1.15"/>
<rect x="271.30" y="1168.27" width="83.2" height="43.9" fill="none" stroke="#000" stroke-width="1.1"/>
<text x="166.44" y="1187.37" class="nm">RCNN</text>
<rect x="83.30" y="1161.87" width="277.8" height="111.5" fill="none" stroke="#333" stroke-width="1.2"/>
<text x="95.93" y="1303.77" class="xl">0%</text>
<text x="146.44" y="1303.77" class="xl">20%</text>
<text x="196.95" y="1303.77" class="xl">40%</text>
<text x="247.45" y="1303.77" class="xl">60%</text>
<text x="297.96" y="1303.77" class="xl">80%</text>
<text x="348.47" y="1303.77" class="xl">100%</text>
<text x="62.00" y="1245.20" class="yl">5</text>
<text x="62.00" y="1205.69" class="yl">10</text>
<path d="M95.93 1273.37V1283.77M146.44 1273.37V1283.77M196.95 1273.37V1283.77M247.45 1273.37V1283.77M297.96 1273.37V1283.77M348.47 1273.37V1283.77M72.30 1240.50H83.30M72.30 1200.99H83.30" stroke="#444" stroke-width="1.3"/></g>
<g><path d="M456.2 1165.8l.1 42.7 0 46.6 .1 .5 .1 .5 .1 .5 .1 .5 0 .5 .1 .4 .1 .5 .1 .4 .1 .4 .1 .3 .1 .3 .1 .4 .1 .3 .1 .3 .2 .4 .2 .3 .1 .3 .2 .4 .3 .3 .2 .4 .3 .3 .3 .3 .4 .3 .3 .3 .4 .2 .3 .3 .3 .2 .7 .4 .4 .2 .4 .2 .4 .2 .4 .1 .5 .2 .4 .1 .4 .2 .4 .1 .4 .1 .4 .1 .4 .1 .4 .1 .5 .1 .4 .1 .4 .1 .4 .1 .4 .1 .4 0 .4 .1 .5 .1 .4 0 .4 .1 .4 .1 .4 0 .4 .1 .4 0 .4 0 .5 .1 .4 0 .4 .1 .4 0 .4 0 .4 .1 .4 0 .4 0 .5 .1 .4 0 .4 0 .4 0 .4 .1 .4 0 .4 0 .4 0 .5 0 .4 0 .4 0 .4 0 .4 0 .4 0 .4 0 .5 0 .4 0 .4 0 .4 0 .4 0 .4 0 .4 0 .4 0 .5 0 .4 0 .4 0 .4 0 .4 0 .4 0 .4 0 .4 0 .5 0 .4 0 .4 0 .4 0 .4 0 .4 0 .4 0 .5 0 .4 0 .4 0 .4 0 .4 0 .4 0 .4 0 .4 0 .5 0 .4 0 .4 0 .4 0 .4 0 .4 0 .4 0 .4 0 .5 0 .4 0 .4 0 .4 0 .4 0 .4 0 .4 0 .5 0 .4 0 .4 0 .4 0 .4 0 .4 0 .4 0 .4 0 .5 0 .4 0 .4 0 .4 0 .4 0 .4 0 .4 0 .4 0 .5 0 .4 0 .4 0 .4 0 .4 0 .4 0 .4 0 .5 0 .4 0 .4 0 .4-.1 .4 0 .4 0 .4 0 .4 0 .5 0 .4 0 .4 0 .4 0 .4 0 .4 0 .4 0 .4 0 .5 0 .4 0 .4 0 .4 0 .4 0 .4 0 .4-.1 .5 0 .4 0 .4 0 .4 0 .4 0 .4 0 .4 0 .4 0 .5 0 .4 0 .4 0 .4 0 .4 0 .4 0 .4-.1 .4 0 .5 0 .4 0 .4 0 .4 0 .4 0 .4 0 .4 0 .5 0 .4 0 .4 0 .4 0 .4 0 .4-.1 .4 0 .4 0 .5 0 .4 0 .4 0 .4 0 .4 0 .4 0 .4 0 .4 0 .5 0 .4 0 .4 0 .4-.1 .4 0 .4 0 .4 0 .4 0 .5 0 .4 0 .4 0 .4 0 .4 0 .4 0 .4 0 .5 0 .4 0 .4-.1 .4 0 .4 0 .4 0 .4 0 .4 0 .5 0 .4 0 .4 0 .4 0 .4 0 .4 0 .4 0 .4 0 .5 0 .4-.1 .4 0 .4 0 .4 0 .4 0 .4 0 .5 0 .4 0 .4 0 .4 0 .4 0 .4 0 .4 0 .4 0 .5-.1 .4 0 .4 0 .4 0 .4 0 .4 0 .4 0 .4 0 .5 0 .4 0 .4 0 .4 0 .4-.1 .4 0 .4 0 .5 0 .4 0 .4 0 .4 0 .4 0 .4 0 .4 0 .4 0 .5 0 .4-.1 .4 0 .4 0 .4 0 .4 0 .4 0 .4 0 .5 0 .4 0 .4 0 .4 0 .4 0 .4-.1 .4 0 .5 0 .4 0 .4 0 .4 0 .4 0 .4 0 .4 0 .4 0 .5 0 .4-.1 .4 0 .4 0 .4 0 .4 0 .4 0 .4 0 .5 0 .4 0 .4 0 .4-.1 .4 0 .4 0 .4 0 .5 0 .4 0 .4 0 .4 0 .4 0 .4-.1 .4 0 .4 0 .5 0 .4 0 .4 0 .4 0 .4 0 .4 0 .4-.1 .4 0 .5 0 .4 0 .4 0 .4 0 .4 0 .4 0 .4-.1 .5 0 .4 0 .4 0 .4 0 .4 0 .4 0 .4-.1 .4 0 .5 0 .4 0 .4 0 .4 0 .4 0 .4 0 .4-.1 .4 0 .5 0 .4 0 .4 0 .4 0 .4 0 .4-.1 .4 0 .4 0 .5 0 .4 0 .4 0 .4-.1 .4 0 .4 0 .4 0 .5 0 .4 0 .4 0 .4-.1 .4 0 .4 0 .4 0 .4 0 .5 0 .4 0 .4-.1 .4 0 .4 0 .4 0 .4 0 .4 0 .5 0 .4-.1 .4 0 .4 0 .4 0 .4 0 .4 0 .5-.1 .4 0 .4 0 .4 0 .4 0 .4 0 .4 0 .4-.1 .5 0 .4 0 .4 0 .4 0 .4 0 .4 0 .4-.1 .4 0 .5 0 .4 0 .4 0 .4 0 .4 0 .4-.1 .4 0 .5 0 .4 0 .4 0 .4 0 .4 0 .4 0 .4-.1 .4 0 .5 0 .4 0 .4 0 .4 0 .4 0 .4-.1 .4 0 .4 0 .5 0 .4 0 .4 0 .4 0 .4-.1 .4 0 .4 0 .5 0 .4 0 .4 0 .4 0 .4-.1 .4 0 .4 0 .4 0 .5 0 .4 0 .4 0 .4 0 .4-.1 .4 0 .4 0 .4 0 .5 0 .4 0 .4 0 .4-.1 .4 0 .4 0 .4 0 .5 0 .4 0 .4 0 .4-.1 .4 0 .4 0 .4 0 .4 0 .5 0 .4 0 .4-.1 .4 0 .4 0 .4 0 .4 0 .4 0 .5 0 .4 0 .4-.1 .4 0 .4 0 .4 0 .4 0 .5 0 .4 0 .4-.1 .4 0 .4 0 .4 0 .4 0 .4 0 .5 0 .4-.1 .4 0 .4 0 .4 0 .4 0 .4 0 .4 0 .5-.1 .4 0 .4 0 .4 0 .4 0 .4 0 .4 0 .5 0 .4-.1 .4 0 .4 0 .4 0 .4 0 .4 0 .4 0 .5-.1 .4 0 .4 0 .4 0 .4 0 .4 0 .4 0 .4-.1 .5 0 .4 0 .4 0 .4 0 .4 0 .4-.1 .4 0 .4 0 .5 0 .4 0 .4 0 .4 0 .4-.1 .4 0 .4 0 .5 0 .4 0 .4 0 .4 0 .4-.1 .4 0 .4 0 .4 0 .5 0 .4 0 .4 0 .4-.1 .4 0 .4 0 .4 0 .4 0 .5 0 .4 0 .4-.1 .4 0 .4 0 .4 0 .4 0 .5 0 .4 0 .4-.1 .4 0 .4 0 .4 0 .4 0 .4 0 .5 0 .4-.1 .4 0 .4 0 .4 0 .4 0 .4 0 .4 0 .5 0 .4-.1 .4 0 .4 0 .4 0 .4 0 .4 0 .5 0 .4 0 .4-.1 .4 0 .4 0 .4 0 .4 0 .4 0 .5 0 .4 0 .4 0 .4-.1 .4 0 .4 0 .4 0 .4 0 .5 0 .4 0 .4 0 .4 0 .4 0 .4-.1 .4 0 .5 0 .4 0 .4 0 .4 0 .4 0 .4 0 .4 0 .4 0 .5 0 .4-.1 .4 0 .4 0 .4 0 .4 0 .4 0 .4 0 .5 0 .4 0" fill="none" stroke="#efa735" stroke-width="3" stroke-linejoin="round" stroke-linecap="square"/>
<rect x="443.60" y="1161.87" width="277.8" height="111.5" fill="none" stroke="#333" stroke-width="1.2"/>
<text x="456.23" y="1303.77" class="xl">0%</text>
<text x="506.74" y="1303.77" class="xl">20%</text>
<text x="557.25" y="1303.77" class="xl">40%</text>
<text x="607.75" y="1303.77" class="xl">60%</text>
<text x="658.26" y="1303.77" class="xl">80%</text>
<text x="708.77" y="1303.77" class="xl">100%</text>
<text x="422.30" y="1231.55" class="yl">10</text>
<text x="422.30" y="1181.95" class="yl">20</text>
<path d="M456.23 1273.37V1283.77M506.74 1273.37V1283.77M557.25 1273.37V1283.77M607.75 1273.37V1283.77M658.26 1273.37V1283.77M708.77 1273.37V1283.77M432.60 1226.85H443.60M432.60 1177.25H443.60" stroke="#444" stroke-width="1.3"/></g>
<g><path d="M816.5 1269.3l.1-3.6 .1-3.6 0-3.5 .1-3 0-1.5 .1-1.7 .1-1.5 0-1.8 .1-1.2 .1-1.3 0-1.2 .1-1.3 0-.9 .1-1.4 .1-.8 0-.9 .1-.6 .1-.8 0-.7 .1-.6 .1-.7 0-1 .1-.8 0-.7 .1-.4 .1-.8 .1-.4 .1-.9 .1-.6 0-.4 .1-.4 .1-.8 .1-.4 .1-.6 .1-1 .1-.8 .1-.3 .1-.4 .1-.5 .1-.9 .1-.8 0-.6 .3-.8 0-.9 .2-.5 0-.6 .1-.7 .1-.3 .1-.4 .1-.3 .1-.7 0-.6 .1-.5 .1-.7 .3-.5 .1-.3 .2-.9 .1-.8 0-.7 .2-.3 .2-.6 .1-.4 .1-1 .1 .3 .1-.3 0 .3 .1-.7 .2-.5 .1-.5 .1-.6 .1-.4 .1-.6 .2-.5 .1-.4 .1-.5 .1-.6 .2-.5 .2-.5 .1-.5 .1-.4 .1-.3 .1-.4 .1-.3 .2-.5 .1-.5 0-.4 .1-.5 .1 .3 .1-.4 .1-.3 .1-.5 .2-1.1 .1-.3 .1 .6 0-.5 .1-.6 .2-.3 .1-.4 .1-.4 .1-.4 .1-.5 .1 .5 .1-.8 .1-1 .3-.4 .2-.8 .1 .4 .2-.6 0-.3 .1-.4 .1-.3 .1-.4 .1-.3 .2-.4 .1-.7 .3-.6 .1-.6 .3-.3 0-.5 .2-.7 .2-.5 .2-.5 .3-.5 .3-.5 .2-.4 .3-.8 .3-.7 .2-.7 .3-.5 .3-.8 .2-.7 .3-1.1 .3-.5 .2-.9 .3-.4 .3-.3 .2-.5 .3-.6 .3-.8 .5-.9 .3-.6 .2-.8 .3-.6 .3-.8 .2-.4 .6-.6 .2-.7 .3-.6 .5-.9 .6-.6 .5-.2 .5-.6 .6-.2 .5-.3 .5 .2 .3 .4 .5 .1 .6-.6 .5-.3 .5 .1 .3-.4 .5 .3 .3 .6 .5 .1 .6 .2 .5 0 .3 .3 .2 .7 .3 .4 .5-.1 .6 .6 .5 .3 .5 .4 .6-.2 .5 .5 .5-.1 .6 .5 .2 .5 .6 .4 .5 0 .5 .2 .3 .4 .3 .3 .5 0 .5 0 .6 .7 .5 .3 .5 .7 .3 .8 .5 .1 .3-.5 .3 .4 .2 .3 .3 .6 .5 .1 .6 .7 .5 .4 .5 .5 .6 .3 .5-.1 .5 .1 .3 .3 .3 .4 .2 .4 .6 .7 .5-.2 .3 .4 .2 1 .3 .3 .5 .3 .3 .5 .5 .1 .3-.3 .5 .1 .3 .9 .6 .5 .5 .3 .5 .1 .6 .4 .5 .1 .5 .2 .3 .5 .3 .4 .5-.1 .3 .3 .5 .7 .5 .2 .3 .4 .5 .2 .6 .4 .2 .5 .6 .3 .5 .2 .5 0 .6 .2 .5 .8 .5 .4 .6 .7 .5-.2 .3-.5 .2 .5 .6 .8 .2 .7 .3 .4 .5-.2 .6 .4 .5 .6 .3 .3 .2 .6 .3 .5 .5 0 .6 .4 .5 0 .5 .4 .3 .4 .5 .1 .6 1 .2 .6 .6 .1 .2 .4 .6 0 .5 .1 .3 .4 .5 .6 .5 .5 .6 .1 .5 .2 .5 .7 .3 .4 .5 .4 .6 .3 .2 .4 .6 .5 .5 .2 .5 .2 .3-.3 .3 .4 .2 .6 .3 .7 .3 .4 .5 .7 .5-.3 .6 0 .5 .5 .5 .5 .6 .6 .2 .3 .6 .5 .5 .2 .5-.2 .6 .4 .5 .1 .5 .4 .3 .4 .3 .5 .5-.1 .3-.3 .5 .2 .3 .3 .2 .5 .6 .6 .2 .3 .6 .2 .5 .3 .5 .3 .6 .8 .5-.2 .5 .2 .6 .3 .5 .4 .5-.3 .6 .5 .3 .4 .2 .3 .6 .1 .5 .1 .5-.2 .6 .5 .5-.1 .5 .3 .3 .8 .5 .5 .6 .1 .5 .3 .5 .2 .6 .3 .5 .1 .3-.3 .2 .3 .3 .7 .3 .6 .5 0 .5 .5 .6 .5 .5 .6 .5-.3 .3 .3 .5 .2 .6 .5 .5 .8 .3 .4 .5-.1 .5 .4 .3 .5 .5 0 .3 .4 .5 .7 .6 .9 .5-.4 .5 .1 .3 .6 .5 .2 .6 0 .5 .6 .5 .7 .6-.4 .5 .6 .3 .4 .5-.4 .5 .3 .3 .4 .5 .8 .6 .4 .2-.4 .6 .1 .5 .2 .5 .5 .6 .1 .5 .2 .3 .5 .2 .3 .6 .2 .5 .2 .5 .4 .6 .1 .2-.3 .6 .6 .5 0 .5 .5 .3 .3 .5 .5 .6 .1 .5 0 .5 .7 .3 .4 .5 .1 .6 .4 .5 .3 .5 .1 .6 .7 .5-.3 .5-.1 .6 .2 .5 .1 .3 .3 .2 .7 .3 .3 .5-.7 .6 .6 .2 .5 .6-.1 .5 .3 .3 .3 .5 .5 .6 .7 .5-.1 .5 .1 .6 .1 .5 .4 .5 .2 .6 .4 .5 .2 .5 .1 .6 .8 .2 .4 .6-.5 .5 .3 .3 .6 .5 0 .3-.5 .5 .2 .3 .5 .2 .5 .3 .3 .5 .6 .6-.1 .5-.1 .3 .6 .5 .3 .5 .4 .6-.1 .5-.1 .5 .1 .3 .4 .5 .5 .6 0 .5-.1 .5 .7 .3 .5 .5-.6 .6 0 .2 .6 .6 .4 .5 .1 .3-.5 .5 .3 .3 .4 .5 .5 .5 .4 .3-.3 .5-.4 .6 .2 .5 .1 .5 .5 .6 .6 .2 .3 .6-.2 .5 .7 .5 0 .6 .3 .5-.1 .3-.4 .5 .2 .3 .4 .2 .3 .3 .3 .3 .3 .5 .3 .5-.2 .6-.1 .5 .6 .3 .6 .5-.5 .3-.4 .2 .3 .3 .5 .3 .3 .5-.3 .5 .1 .6 0 .2 .4 .6 .7 .2-.4 .6 0 .2 .5 .6 .1 .5 .1 .5-.1 .3 .3 .5 .4 .6-.2 .5-.3 .3 .7 .2 .4 .3 .5 .5-.2 .6-.3 .2-.4 .6 .4 .5 .3 .5 .3 .3-.3 .6 .2 .5 .3 .5 .6 .6-.1 .5 .1 .5-.1 .6 .2 .5 .3 .5-.1 .6-.2 .2 .7 .6 .4 .5-.1 .5 .2 .6 .5 .5 0 .5-.3 .6 .3 .2 .5 .6-.2 .5 .4 .5-.2 .3 .3 .5 .2 .6-.1 .5-.2 .5-.2 .3 .5 .5 .2 .6 .8 .5 0 .5-.3 .6 .2 .5 .4 .5 0 .6-.1 .2 .5 .3 .5 .3 .5 .2-.6 .6-.4 .5 .2 .5 .7 .3-.4 .3-.3 .5 .3 .3 .4 .5 .2 .5-.2 .6 .1 .5 .1 .5 .1 .6 .1 .5 .2 .5 .4 .6-.1 .5 .2 .5 0 .6 .2 .5 .2 .5-.3 .6-.2 .2 .7 .6-.1 .5 .1 .5-.1 .6 .1 .5 .1 .3-.5 .2 .5 .6 .6 .5-.3 .5 .2 .3 .5 .5-.2 .6 .1 .5 0 .5 .1 .3 .4 .5-.3 .6 .1 .5 0 .5 .1 .6 .1 .5-.1 .3 .4 .5-.1 .5 .1 .6-.5 .5 .6 .6-.1 .2-.3 .6 .6 .5-.1 .5 .8 .6-.4 .5 .2 .3 .3 .5 .1 .5-.1 .6 0 .5-.1 .5-.1 .6 0 .2 .4 .6 .4 .5-.1 .5-.2 .6 .3 .5 .1 .5-.4 .6 0 .5-.3 .3 .6 .5 .4 .5-.1 .6-.2 .5-.2 .5 0 .6 0 .5 .5 .5 .6 .6-.6 .2-.6 .6 .2 .5 .6 .5-.1 .3 .4 .5-.3 .6 .3 .5 .3 .3-.4 .5 0 .5 .3 .6-.2 .5-.3 .5-.1 .3 .6 .5-.1 .3-.4 .5 .5 .6-.4 .5 .3 .5-.2 .6 .2 .2 .7 .3-.5 .5-.4 .3 .4 .5 .3 .6-.3" fill="none" stroke="#efa735" stroke-width="3" stroke-linejoin="round" stroke-linecap="square"/>
<rect x="991.90" y="1168.27" width="83.2" height="43.9" fill="#fff" fill-opacity="0.62"/>
<path d="M995.4 1189.6l.2-8.8 .3-3.5 .3-1.8 .2-.8 .3-.7 .2-.5 .3-.5 .2-.4 .3-.3 .2-.2 .3-.2 .2-.2 .3-.2 .3-.2 .2-.1 .3-.2 .2-.1 .3-.2 .2-.1 .3-.1 .2-.1 .3 0 .2-.1 .3 0 .2-.1 .3 0 .3 0 .2 .1 .3 0 .2 0 .3 0 .2 0 .3 0 .2 0 .3 0 .2 .1 .3 0 .2 0 .3 0 .3 0 .2 0 .3 .1 .2 0 .3 0 .2 0 .3 .1 .2 0 .3 0 .2 0 .3 0 .3 .1 .2 0 .3 0 .2 0 .3 0 .2 .1 .3 0 .2 0 .3 0 .2 .1 .3 0 .2 0 .3 0 .3 .1 .2 0 .3 0 .2 .1 .3 0 .2 0 .3 0 .2 .1 .3 0 .2 0 .3 .1 .2 0 .3 0 .3 .1 .2 0 .3 0 .2 .1 .3 0 .2 0 .3 .1 .2 0 .3 0 .2 .1 .3 0 .3 .1 .2 0 .3 0 .2 .1 .3 0 .2 0 .3 .1 .2 0 .3 .1 .2 0 .3 0 .2 .1 .3 0 .3 .1 .2 0 .3 0 .2 .1 .3 0 .2 .1 .3 0 .2 0 .3 .1 .2 0 .3 .1 .2 0 .3 .1 .3 0 .2 0 .3 .1 .2 0 .3 .1 .2 0 .3 .1 .2 0 .3 .1 .2 0 .3 0 .3 .1 .2 0 .3 .1 .2 0 .3 .1 .2 0 .3 .1 .2 0 .3 .1 .2 0 .3 .1 .2 .1 .3 0 .3 .1 .2 0 .3 .1 .2 0 .3 .1 .2 0 .3 .1 .2 .1 .3 0 .2 .1 .3 0 .2 .1 .3 .1 .3 0 .2 .1 .3 0 .2 .1 .3 .1 .2 0 .3 .1 .2 .1 .3 0 .2 .1 .3 0 .3 .1 .2 .1 .3 0 .2 .1 .3 .1 .2 0 .3 .1 .2 .1 .3 0 .2 .1 .3 .1 .2 0 .3 .1 .3 .1 .2 0 .3 .1 .2 .1 .3 .1 .2 0 .3 .1 .2 .1 .3 0 .2 .1 .3 .1 .2 .1 .3 0 .3 .1 .2 .1 .3 0 .2 .1 .3 .1 .2 .1 .3 0 .2 .1 .3 .1 .2 .1 .3 0 .3 .1 .2 .1 .3 .1 .2 .1 .3 0 .2 .1 .3 .1 .2 .1 .3 .1 .2 .1 .3 0 .2 .1 .3 .1 .3 .1 .2 .1 .3 .1 .2 0 .3 .1 .2 .1 .3 .1 .2 .1 .3 .1 .2 .1 .3 .1 .2 .1 .3 .1 .3 0 .2 .1 .3 .1 .2 .1 .3 .1 .2 .1 .3 .1 .2 .1 .3 .1 .2 .1 .3 .1 .3 .1 .2 .1 .3 .1 .2 .1 .3 .1 .2 .1 .3 .1 .2 .1 .3 .1 .2 .1 .3 .1 .2 .1 .3 .1 .3 .2 .2 .1 .3 .1 .2 .1 .3 .1 .2 .1 .3 .1 .2 .1 .3 .1 .2 .1 .3 .1 .2 .1 .3 .2 .3 .1 .2 .1 .3 .1 .2 .1 .3 .2 .2 .1 .3 .2 .2 .1 .3 .1 .2 .2 .3 .1 .3 .2 .2 .2 .3 .1 .2 .2 .3 .2 .2 .2 .3 .2 .2 .2 .3 .1 .2 .2 .3 .2 .2 .3 .3 .2 .3 .3 .2 .3 .3 .3 .2 .3 .3 .4 .2 .4 .3 .5 .2 .5 .3 .6 .2 .7 .3 1.2 .2 1.8 .3 3.5 .3 13.5" fill="none" stroke="#000" stroke-width="1.0" stroke-linejoin="round"/>
<text x="980.10" y="1181.21" class="il">10⁻¹</text>
<text x="980.10" y="1198.33" class="il">10⁻²</text>
<path d="M981.40 1179.11H991.90M981.40 1196.23H991.90" stroke="#000" stroke-width="1.15"/>
<rect x="991.90" y="1168.27" width="83.2" height="43.9" fill="none" stroke="#000" stroke-width="1.1"/>
<rect x="803.90" y="1161.87" width="277.8" height="111.5" fill="none" stroke="#333" stroke-width="1.2"/>
<text x="816.53" y="1303.77" class="xl">0%</text>
<text x="867.04" y="1303.77" class="xl">20%</text>
<text x="917.55" y="1303.77" class="xl">40%</text>
<text x="968.05" y="1303.77" class="xl">60%</text>
<text x="1018.56" y="1303.77" class="xl">80%</text>
<text x="1069.07" y="1303.77" class="xl">100%</text>
<text x="782.60" y="1273.00" class="yl">0.0</text>
<text x="782.60" y="1222.32" class="yl">0.5</text>
<text x="782.60" y="1171.64" class="yl">1.0</text>
<path d="M816.53 1273.37V1283.77M867.04 1273.37V1283.77M917.55 1273.37V1283.77M968.05 1273.37V1283.77M1018.56 1273.37V1283.77M1069.07 1273.37V1283.77M792.90 1268.30H803.90M792.90 1217.62H803.90M792.90 1166.94H803.90" stroke="#444" stroke-width="1.3"/></g>
</svg>
<div class="cap" id="c1" style="top:1321.9px;word-spacing:0.85px">Figure 3: Gradient Norm sequences and the resulting Refined schedules, generated using an initial</div>
<div class="cap" id="c2" style="top:1350.4px">linear decay schedule with warmup for the initial run. Log scale views are inset for scale reference.</div>
</body></html>
